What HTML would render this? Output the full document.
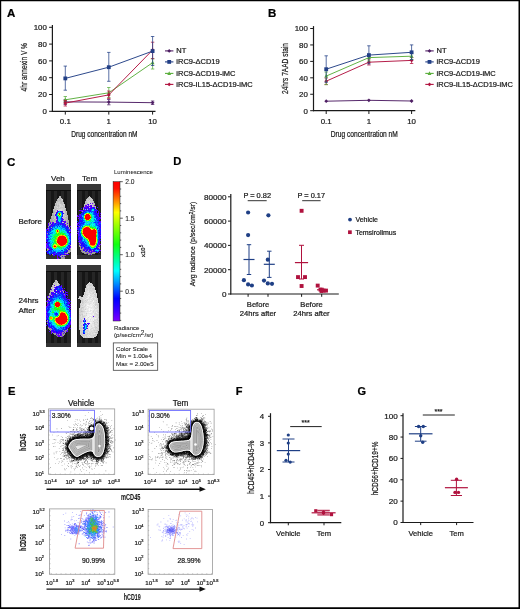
<!DOCTYPE html>
<html><head><meta charset="utf-8"><style>
html,body{margin:0;padding:0;background:#fff;}
svg{display:block;font-family:"Liberation Sans", sans-serif;will-change:transform;}
</style></head><body>
<svg width="520" height="609" viewBox="0 0 520 609">
<defs>
<filter id="bl1" x="-50%" y="-50%" width="200%" height="200%"><feGaussianBlur stdDeviation="0.7"/></filter>
<filter id="bl2" x="-50%" y="-50%" width="200%" height="200%"><feGaussianBlur stdDeviation="1.2"/></filter>
<linearGradient id="cbar" x1="0" y1="0" x2="0" y2="1">
 <stop offset="0" stop-color="#ff0000"/>
 <stop offset="0.05" stop-color="#ff1000"/>
 <stop offset="0.12" stop-color="#ff7000"/>
 <stop offset="0.22" stop-color="#ffff00"/>
 <stop offset="0.31" stop-color="#a0ff00"/>
 <stop offset="0.45" stop-color="#10ff10"/>
 <stop offset="0.55" stop-color="#00ff90"/>
 <stop offset="0.64" stop-color="#00ffff"/>
 <stop offset="0.73" stop-color="#0090ff"/>
 <stop offset="0.84" stop-color="#0000ff"/>
 <stop offset="0.93" stop-color="#4000ff"/>
 <stop offset="1" stop-color="#8000ff"/>
</linearGradient>
<linearGradient id="mgray" x1="0" y1="0" x2="1" y2="0">
 <stop offset="0" stop-color="#9a9a9a"/><stop offset="0.5" stop-color="#d0d0d0"/><stop offset="1" stop-color="#a0a0a0"/>
</linearGradient>
<filter id="mblur" x="-5%" y="-5%" width="110%" height="110%"><feGaussianBlur stdDeviation="0.45"/></filter><filter id="bl3" x="-30%" y="-30%" width="160%" height="160%"><feGaussianBlur stdDeviation="1.3"/></filter></defs>
<rect width="520" height="609" fill="#fff"/>
<text x="7.00" y="17.00" font-size="11.5" text-anchor="start" fill="#000" stroke="#000" stroke-width="0.22" font-weight="bold" >A</text>
<line x1="52.40" y1="24.90" x2="52.40" y2="111.80" stroke="#1a1a1a" stroke-width="1.2"/>
<line x1="51.80" y1="111.30" x2="155.50" y2="111.30" stroke="#1a1a1a" stroke-width="1.2"/>
<line x1="49.10" y1="111.30" x2="52.40" y2="111.30" stroke="#1a1a1a" stroke-width="1"/>
<text x="46.80" y="114.10" font-size="7.9" text-anchor="end" fill="#1a1a1a" stroke="#1a1a1a" stroke-width="0.22" >0</text>
<line x1="49.10" y1="94.50" x2="52.40" y2="94.50" stroke="#1a1a1a" stroke-width="1"/>
<text x="46.80" y="97.30" font-size="7.9" text-anchor="end" fill="#1a1a1a" stroke="#1a1a1a" stroke-width="0.22" >20</text>
<line x1="49.10" y1="77.70" x2="52.40" y2="77.70" stroke="#1a1a1a" stroke-width="1"/>
<text x="46.80" y="80.50" font-size="7.9" text-anchor="end" fill="#1a1a1a" stroke="#1a1a1a" stroke-width="0.22" >40</text>
<line x1="49.10" y1="60.90" x2="52.40" y2="60.90" stroke="#1a1a1a" stroke-width="1"/>
<text x="46.80" y="63.70" font-size="7.9" text-anchor="end" fill="#1a1a1a" stroke="#1a1a1a" stroke-width="0.22" >60</text>
<line x1="49.10" y1="44.10" x2="52.40" y2="44.10" stroke="#1a1a1a" stroke-width="1"/>
<text x="46.80" y="46.90" font-size="7.9" text-anchor="end" fill="#1a1a1a" stroke="#1a1a1a" stroke-width="0.22" >80</text>
<line x1="49.10" y1="27.30" x2="52.40" y2="27.30" stroke="#1a1a1a" stroke-width="1"/>
<text x="46.80" y="30.10" font-size="7.9" text-anchor="end" fill="#1a1a1a" stroke="#1a1a1a" stroke-width="0.22" >100</text>
<line x1="65.30" y1="111.30" x2="65.30" y2="114.60" stroke="#1a1a1a" stroke-width="1"/>
<text x="65.30" y="124.30" font-size="7.9" text-anchor="middle" fill="#1a1a1a" stroke="#1a1a1a" stroke-width="0.22" >0.1</text>
<line x1="108.80" y1="111.30" x2="108.80" y2="114.60" stroke="#1a1a1a" stroke-width="1"/>
<text x="108.80" y="124.30" font-size="7.9" text-anchor="middle" fill="#1a1a1a" stroke="#1a1a1a" stroke-width="0.22" >1</text>
<line x1="152.60" y1="111.30" x2="152.60" y2="114.60" stroke="#1a1a1a" stroke-width="1"/>
<text x="152.60" y="124.30" font-size="7.9" text-anchor="middle" fill="#1a1a1a" stroke="#1a1a1a" stroke-width="0.22" >10</text>
<text x="71.30" y="137.10" font-size="8.4" text-anchor="start" fill="#1a1a1a" stroke="#1a1a1a" stroke-width="0.22" textLength="66.2" lengthAdjust="spacingAndGlyphs" >Drug concentration nM</text>
<text x="26.70" y="91.40" font-size="9.0" text-anchor="start" fill="#1a1a1a" stroke="#1a1a1a" stroke-width="0.22" textLength="48.4" lengthAdjust="spacingAndGlyphs" transform="rotate(-90 26.70 91.40)" >4hr annexin V %</text>
<line x1="65.30" y1="99.50" x2="65.30" y2="104.50" stroke="#4e1e64" stroke-width="0.75"/>
<line x1="63.60" y1="99.50" x2="67.00" y2="99.50" stroke="#4e1e64" stroke-width="0.75"/>
<line x1="63.60" y1="104.50" x2="67.00" y2="104.50" stroke="#4e1e64" stroke-width="0.75"/>
<line x1="108.80" y1="99.50" x2="108.80" y2="104.80" stroke="#4e1e64" stroke-width="0.75"/>
<line x1="107.10" y1="99.50" x2="110.50" y2="99.50" stroke="#4e1e64" stroke-width="0.75"/>
<line x1="107.10" y1="104.80" x2="110.50" y2="104.80" stroke="#4e1e64" stroke-width="0.75"/>
<line x1="152.60" y1="101.00" x2="152.60" y2="104.50" stroke="#4e1e64" stroke-width="0.75"/>
<line x1="150.90" y1="101.00" x2="154.30" y2="101.00" stroke="#4e1e64" stroke-width="0.75"/>
<line x1="150.90" y1="104.50" x2="154.30" y2="104.50" stroke="#4e1e64" stroke-width="0.75"/>
<polyline points="65.30,101.90 108.80,102.10 152.60,102.70" stroke="#4e1e64" stroke-width="0.95" fill="none" />
<polygon points="65.30,100.00 67.20,101.90 65.30,103.80 63.40,101.90" fill="#4e1e64"/>
<polygon points="108.80,100.20 110.70,102.10 108.80,104.00 106.90,102.10" fill="#4e1e64"/>
<polygon points="152.60,100.80 154.50,102.70 152.60,104.60 150.70,102.70" fill="#4e1e64"/>
<line x1="65.30" y1="96.50" x2="65.30" y2="103.00" stroke="#5aae3c" stroke-width="0.75"/>
<line x1="63.60" y1="96.50" x2="67.00" y2="96.50" stroke="#5aae3c" stroke-width="0.75"/>
<line x1="63.60" y1="103.00" x2="67.00" y2="103.00" stroke="#5aae3c" stroke-width="0.75"/>
<line x1="108.80" y1="87.50" x2="108.80" y2="97.50" stroke="#5aae3c" stroke-width="0.75"/>
<line x1="107.10" y1="87.50" x2="110.50" y2="87.50" stroke="#5aae3c" stroke-width="0.75"/>
<line x1="107.10" y1="97.50" x2="110.50" y2="97.50" stroke="#5aae3c" stroke-width="0.75"/>
<line x1="152.60" y1="58.70" x2="152.60" y2="69.00" stroke="#5aae3c" stroke-width="0.75"/>
<line x1="150.90" y1="58.70" x2="154.30" y2="58.70" stroke="#5aae3c" stroke-width="0.75"/>
<line x1="150.90" y1="69.00" x2="154.30" y2="69.00" stroke="#5aae3c" stroke-width="0.75"/>
<polyline points="65.30,99.80 108.80,92.80 152.60,62.70" stroke="#5aae3c" stroke-width="0.95" fill="none" />
<polygon points="65.30,97.71 67.20,101.32 63.40,101.32" fill="#5aae3c"/>
<polygon points="108.80,90.71 110.70,94.32 106.90,94.32" fill="#5aae3c"/>
<polygon points="152.60,60.61 154.50,64.22 150.70,64.22" fill="#5aae3c"/>
<line x1="65.30" y1="100.50" x2="65.30" y2="106.00" stroke="#b1123f" stroke-width="0.75"/>
<line x1="63.60" y1="100.50" x2="67.00" y2="100.50" stroke="#b1123f" stroke-width="0.75"/>
<line x1="63.60" y1="106.00" x2="67.00" y2="106.00" stroke="#b1123f" stroke-width="0.75"/>
<line x1="108.80" y1="91.00" x2="108.80" y2="98.50" stroke="#b1123f" stroke-width="0.75"/>
<line x1="107.10" y1="91.00" x2="110.50" y2="91.00" stroke="#b1123f" stroke-width="0.75"/>
<line x1="107.10" y1="98.50" x2="110.50" y2="98.50" stroke="#b1123f" stroke-width="0.75"/>
<line x1="152.60" y1="42.20" x2="152.60" y2="58.70" stroke="#b1123f" stroke-width="0.75"/>
<line x1="150.90" y1="42.20" x2="154.30" y2="42.20" stroke="#b1123f" stroke-width="0.75"/>
<line x1="150.90" y1="58.70" x2="154.30" y2="58.70" stroke="#b1123f" stroke-width="0.75"/>
<polyline points="65.30,103.10 108.80,94.90 152.60,50.00" stroke="#b1123f" stroke-width="0.95" fill="none" />
<polygon points="65.30,101.20 67.20,103.10 65.30,105.00 63.40,103.10" fill="#b1123f"/>
<polygon points="108.80,93.00 110.70,94.90 108.80,96.80 106.90,94.90" fill="#b1123f"/>
<polygon points="152.60,48.10 154.50,50.00 152.60,51.90 150.70,50.00" fill="#b1123f"/>
<line x1="65.30" y1="66.10" x2="65.30" y2="90.20" stroke="#223f86" stroke-width="0.75"/>
<line x1="63.60" y1="66.10" x2="67.00" y2="66.10" stroke="#223f86" stroke-width="0.75"/>
<line x1="63.60" y1="90.20" x2="67.00" y2="90.20" stroke="#223f86" stroke-width="0.75"/>
<line x1="108.80" y1="52.40" x2="108.80" y2="81.30" stroke="#223f86" stroke-width="0.75"/>
<line x1="107.10" y1="52.40" x2="110.50" y2="52.40" stroke="#223f86" stroke-width="0.75"/>
<line x1="107.10" y1="81.30" x2="110.50" y2="81.30" stroke="#223f86" stroke-width="0.75"/>
<line x1="152.60" y1="36.50" x2="152.60" y2="65.50" stroke="#223f86" stroke-width="0.75"/>
<line x1="150.90" y1="36.50" x2="154.30" y2="36.50" stroke="#223f86" stroke-width="0.75"/>
<line x1="150.90" y1="65.50" x2="154.30" y2="65.50" stroke="#223f86" stroke-width="0.75"/>
<polyline points="65.30,78.40 108.80,67.20 152.60,51.10" stroke="#223f86" stroke-width="0.95" fill="none" />
<rect x="63.40" y="76.50" width="3.80" height="3.80" fill="#223f86"/>
<rect x="106.90" y="65.30" width="3.80" height="3.80" fill="#223f86"/>
<rect x="150.70" y="49.20" width="3.80" height="3.80" fill="#223f86"/>
<line x1="165.00" y1="50.90" x2="173.40" y2="50.90" stroke="#4e1e64" stroke-width="1.1"/>
<polygon points="169.20,49.00 171.10,50.90 169.20,52.80 167.30,50.90" fill="#4e1e64"/>
<text x="176.30" y="53.10" font-size="7.5" text-anchor="start" fill="#1a1a1a" stroke="#1a1a1a" stroke-width="0.22" >NT</text>
<line x1="165.00" y1="61.90" x2="173.40" y2="61.90" stroke="#223f86" stroke-width="1.1"/>
<rect x="167.30" y="60.00" width="3.80" height="3.80" fill="#223f86"/>
<text x="176.30" y="64.10" font-size="7.5" text-anchor="start" fill="#1a1a1a" stroke="#1a1a1a" stroke-width="0.22" >iRC9-ΔCD19</text>
<line x1="165.00" y1="73.40" x2="173.40" y2="73.40" stroke="#5aae3c" stroke-width="1.1"/>
<polygon points="169.20,71.31 171.10,74.92 167.30,74.92" fill="#5aae3c"/>
<text x="176.30" y="75.60" font-size="7.5" text-anchor="start" fill="#1a1a1a" stroke="#1a1a1a" stroke-width="0.22" >iRC9-ΔCD19-iMC</text>
<line x1="165.00" y1="84.40" x2="173.40" y2="84.40" stroke="#b1123f" stroke-width="1.1"/>
<polygon points="169.20,82.50 171.10,84.40 169.20,86.30 167.30,84.40" fill="#b1123f"/>
<text x="176.30" y="86.60" font-size="7.5" text-anchor="start" fill="#1a1a1a" stroke="#1a1a1a" stroke-width="0.22" >iRC9-IL15-ΔCD19-iMC</text>
<text x="267.90" y="17.00" font-size="11.5" text-anchor="start" fill="#000" stroke="#000" stroke-width="0.22" font-weight="bold" >B</text>
<line x1="313.50" y1="26.10" x2="313.50" y2="111.20" stroke="#1a1a1a" stroke-width="1.2"/>
<line x1="312.90" y1="110.70" x2="415.30" y2="110.70" stroke="#1a1a1a" stroke-width="1.2"/>
<line x1="310.20" y1="110.70" x2="313.50" y2="110.70" stroke="#1a1a1a" stroke-width="1"/>
<text x="307.90" y="113.50" font-size="7.9" text-anchor="end" fill="#1a1a1a" stroke="#1a1a1a" stroke-width="0.22" >0</text>
<line x1="310.20" y1="94.26" x2="313.50" y2="94.26" stroke="#1a1a1a" stroke-width="1"/>
<text x="307.90" y="97.06" font-size="7.9" text-anchor="end" fill="#1a1a1a" stroke="#1a1a1a" stroke-width="0.22" >20</text>
<line x1="310.20" y1="77.82" x2="313.50" y2="77.82" stroke="#1a1a1a" stroke-width="1"/>
<text x="307.90" y="80.62" font-size="7.9" text-anchor="end" fill="#1a1a1a" stroke="#1a1a1a" stroke-width="0.22" >40</text>
<line x1="310.20" y1="61.38" x2="313.50" y2="61.38" stroke="#1a1a1a" stroke-width="1"/>
<text x="307.90" y="64.18" font-size="7.9" text-anchor="end" fill="#1a1a1a" stroke="#1a1a1a" stroke-width="0.22" >60</text>
<line x1="310.20" y1="44.94" x2="313.50" y2="44.94" stroke="#1a1a1a" stroke-width="1"/>
<text x="307.90" y="47.74" font-size="7.9" text-anchor="end" fill="#1a1a1a" stroke="#1a1a1a" stroke-width="0.22" >80</text>
<line x1="310.20" y1="28.50" x2="313.50" y2="28.50" stroke="#1a1a1a" stroke-width="1"/>
<text x="307.90" y="31.30" font-size="7.9" text-anchor="end" fill="#1a1a1a" stroke="#1a1a1a" stroke-width="0.22" >100</text>
<line x1="326.20" y1="110.70" x2="326.20" y2="114.00" stroke="#1a1a1a" stroke-width="1"/>
<text x="326.20" y="123.70" font-size="7.9" text-anchor="middle" fill="#1a1a1a" stroke="#1a1a1a" stroke-width="0.22" >0.1</text>
<line x1="368.90" y1="110.70" x2="368.90" y2="114.00" stroke="#1a1a1a" stroke-width="1"/>
<text x="368.90" y="123.70" font-size="7.9" text-anchor="middle" fill="#1a1a1a" stroke="#1a1a1a" stroke-width="0.22" >1</text>
<line x1="411.60" y1="110.70" x2="411.60" y2="114.00" stroke="#1a1a1a" stroke-width="1"/>
<text x="411.60" y="123.70" font-size="7.9" text-anchor="middle" fill="#1a1a1a" stroke="#1a1a1a" stroke-width="0.22" >10</text>
<text x="330.80" y="136.50" font-size="8.4" text-anchor="start" fill="#1a1a1a" stroke="#1a1a1a" stroke-width="0.22" textLength="67.0" lengthAdjust="spacingAndGlyphs" >Drug concentration nM</text>
<text x="288.30" y="94.00" font-size="9.6" text-anchor="start" fill="#1a1a1a" stroke="#1a1a1a" stroke-width="0.22" textLength="51" lengthAdjust="spacingAndGlyphs" transform="rotate(-90 288.30 94.00)" >24hrs 7AAD stain</text>
<polyline points="326.20,101.20 368.90,100.30 411.60,101.00" stroke="#4e1e64" stroke-width="0.95" fill="none" />
<polygon points="326.20,99.30 328.10,101.20 326.20,103.10 324.30,101.20" fill="#4e1e64"/>
<polygon points="368.90,98.40 370.80,100.30 368.90,102.20 367.00,100.30" fill="#4e1e64"/>
<polygon points="411.60,99.10 413.50,101.00 411.60,102.90 409.70,101.00" fill="#4e1e64"/>
<line x1="326.20" y1="78.00" x2="326.20" y2="84.60" stroke="#b1123f" stroke-width="0.75"/>
<line x1="324.50" y1="78.00" x2="327.90" y2="78.00" stroke="#b1123f" stroke-width="0.75"/>
<line x1="324.50" y1="84.60" x2="327.90" y2="84.60" stroke="#b1123f" stroke-width="0.75"/>
<line x1="368.90" y1="59.00" x2="368.90" y2="65.00" stroke="#b1123f" stroke-width="0.75"/>
<line x1="367.20" y1="59.00" x2="370.60" y2="59.00" stroke="#b1123f" stroke-width="0.75"/>
<line x1="367.20" y1="65.00" x2="370.60" y2="65.00" stroke="#b1123f" stroke-width="0.75"/>
<line x1="411.60" y1="57.50" x2="411.60" y2="63.50" stroke="#b1123f" stroke-width="0.75"/>
<line x1="409.90" y1="57.50" x2="413.30" y2="57.50" stroke="#b1123f" stroke-width="0.75"/>
<line x1="409.90" y1="63.50" x2="413.30" y2="63.50" stroke="#b1123f" stroke-width="0.75"/>
<polyline points="326.20,81.20 368.90,62.20 411.60,60.40" stroke="#b1123f" stroke-width="0.95" fill="none" />
<polygon points="326.20,79.30 328.10,81.20 326.20,83.10 324.30,81.20" fill="#b1123f"/>
<polygon points="368.90,60.30 370.80,62.20 368.90,64.10 367.00,62.20" fill="#b1123f"/>
<polygon points="411.60,58.50 413.50,60.40 411.60,62.30 409.70,60.40" fill="#b1123f"/>
<line x1="326.20" y1="72.00" x2="326.20" y2="84.60" stroke="#5aae3c" stroke-width="0.75"/>
<line x1="324.50" y1="72.00" x2="327.90" y2="72.00" stroke="#5aae3c" stroke-width="0.75"/>
<line x1="324.50" y1="84.60" x2="327.90" y2="84.60" stroke="#5aae3c" stroke-width="0.75"/>
<line x1="368.90" y1="54.50" x2="368.90" y2="61.00" stroke="#5aae3c" stroke-width="0.75"/>
<line x1="367.20" y1="54.50" x2="370.60" y2="54.50" stroke="#5aae3c" stroke-width="0.75"/>
<line x1="367.20" y1="61.00" x2="370.60" y2="61.00" stroke="#5aae3c" stroke-width="0.75"/>
<line x1="411.60" y1="53.00" x2="411.60" y2="59.50" stroke="#5aae3c" stroke-width="0.75"/>
<line x1="409.90" y1="53.00" x2="413.30" y2="53.00" stroke="#5aae3c" stroke-width="0.75"/>
<line x1="409.90" y1="59.50" x2="413.30" y2="59.50" stroke="#5aae3c" stroke-width="0.75"/>
<polyline points="326.20,76.10 368.90,57.60 411.60,56.20" stroke="#5aae3c" stroke-width="0.95" fill="none" />
<polygon points="326.20,74.01 328.10,77.62 324.30,77.62" fill="#5aae3c"/>
<polygon points="368.90,55.51 370.80,59.12 367.00,59.12" fill="#5aae3c"/>
<polygon points="411.60,54.11 413.50,57.72 409.70,57.72" fill="#5aae3c"/>
<line x1="326.20" y1="55.80" x2="326.20" y2="82.30" stroke="#223f86" stroke-width="0.75"/>
<line x1="324.50" y1="55.80" x2="327.90" y2="55.80" stroke="#223f86" stroke-width="0.75"/>
<line x1="324.50" y1="82.30" x2="327.90" y2="82.30" stroke="#223f86" stroke-width="0.75"/>
<line x1="368.90" y1="45.80" x2="368.90" y2="63.80" stroke="#223f86" stroke-width="0.75"/>
<line x1="367.20" y1="45.80" x2="370.60" y2="45.80" stroke="#223f86" stroke-width="0.75"/>
<line x1="367.20" y1="63.80" x2="370.60" y2="63.80" stroke="#223f86" stroke-width="0.75"/>
<line x1="411.60" y1="44.90" x2="411.60" y2="59.70" stroke="#223f86" stroke-width="0.75"/>
<line x1="409.90" y1="44.90" x2="413.30" y2="44.90" stroke="#223f86" stroke-width="0.75"/>
<line x1="409.90" y1="59.70" x2="413.30" y2="59.70" stroke="#223f86" stroke-width="0.75"/>
<polyline points="326.20,69.20 368.90,55.10 411.60,52.30" stroke="#223f86" stroke-width="0.95" fill="none" />
<rect x="324.30" y="67.30" width="3.80" height="3.80" fill="#223f86"/>
<rect x="367.00" y="53.20" width="3.80" height="3.80" fill="#223f86"/>
<rect x="409.70" y="50.40" width="3.80" height="3.80" fill="#223f86"/>
<line x1="425.30" y1="50.90" x2="433.70" y2="50.90" stroke="#4e1e64" stroke-width="1.1"/>
<polygon points="429.50,49.00 431.40,50.90 429.50,52.80 427.60,50.90" fill="#4e1e64"/>
<text x="436.60" y="53.10" font-size="7.5" text-anchor="start" fill="#1a1a1a" stroke="#1a1a1a" stroke-width="0.22" >NT</text>
<line x1="425.30" y1="61.90" x2="433.70" y2="61.90" stroke="#223f86" stroke-width="1.1"/>
<rect x="427.60" y="60.00" width="3.80" height="3.80" fill="#223f86"/>
<text x="436.60" y="64.10" font-size="7.5" text-anchor="start" fill="#1a1a1a" stroke="#1a1a1a" stroke-width="0.22" >iRC9-ΔCD19</text>
<line x1="425.30" y1="73.40" x2="433.70" y2="73.40" stroke="#5aae3c" stroke-width="1.1"/>
<polygon points="429.50,71.31 431.40,74.92 427.60,74.92" fill="#5aae3c"/>
<text x="436.60" y="75.60" font-size="7.5" text-anchor="start" fill="#1a1a1a" stroke="#1a1a1a" stroke-width="0.22" >iRC9-ΔCD19-iMC</text>
<line x1="425.30" y1="84.40" x2="433.70" y2="84.40" stroke="#b1123f" stroke-width="1.1"/>
<polygon points="429.50,82.50 431.40,84.40 429.50,86.30 427.60,84.40" fill="#b1123f"/>
<text x="436.60" y="86.60" font-size="7.5" text-anchor="start" fill="#1a1a1a" stroke="#1a1a1a" stroke-width="0.22" >iRC9-IL15-ΔCD19-iMC</text>
<path d="M0,0H520V609H0Z M1.2,1.2V607.2H518.5V1.2Z" fill="#000" fill-rule="evenodd"/>
<text x="7.00" y="166.20" font-size="11.5" text-anchor="start" fill="#000" stroke="#000" stroke-width="0.22" font-weight="bold" >C</text>
<text x="57.90" y="181.20" font-size="8" text-anchor="middle" fill="#1a1a1a" stroke="#1a1a1a" stroke-width="0.22" >Veh</text>
<text x="89.60" y="181.20" font-size="8" text-anchor="middle" fill="#1a1a1a" stroke="#1a1a1a" stroke-width="0.22" >Tem</text>
<text x="18.40" y="224.00" font-size="8" text-anchor="start" fill="#1a1a1a" stroke="#1a1a1a" stroke-width="0.22" >Before</text>
<text x="18.60" y="303.10" font-size="8" text-anchor="start" fill="#1a1a1a" stroke="#1a1a1a" stroke-width="0.22" >24hrs</text>
<text x="18.40" y="312.70" font-size="8" text-anchor="start" fill="#1a1a1a" stroke="#1a1a1a" stroke-width="0.22" >After</text>
<g filter="url(#mblur)" shape-rendering="crispEdges">
<path fill="#383838" d="M46,184h25v1h-25zM46,185h25v1h-25zM46,186h25v1h-25zM46,187h25v1h-25zM46,188h25v1h-25zM46,189h25v1h-25z"/>
<path fill="#101010" d="M46,190h25v1h-25z"/>
<path fill="#181818" d="M46,191h1v1h-1zM51,191h3v1h-3zM57,191h4v1h-4zM64,191h3v1h-3zM46,192h1v1h-1zM51,192h3v1h-3zM57,192h4v1h-4zM64,192h3v1h-3zM46,193h1v1h-1zM51,193h3v1h-3zM57,193h4v1h-4zM64,193h3v1h-3zM46,194h1v1h-1zM51,194h3v1h-3zM57,194h4v1h-4zM64,194h3v1h-3zM46,195h1v1h-1zM51,195h3v1h-3zM57,195h4v1h-4zM64,195h3v1h-3zM46,196h1v1h-1zM51,196h3v1h-3zM57,196h2v1h-2zM64,196h3v1h-3zM46,197h1v1h-1zM51,197h3v1h-3zM57,197h2v1h-2zM64,197h3v1h-3zM46,198h1v1h-1zM51,198h3v1h-3zM57,198h1v1h-1zM64,198h3v1h-3zM46,199h1v1h-1zM51,199h3v1h-3zM64,199h3v1h-3zM46,200h1v1h-1zM51,200h3v1h-3zM64,200h3v1h-3zM46,201h1v1h-1zM51,201h3v1h-3zM64,201h3v1h-3zM46,202h1v1h-1zM51,202h3v1h-3zM64,202h3v1h-3zM46,203h1v1h-1zM51,203h3v1h-3zM64,203h3v1h-3zM46,204h1v1h-1zM51,204h3v1h-3zM65,204h2v1h-2zM46,205h1v1h-1zM51,205h3v1h-3zM65,205h2v1h-2zM46,206h1v1h-1zM51,206h3v1h-3zM65,206h2v1h-2zM46,207h1v1h-1zM51,207h3v1h-3zM65,207h2v1h-2zM46,208h1v1h-1zM51,208h3v1h-3zM66,208h1v1h-1zM46,209h1v1h-1zM51,209h2v1h-2zM66,209h1v1h-1zM46,210h1v1h-1zM51,210h2v1h-2zM66,210h1v1h-1zM46,211h1v1h-1zM51,211h2v1h-2zM46,212h1v1h-1zM51,212h2v1h-2zM46,213h1v1h-1zM51,213h1v1h-1zM46,214h1v1h-1zM51,214h1v1h-1zM46,215h1v1h-1zM51,215h1v1h-1zM46,216h1v1h-1zM46,217h1v1h-1zM46,218h1v1h-1zM46,219h1v1h-1zM46,220h1v1h-1zM46,221h1v1h-1zM46,222h1v1h-1zM46,223h1v1h-1zM46,224h1v1h-1zM46,225h1v1h-1zM46,226h1v1h-1zM46,227h1v1h-1zM46,228h1v1h-1zM46,242h1v1h-1zM46,249h1v1h-1zM46,250h1v1h-1zM46,252h1v1h-1zM46,253h1v1h-1zM46,254h1v1h-1zM51,254h1v1h-1z"/>
<path fill="#282828" d="M47,191h4v1h-4zM54,191h3v1h-3zM61,191h3v1h-3zM67,191h4v1h-4zM47,192h4v1h-4zM54,192h3v1h-3zM61,192h3v1h-3zM67,192h4v1h-4zM47,193h4v1h-4zM54,193h3v1h-3zM61,193h3v1h-3zM67,193h4v1h-4zM47,194h4v1h-4zM54,194h3v1h-3zM61,194h3v1h-3zM67,194h4v1h-4zM47,195h4v1h-4zM54,195h3v1h-3zM61,195h3v1h-3zM67,195h4v1h-4zM47,196h4v1h-4zM54,196h3v1h-3zM61,196h3v1h-3zM67,196h4v1h-4zM47,197h4v1h-4zM54,197h3v1h-3zM61,197h3v1h-3zM67,197h4v1h-4zM47,198h4v1h-4zM54,198h3v1h-3zM62,198h2v1h-2zM67,198h4v1h-4zM47,199h4v1h-4zM54,199h3v1h-3zM63,199h1v1h-1zM67,199h4v1h-4zM47,200h4v1h-4zM54,200h3v1h-3zM63,200h1v1h-1zM67,200h4v1h-4zM47,201h4v1h-4zM54,201h2v1h-2zM63,201h1v1h-1zM67,201h4v1h-4zM47,202h4v1h-4zM54,202h2v1h-2zM67,202h4v1h-4zM47,203h4v1h-4zM54,203h1v1h-1zM67,203h4v1h-4zM47,204h4v1h-4zM54,204h1v1h-1zM67,204h4v1h-4zM47,205h4v1h-4zM54,205h1v1h-1zM67,205h4v1h-4zM47,206h4v1h-4zM67,206h4v1h-4zM47,207h4v1h-4zM67,207h4v1h-4zM47,208h4v1h-4zM67,208h4v1h-4zM47,209h4v1h-4zM67,209h4v1h-4zM47,210h4v1h-4zM67,210h4v1h-4zM47,211h4v1h-4zM67,211h4v1h-4zM47,212h4v1h-4zM67,212h4v1h-4zM47,213h4v1h-4zM67,213h4v1h-4zM47,214h4v1h-4zM67,214h4v1h-4zM47,215h4v1h-4zM68,215h3v1h-3zM47,216h4v1h-4zM68,216h3v1h-3zM47,217h4v1h-4zM68,217h3v1h-3zM47,218h4v1h-4zM68,218h3v1h-3zM47,219h3v1h-3zM68,219h3v1h-3zM47,220h3v1h-3zM69,220h2v1h-2zM47,221h3v1h-3zM69,221h2v1h-2zM47,222h2v1h-2zM69,222h2v1h-2zM47,223h1v1h-1zM69,223h2v1h-2zM47,224h1v1h-1zM69,224h2v1h-2zM47,225h1v1h-1zM69,225h2v1h-2zM47,226h1v1h-1zM69,226h1v1h-1zM47,227h1v1h-1zM70,227h1v1h-1zM70,228h1v1h-1zM47,230h1v1h-1zM70,232h1v1h-1zM70,252h1v1h-1zM68,253h3v1h-3zM47,254h2v1h-2zM69,254h2v1h-2z"/>
<path fill="#b0b0b0" d="M59,196h2v1h-2zM57,200h1v1h-1zM65,209h1v1h-1zM65,210h1v1h-1zM53,211h1v1h-1zM52,213h1v1h-1zM52,214h2v1h-2zM52,215h1v1h-1zM66,215h1v1h-1zM53,216h1v1h-1zM67,216h1v1h-1zM51,217h1v1h-1zM53,217h1v1h-1zM66,217h1v1h-1zM67,218h1v1h-1zM50,219h1v1h-1zM52,219h1v1h-1zM54,219h1v1h-1zM50,220h1v1h-1zM52,220h2v1h-2zM66,221h1v1h-1zM66,222h1v1h-1zM67,224h2v1h-2zM68,226h1v1h-1zM69,231h1v1h-1zM70,251h1v1h-1zM67,253h1v1h-1z"/>
<path fill="#c0c0c0" d="M59,197h2v1h-2zM60,198h1v1h-1zM58,199h2v1h-2zM58,200h1v1h-1zM58,201h1v1h-1zM60,201h1v1h-1zM62,201h1v1h-1zM60,202h1v1h-1zM55,203h2v1h-2zM60,203h4v1h-4zM55,204h1v1h-1zM62,204h1v1h-1zM64,204h1v1h-1zM55,205h1v1h-1zM63,205h1v1h-1zM58,206h1v1h-1zM64,206h1v1h-1zM55,207h1v1h-1zM64,207h1v1h-1zM54,208h1v1h-1zM56,208h1v1h-1zM53,209h1v1h-1zM54,210h2v1h-2zM64,210h1v1h-1zM66,211h1v1h-1zM54,213h1v1h-1zM64,213h2v1h-2zM65,214h2v1h-2zM54,215h1v1h-1zM65,215h1v1h-1zM52,216h1v1h-1zM64,216h1v1h-1zM66,216h1v1h-1zM54,217h1v1h-1zM63,217h1v1h-1zM55,218h1v1h-1zM64,218h2v1h-2zM53,219h1v1h-1zM56,219h1v1h-1zM64,220h1v1h-1zM55,222h1v1h-1zM63,222h1v1h-1z"/>
<path fill="#c8c8c8" d="M58,198h1v1h-1zM61,199h1v1h-1zM61,200h2v1h-2zM59,201h1v1h-1zM56,202h2v1h-2zM62,202h1v1h-1zM58,203h1v1h-1zM58,204h1v1h-1zM61,204h1v1h-1zM57,205h1v1h-1zM64,205h1v1h-1zM55,206h1v1h-1zM57,206h1v1h-1zM63,206h1v1h-1zM54,207h1v1h-1zM56,207h1v1h-1zM58,207h1v1h-1zM60,207h4v1h-4zM55,208h1v1h-1zM57,208h4v1h-4zM63,208h1v1h-1zM65,208h1v1h-1zM54,209h1v1h-1zM56,209h1v1h-1zM64,209h1v1h-1zM56,210h1v1h-1zM62,210h2v1h-2zM55,211h1v1h-1zM55,213h1v1h-1zM54,214h1v1h-1zM64,214h1v1h-1zM64,215h1v1h-1zM55,216h1v1h-1zM55,217h1v1h-1zM64,217h1v1h-1zM54,218h1v1h-1zM63,218h1v1h-1zM64,219h1v1h-1z"/>
<path fill="#b8b8b8" d="M59,198h1v1h-1zM61,198h1v1h-1zM57,199h1v1h-1zM60,199h1v1h-1zM59,200h2v1h-2zM56,201h2v1h-2zM61,201h1v1h-1zM61,202h1v1h-1zM63,202h1v1h-1zM56,204h1v1h-1zM56,205h1v1h-1zM58,205h1v1h-1zM54,206h1v1h-1zM55,209h1v1h-1zM53,210h1v1h-1zM54,211h1v1h-1zM65,211h1v1h-1zM54,212h2v1h-2zM65,212h2v1h-2zM53,213h1v1h-1zM66,213h1v1h-1zM67,215h1v1h-1zM51,216h1v1h-1zM54,216h1v1h-1zM52,217h1v1h-1zM65,217h1v1h-1zM67,217h1v1h-1zM52,218h1v1h-1zM66,218h1v1h-1zM55,219h1v1h-1zM65,219h3v1h-3zM54,220h2v1h-2zM63,220h1v1h-1zM66,220h1v1h-1zM53,221h2v1h-2zM54,222h1v1h-1zM65,223h1v1h-1zM66,225h1v1h-1z"/>
<path fill="#d0d0d0" d="M62,199h1v1h-1zM58,202h2v1h-2zM57,203h1v1h-1zM59,203h1v1h-1zM57,204h1v1h-1zM59,205h1v1h-1zM61,205h2v1h-2zM56,206h1v1h-1zM59,206h1v1h-1zM61,206h1v1h-1zM61,208h2v1h-2zM64,208h1v1h-1zM58,209h1v1h-1zM62,209h2v1h-2zM59,210h1v1h-1zM56,211h1v1h-1zM63,211h2v1h-2zM63,212h2v1h-2zM63,215h1v1h-1zM63,216h1v1h-1zM65,216h1v1h-1zM62,217h1v1h-1zM62,222h1v1h-1z"/>
<path fill="#d8d8d8" d="M59,204h2v1h-2zM63,204h1v1h-1zM60,205h1v1h-1zM60,206h1v1h-1zM62,206h1v1h-1zM57,207h1v1h-1zM59,207h1v1h-1zM57,209h1v1h-1zM59,209h3v1h-3zM60,210h2v1h-2zM63,214h1v1h-1z"/>
<path fill="#7800ff" d="M57,210h1v1h-1zM56,218h1v1h-1zM63,219h1v1h-1zM62,221h1v1h-1zM50,222h1v1h-1zM48,223h1v1h-1zM67,225h1v1h-1zM47,228h1v1h-1zM48,229h1v1h-1zM48,230h1v1h-1zM46,243h1v1h-1zM46,244h1v1h-1zM47,245h1v1h-1zM46,247h1v1h-1zM70,247h1v1h-1zM48,248h1v1h-1zM69,248h1v1h-1zM64,253h1v1h-1zM67,254h1v1h-1zM57,258h2v1h-2z"/>
<path fill="#e8e8e8" d="M58,210h1v1h-1z"/>
<path fill="#6000ff" d="M57,211h1v1h-1zM56,212h1v1h-1zM55,214h1v1h-1zM56,217h1v1h-1zM56,220h1v1h-1zM64,221h2v1h-2zM52,222h2v1h-2zM56,222h1v1h-1zM64,223h1v1h-1zM53,224h1v1h-1zM61,224h1v1h-1zM64,224h1v1h-1zM48,225h1v1h-1zM50,225h1v1h-1zM66,226h1v1h-1zM70,226h1v1h-1zM48,227h1v1h-1zM68,228h1v1h-1zM47,229h1v1h-1zM69,229h2v1h-2zM46,230h1v1h-1zM70,231h1v1h-1zM47,234h1v1h-1zM70,234h1v1h-1zM47,236h1v1h-1zM46,238h1v1h-1zM47,242h1v1h-1zM46,246h2v1h-2zM68,246h1v1h-1zM70,246h1v1h-1zM49,247h1v1h-1zM49,249h1v1h-1zM69,249h1v1h-1zM54,253h1v1h-1zM57,253h1v1h-1zM53,254h1v1h-1zM65,254h1v1h-1zM59,255h1v1h-1zM57,256h1v1h-1zM64,256h1v1h-1zM57,257h1v1h-1z"/>
<path fill="#0030ff" d="M58,211h1v1h-1zM62,213h1v1h-1zM56,214h1v1h-1zM57,216h1v1h-1zM62,220h1v1h-1zM59,223h1v1h-1zM61,223h1v1h-1zM54,224h2v1h-2zM56,225h1v1h-1zM58,225h1v1h-1zM62,225h1v1h-1zM51,226h1v1h-1zM57,226h1v1h-1zM59,226h1v1h-1zM64,226h1v1h-1zM50,227h1v1h-1zM52,227h1v1h-1zM68,227h1v1h-1zM65,228h2v1h-2zM67,229h1v1h-1zM66,230h1v1h-1zM47,231h1v1h-1zM50,231h1v1h-1zM69,232h1v1h-1zM46,234h1v1h-1zM48,234h2v1h-2zM70,236h1v1h-1zM46,239h1v1h-1zM48,239h1v1h-1zM70,241h1v1h-1zM48,242h1v1h-1zM70,242h1v1h-1zM69,243h1v1h-1zM47,244h2v1h-2zM68,245h1v1h-1zM50,247h1v1h-1zM50,248h2v1h-2zM68,248h1v1h-1zM50,250h1v1h-1zM61,250h2v1h-2zM48,251h1v1h-1zM48,252h1v1h-1zM57,252h2v1h-2zM61,252h3v1h-3zM50,253h2v1h-2zM61,253h1v1h-1zM58,254h1v1h-1zM63,254h1v1h-1z"/>
<path fill="#0090ff" d="M59,211h1v1h-1zM57,213h1v1h-1zM60,218h1v1h-1zM60,219h1v1h-1zM60,227h1v1h-1zM63,229h3v1h-3zM66,231h1v1h-1zM49,233h1v1h-1zM48,236h1v1h-1zM50,236h2v1h-2zM49,237h1v1h-1zM50,238h1v1h-1zM50,239h1v1h-1zM48,241h1v1h-1zM52,242h1v1h-1zM51,243h1v1h-1zM50,244h1v1h-1zM49,245h2v1h-2zM67,246h1v1h-1zM62,251h1v1h-1z"/>
<path fill="#1818ff" d="M60,211h2v1h-2zM57,212h1v1h-1zM62,214h1v1h-1zM61,218h1v1h-1zM61,220h1v1h-1zM61,222h1v1h-1zM63,223h1v1h-1zM51,224h1v1h-1zM57,224h1v1h-1zM60,224h1v1h-1zM63,224h1v1h-1zM65,224h1v1h-1zM53,225h2v1h-2zM63,225h2v1h-2zM49,226h1v1h-1zM62,226h1v1h-1zM49,227h1v1h-1zM66,227h1v1h-1zM67,228h1v1h-1zM46,229h1v1h-1zM49,229h2v1h-2zM52,229h1v1h-1zM66,229h1v1h-1zM67,230h2v1h-2zM46,231h1v1h-1zM48,231h1v1h-1zM67,231h2v1h-2zM47,232h1v1h-1zM67,232h2v1h-2zM69,233h1v1h-1zM70,237h1v1h-1zM70,238h1v1h-1zM47,239h1v1h-1zM70,239h1v1h-1zM47,241h1v1h-1zM49,242h1v1h-1zM70,243h1v1h-1zM48,245h1v1h-1zM69,245h1v1h-1zM47,247h2v1h-2zM50,249h1v1h-1zM66,249h1v1h-1zM66,250h1v1h-1zM51,251h1v1h-1zM66,251h1v1h-1zM53,252h1v1h-1zM60,252h1v1h-1zM52,253h2v1h-2zM56,253h1v1h-1zM58,253h1v1h-1zM50,254h1v1h-1zM56,254h1v1h-1zM58,255h1v1h-1z"/>
<path fill="#4800ff" d="M62,211h1v1h-1zM62,218h1v1h-1zM62,219h1v1h-1zM64,222h2v1h-2zM53,223h1v1h-1zM56,223h1v1h-1zM58,223h1v1h-1zM67,223h1v1h-1zM51,225h2v1h-2zM65,225h1v1h-1zM65,226h1v1h-1zM70,230h1v1h-1zM46,233h1v1h-1zM70,235h1v1h-1zM46,236h1v1h-1zM46,237h1v1h-1zM46,241h1v1h-1zM46,245h1v1h-1zM46,251h1v1h-1zM55,252h1v1h-1zM64,252h1v1h-1zM47,253h1v1h-1zM61,254h2v1h-2zM66,254h1v1h-1zM68,254h1v1h-1zM53,255h2v1h-2zM57,255h1v1h-1zM60,255h1v1h-1z"/>
<path fill="#a8a8a8" d="M53,212h1v1h-1zM53,218h1v1h-1zM51,219h1v1h-1zM51,220h1v1h-1zM65,220h1v1h-1zM67,220h1v1h-1zM51,221h1v1h-1zM55,221h1v1h-1zM67,221h2v1h-2zM67,222h2v1h-2zM51,223h1v1h-1zM66,223h1v1h-1zM68,223h1v1h-1zM66,224h1v1h-1zM68,225h1v1h-1zM51,227h1v1h-1zM69,228h1v1h-1zM70,248h1v1h-1zM67,249h1v1h-1zM69,251h1v1h-1zM68,252h1v1h-1zM52,254h1v1h-1zM62,255h2v1h-2zM60,256h1v1h-1zM62,257h1v1h-1zM61,258h1v1h-1z"/>
<path fill="#00f0d8" d="M58,212h2v1h-2zM58,220h1v1h-1zM55,229h1v1h-1zM60,230h1v1h-1zM63,230h1v1h-1zM60,231h1v1h-1zM53,232h1v1h-1zM63,232h1v1h-1zM65,232h1v1h-1zM51,234h1v1h-1zM53,234h1v1h-1zM52,237h1v1h-1zM53,241h1v1h-1zM51,242h1v1h-1zM51,244h1v1h-1zM65,247h1v1h-1zM56,248h1v1h-1zM62,248h1v1h-1zM63,249h1v1h-1zM54,250h1v1h-1z"/>
<path fill="#00f0c0" d="M60,212h1v1h-1zM57,214h1v1h-1zM57,215h1v1h-1zM60,216h1v1h-1zM59,217h1v1h-1zM59,227h1v1h-1zM54,228h1v1h-1zM59,229h1v1h-1zM64,231h1v1h-1zM54,232h1v1h-1zM52,235h1v1h-1zM52,236h1v1h-1zM53,238h1v1h-1zM52,239h1v1h-1zM68,241h1v1h-1zM51,246h1v1h-1zM57,247h1v1h-1zM64,247h1v1h-1zM57,248h1v1h-1zM61,249h1v1h-1z"/>
<path fill="#0048ff" d="M61,212h1v1h-1zM61,217h1v1h-1zM61,219h1v1h-1zM53,226h2v1h-2zM54,227h1v1h-1zM63,227h3v1h-3zM49,228h1v1h-1zM48,232h2v1h-2zM50,233h1v1h-1zM69,236h1v1h-1zM48,237h1v1h-1zM48,238h1v1h-1zM69,238h1v1h-1zM49,243h1v1h-1zM67,248h1v1h-1zM51,250h1v1h-1zM65,250h1v1h-1zM54,251h1v1h-1zM52,252h1v1h-1zM60,253h1v1h-1zM62,253h1v1h-1zM59,254h1v1h-1z"/>
<path fill="#3000ff" d="M62,212h1v1h-1zM63,213h1v1h-1zM55,215h1v1h-1zM62,216h1v1h-1zM57,217h1v1h-1zM57,218h1v1h-1zM57,219h1v1h-1zM56,221h1v1h-1zM63,221h1v1h-1zM57,222h2v1h-2zM50,223h1v1h-1zM52,223h1v1h-1zM60,223h1v1h-1zM62,223h1v1h-1zM48,224h1v1h-1zM52,224h1v1h-1zM62,224h1v1h-1zM50,226h1v1h-1zM52,226h1v1h-1zM67,226h1v1h-1zM67,227h1v1h-1zM50,228h1v1h-1zM50,230h1v1h-1zM69,230h1v1h-1zM46,232h1v1h-1zM70,233h1v1h-1zM69,234h1v1h-1zM46,235h1v1h-1zM47,237h1v1h-1zM46,240h1v1h-1zM47,243h2v1h-2zM48,246h1v1h-1zM69,246h1v1h-1zM67,247h1v1h-1zM49,248h1v1h-1zM51,249h2v1h-2zM68,249h1v1h-1zM48,250h1v1h-1zM67,250h1v1h-1zM64,251h1v1h-1zM67,251h1v1h-1zM54,252h1v1h-1zM59,252h1v1h-1zM65,252h1v1h-1zM48,253h1v1h-1zM59,253h1v1h-1zM54,254h2v1h-2zM64,254h1v1h-1zM62,256h1v1h-1z"/>
<path fill="#1800ff" d="M56,213h1v1h-1zM57,220h1v1h-1zM61,221h1v1h-1zM55,223h1v1h-1zM58,224h1v1h-1zM51,228h1v1h-1zM48,233h1v1h-1zM47,240h1v1h-1zM70,244h1v1h-1zM69,247h1v1h-1zM46,248h1v1h-1zM49,250h1v1h-1zM47,251h1v1h-1zM47,252h1v1h-1zM66,252h1v1h-1zM49,254h1v1h-1zM60,254h1v1h-1zM59,256h1v1h-1zM60,257h1v1h-1z"/>
<path fill="#48ff00" d="M58,213h1v1h-1zM60,215h1v1h-1zM59,233h1v1h-1zM59,234h2v1h-2zM58,235h1v1h-1zM55,236h1v1h-1zM67,238h1v1h-1zM67,241h1v1h-1z"/>
<path fill="#ff1800" d="M59,213h1v1h-1zM59,214h1v1h-1zM66,242h1v1h-1zM62,245h1v1h-1z"/>
<path fill="#90ff00" d="M60,213h1v1h-1zM57,229h1v1h-1zM57,233h1v1h-1zM59,235h1v1h-1zM57,244h1v1h-1zM57,245h1v1h-1zM60,246h2v1h-2z"/>
<path fill="#00a8ff" d="M61,213h1v1h-1zM59,225h1v1h-1zM61,225h1v1h-1zM55,226h1v1h-1zM53,227h1v1h-1zM56,228h1v1h-1zM62,228h1v1h-1zM64,228h1v1h-1zM51,229h1v1h-1zM61,229h1v1h-1zM51,232h1v1h-1zM52,233h1v1h-1zM49,235h1v1h-1zM49,240h1v1h-1zM49,241h2v1h-2zM69,242h1v1h-1zM50,243h1v1h-1zM68,243h1v1h-1zM68,244h2v1h-2zM51,245h1v1h-1zM68,247h1v1h-1zM63,248h1v1h-1zM54,249h1v1h-1zM52,250h1v1h-1zM55,250h1v1h-1zM59,250h1v1h-1zM52,251h1v1h-1zM58,251h1v1h-1zM49,252h1v1h-1z"/>
<path fill="#fff000" d="M58,214h1v1h-1zM58,230h1v1h-1zM56,240h1v1h-1zM57,243h1v1h-1z"/>
<path fill="#ffff00" d="M60,214h1v1h-1z"/>
<path fill="#00c0ff" d="M61,214h1v1h-1zM58,218h1v1h-1zM60,220h1v1h-1zM56,226h1v1h-1zM56,227h1v1h-1zM61,227h1v1h-1zM53,228h1v1h-1zM60,228h1v1h-1zM63,228h1v1h-1zM60,229h1v1h-1zM52,230h1v1h-1zM50,232h1v1h-1zM64,232h1v1h-1zM67,233h1v1h-1zM68,234h1v1h-1zM50,235h1v1h-1zM67,235h1v1h-1zM49,236h1v1h-1zM69,239h1v1h-1zM69,240h1v1h-1zM50,242h1v1h-1zM49,244h1v1h-1zM66,248h1v1h-1zM56,250h1v1h-1zM58,250h1v1h-1zM56,251h2v1h-2zM59,251h1v1h-1zM61,251h1v1h-1z"/>
<path fill="#a0a0a0" d="M53,215h1v1h-1zM51,218h1v1h-1zM68,220h1v1h-1zM50,221h1v1h-1zM52,221h1v1h-1zM51,222h1v1h-1zM49,223h1v1h-1zM49,224h2v1h-2zM49,225h1v1h-1zM48,226h1v1h-1zM69,227h1v1h-1zM48,228h1v1h-1zM47,233h1v1h-1zM70,245h1v1h-1zM47,248h1v1h-1zM48,249h1v1h-1zM68,250h3v1h-3zM68,251h1v1h-1zM67,252h1v1h-1zM69,252h1v1h-1zM65,253h2v1h-2zM61,255h1v1h-1zM64,255h1v1h-1zM61,256h1v1h-1zM63,256h1v1h-1zM61,257h1v1h-1zM64,257h1v1h-1zM62,258h2v1h-2z"/>
<path fill="#0060ff" d="M56,215h1v1h-1zM61,216h1v1h-1zM58,221h1v1h-1zM59,222h2v1h-2zM54,223h1v1h-1zM57,223h1v1h-1zM56,224h1v1h-1zM59,224h1v1h-1zM55,225h1v1h-1zM60,225h1v1h-1zM63,226h1v1h-1zM62,227h1v1h-1zM55,228h1v1h-1zM68,229h1v1h-1zM68,233h1v1h-1zM47,235h1v1h-1zM68,235h1v1h-1zM49,239h1v1h-1zM48,240h1v1h-1zM70,240h1v1h-1zM49,246h1v1h-1zM66,247h1v1h-1zM65,248h1v1h-1zM65,249h1v1h-1zM53,250h1v1h-1zM49,251h2v1h-2zM53,251h1v1h-1zM50,252h1v1h-1zM55,253h1v1h-1zM63,253h1v1h-1z"/>
<path fill="#30ff00" d="M58,215h1v1h-1zM59,232h1v1h-1zM63,233h1v1h-1zM58,234h1v1h-1zM56,236h1v1h-1zM55,238h1v1h-1zM55,241h1v1h-1zM67,242h1v1h-1zM56,243h1v1h-1zM57,246h3v1h-3zM64,246h1v1h-1zM60,247h1v1h-1zM55,248h1v1h-1z"/>
<path fill="#d8ff00" d="M59,215h1v1h-1zM56,230h1v1h-1zM57,232h1v1h-1zM64,235h1v1h-1zM66,243h1v1h-1zM55,244h1v1h-1zM59,245h1v1h-1zM53,247h1v1h-1z"/>
<path fill="#00d8ff" d="M61,215h1v1h-1zM58,217h1v1h-1zM60,217h1v1h-1zM58,219h2v1h-2zM58,226h1v1h-1zM60,226h1v1h-1zM58,227h1v1h-1zM58,228h2v1h-2zM62,230h1v1h-1zM51,231h1v1h-1zM53,231h1v1h-1zM65,231h1v1h-1zM66,232h1v1h-1zM54,233h1v1h-1zM66,233h1v1h-1zM50,234h1v1h-1zM67,234h1v1h-1zM51,235h1v1h-1zM50,237h1v1h-1zM47,238h1v1h-1zM51,238h1v1h-1zM68,238h1v1h-1zM68,239h1v1h-1zM51,240h1v1h-1zM51,241h1v1h-1zM69,241h1v1h-1zM67,245h1v1h-1zM52,248h1v1h-1zM64,248h1v1h-1zM55,249h1v1h-1zM58,249h1v1h-1zM57,250h1v1h-1z"/>
<path fill="#1830ff" d="M62,215h1v1h-1zM56,216h1v1h-1zM57,221h1v1h-1zM49,230h1v1h-1zM49,231h1v1h-1zM64,249h1v1h-1zM65,251h1v1h-1zM51,252h1v1h-1zM57,254h1v1h-1z"/>
<path fill="#00f0ff" d="M58,216h1v1h-1zM59,221h1v1h-1zM53,230h1v1h-1zM52,231h1v1h-1zM66,234h1v1h-1zM68,236h1v1h-1zM49,238h1v1h-1zM50,240h1v1h-1zM52,243h1v1h-1zM66,245h1v1h-1zM53,249h1v1h-1zM59,249h1v1h-1zM63,250h1v1h-1zM56,252h1v1h-1z"/>
<path fill="#18ff48" d="M59,216h1v1h-1zM56,229h1v1h-1zM55,230h1v1h-1zM59,230h1v1h-1zM59,231h1v1h-1zM61,233h1v1h-1zM55,234h2v1h-2zM53,237h1v1h-1zM51,239h1v1h-1zM54,239h1v1h-1zM61,247h1v1h-1z"/>
<path fill="#00f0f0" d="M59,218h1v1h-1zM55,227h1v1h-1zM57,228h1v1h-1zM54,229h1v1h-1zM62,229h1v1h-1zM54,230h1v1h-1zM64,230h1v1h-1zM54,231h1v1h-1zM55,232h1v1h-1zM53,233h1v1h-1zM51,237h1v1h-1zM68,237h1v1h-1zM66,246h1v1h-1zM58,248h1v1h-1zM56,249h2v1h-2zM62,249h1v1h-1zM60,250h1v1h-1z"/>
<path fill="#00ff90" d="M59,220h1v1h-1zM60,232h1v1h-1zM55,233h1v1h-1zM52,234h1v1h-1zM54,234h1v1h-1zM64,234h2v1h-2zM53,235h1v1h-1zM56,235h1v1h-1zM53,236h1v1h-1zM54,238h1v1h-1zM52,240h1v1h-1zM68,240h1v1h-1zM53,242h1v1h-1zM67,243h1v1h-1zM62,247h2v1h-2zM60,249h1v1h-1z"/>
<path fill="#0078ff" d="M60,221h1v1h-1zM57,225h1v1h-1zM61,226h1v1h-1zM57,227h1v1h-1zM52,228h1v1h-1zM61,228h1v1h-1zM53,229h1v1h-1zM51,230h1v1h-1zM65,230h1v1h-1zM52,232h1v1h-1zM51,233h1v1h-1zM48,235h1v1h-1zM69,235h1v1h-1zM69,237h1v1h-1zM50,246h1v1h-1zM51,247h1v1h-1zM64,250h1v1h-1zM55,251h1v1h-1zM60,251h1v1h-1zM63,251h1v1h-1zM49,253h1v1h-1z"/>
<path fill="#989898" d="M49,222h1v1h-1zM47,249h1v1h-1zM70,249h1v1h-1zM47,250h1v1h-1zM65,255h1v1h-1zM63,257h1v1h-1zM64,258h1v1h-1z"/>
<path fill="#00ff78" d="M58,229h1v1h-1zM55,231h1v1h-1zM63,231h1v1h-1zM62,232h1v1h-1zM54,235h2v1h-2zM53,239h1v1h-1zM52,244h1v1h-1zM52,245h1v1h-1zM65,246h1v1h-1zM52,247h1v1h-1z"/>
<path fill="#ff0000" d="M57,230h1v1h-1zM57,231h1v1h-1zM59,236h5v1h-5zM58,237h8v1h-8zM58,238h8v1h-8zM58,239h9v1h-9zM57,240h10v1h-10zM57,241h10v1h-10zM57,242h9v1h-9zM58,243h8v1h-8zM59,244h6v1h-6zM61,245h1v1h-1zM54,246h2v1h-2z"/>
<path fill="#00f090" d="M61,230h1v1h-1zM53,240h1v1h-1z"/>
<path fill="#c0ff00" d="M56,231h1v1h-1zM53,245h1v1h-1z"/>
<path fill="#ffa800" d="M58,231h1v1h-1zM58,244h1v1h-1z"/>
<path fill="#00f0a8" d="M61,231h2v1h-2zM65,233h1v1h-1zM67,236h1v1h-1zM67,237h1v1h-1zM52,241h1v1h-1zM68,242h1v1h-1zM53,248h1v1h-1zM59,248h2v1h-2z"/>
<path fill="#78ff00" d="M56,232h1v1h-1zM61,234h1v1h-1zM56,237h1v1h-1zM56,239h1v1h-1zM67,239h1v1h-1zM56,241h1v1h-1zM56,244h1v1h-1zM66,244h1v1h-1zM58,245h1v1h-1zM62,246h1v1h-1zM56,247h1v1h-1zM54,248h1v1h-1z"/>
<path fill="#a8ff00" d="M58,232h1v1h-1zM57,237h1v1h-1zM66,237h1v1h-1zM56,242h1v1h-1z"/>
<path fill="#18ff30" d="M61,232h1v1h-1zM62,233h1v1h-1zM64,233h1v1h-1zM57,235h1v1h-1zM54,236h1v1h-1zM55,237h1v1h-1zM54,240h1v1h-1zM54,242h2v1h-2zM53,244h1v1h-1zM52,246h1v1h-1zM61,248h1v1h-1z"/>
<path fill="#18ff18" d="M56,233h1v1h-1zM58,233h1v1h-1zM60,233h1v1h-1zM57,234h1v1h-1zM62,234h2v1h-2zM65,235h1v1h-1zM54,241h1v1h-1zM53,243h1v1h-1z"/>
<path fill="#ffc000" d="M60,235h2v1h-2zM63,235h1v1h-1zM66,238h1v1h-1zM55,245h1v1h-1zM56,246h1v1h-1zM54,247h2v1h-2z"/>
<path fill="#ff7800" d="M62,235h1v1h-1z"/>
<path fill="#00ff60" d="M66,235h1v1h-1zM54,237h1v1h-1zM52,238h1v1h-1zM55,243h1v1h-1zM67,244h1v1h-1zM58,247h2v1h-2z"/>
<path fill="#60ff00" d="M57,236h1v1h-1zM56,238h1v1h-1zM55,239h1v1h-1zM55,240h1v1h-1zM67,240h1v1h-1zM65,245h1v1h-1zM63,246h1v1h-1z"/>
<path fill="#f0ff00" d="M58,236h1v1h-1zM54,244h1v1h-1zM56,245h1v1h-1zM64,245h1v1h-1z"/>
<path fill="#ff3000" d="M64,236h1v1h-1zM60,245h1v1h-1z"/>
<path fill="#ffd800" d="M65,236h1v1h-1z"/>
<path fill="#18ff60" d="M66,236h1v1h-1zM54,243h1v1h-1z"/>
<path fill="#ff9000" d="M57,238h1v1h-1zM65,244h1v1h-1zM53,246h1v1h-1z"/>
<path fill="#ff4800" d="M57,239h1v1h-1z"/>
<path fill="#ff6000" d="M54,245h1v1h-1zM63,245h1v1h-1z"/>
<path fill="#303030" d="M46,255h7v1h-7zM55,255h2v1h-2zM66,255h5v1h-5zM46,256h11v1h-11zM58,256h1v1h-1zM65,256h6v1h-6zM46,257h11v1h-11zM58,257h2v1h-2zM65,257h6v1h-6zM46,258h11v1h-11zM59,258h2v1h-2zM65,258h6v1h-6z"/>
</g>
<g filter="url(#mblur)" shape-rendering="crispEdges">
<path fill="#383838" d="M77,184h24v1h-24zM77,185h24v1h-24zM77,186h24v1h-24zM77,187h24v1h-24zM77,188h24v1h-24zM77,189h24v1h-24z"/>
<path fill="#101010" d="M77,190h24v1h-24z"/>
<path fill="#181818" d="M77,191h1v1h-1zM82,191h3v1h-3zM88,191h4v1h-4zM95,191h3v1h-3zM77,192h1v1h-1zM82,192h3v1h-3zM88,192h4v1h-4zM95,192h3v1h-3zM77,193h1v1h-1zM82,193h3v1h-3zM88,193h4v1h-4zM95,193h3v1h-3zM77,194h1v1h-1zM82,194h3v1h-3zM88,194h4v1h-4zM95,194h3v1h-3zM77,195h1v1h-1zM82,195h3v1h-3zM88,195h4v1h-4zM95,195h3v1h-3zM77,196h1v1h-1zM82,196h3v1h-3zM88,196h1v1h-1zM90,196h2v1h-2zM95,196h3v1h-3zM77,197h1v1h-1zM82,197h3v1h-3zM91,197h1v1h-1zM95,197h3v1h-3zM77,198h1v1h-1zM82,198h3v1h-3zM95,198h3v1h-3zM77,199h1v1h-1zM82,199h3v1h-3zM95,199h3v1h-3zM77,200h1v1h-1zM82,200h3v1h-3zM95,200h3v1h-3zM77,201h1v1h-1zM82,201h3v1h-3zM95,201h3v1h-3zM77,202h1v1h-1zM82,202h3v1h-3zM95,202h3v1h-3zM77,203h1v1h-1zM82,203h3v1h-3zM95,203h3v1h-3zM77,204h1v1h-1zM82,204h2v1h-2zM95,204h3v1h-3zM77,205h1v1h-1zM82,205h2v1h-2zM95,205h3v1h-3zM77,206h1v1h-1zM82,206h2v1h-2zM96,206h2v1h-2zM77,207h1v1h-1zM82,207h1v1h-1zM96,207h1v1h-1zM77,208h1v1h-1zM82,208h1v1h-1zM96,208h2v1h-2zM77,209h1v1h-1zM82,209h1v1h-1zM97,209h1v1h-1zM77,210h1v1h-1zM77,211h1v1h-1zM97,211h1v1h-1zM77,212h1v1h-1zM97,212h1v1h-1zM77,213h1v1h-1zM77,214h1v1h-1zM77,217h1v1h-1zM77,218h1v1h-1zM77,219h1v1h-1zM77,220h1v1h-1zM77,222h1v1h-1zM77,226h1v1h-1zM77,230h1v1h-1zM77,232h1v1h-1zM77,234h1v1h-1zM77,235h1v1h-1zM77,236h1v1h-1zM77,237h1v1h-1zM77,238h1v1h-1zM77,239h1v1h-1zM77,240h1v1h-1zM77,241h1v1h-1zM77,242h1v1h-1zM77,243h1v1h-1zM77,244h1v1h-1zM77,245h1v1h-1zM77,246h1v1h-1zM77,247h1v1h-1zM77,248h1v1h-1zM77,249h1v1h-1zM77,250h1v1h-1zM77,251h1v1h-1zM77,252h1v1h-1zM77,253h1v1h-1zM82,253h2v1h-2zM95,253h3v1h-3zM77,254h1v1h-1zM82,254h3v1h-3zM95,254h3v1h-3z"/>
<path fill="#282828" d="M78,191h4v1h-4zM85,191h3v1h-3zM92,191h3v1h-3zM98,191h3v1h-3zM78,192h4v1h-4zM85,192h3v1h-3zM92,192h3v1h-3zM98,192h3v1h-3zM78,193h4v1h-4zM85,193h3v1h-3zM92,193h3v1h-3zM98,193h3v1h-3zM78,194h4v1h-4zM85,194h3v1h-3zM92,194h3v1h-3zM98,194h3v1h-3zM78,195h4v1h-4zM85,195h3v1h-3zM92,195h3v1h-3zM98,195h3v1h-3zM78,196h4v1h-4zM85,196h3v1h-3zM92,196h3v1h-3zM98,196h3v1h-3zM78,197h4v1h-4zM85,197h3v1h-3zM92,197h3v1h-3zM98,197h3v1h-3zM78,198h4v1h-4zM85,198h2v1h-2zM92,198h3v1h-3zM98,198h3v1h-3zM78,199h4v1h-4zM85,199h1v1h-1zM93,199h2v1h-2zM98,199h3v1h-3zM78,200h4v1h-4zM85,200h1v1h-1zM93,200h2v1h-2zM98,200h3v1h-3zM78,201h4v1h-4zM94,201h1v1h-1zM98,201h3v1h-3zM78,202h4v1h-4zM94,202h1v1h-1zM98,202h3v1h-3zM78,203h4v1h-4zM98,203h3v1h-3zM78,204h4v1h-4zM98,204h3v1h-3zM78,205h4v1h-4zM98,205h3v1h-3zM78,206h4v1h-4zM98,206h3v1h-3zM78,207h4v1h-4zM98,207h3v1h-3zM78,208h3v1h-3zM98,208h3v1h-3zM78,209h4v1h-4zM98,209h3v1h-3zM78,210h1v1h-1zM98,210h3v1h-3zM78,211h3v1h-3zM99,211h2v1h-2zM78,212h4v1h-4zM99,212h2v1h-2zM78,213h3v1h-3zM99,213h1v1h-1zM78,214h1v1h-1zM99,214h2v1h-2zM78,215h1v1h-1zM99,215h1v1h-1zM99,216h2v1h-2zM78,217h1v1h-1zM78,219h1v1h-1zM100,219h1v1h-1zM78,220h1v1h-1zM99,220h2v1h-2zM78,221h1v1h-1zM78,224h1v1h-1zM100,239h1v1h-1zM78,240h1v1h-1zM100,241h1v1h-1zM78,242h1v1h-1zM100,242h1v1h-1zM78,243h1v1h-1zM100,243h1v1h-1zM78,244h1v1h-1zM78,245h1v1h-1zM100,245h1v1h-1zM78,246h1v1h-1zM100,246h1v1h-1zM78,247h2v1h-2zM100,247h1v1h-1zM78,248h2v1h-2zM100,248h1v1h-1zM78,249h2v1h-2zM100,249h1v1h-1zM78,250h3v1h-3zM78,251h3v1h-3zM99,251h2v1h-2zM78,252h4v1h-4zM98,252h1v1h-1zM100,252h1v1h-1zM78,253h4v1h-4zM98,253h3v1h-3zM78,254h4v1h-4zM85,254h3v1h-3zM92,254h3v1h-3zM98,254h3v1h-3z"/>
<path fill="#b8b8b8" d="M89,196h1v1h-1zM88,197h1v1h-1zM93,201h1v1h-1zM86,202h1v1h-1zM93,202h1v1h-1zM93,203h1v1h-1zM84,204h2v1h-2zM94,204h1v1h-1zM84,205h1v1h-1zM93,206h1v1h-1zM87,209h1v1h-1z"/>
<path fill="#d0d0d0" d="M89,197h1v1h-1zM87,199h2v1h-2zM90,199h2v1h-2zM87,200h1v1h-1zM87,201h1v1h-1zM89,201h2v1h-2zM92,201h1v1h-1zM87,202h2v1h-2zM90,202h1v1h-1zM88,203h1v1h-1zM91,204h1v1h-1zM87,205h1v1h-1zM89,205h1v1h-1zM92,206h1v1h-1z"/>
<path fill="#c0c0c0" d="M90,197h1v1h-1zM87,198h2v1h-2zM86,199h1v1h-1zM89,199h1v1h-1zM86,200h1v1h-1zM90,200h1v1h-1zM92,200h1v1h-1zM85,202h1v1h-1zM92,202h1v1h-1zM85,203h3v1h-3zM86,204h1v1h-1zM92,204h2v1h-2zM92,205h1v1h-1z"/>
<path fill="#c8c8c8" d="M89,198h3v1h-3zM92,199h1v1h-1zM88,200h1v1h-1zM91,200h1v1h-1zM86,201h1v1h-1zM91,201h1v1h-1zM91,202h1v1h-1zM89,204h1v1h-1zM89,207h1v1h-1z"/>
<path fill="#d8d8d8" d="M89,200h1v1h-1zM88,201h1v1h-1zM89,202h1v1h-1zM89,203h1v1h-1zM91,203h1v1h-1zM90,204h1v1h-1z"/>
<path fill="#b0b0b0" d="M85,201h1v1h-1zM94,203h1v1h-1zM93,205h1v1h-1zM84,206h1v1h-1zM94,206h2v1h-2zM85,209h1v1h-1z"/>
<path fill="#6000ff" d="M90,203h1v1h-1zM85,205h2v1h-2zM90,205h2v1h-2zM86,206h1v1h-1zM89,206h2v1h-2zM84,207h3v1h-3zM92,207h1v1h-1zM97,207h1v1h-1zM89,208h1v1h-1zM89,209h1v1h-1zM80,210h1v1h-1zM85,210h1v1h-1zM98,211h1v1h-1zM98,212h1v1h-1zM100,213h1v1h-1zM80,214h1v1h-1zM97,214h1v1h-1zM80,215h1v1h-1zM77,216h1v1h-1zM98,216h1v1h-1zM79,217h1v1h-1zM99,217h2v1h-2zM78,218h1v1h-1zM98,218h1v1h-1zM100,218h1v1h-1zM99,222h2v1h-2zM78,223h1v1h-1zM98,223h1v1h-1zM77,224h1v1h-1zM77,227h1v1h-1zM77,229h1v1h-1zM77,233h2v1h-2zM78,234h1v1h-1zM78,235h2v1h-2zM79,237h1v1h-1zM79,238h1v1h-1zM80,240h1v1h-1zM80,241h1v1h-1zM99,241h1v1h-1zM81,242h1v1h-1zM80,243h1v1h-1zM98,243h1v1h-1zM98,245h1v1h-1zM81,246h1v1h-1zM83,249h4v1h-4zM99,250h2v1h-2zM89,251h1v1h-1zM91,251h1v1h-1zM90,252h1v1h-1zM87,253h1v1h-1zM90,254h1v1h-1z"/>
<path fill="#7800ff" d="M92,203h1v1h-1zM87,204h1v1h-1zM88,205h1v1h-1zM94,205h1v1h-1zM85,206h1v1h-1zM88,206h1v1h-1zM83,207h1v1h-1zM90,207h1v1h-1zM87,208h1v1h-1zM96,209h1v1h-1zM79,210h1v1h-1zM81,210h1v1h-1zM98,213h1v1h-1zM77,215h1v1h-1zM97,215h1v1h-1zM78,216h1v1h-1zM77,223h1v1h-1zM99,223h1v1h-1zM98,224h1v1h-1zM100,235h1v1h-1zM79,241h1v1h-1zM98,244h1v1h-1zM100,244h1v1h-1zM97,246h1v1h-1zM99,246h1v1h-1zM82,247h1v1h-1zM88,249h1v1h-1zM92,251h1v1h-1zM89,252h1v1h-1zM99,252h1v1h-1z"/>
<path fill="#3000ff" d="M88,204h1v1h-1zM91,206h1v1h-1zM87,207h2v1h-2zM93,207h1v1h-1zM84,208h1v1h-1zM86,208h1v1h-1zM88,208h1v1h-1zM91,208h1v1h-1zM86,209h1v1h-1zM95,209h1v1h-1zM90,210h1v1h-1zM96,210h1v1h-1zM79,215h1v1h-1zM79,216h1v1h-1zM81,216h1v1h-1zM97,218h1v1h-1zM98,219h2v1h-2zM97,220h2v1h-2zM80,221h2v1h-2zM99,221h1v1h-1zM78,222h1v1h-1zM99,224h1v1h-1zM100,225h1v1h-1zM78,227h1v1h-1zM100,227h1v1h-1zM77,228h2v1h-2zM99,229h1v1h-1zM79,230h1v1h-1zM77,231h1v1h-1zM100,231h1v1h-1zM100,232h1v1h-1zM99,233h1v1h-1zM99,235h1v1h-1zM78,238h1v1h-1zM99,238h1v1h-1zM78,239h2v1h-2zM99,240h2v1h-2zM78,241h1v1h-1zM82,242h1v1h-1zM98,242h1v1h-1zM99,243h1v1h-1zM82,244h2v1h-2zM80,245h1v1h-1zM82,245h1v1h-1zM83,246h1v1h-1zM98,246h1v1h-1zM84,247h1v1h-1zM85,248h1v1h-1zM98,248h1v1h-1zM87,249h1v1h-1zM84,250h1v1h-1zM87,250h1v1h-1zM90,250h1v1h-1zM93,250h1v1h-1zM85,251h1v1h-1zM94,251h1v1h-1zM91,252h1v1h-1zM96,252h1v1h-1z"/>
<path fill="#4800ff" d="M87,206h1v1h-1zM91,207h1v1h-1zM94,207h1v1h-1zM90,209h1v1h-1zM82,210h1v1h-1zM84,210h1v1h-1zM81,211h1v1h-1zM83,211h1v1h-1zM94,211h1v1h-1zM96,211h1v1h-1zM96,212h1v1h-1zM79,214h1v1h-1zM98,215h1v1h-1zM100,215h1v1h-1zM80,216h1v1h-1zM81,217h1v1h-1zM79,218h1v1h-1zM79,219h1v1h-1zM100,221h1v1h-1zM79,222h1v1h-1zM79,224h1v1h-1zM78,225h1v1h-1zM79,227h1v1h-1zM100,228h1v1h-1zM78,232h1v1h-1zM100,237h1v1h-1zM79,242h1v1h-1zM99,242h1v1h-1zM79,244h1v1h-1zM97,247h1v1h-1zM81,248h1v1h-1zM84,248h1v1h-1zM83,250h1v1h-1zM91,250h1v1h-1zM94,250h1v1h-1zM86,251h1v1h-1zM93,251h1v1h-1z"/>
<path fill="#a8a8a8" d="M95,207h1v1h-1zM83,208h1v1h-1zM95,208h1v1h-1zM83,209h1v1h-1z"/>
<path fill="#1818ff" d="M81,208h1v1h-1zM85,208h1v1h-1zM90,208h1v1h-1zM94,208h1v1h-1zM84,209h1v1h-1zM83,210h1v1h-1zM86,210h1v1h-1zM88,210h2v1h-2zM97,210h1v1h-1zM84,211h1v1h-1zM82,212h2v1h-2zM94,212h1v1h-1zM83,213h1v1h-1zM95,213h1v1h-1zM97,213h1v1h-1zM82,214h1v1h-1zM95,214h2v1h-2zM97,216h1v1h-1zM97,217h2v1h-2zM81,218h1v1h-1zM79,220h3v1h-3zM79,221h1v1h-1zM82,221h1v1h-1zM83,222h1v1h-1zM98,222h1v1h-1zM81,223h1v1h-1zM80,224h1v1h-1zM100,224h1v1h-1zM100,226h1v1h-1zM99,228h1v1h-1zM98,230h3v1h-3zM79,231h1v1h-1zM79,232h1v1h-1zM98,232h1v1h-1zM100,233h1v1h-1zM99,234h1v1h-1zM80,235h1v1h-1zM78,236h2v1h-2zM99,236h1v1h-1zM98,237h1v1h-1zM80,238h1v1h-1zM100,238h1v1h-1zM80,239h2v1h-2zM99,239h1v1h-1zM81,240h1v1h-1zM81,243h1v1h-1zM83,243h1v1h-1zM84,244h1v1h-1zM81,245h1v1h-1zM86,245h1v1h-1zM97,245h1v1h-1zM81,247h1v1h-1zM85,247h3v1h-3zM96,247h1v1h-1zM88,248h2v1h-2zM94,248h1v1h-1zM97,248h1v1h-1zM89,249h1v1h-1zM93,249h2v1h-2zM97,249h1v1h-1zM86,250h1v1h-1zM89,250h1v1h-1zM88,251h1v1h-1zM96,251h1v1h-1zM98,251h1v1h-1zM97,252h1v1h-1z"/>
<path fill="#0048ff" d="M92,208h1v1h-1zM91,209h1v1h-1zM85,211h1v1h-1zM92,211h1v1h-1zM84,213h1v1h-1zM95,215h1v1h-1zM82,218h1v1h-1zM97,219h1v1h-1zM83,220h1v1h-1zM83,224h1v1h-1zM81,225h1v1h-1zM99,225h1v1h-1zM78,229h1v1h-1zM80,230h1v1h-1zM98,231h1v1h-1zM80,233h1v1h-1zM79,234h1v1h-1zM98,234h1v1h-1zM98,236h1v1h-1zM99,237h1v1h-1zM82,238h1v1h-1zM81,241h1v1h-1zM83,241h1v1h-1zM85,244h1v1h-1zM85,246h1v1h-1zM96,246h1v1h-1zM90,248h1v1h-1zM91,249h2v1h-2z"/>
<path fill="#0030ff" d="M93,208h1v1h-1zM88,209h1v1h-1zM94,209h1v1h-1zM87,210h1v1h-1zM94,210h1v1h-1zM89,211h2v1h-2zM85,212h1v1h-1zM81,213h1v1h-1zM81,214h1v1h-1zM83,214h1v1h-1zM94,214h1v1h-1zM95,216h1v1h-1zM82,217h1v1h-1zM95,217h1v1h-1zM80,219h1v1h-1zM82,219h1v1h-1zM96,219h1v1h-1zM82,220h1v1h-1zM77,221h1v1h-1zM81,222h1v1h-1zM95,222h1v1h-1zM97,222h1v1h-1zM79,223h2v1h-2zM82,223h2v1h-2zM96,224h1v1h-1zM97,225h2v1h-2zM80,226h1v1h-1zM82,226h1v1h-1zM79,228h1v1h-1zM79,229h1v1h-1zM100,229h1v1h-1zM79,233h1v1h-1zM98,233h1v1h-1zM80,234h1v1h-1zM80,237h2v1h-2zM81,238h1v1h-1zM98,239h1v1h-1zM98,241h1v1h-1zM80,242h1v1h-1zM83,242h1v1h-1zM85,242h1v1h-1zM84,243h1v1h-1zM97,244h1v1h-1zM99,244h1v1h-1zM84,245h2v1h-2zM89,247h1v1h-1zM86,248h2v1h-2zM95,249h1v1h-1zM99,249h1v1h-1zM95,251h1v1h-1z"/>
<path fill="#00f0c0" d="M92,209h1v1h-1zM93,210h1v1h-1zM93,218h1v1h-1zM93,219h1v1h-1zM85,220h1v1h-1zM93,220h1v1h-1zM89,221h1v1h-1zM90,222h1v1h-1zM86,223h1v1h-1zM94,223h1v1h-1zM88,225h1v1h-1zM93,225h1v1h-1zM83,226h1v1h-1zM93,226h1v1h-1zM96,228h1v1h-1zM81,234h1v1h-1zM87,242h1v1h-1z"/>
<path fill="#00d8ff" d="M93,209h1v1h-1zM90,212h1v1h-1zM90,213h1v1h-1zM82,216h1v1h-1zM94,218h2v1h-2zM85,221h1v1h-1zM87,221h1v1h-1zM94,221h1v1h-1zM88,222h2v1h-2zM88,223h1v1h-1zM92,223h1v1h-1zM94,225h1v1h-1zM97,233h1v1h-1zM97,236h1v1h-1zM86,240h1v1h-1zM86,241h1v1h-1zM97,242h1v1h-1zM88,245h1v1h-1zM97,250h2v1h-2z"/>
<path fill="#0090ff" d="M91,210h1v1h-1zM87,211h1v1h-1zM94,215h1v1h-1zM84,220h1v1h-1zM94,220h1v1h-1zM84,221h1v1h-1zM91,222h1v1h-1zM93,222h1v1h-1zM95,224h1v1h-1zM97,224h1v1h-1zM81,227h1v1h-1zM82,240h1v1h-1zM85,241h1v1h-1zM86,243h1v1h-1zM87,245h1v1h-1zM87,246h1v1h-1zM96,249h1v1h-1zM97,251h1v1h-1z"/>
<path fill="#00f0ff" d="M92,210h1v1h-1zM84,214h1v1h-1zM91,219h1v1h-1zM85,223h1v1h-1zM87,223h1v1h-1zM92,224h2v1h-2zM92,225h1v1h-1zM96,227h1v1h-1zM83,237h1v1h-1zM83,238h1v1h-1zM83,240h1v1h-1zM88,244h1v1h-1z"/>
<path fill="#1830ff" d="M95,210h1v1h-1zM82,213h1v1h-1zM94,213h1v1h-1zM81,215h1v1h-1zM80,218h1v1h-1zM98,221h1v1h-1zM84,222h1v1h-1zM94,222h1v1h-1zM80,225h1v1h-1zM99,231h1v1h-1zM80,236h1v1h-1zM79,240h1v1h-1zM98,240h1v1h-1zM98,249h1v1h-1z"/>
<path fill="#a0a0a0" d="M82,211h1v1h-1zM79,246h1v1h-1zM80,248h1v1h-1zM80,249h2v1h-2zM82,251h3v1h-3zM87,251h1v1h-1zM84,252h1v1h-1zM93,252h1v1h-1zM85,253h1v1h-1zM92,253h1v1h-1zM88,254h1v1h-1z"/>
<path fill="#0078ff" d="M86,211h1v1h-1zM94,216h1v1h-1zM83,218h1v1h-1zM81,219h1v1h-1zM96,220h1v1h-1zM97,221h1v1h-1zM95,223h1v1h-1zM89,224h1v1h-1zM82,225h1v1h-1zM97,227h1v1h-1zM80,228h1v1h-1zM82,237h1v1h-1zM82,239h1v1h-1zM86,244h1v1h-1z"/>
<path fill="#0060ff" d="M88,211h1v1h-1zM91,211h1v1h-1zM93,211h1v1h-1zM84,212h1v1h-1zM86,212h1v1h-1zM89,212h1v1h-1zM91,212h1v1h-1zM93,212h1v1h-1zM93,213h1v1h-1zM93,214h1v1h-1zM83,215h1v1h-1zM94,217h1v1h-1zM96,217h1v1h-1zM94,219h1v1h-1zM95,220h1v1h-1zM95,221h2v1h-2zM80,222h1v1h-1zM82,222h1v1h-1zM96,222h1v1h-1zM96,223h2v1h-2zM100,223h1v1h-1zM81,224h2v1h-2zM96,225h1v1h-1zM98,226h1v1h-1zM80,227h1v1h-1zM98,227h2v1h-2zM81,228h1v1h-1zM98,235h1v1h-1zM81,236h1v1h-1zM98,238h1v1h-1zM84,239h1v1h-1zM84,240h1v1h-1zM82,241h1v1h-1zM84,241h1v1h-1zM82,246h1v1h-1zM86,246h1v1h-1zM88,246h1v1h-1z"/>
<path fill="#1800ff" d="M95,211h1v1h-1zM95,212h1v1h-1zM96,213h1v1h-1zM98,214h1v1h-1zM96,215h1v1h-1zM96,216h1v1h-1zM80,217h1v1h-1zM96,218h1v1h-1zM99,218h1v1h-1zM77,225h1v1h-1zM79,225h1v1h-1zM78,226h1v1h-1zM99,226h1v1h-1zM97,228h1v1h-1zM78,230h1v1h-1zM99,232h1v1h-1zM100,234h1v1h-1zM100,236h1v1h-1zM78,237h1v1h-1zM82,243h1v1h-1zM81,244h1v1h-1zM83,245h1v1h-1zM84,246h1v1h-1zM88,247h1v1h-1zM95,248h2v1h-2zM90,249h1v1h-1z"/>
<path fill="#00f0d8" d="M87,212h1v1h-1zM92,216h1v1h-1zM92,218h1v1h-1zM95,219h1v1h-1zM91,221h1v1h-1zM93,221h1v1h-1zM91,224h1v1h-1zM94,224h1v1h-1zM92,226h1v1h-1zM81,235h1v1h-1zM97,238h1v1h-1zM85,239h1v1h-1zM92,248h2v1h-2z"/>
<path fill="#00f0f0" d="M88,212h1v1h-1zM91,213h1v1h-1zM92,215h2v1h-2zM93,217h1v1h-1zM84,219h1v1h-1zM92,219h1v1h-1zM92,220h1v1h-1zM92,222h1v1h-1zM85,224h1v1h-1zM83,225h2v1h-2zM90,225h1v1h-1zM81,226h1v1h-1zM96,226h1v1h-1zM81,229h1v1h-1zM97,234h1v1h-1zM82,236h1v1h-1zM97,237h1v1h-1zM87,241h1v1h-1zM95,247h1v1h-1zM91,248h1v1h-1z"/>
<path fill="#00c0ff" d="M92,212h1v1h-1zM92,213h1v1h-1zM92,214h1v1h-1zM93,216h1v1h-1zM83,219h1v1h-1zM88,221h1v1h-1zM85,222h2v1h-2zM89,223h1v1h-1zM93,223h1v1h-1zM86,224h1v1h-1zM88,224h1v1h-1zM97,230h1v1h-1zM97,231h1v1h-1zM80,232h1v1h-1zM97,235h1v1h-1zM83,239h1v1h-1zM85,240h1v1h-1zM87,243h1v1h-1zM87,244h1v1h-1zM96,245h1v1h-1zM90,247h1v1h-1zM95,250h2v1h-2z"/>
<path fill="#00f0a8" d="M85,213h1v1h-1zM92,217h1v1h-1zM91,220h1v1h-1zM90,224h1v1h-1zM87,225h1v1h-1zM97,232h1v1h-1zM88,242h1v1h-1zM88,243h1v1h-1zM89,245h1v1h-1z"/>
<path fill="#c0ff00" d="M86,213h1v1h-1zM84,217h1v1h-1zM90,218h1v1h-1zM88,226h1v1h-1zM89,227h1v1h-1zM90,228h2v1h-2zM82,229h1v1h-1zM82,234h1v1h-1zM96,237h1v1h-1zM86,238h1v1h-1zM96,238h1v1h-1zM91,246h1v1h-1z"/>
<path fill="#f0ff00" d="M87,213h1v1h-1zM85,214h1v1h-1zM86,226h1v1h-1zM84,236h1v1h-1zM85,237h1v1h-1zM96,241h1v1h-1zM89,243h1v1h-1z"/>
<path fill="#90ff00" d="M88,213h1v1h-1zM87,220h2v1h-2zM87,226h1v1h-1zM81,231h1v1h-1zM96,234h1v1h-1zM95,245h1v1h-1z"/>
<path fill="#48ff00" d="M89,213h1v1h-1zM84,215h1v1h-1zM84,226h1v1h-1zM94,228h1v1h-1zM93,247h1v1h-1z"/>
<path fill="#ff0000" d="M86,214h3v1h-3zM86,215h4v1h-4zM85,216h5v1h-5zM85,217h6v1h-6zM85,218h5v1h-5zM86,219h3v1h-3zM86,227h1v1h-1zM84,228h6v1h-6zM83,229h8v1h-8zM83,230h13v1h-13zM83,231h13v1h-13zM83,232h13v1h-13zM83,233h13v1h-13zM84,234h12v1h-12zM84,235h12v1h-12zM85,236h11v1h-11zM86,237h10v1h-10zM88,238h8v1h-8zM89,239h7v1h-7zM89,240h7v1h-7zM90,241h6v1h-6zM90,242h5v1h-5zM90,243h5v1h-5zM91,244h4v1h-4z"/>
<path fill="#ffd800" d="M89,214h1v1h-1zM84,227h1v1h-1zM92,229h1v1h-1zM96,233h1v1h-1zM89,242h1v1h-1z"/>
<path fill="#18ff48" d="M90,214h1v1h-1zM95,227h1v1h-1zM95,228h1v1h-1zM82,235h1v1h-1zM86,239h1v1h-1zM97,240h1v1h-1z"/>
<path fill="#00ff90" d="M91,214h1v1h-1zM91,218h1v1h-1zM86,221h1v1h-1zM87,222h1v1h-1zM91,223h1v1h-1zM91,225h1v1h-1zM94,227h1v1h-1zM84,238h1v1h-1zM97,241h1v1h-1z"/>
<path fill="#00a8ff" d="M82,215h1v1h-1zM83,216h1v1h-1zM83,217h1v1h-1zM83,221h1v1h-1zM84,223h1v1h-1zM90,223h1v1h-1zM84,224h1v1h-1zM87,224h1v1h-1zM95,225h1v1h-1zM95,226h1v1h-1zM97,226h1v1h-1zM98,228h1v1h-1zM80,229h1v1h-1zM97,229h2v1h-2zM80,231h1v1h-1zM84,242h1v1h-1zM86,242h1v1h-1zM85,243h1v1h-1zM97,243h1v1h-1zM89,246h1v1h-1z"/>
<path fill="#ff1800" d="M85,215h1v1h-1zM87,227h1v1h-1zM94,229h1v1h-1z"/>
<path fill="#a8ff00" d="M90,215h1v1h-1zM89,219h1v1h-1z"/>
<path fill="#00ff78" d="M91,215h1v1h-1zM90,220h1v1h-1zM90,221h1v1h-1zM86,225h1v1h-1zM90,226h2v1h-2zM94,226h1v1h-1zM82,227h1v1h-1z"/>
<path fill="#d8ff00" d="M84,216h1v1h-1zM85,219h1v1h-1zM85,226h1v1h-1zM82,230h1v1h-1zM96,242h1v1h-1zM93,246h1v1h-1z"/>
<path fill="#ff9000" d="M90,216h1v1h-1zM83,228h1v1h-1zM83,234h1v1h-1zM88,239h1v1h-1z"/>
<path fill="#00ff60" d="M91,216h1v1h-1zM85,225h1v1h-1zM93,227h1v1h-1zM97,239h1v1h-1zM90,246h1v1h-1zM95,246h1v1h-1zM94,247h1v1h-1z"/>
<path fill="#18ff18" d="M91,217h1v1h-1zM89,220h1v1h-1zM90,227h1v1h-1zM92,227h1v1h-1zM81,230h1v1h-1zM81,233h1v1h-1z"/>
<path fill="#18ff30" d="M84,218h1v1h-1zM89,225h1v1h-1zM91,227h1v1h-1zM87,240h1v1h-1zM91,247h1v1h-1z"/>
<path fill="#30ff00" d="M90,219h1v1h-1zM86,220h1v1h-1zM92,228h1v1h-1zM96,229h1v1h-1zM81,232h1v1h-1zM96,235h1v1h-1zM83,236h1v1h-1zM96,236h1v1h-1zM84,237h1v1h-1zM88,241h1v1h-1zM96,243h1v1h-1zM96,244h1v1h-1z"/>
<path fill="#00f090" d="M92,221h1v1h-1zM85,238h1v1h-1z"/>
<path fill="#909090" d="M79,226h1v1h-1zM80,244h1v1h-1zM80,247h1v1h-1zM82,250h1v1h-1zM85,250h1v1h-1zM88,250h1v1h-1zM81,251h1v1h-1zM85,252h3v1h-3zM84,253h1v1h-1zM88,253h1v1h-1zM90,253h1v1h-1z"/>
<path fill="#60ff00" d="M89,226h1v1h-1zM87,239h1v1h-1zM89,244h1v1h-1zM94,246h1v1h-1zM92,247h1v1h-1z"/>
<path fill="#78ff00" d="M83,227h1v1h-1zM82,228h1v1h-1zM93,228h1v1h-1z"/>
<path fill="#ff6000" d="M85,227h1v1h-1zM89,241h1v1h-1zM95,242h1v1h-1zM95,243h1v1h-1z"/>
<path fill="#ff3000" d="M88,227h1v1h-1zM90,244h1v1h-1z"/>
<path fill="#fff000" d="M91,229h1v1h-1zM82,232h1v1h-1zM83,235h1v1h-1zM96,239h1v1h-1zM88,240h1v1h-1zM96,240h1v1h-1zM95,244h1v1h-1zM92,246h1v1h-1z"/>
<path fill="#ff4800" d="M93,229h1v1h-1zM96,232h1v1h-1z"/>
<path fill="#ffff00" d="M95,229h1v1h-1z"/>
<path fill="#ffa800" d="M96,230h1v1h-1zM82,231h1v1h-1zM96,231h1v1h-1zM91,245h1v1h-1zM94,245h1v1h-1z"/>
<path fill="#989898" d="M78,231h1v1h-1zM79,243h1v1h-1zM79,245h1v1h-1zM99,245h1v1h-1zM80,246h1v1h-1zM83,247h1v1h-1zM98,247h2v1h-2zM82,248h2v1h-2zM99,248h1v1h-1zM82,249h1v1h-1zM92,250h1v1h-1zM90,251h1v1h-1zM83,252h1v1h-1zM88,252h1v1h-1zM92,252h1v1h-1zM94,252h1v1h-1zM89,253h1v1h-1zM93,253h2v1h-2zM91,254h1v1h-1z"/>
<path fill="#ff7800" d="M82,233h1v1h-1zM92,245h2v1h-2z"/>
<path fill="#ffc000" d="M87,238h1v1h-1zM90,245h1v1h-1z"/>
<path fill="#808080" d="M81,250h1v1h-1zM91,253h1v1h-1z"/>
<path fill="#888888" d="M82,252h1v1h-1zM95,252h1v1h-1zM86,253h1v1h-1zM89,254h1v1h-1z"/>
<path fill="#303030" d="M77,255h24v1h-24zM77,256h24v1h-24zM77,257h24v1h-24zM77,258h24v1h-24z"/>
</g>
<g filter="url(#mblur)" shape-rendering="crispEdges">
<path fill="#383838" d="M46,265h25v1h-25zM46,266h25v1h-25zM46,267h25v1h-25zM46,268h25v1h-25zM46,269h25v1h-25zM46,270h25v1h-25z"/>
<path fill="#101010" d="M46,271h25v1h-25z"/>
<path fill="#181818" d="M46,272h1v1h-1zM51,272h3v1h-3zM57,272h4v1h-4zM64,272h3v1h-3zM46,273h1v1h-1zM51,273h3v1h-3zM57,273h4v1h-4zM64,273h3v1h-3zM46,274h1v1h-1zM51,274h3v1h-3zM57,274h4v1h-4zM64,274h3v1h-3zM46,275h1v1h-1zM51,275h3v1h-3zM57,275h4v1h-4zM64,275h3v1h-3zM46,276h1v1h-1zM51,276h3v1h-3zM57,276h4v1h-4zM64,276h3v1h-3zM46,277h1v1h-1zM51,277h3v1h-3zM57,277h4v1h-4zM64,277h3v1h-3zM46,278h1v1h-1zM51,278h3v1h-3zM57,278h4v1h-4zM64,278h3v1h-3zM46,279h1v1h-1zM51,279h3v1h-3zM57,279h4v1h-4zM64,279h3v1h-3zM46,280h1v1h-1zM51,280h3v1h-3zM57,280h4v1h-4zM64,280h3v1h-3zM46,281h1v1h-1zM51,281h3v1h-3zM58,281h3v1h-3zM64,281h3v1h-3zM46,282h1v1h-1zM51,282h3v1h-3zM58,282h3v1h-3zM64,282h3v1h-3zM46,283h1v1h-1zM51,283h2v1h-2zM59,283h2v1h-2zM64,283h3v1h-3zM46,284h1v1h-1zM51,284h2v1h-2zM60,284h1v1h-1zM64,284h3v1h-3zM46,285h1v1h-1zM51,285h1v1h-1zM60,285h1v1h-1zM64,285h3v1h-3zM46,286h1v1h-1zM51,286h1v1h-1zM64,286h3v1h-3zM46,287h1v1h-1zM64,287h3v1h-3zM46,288h1v1h-1zM65,288h2v1h-2zM46,289h1v1h-1zM64,289h3v1h-3zM46,290h1v1h-1zM65,290h2v1h-2zM46,291h1v1h-1zM64,291h1v1h-1zM66,291h1v1h-1zM46,292h1v1h-1zM64,292h1v1h-1zM46,293h1v1h-1zM66,293h1v1h-1zM46,294h1v1h-1zM46,295h1v1h-1zM66,295h1v1h-1zM46,296h1v1h-1zM66,296h1v1h-1zM46,297h1v1h-1zM66,297h1v1h-1zM46,298h1v1h-1zM46,299h1v1h-1zM46,300h1v1h-1zM46,302h1v1h-1zM46,303h1v1h-1zM46,304h1v1h-1zM46,305h1v1h-1zM46,320h1v1h-1zM46,322h1v1h-1zM46,323h1v1h-1zM46,324h1v1h-1zM46,326h1v1h-1zM46,327h1v1h-1zM46,328h1v1h-1zM46,329h1v1h-1zM46,330h1v1h-1zM46,331h1v1h-1zM46,332h1v1h-1zM66,332h1v1h-1zM46,333h1v1h-1zM52,333h1v1h-1zM65,333h2v1h-2zM46,334h1v1h-1zM51,334h3v1h-3zM65,334h2v1h-2zM46,335h1v1h-1zM51,335h3v1h-3zM64,335h3v1h-3zM46,336h1v1h-1zM51,336h3v1h-3zM64,336h3v1h-3zM46,337h1v1h-1zM51,337h3v1h-3zM57,337h4v1h-4zM64,337h3v1h-3zM46,338h1v1h-1zM51,338h3v1h-3zM57,338h4v1h-4zM64,338h3v1h-3zM46,339h1v1h-1zM51,339h3v1h-3zM57,339h4v1h-4zM64,339h3v1h-3zM46,340h1v1h-1zM51,340h3v1h-3zM57,340h4v1h-4zM64,340h3v1h-3zM46,341h1v1h-1zM51,341h3v1h-3zM57,341h4v1h-4zM64,341h3v1h-3zM46,342h1v1h-1zM51,342h3v1h-3zM57,342h4v1h-4zM64,342h3v1h-3z"/>
<path fill="#282828" d="M47,272h4v1h-4zM54,272h3v1h-3zM61,272h3v1h-3zM67,272h4v1h-4zM47,273h4v1h-4zM54,273h3v1h-3zM61,273h3v1h-3zM67,273h4v1h-4zM47,274h4v1h-4zM54,274h3v1h-3zM61,274h3v1h-3zM67,274h4v1h-4zM47,275h4v1h-4zM54,275h3v1h-3zM61,275h3v1h-3zM67,275h4v1h-4zM47,276h4v1h-4zM54,276h3v1h-3zM61,276h3v1h-3zM67,276h4v1h-4zM47,277h4v1h-4zM54,277h3v1h-3zM61,277h3v1h-3zM67,277h4v1h-4zM47,278h4v1h-4zM54,278h3v1h-3zM61,278h3v1h-3zM67,278h4v1h-4zM47,279h4v1h-4zM54,279h3v1h-3zM61,279h3v1h-3zM67,279h4v1h-4zM47,280h4v1h-4zM54,280h1v1h-1zM61,280h3v1h-3zM67,280h4v1h-4zM47,281h4v1h-4zM54,281h1v1h-1zM61,281h3v1h-3zM67,281h4v1h-4zM47,282h4v1h-4zM61,282h3v1h-3zM67,282h4v1h-4zM47,283h4v1h-4zM61,283h3v1h-3zM67,283h4v1h-4zM47,284h4v1h-4zM61,284h3v1h-3zM67,284h4v1h-4zM47,285h4v1h-4zM62,285h2v1h-2zM67,285h4v1h-4zM47,286h4v1h-4zM62,286h2v1h-2zM67,286h4v1h-4zM47,287h4v1h-4zM62,287h2v1h-2zM67,287h4v1h-4zM47,288h4v1h-4zM63,288h1v1h-1zM67,288h4v1h-4zM47,289h4v1h-4zM63,289h1v1h-1zM67,289h4v1h-4zM47,290h3v1h-3zM67,290h4v1h-4zM47,291h3v1h-3zM67,291h4v1h-4zM47,292h3v1h-3zM68,292h3v1h-3zM47,293h2v1h-2zM67,293h4v1h-4zM47,294h2v1h-2zM68,294h3v1h-3zM47,295h2v1h-2zM68,295h3v1h-3zM67,296h4v1h-4zM68,297h3v1h-3zM47,298h1v1h-1zM67,298h4v1h-4zM47,299h1v1h-1zM70,299h1v1h-1zM68,300h1v1h-1zM70,300h1v1h-1zM69,301h1v1h-1zM70,302h1v1h-1zM70,303h1v1h-1zM69,304h1v1h-1zM70,305h1v1h-1zM70,307h1v1h-1zM69,308h1v1h-1zM70,309h1v1h-1zM47,325h1v1h-1zM70,325h1v1h-1zM47,326h1v1h-1zM70,326h1v1h-1zM47,327h1v1h-1zM69,327h2v1h-2zM47,328h1v1h-1zM68,328h2v1h-2zM47,329h2v1h-2zM68,329h3v1h-3zM47,330h3v1h-3zM68,330h3v1h-3zM47,331h2v1h-2zM50,331h1v1h-1zM68,331h3v1h-3zM47,332h4v1h-4zM67,332h4v1h-4zM47,333h4v1h-4zM67,333h4v1h-4zM47,334h4v1h-4zM67,334h4v1h-4zM47,335h4v1h-4zM54,335h2v1h-2zM67,335h4v1h-4zM47,336h4v1h-4zM54,336h3v1h-3zM63,336h1v1h-1zM67,336h4v1h-4zM47,337h4v1h-4zM54,337h3v1h-3zM61,337h3v1h-3zM67,337h4v1h-4zM47,338h4v1h-4zM54,338h3v1h-3zM61,338h3v1h-3zM67,338h4v1h-4zM47,339h4v1h-4zM54,339h3v1h-3zM61,339h3v1h-3zM67,339h4v1h-4zM47,340h4v1h-4zM54,340h3v1h-3zM61,340h3v1h-3zM67,340h4v1h-4zM47,341h4v1h-4zM54,341h3v1h-3zM61,341h3v1h-3zM67,341h4v1h-4zM47,342h4v1h-4zM54,342h3v1h-3zM61,342h3v1h-3zM67,342h4v1h-4z"/>
<path fill="#b8b8b8" d="M55,280h1v1h-1zM55,281h1v1h-1zM57,281h1v1h-1zM55,282h1v1h-1zM53,284h1v1h-1zM59,284h1v1h-1zM58,285h1v1h-1zM52,286h1v1h-1zM51,295h1v1h-1z"/>
<path fill="#c8c8c8" d="M56,280h1v1h-1zM57,282h1v1h-1zM53,283h1v1h-1zM55,283h2v1h-2zM58,283h1v1h-1zM55,284h1v1h-1zM58,284h1v1h-1zM55,285h1v1h-1zM52,287h2v1h-2z"/>
<path fill="#c0c0c0" d="M56,281h1v1h-1zM54,282h1v1h-1zM56,282h1v1h-1zM54,283h1v1h-1zM56,284h1v1h-1zM52,285h1v1h-1zM51,287h1v1h-1zM51,288h2v1h-2zM53,289h1v1h-1zM52,290h2v1h-2zM51,291h2v1h-2zM60,291h1v1h-1z"/>
<path fill="#d8d8d8" d="M57,283h1v1h-1zM57,285h1v1h-1zM55,286h1v1h-1zM53,288h2v1h-2zM56,290h1v1h-1zM53,291h1v1h-1zM56,293h1v1h-1z"/>
<path fill="#d0d0d0" d="M54,284h1v1h-1zM57,284h1v1h-1zM53,285h1v1h-1zM56,285h1v1h-1zM53,286h2v1h-2zM52,289h1v1h-1zM54,292h1v1h-1z"/>
<path fill="#6000ff" d="M54,285h1v1h-1zM56,286h1v1h-1zM64,288h1v1h-1zM60,290h1v1h-1zM63,290h1v1h-1zM62,291h1v1h-1zM65,291h1v1h-1zM52,292h2v1h-2zM57,292h2v1h-2zM60,292h1v1h-1zM66,292h1v1h-1zM62,293h1v1h-1zM52,294h1v1h-1zM63,294h1v1h-1zM66,294h1v1h-1zM52,295h1v1h-1zM65,295h1v1h-1zM67,295h1v1h-1zM47,297h1v1h-1zM52,297h1v1h-1zM48,298h1v1h-1zM68,299h1v1h-1zM47,300h1v1h-1zM46,301h1v1h-1zM68,303h1v1h-1zM70,306h1v1h-1zM46,307h1v1h-1zM70,308h1v1h-1zM46,314h1v1h-1zM46,315h1v1h-1zM46,318h1v1h-1zM46,321h1v1h-1zM46,325h1v1h-1zM68,326h1v1h-1zM49,327h1v1h-1zM68,327h1v1h-1zM51,330h1v1h-1zM64,330h1v1h-1zM67,330h1v1h-1zM51,331h1v1h-1zM66,331h1v1h-1zM51,332h1v1h-1zM55,332h1v1h-1zM60,332h1v1h-1zM51,333h1v1h-1zM56,333h2v1h-2zM59,333h1v1h-1zM63,333h1v1h-1zM58,334h1v1h-1zM61,334h1v1h-1zM61,335h1v1h-1zM58,336h2v1h-2z"/>
<path fill="#1830ff" d="M59,285h1v1h-1zM58,287h1v1h-1zM59,288h1v1h-1zM56,295h1v1h-1zM54,297h1v1h-1zM62,297h1v1h-1zM65,300h1v1h-1zM67,302h1v1h-1zM46,309h1v1h-1zM48,324h1v1h-1zM50,326h1v1h-1zM53,329h1v1h-1z"/>
<path fill="#4800ff" d="M61,285h1v1h-1zM55,288h1v1h-1zM51,289h1v1h-1zM60,289h1v1h-1zM58,290h1v1h-1zM64,290h1v1h-1zM54,291h1v1h-1zM61,291h1v1h-1zM55,292h1v1h-1zM65,292h1v1h-1zM67,292h1v1h-1zM51,293h1v1h-1zM51,294h1v1h-1zM53,294h2v1h-2zM50,295h1v1h-1zM47,296h1v1h-1zM64,296h1v1h-1zM63,297h1v1h-1zM63,298h1v1h-1zM65,298h1v1h-1zM49,299h1v1h-1zM67,299h1v1h-1zM48,300h1v1h-1zM48,301h1v1h-1zM69,303h1v1h-1zM47,304h1v1h-1zM48,305h1v1h-1zM47,306h1v1h-1zM69,306h1v1h-1zM69,307h1v1h-1zM70,312h1v1h-1zM56,314h1v1h-1zM46,316h1v1h-1zM70,316h1v1h-1zM47,317h1v1h-1zM70,321h1v1h-1zM49,326h1v1h-1zM66,326h1v1h-1zM67,327h1v1h-1zM65,328h1v1h-1zM67,328h1v1h-1zM70,328h1v1h-1zM49,331h1v1h-1zM52,331h1v1h-1zM62,331h1v1h-1zM54,332h1v1h-1zM58,332h1v1h-1zM61,332h1v1h-1zM64,332h1v1h-1zM60,334h1v1h-1zM60,335h1v1h-1z"/>
<path fill="#0048ff" d="M57,286h1v1h-1zM61,287h1v1h-1zM58,289h1v1h-1zM59,290h1v1h-1zM55,296h1v1h-1zM57,296h2v1h-2zM60,297h2v1h-2zM50,299h1v1h-1zM53,300h1v1h-1zM64,302h1v1h-1zM48,306h2v1h-2zM49,309h1v1h-1zM67,309h2v1h-2zM47,312h1v1h-1zM57,313h1v1h-1zM56,315h1v1h-1zM48,317h1v1h-1zM70,317h1v1h-1zM51,324h1v1h-1zM67,326h1v1h-1zM60,327h1v1h-1zM61,328h1v1h-1zM52,329h1v1h-1zM62,329h1v1h-1z"/>
<path fill="#3000ff" d="M58,286h1v1h-1zM60,286h1v1h-1zM55,287h1v1h-1zM57,287h1v1h-1zM59,287h1v1h-1zM54,289h2v1h-2zM62,289h1v1h-1zM54,290h1v1h-1zM61,290h1v1h-1zM55,291h1v1h-1zM57,291h1v1h-1zM59,291h1v1h-1zM51,292h1v1h-1zM53,293h1v1h-1zM64,293h1v1h-1zM65,294h1v1h-1zM67,294h1v1h-1zM53,295h1v1h-1zM55,295h1v1h-1zM52,296h1v1h-1zM56,296h1v1h-1zM65,296h1v1h-1zM51,297h1v1h-1zM64,297h1v1h-1zM67,297h1v1h-1zM66,298h1v1h-1zM50,301h1v1h-1zM70,301h1v1h-1zM49,303h1v1h-1zM68,304h1v1h-1zM68,306h1v1h-1zM46,308h1v1h-1zM46,310h1v1h-1zM48,310h1v1h-1zM46,313h2v1h-2zM70,313h1v1h-1zM70,315h1v1h-1zM48,320h1v1h-1zM48,321h1v1h-1zM47,322h2v1h-2zM69,322h1v1h-1zM48,323h1v1h-1zM69,323h1v1h-1zM49,324h1v1h-1zM70,324h1v1h-1zM69,325h1v1h-1zM48,326h1v1h-1zM52,326h1v1h-1zM69,326h1v1h-1zM50,327h2v1h-2zM66,329h1v1h-1zM53,330h1v1h-1zM60,330h1v1h-1zM53,331h3v1h-3zM58,331h2v1h-2zM61,331h1v1h-1zM63,331h1v1h-1zM53,332h1v1h-1zM59,332h1v1h-1zM58,333h1v1h-1zM60,333h1v1h-1zM56,334h1v1h-1z"/>
<path fill="#1818ff" d="M59,286h1v1h-1zM56,288h2v1h-2zM60,288h1v1h-1zM56,289h1v1h-1zM57,290h1v1h-1zM56,291h1v1h-1zM61,292h1v1h-1zM52,293h1v1h-1zM54,293h1v1h-1zM58,293h1v1h-1zM60,293h2v1h-2zM63,293h1v1h-1zM65,293h1v1h-1zM55,294h1v1h-1zM62,294h1v1h-1zM59,295h1v1h-1zM62,295h1v1h-1zM53,296h1v1h-1zM50,297h1v1h-1zM53,297h1v1h-1zM65,297h1v1h-1zM50,298h1v1h-1zM51,299h2v1h-2zM64,299h2v1h-2zM50,300h2v1h-2zM66,301h3v1h-3zM67,303h1v1h-1zM67,304h1v1h-1zM69,305h1v1h-1zM67,306h1v1h-1zM48,307h2v1h-2zM68,307h1v1h-1zM47,309h2v1h-2zM47,310h1v1h-1zM69,310h2v1h-2zM69,311h2v1h-2zM47,314h1v1h-1zM57,314h1v1h-1zM48,315h1v1h-1zM46,317h1v1h-1zM47,318h1v1h-1zM46,319h3v1h-3zM70,319h1v1h-1zM49,323h2v1h-2zM68,323h1v1h-1zM68,324h1v1h-1zM49,325h1v1h-1zM51,325h1v1h-1zM51,326h1v1h-1zM53,327h1v1h-1zM63,327h1v1h-1zM65,327h1v1h-1zM54,328h2v1h-2zM54,329h2v1h-2zM64,329h2v1h-2zM52,330h1v1h-1zM59,330h1v1h-1z"/>
<path fill="#7800ff" d="M61,286h1v1h-1zM54,287h1v1h-1zM62,288h1v1h-1zM55,290h1v1h-1zM59,293h1v1h-1zM57,294h1v1h-1zM49,295h1v1h-1zM64,295h1v1h-1zM69,299h1v1h-1zM69,300h1v1h-1zM47,301h1v1h-1zM68,302h2v1h-2zM47,303h1v1h-1zM48,304h1v1h-1zM70,304h1v1h-1zM47,305h1v1h-1zM46,306h1v1h-1zM69,309h1v1h-1zM46,311h1v1h-1zM46,312h1v1h-1zM47,316h1v1h-1zM70,322h1v1h-1zM70,323h1v1h-1zM68,325h1v1h-1zM51,328h1v1h-1zM54,330h1v1h-1zM67,331h1v1h-1zM61,333h1v1h-1zM57,335h3v1h-3zM62,336h1v1h-1z"/>
<path fill="#1800ff" d="M56,287h1v1h-1zM61,289h1v1h-1zM58,291h1v1h-1zM50,296h2v1h-2zM63,296h1v1h-1zM49,298h1v1h-1zM66,299h1v1h-1zM67,300h1v1h-1zM49,301h1v1h-1zM66,303h1v1h-1zM49,304h1v1h-1zM49,305h1v1h-1zM66,305h1v1h-1zM48,308h1v1h-1zM47,311h1v1h-1zM56,313h1v1h-1zM48,316h1v1h-1zM70,320h1v1h-1zM47,324h1v1h-1zM67,325h1v1h-1zM66,327h1v1h-1zM52,328h1v1h-1zM66,328h1v1h-1zM56,331h1v1h-1zM56,332h2v1h-2z"/>
<path fill="#0030ff" d="M60,287h1v1h-1zM61,288h1v1h-1zM57,289h1v1h-1zM59,289h1v1h-1zM56,292h1v1h-1zM59,292h1v1h-1zM62,292h1v1h-1zM55,293h1v1h-1zM59,294h1v1h-1zM61,294h1v1h-1zM58,295h1v1h-1zM60,295h1v1h-1zM63,295h1v1h-1zM61,296h2v1h-2zM51,298h1v1h-1zM59,298h1v1h-1zM64,298h1v1h-1zM63,300h1v1h-1zM64,301h1v1h-1zM48,302h2v1h-2zM48,303h1v1h-1zM64,303h1v1h-1zM47,307h1v1h-1zM48,313h1v1h-1zM55,313h1v1h-1zM48,314h1v1h-1zM55,314h1v1h-1zM70,314h1v1h-1zM47,315h1v1h-1zM69,321h1v1h-1zM69,324h1v1h-1zM48,325h1v1h-1zM53,326h1v1h-1zM54,327h1v1h-1zM63,328h1v1h-1zM56,329h1v1h-1zM58,329h1v1h-1zM63,329h1v1h-1zM55,330h4v1h-4zM61,330h2v1h-2zM57,331h1v1h-1zM60,331h1v1h-1z"/>
<path fill="#0078ff" d="M58,288h1v1h-1zM58,294h1v1h-1zM58,297h1v1h-1zM56,298h1v1h-1zM62,298h1v1h-1zM60,299h1v1h-1zM62,299h1v1h-1zM64,300h1v1h-1zM52,301h1v1h-1zM51,302h1v1h-1zM51,303h1v1h-1zM65,305h1v1h-1zM67,305h1v1h-1zM50,306h1v1h-1zM67,307h1v1h-1zM47,308h1v1h-1zM67,308h1v1h-1zM48,311h1v1h-1zM50,311h1v1h-1zM56,312h1v1h-1zM54,313h1v1h-1zM49,314h1v1h-1zM55,315h1v1h-1zM48,318h1v1h-1zM70,318h1v1h-1zM49,320h1v1h-1zM50,322h1v1h-1zM50,325h1v1h-1zM52,325h2v1h-2zM61,327h1v1h-1zM53,328h1v1h-1zM56,328h1v1h-1zM59,328h1v1h-1zM62,328h1v1h-1zM60,329h1v1h-1z"/>
<path fill="#b0b0b0" d="M50,290h1v1h-1zM50,292h1v1h-1zM49,293h1v1h-1zM49,294h2v1h-2zM49,296h1v1h-1z"/>
<path fill="#a8a8a8" d="M51,290h1v1h-1zM50,291h1v1h-1zM63,291h1v1h-1zM63,292h1v1h-1zM50,293h1v1h-1zM48,296h1v1h-1zM48,297h2v1h-2zM51,329h1v1h-1zM59,334h1v1h-1z"/>
<path fill="#a0a0a0" d="M62,290h1v1h-1zM48,299h1v1h-1zM49,300h1v1h-1zM50,328h1v1h-1zM67,329h1v1h-1zM55,334h1v1h-1z"/>
<path fill="#0060ff" d="M57,293h1v1h-1zM56,294h1v1h-1zM60,294h1v1h-1zM54,295h1v1h-1zM57,295h1v1h-1zM61,295h1v1h-1zM54,296h1v1h-1zM55,297h2v1h-2zM59,297h1v1h-1zM52,298h1v1h-1zM61,298h1v1h-1zM53,299h2v1h-2zM52,300h1v1h-1zM66,300h1v1h-1zM51,301h1v1h-1zM52,302h1v1h-1zM65,304h2v1h-2zM50,307h1v1h-1zM49,308h1v1h-1zM68,312h1v1h-1zM49,313h1v1h-1zM69,313h1v1h-1zM69,315h1v1h-1zM69,317h1v1h-1zM49,322h1v1h-1zM51,322h1v1h-1zM66,325h1v1h-1zM65,326h1v1h-1zM64,327h1v1h-1zM57,329h1v1h-1z"/>
<path fill="#989898" d="M64,294h1v1h-1zM47,320h1v1h-1zM47,321h1v1h-1zM47,323h1v1h-1zM48,328h1v1h-1zM49,329h1v1h-1zM50,330h1v1h-1zM63,330h1v1h-1zM65,330h2v1h-2zM64,331h1v1h-1zM63,332h1v1h-1zM65,332h1v1h-1zM54,333h2v1h-2zM62,333h1v1h-1zM64,333h1v1h-1zM54,334h1v1h-1zM63,334h1v1h-1zM62,335h2v1h-2zM60,336h1v1h-1z"/>
<path fill="#0090ff" d="M59,296h2v1h-2zM57,297h1v1h-1zM54,298h1v1h-1zM63,299h1v1h-1zM65,301h1v1h-1zM50,303h1v1h-1zM52,303h1v1h-1zM65,303h1v1h-1zM50,304h1v1h-1zM50,305h1v1h-1zM65,306h2v1h-2zM66,307h1v1h-1zM66,308h1v1h-1zM66,309h1v1h-1zM68,311h1v1h-1zM54,312h1v1h-1zM54,314h1v1h-1zM49,315h1v1h-1zM57,315h1v1h-1zM69,319h1v1h-1zM69,320h1v1h-1zM51,323h1v1h-1zM50,324h1v1h-1zM54,326h1v1h-1zM52,327h1v1h-1zM62,327h1v1h-1zM64,328h1v1h-1zM59,329h1v1h-1z"/>
<path fill="#00a8ff" d="M53,298h1v1h-1zM55,298h1v1h-1zM57,298h1v1h-1zM55,299h2v1h-2zM61,299h1v1h-1zM65,302h2v1h-2zM64,304h1v1h-1zM51,306h1v1h-1zM51,307h1v1h-1zM49,310h1v1h-1zM68,310h1v1h-1zM48,312h1v1h-1zM69,314h1v1h-1zM69,316h1v1h-1zM50,321h1v1h-1zM67,324h1v1h-1zM55,327h1v1h-1zM58,327h1v1h-1zM60,328h1v1h-1zM61,329h1v1h-1z"/>
<path fill="#00c0ff" d="M58,298h1v1h-1zM59,299h1v1h-1zM61,300h1v1h-1zM62,301h1v1h-1zM50,302h1v1h-1zM62,302h2v1h-2zM52,304h1v1h-1zM64,305h1v1h-1zM68,305h1v1h-1zM51,309h1v1h-1zM50,310h1v1h-1zM67,310h1v1h-1zM49,312h1v1h-1zM55,312h1v1h-1zM69,312h1v1h-1zM52,313h1v1h-1zM69,318h1v1h-1zM68,322h1v1h-1zM52,323h1v1h-1zM54,325h1v1h-1zM57,327h1v1h-1zM58,328h1v1h-1z"/>
<path fill="#00f0ff" d="M60,298h1v1h-1zM54,300h1v1h-1zM55,301h1v1h-1zM60,302h2v1h-2zM51,305h2v1h-2zM63,305h1v1h-1zM65,307h1v1h-1zM65,309h1v1h-1zM56,311h1v1h-1zM57,312h1v1h-1zM67,312h1v1h-1zM51,313h1v1h-1zM50,315h2v1h-2zM52,321h1v1h-1zM53,324h1v1h-1zM57,328h1v1h-1z"/>
<path fill="#00f0c0" d="M57,299h1v1h-1zM57,300h2v1h-2zM60,300h1v1h-1zM59,301h3v1h-3zM61,304h1v1h-1zM53,306h1v1h-1zM52,309h1v1h-1zM56,310h1v1h-1zM55,311h1v1h-1zM50,313h1v1h-1zM67,313h1v1h-1zM49,316h1v1h-1zM68,321h1v1h-1zM53,323h2v1h-2zM67,323h1v1h-1z"/>
<path fill="#00f0a8" d="M58,299h1v1h-1zM56,300h1v1h-1zM54,301h1v1h-1zM62,306h2v1h-2zM64,307h1v1h-1zM51,308h1v1h-1zM53,308h1v1h-1zM53,310h1v1h-1zM58,310h1v1h-1zM58,311h1v1h-1zM51,312h1v1h-1zM68,314h1v1h-1zM53,315h1v1h-1zM52,316h2v1h-2zM56,316h1v1h-1zM52,320h2v1h-2zM65,324h1v1h-1zM59,326h1v1h-1z"/>
<path fill="#00f0d8" d="M55,300h1v1h-1zM59,300h1v1h-1zM62,304h1v1h-1zM52,306h1v1h-1zM63,307h1v1h-1zM51,310h1v1h-1zM51,314h1v1h-1zM53,314h1v1h-1zM58,314h1v1h-1zM68,315h1v1h-1zM54,316h1v1h-1zM50,320h1v1h-1zM51,321h1v1h-1zM52,322h1v1h-1zM54,322h1v1h-1zM55,324h1v1h-1zM65,325h1v1h-1zM56,326h1v1h-1zM58,326h1v1h-1zM62,326h1v1h-1zM64,326h1v1h-1z"/>
<path fill="#00d8ff" d="M62,300h1v1h-1zM53,301h1v1h-1zM63,301h1v1h-1zM54,302h1v1h-1zM64,306h1v1h-1zM68,308h1v1h-1zM50,309h1v1h-1zM66,310h1v1h-1zM49,311h1v1h-1zM66,311h1v1h-1zM53,313h1v1h-1zM68,313h1v1h-1zM50,314h1v1h-1zM52,315h1v1h-1zM54,315h1v1h-1zM49,321h1v1h-1zM53,322h1v1h-1zM52,324h1v1h-1zM55,325h1v1h-1zM55,326h1v1h-1zM56,327h1v1h-1z"/>
<path fill="#18ff30" d="M56,301h1v1h-1zM55,308h1v1h-1zM55,309h1v1h-1zM59,309h1v1h-1zM62,309h1v1h-1zM61,310h2v1h-2zM55,316h1v1h-1zM49,317h1v1h-1zM54,317h1v1h-1zM68,317h1v1h-1zM68,318h1v1h-1zM54,320h1v1h-1zM68,320h1v1h-1zM58,325h1v1h-1z"/>
<path fill="#90ff00" d="M57,301h1v1h-1zM59,306h1v1h-1zM61,311h2v1h-2zM57,324h1v1h-1zM61,325h1v1h-1z"/>
<path fill="#18ff48" d="M58,301h1v1h-1zM60,305h1v1h-1zM54,306h1v1h-1zM54,307h1v1h-1zM59,307h2v1h-2zM62,307h1v1h-1zM60,308h1v1h-1zM54,309h1v1h-1zM61,309h1v1h-1zM63,309h2v1h-2zM57,310h1v1h-1zM59,311h1v1h-1zM52,312h1v1h-1zM49,318h1v1h-1zM49,319h1v1h-1zM53,319h1v1h-1zM57,325h1v1h-1z"/>
<path fill="#909090" d="M47,302h1v1h-1zM48,327h1v1h-1zM50,329h1v1h-1zM65,331h1v1h-1zM52,332h1v1h-1zM62,332h1v1h-1zM53,333h1v1h-1zM57,334h1v1h-1zM62,334h1v1h-1zM61,336h1v1h-1z"/>
<path fill="#00f0f0" d="M53,302h1v1h-1zM53,303h1v1h-1zM63,303h1v1h-1zM51,304h1v1h-1zM63,304h1v1h-1zM53,305h1v1h-1zM62,305h1v1h-1zM61,306h1v1h-1zM52,307h2v1h-2zM50,308h1v1h-1zM65,308h1v1h-1zM51,311h1v1h-1zM54,311h1v1h-1zM50,312h1v1h-1zM58,313h1v1h-1zM54,324h1v1h-1zM56,325h1v1h-1zM63,326h1v1h-1zM59,327h1v1h-1z"/>
<path fill="#d8ff00" d="M55,302h1v1h-1zM55,306h1v1h-1zM55,322h1v1h-1z"/>
<path fill="#ff0000" d="M56,302h3v1h-3zM55,303h5v1h-5zM55,304h5v1h-5zM55,305h5v1h-5zM56,306h3v1h-3zM61,313h4v1h-4zM60,314h5v1h-5zM60,315h6v1h-6zM59,316h8v1h-8zM58,317h9v1h-9zM56,318h11v1h-11zM56,319h11v1h-11zM56,320h11v1h-11zM56,321h11v1h-11zM57,322h8v1h-8zM58,323h6v1h-6zM61,324h1v1h-1z"/>
<path fill="#48ff00" d="M59,302h1v1h-1zM54,304h1v1h-1zM58,307h1v1h-1zM66,313h1v1h-1zM54,318h1v1h-1zM59,325h1v1h-1z"/>
<path fill="#30ff00" d="M54,303h1v1h-1zM60,303h1v1h-1zM60,304h1v1h-1zM61,305h1v1h-1zM56,307h1v1h-1zM57,308h2v1h-2zM58,309h1v1h-1zM59,310h2v1h-2zM63,311h2v1h-2zM50,316h1v1h-1zM56,324h1v1h-1zM62,325h1v1h-1z"/>
<path fill="#00ff78" d="M61,303h2v1h-2zM60,306h1v1h-1zM52,308h1v1h-1zM61,308h1v1h-1zM63,308h1v1h-1zM64,310h2v1h-2zM52,311h1v1h-1zM67,311h1v1h-1zM52,314h1v1h-1zM66,324h1v1h-1zM57,326h1v1h-1zM60,326h1v1h-1z"/>
<path fill="#00ff60" d="M53,304h1v1h-1zM54,305h1v1h-1zM56,308h1v1h-1zM62,308h1v1h-1zM64,308h1v1h-1zM60,309h1v1h-1zM55,310h1v1h-1zM63,310h1v1h-1zM66,312h1v1h-1zM68,316h1v1h-1zM68,319h1v1h-1zM67,322h1v1h-1z"/>
<path fill="#18ff18" d="M55,307h1v1h-1zM54,308h1v1h-1zM56,309h2v1h-2zM53,312h1v1h-1zM67,314h1v1h-1zM58,315h1v1h-1zM57,316h1v1h-1zM53,317h1v1h-1zM53,318h1v1h-1zM60,325h1v1h-1z"/>
<path fill="#a8ff00" d="M57,307h1v1h-1zM65,312h1v1h-1zM50,319h1v1h-1zM54,319h1v1h-1zM58,324h1v1h-1z"/>
<path fill="#00ff90" d="M61,307h1v1h-1zM53,309h1v1h-1zM52,310h1v1h-1zM54,310h1v1h-1zM53,311h1v1h-1zM57,311h1v1h-1zM65,311h1v1h-1zM58,312h1v1h-1zM51,320h1v1h-1zM53,321h1v1h-1zM55,323h1v1h-1zM64,325h1v1h-1zM61,326h1v1h-1z"/>
<path fill="#60ff00" d="M59,308h1v1h-1zM52,319h1v1h-1zM54,321h1v1h-1zM66,323h1v1h-1zM63,325h1v1h-1z"/>
<path fill="#78ff00" d="M60,311h1v1h-1zM59,312h1v1h-1zM59,313h1v1h-1zM67,315h1v1h-1zM51,316h1v1h-1zM67,321h1v1h-1zM56,323h1v1h-1z"/>
<path fill="#f0ff00" d="M60,312h1v1h-1zM66,314h1v1h-1zM56,317h1v1h-1zM55,321h1v1h-1z"/>
<path fill="#ff6000" d="M61,312h2v1h-2zM55,319h1v1h-1zM55,320h1v1h-1zM60,324h1v1h-1z"/>
<path fill="#ffc000" d="M63,312h1v1h-1zM66,315h1v1h-1zM67,318h1v1h-1zM57,323h1v1h-1zM63,324h1v1h-1z"/>
<path fill="#fff000" d="M64,312h1v1h-1zM58,316h1v1h-1zM67,320h1v1h-1zM65,323h1v1h-1z"/>
<path fill="#ff3000" d="M60,313h1v1h-1zM65,314h1v1h-1zM67,319h1v1h-1zM65,322h1v1h-1zM64,323h1v1h-1z"/>
<path fill="#c0ff00" d="M65,313h1v1h-1zM59,314h1v1h-1zM52,317h1v1h-1zM55,317h1v1h-1zM52,318h1v1h-1zM51,319h1v1h-1zM64,324h1v1h-1z"/>
<path fill="#ffa800" d="M59,315h1v1h-1zM51,317h1v1h-1zM57,317h1v1h-1zM56,322h1v1h-1z"/>
<path fill="#ffff00" d="M67,316h1v1h-1z"/>
<path fill="#ff9000" d="M50,317h1v1h-1zM50,318h2v1h-2zM55,318h1v1h-1zM62,324h1v1h-1z"/>
<path fill="#ffd800" d="M67,317h1v1h-1zM66,322h1v1h-1z"/>
<path fill="#ff4800" d="M59,324h1v1h-1z"/>
<path fill="#888888" d="M49,328h1v1h-1zM64,334h1v1h-1zM56,335h1v1h-1zM57,336h1v1h-1z"/>
<path fill="#303030" d="M46,343h25v1h-25zM46,344h25v1h-25zM46,345h25v1h-25zM46,346h25v1h-25z"/>
</g>
<g filter="url(#mblur)" shape-rendering="crispEdges">
<path fill="#383838" d="M77,265h24v1h-24zM77,266h24v1h-24zM77,267h24v1h-24zM77,268h24v1h-24zM77,269h24v1h-24zM77,270h24v1h-24z"/>
<path fill="#101010" d="M77,271h24v1h-24z"/>
<path fill="#181818" d="M77,272h1v1h-1zM82,272h3v1h-3zM88,272h4v1h-4zM95,272h3v1h-3zM77,273h1v1h-1zM82,273h3v1h-3zM88,273h4v1h-4zM95,273h3v1h-3zM77,274h1v1h-1zM82,274h3v1h-3zM88,274h4v1h-4zM95,274h3v1h-3zM77,275h1v1h-1zM82,275h3v1h-3zM88,275h4v1h-4zM95,275h3v1h-3zM77,276h1v1h-1zM82,276h3v1h-3zM88,276h4v1h-4zM95,276h3v1h-3zM77,277h1v1h-1zM82,277h3v1h-3zM88,277h4v1h-4zM95,277h3v1h-3zM77,278h1v1h-1zM82,278h3v1h-3zM88,278h4v1h-4zM95,278h3v1h-3zM77,279h1v1h-1zM82,279h3v1h-3zM88,279h4v1h-4zM95,279h3v1h-3zM77,280h1v1h-1zM82,280h3v1h-3zM88,280h4v1h-4zM95,280h3v1h-3zM77,281h1v1h-1zM82,281h3v1h-3zM88,281h4v1h-4zM95,281h3v1h-3zM77,282h1v1h-1zM82,282h3v1h-3zM88,282h1v1h-1zM90,282h2v1h-2zM95,282h3v1h-3zM77,283h1v1h-1zM82,283h3v1h-3zM95,283h3v1h-3zM77,284h1v1h-1zM82,284h3v1h-3zM95,284h3v1h-3zM77,285h1v1h-1zM82,285h3v1h-3zM95,285h3v1h-3zM77,286h1v1h-1zM82,286h3v1h-3zM95,286h3v1h-3zM77,287h1v1h-1zM82,287h3v1h-3zM95,287h3v1h-3zM77,288h1v1h-1zM82,288h3v1h-3zM95,288h3v1h-3zM77,289h1v1h-1zM82,289h3v1h-3zM95,289h3v1h-3zM77,290h1v1h-1zM82,290h3v1h-3zM96,290h2v1h-2zM77,291h1v1h-1zM82,291h3v1h-3zM96,291h2v1h-2zM77,292h1v1h-1zM82,292h2v1h-2zM96,292h2v1h-2zM77,293h1v1h-1zM82,293h2v1h-2zM97,293h1v1h-1zM77,294h1v1h-1zM82,294h2v1h-2zM97,294h1v1h-1zM77,295h1v1h-1zM82,295h1v1h-1zM97,295h1v1h-1zM77,296h1v1h-1zM82,296h1v1h-1zM97,296h1v1h-1zM77,297h1v1h-1zM97,297h1v1h-1zM77,298h1v1h-1zM77,299h1v1h-1zM77,300h1v1h-1zM77,301h1v1h-1zM77,302h1v1h-1zM77,303h1v1h-1zM77,304h1v1h-1zM77,305h1v1h-1zM77,306h1v1h-1zM77,307h1v1h-1zM77,308h1v1h-1zM77,309h1v1h-1zM77,310h1v1h-1zM77,311h1v1h-1zM77,312h1v1h-1zM77,313h1v1h-1zM77,314h1v1h-1zM77,315h1v1h-1zM77,316h1v1h-1zM77,317h1v1h-1zM77,318h1v1h-1zM77,319h1v1h-1zM77,320h1v1h-1zM77,321h1v1h-1zM77,322h1v1h-1zM77,323h1v1h-1zM77,324h1v1h-1zM77,325h1v1h-1zM77,326h1v1h-1zM77,327h1v1h-1zM77,328h1v1h-1zM77,329h1v1h-1zM77,330h1v1h-1zM77,331h1v1h-1zM77,332h1v1h-1zM77,333h1v1h-1zM77,334h1v1h-1zM97,334h1v1h-1zM77,335h1v1h-1zM97,335h1v1h-1zM77,336h1v1h-1zM96,336h2v1h-2zM77,337h1v1h-1zM82,337h1v1h-1zM95,337h3v1h-3zM77,338h1v1h-1zM82,338h3v1h-3zM88,338h4v1h-4zM95,338h3v1h-3zM77,339h1v1h-1zM82,339h3v1h-3zM88,339h4v1h-4zM95,339h3v1h-3zM77,340h1v1h-1zM82,340h3v1h-3zM88,340h4v1h-4zM95,340h3v1h-3zM77,341h1v1h-1zM82,341h3v1h-3zM88,341h4v1h-4zM95,341h3v1h-3zM77,342h1v1h-1zM82,342h3v1h-3zM88,342h4v1h-4zM95,342h3v1h-3z"/>
<path fill="#282828" d="M78,272h4v1h-4zM85,272h3v1h-3zM92,272h3v1h-3zM98,272h3v1h-3zM78,273h4v1h-4zM85,273h3v1h-3zM92,273h3v1h-3zM98,273h3v1h-3zM78,274h4v1h-4zM85,274h3v1h-3zM92,274h3v1h-3zM98,274h3v1h-3zM78,275h4v1h-4zM85,275h3v1h-3zM92,275h3v1h-3zM98,275h3v1h-3zM78,276h4v1h-4zM85,276h3v1h-3zM92,276h3v1h-3zM98,276h3v1h-3zM78,277h4v1h-4zM85,277h3v1h-3zM92,277h3v1h-3zM98,277h3v1h-3zM78,278h4v1h-4zM85,278h3v1h-3zM92,278h3v1h-3zM98,278h3v1h-3zM78,279h4v1h-4zM85,279h3v1h-3zM92,279h3v1h-3zM98,279h3v1h-3zM78,280h4v1h-4zM85,280h3v1h-3zM92,280h3v1h-3zM98,280h3v1h-3zM78,281h4v1h-4zM85,281h3v1h-3zM92,281h3v1h-3zM98,281h3v1h-3zM78,282h4v1h-4zM85,282h3v1h-3zM92,282h3v1h-3zM98,282h3v1h-3zM78,283h4v1h-4zM85,283h3v1h-3zM92,283h3v1h-3zM98,283h3v1h-3zM78,284h4v1h-4zM85,284h2v1h-2zM93,284h2v1h-2zM98,284h3v1h-3zM78,285h4v1h-4zM85,285h1v1h-1zM93,285h2v1h-2zM98,285h3v1h-3zM78,286h4v1h-4zM85,286h1v1h-1zM94,286h1v1h-1zM98,286h3v1h-3zM78,287h4v1h-4zM85,287h1v1h-1zM98,287h3v1h-3zM78,288h4v1h-4zM98,288h3v1h-3zM78,289h4v1h-4zM98,289h3v1h-3zM78,290h4v1h-4zM98,290h3v1h-3zM78,291h4v1h-4zM98,291h3v1h-3zM78,292h4v1h-4zM98,292h3v1h-3zM78,293h4v1h-4zM98,293h3v1h-3zM78,294h4v1h-4zM98,294h3v1h-3zM78,295h4v1h-4zM98,295h3v1h-3zM78,296h1v1h-1zM81,296h1v1h-1zM98,296h3v1h-3zM78,297h1v1h-1zM98,297h3v1h-3zM98,298h3v1h-3zM78,299h2v1h-2zM98,299h3v1h-3zM78,300h3v1h-3zM98,300h3v1h-3zM78,301h3v1h-3zM98,301h3v1h-3zM78,302h3v1h-3zM98,302h3v1h-3zM78,303h2v1h-2zM99,303h2v1h-2zM78,304h2v1h-2zM99,304h2v1h-2zM78,305h2v1h-2zM99,305h2v1h-2zM78,306h2v1h-2zM99,306h2v1h-2zM78,307h2v1h-2zM99,307h2v1h-2zM78,308h1v1h-1zM99,308h2v1h-2zM78,309h1v1h-1zM99,309h2v1h-2zM78,310h1v1h-1zM99,310h2v1h-2zM78,311h1v1h-1zM99,311h2v1h-2zM78,312h1v1h-1zM99,312h2v1h-2zM78,313h1v1h-1zM99,313h2v1h-2zM78,314h1v1h-1zM99,314h2v1h-2zM78,315h1v1h-1zM99,315h2v1h-2zM78,316h1v1h-1zM99,316h2v1h-2zM78,317h1v1h-1zM99,317h2v1h-2zM78,318h1v1h-1zM99,318h2v1h-2zM78,319h1v1h-1zM99,319h2v1h-2zM78,320h1v1h-1zM99,320h2v1h-2zM78,321h1v1h-1zM99,321h2v1h-2zM78,322h1v1h-1zM99,322h2v1h-2zM78,323h1v1h-1zM99,323h2v1h-2zM78,324h1v1h-1zM99,324h2v1h-2zM78,325h1v1h-1zM99,325h2v1h-2zM78,326h1v1h-1zM99,326h2v1h-2zM78,327h1v1h-1zM99,327h2v1h-2zM78,328h1v1h-1zM99,328h2v1h-2zM78,329h1v1h-1zM99,329h2v1h-2zM78,330h2v1h-2zM99,330h2v1h-2zM78,331h2v1h-2zM98,331h3v1h-3zM78,332h2v1h-2zM98,332h3v1h-3zM78,333h2v1h-2zM98,333h3v1h-3zM78,334h2v1h-2zM98,334h3v1h-3zM78,335h3v1h-3zM98,335h3v1h-3zM78,336h4v1h-4zM98,336h3v1h-3zM78,337h4v1h-4zM94,337h1v1h-1zM98,337h3v1h-3zM78,338h4v1h-4zM85,338h3v1h-3zM92,338h3v1h-3zM98,338h3v1h-3zM78,339h4v1h-4zM85,339h3v1h-3zM92,339h3v1h-3zM98,339h3v1h-3zM78,340h4v1h-4zM85,340h3v1h-3zM92,340h3v1h-3zM98,340h3v1h-3zM78,341h4v1h-4zM85,341h3v1h-3zM92,341h3v1h-3zM98,341h3v1h-3zM78,342h4v1h-4zM85,342h3v1h-3zM92,342h3v1h-3zM98,342h3v1h-3z"/>
<path fill="#d8d8d8" d="M89,282h1v1h-1zM88,283h3v1h-3zM90,284h1v1h-1zM88,285h1v1h-1zM92,285h1v1h-1zM87,286h1v1h-1zM89,286h4v1h-4zM89,287h2v1h-2zM93,287h2v1h-2zM85,288h1v1h-1zM87,288h3v1h-3zM91,288h1v1h-1zM86,289h1v1h-1zM89,289h3v1h-3zM86,290h2v1h-2zM89,290h5v1h-5zM86,291h1v1h-1zM89,291h1v1h-1zM91,291h1v1h-1zM94,291h1v1h-1zM85,292h1v1h-1zM89,292h1v1h-1zM94,292h2v1h-2zM90,293h1v1h-1zM92,293h1v1h-1zM95,293h1v1h-1zM86,294h2v1h-2zM83,295h1v1h-1zM85,295h1v1h-1zM87,295h1v1h-1zM90,295h1v1h-1zM85,296h1v1h-1zM94,296h2v1h-2zM79,297h2v1h-2zM83,297h2v1h-2zM86,297h1v1h-1zM89,297h2v1h-2zM95,297h2v1h-2zM82,298h1v1h-1zM84,298h2v1h-2zM93,298h1v1h-1zM96,298h1v1h-1zM81,299h1v1h-1zM83,299h1v1h-1zM87,299h1v1h-1zM93,299h1v1h-1zM83,300h1v1h-1zM87,300h1v1h-1zM92,300h1v1h-1zM95,300h1v1h-1zM83,301h2v1h-2zM86,301h1v1h-1zM96,301h1v1h-1zM85,302h1v1h-1zM95,302h1v1h-1zM97,302h1v1h-1zM83,303h1v1h-1zM95,303h2v1h-2zM80,304h1v1h-1zM83,304h1v1h-1zM81,305h1v1h-1zM85,305h1v1h-1zM84,306h1v1h-1zM94,306h1v1h-1zM97,306h1v1h-1zM80,307h1v1h-1zM98,307h1v1h-1zM80,308h1v1h-1zM82,308h2v1h-2zM95,308h2v1h-2zM98,308h1v1h-1zM83,309h1v1h-1zM82,310h1v1h-1zM97,310h2v1h-2zM84,311h1v1h-1zM93,311h1v1h-1zM97,311h2v1h-2zM81,312h2v1h-2zM97,312h1v1h-1zM80,313h3v1h-3zM95,313h1v1h-1zM98,313h1v1h-1zM96,314h2v1h-2zM84,315h1v1h-1zM86,315h1v1h-1zM97,315h1v1h-1zM80,316h1v1h-1zM84,316h1v1h-1zM95,316h1v1h-1zM80,317h4v1h-4zM88,317h1v1h-1zM82,318h2v1h-2zM97,318h2v1h-2zM85,319h2v1h-2zM96,319h1v1h-1zM82,320h1v1h-1zM94,320h2v1h-2zM82,321h1v1h-1zM96,321h1v1h-1zM83,322h1v1h-1zM85,322h1v1h-1zM95,322h2v1h-2zM98,322h1v1h-1zM81,323h2v1h-2zM97,323h1v1h-1zM81,324h2v1h-2zM94,324h3v1h-3zM82,325h1v1h-1zM94,325h1v1h-1zM97,325h1v1h-1zM82,326h1v1h-1zM91,326h1v1h-1zM97,326h1v1h-1zM87,327h1v1h-1zM94,327h1v1h-1zM97,327h2v1h-2zM91,328h2v1h-2zM96,328h1v1h-1zM82,329h1v1h-1zM90,329h1v1h-1zM93,329h1v1h-1zM95,329h3v1h-3zM85,330h2v1h-2zM88,330h1v1h-1zM93,330h1v1h-1zM95,330h1v1h-1zM85,331h4v1h-4zM91,331h1v1h-1zM94,331h1v1h-1zM96,331h1v1h-1zM87,332h1v1h-1zM89,332h2v1h-2zM92,332h3v1h-3zM88,333h3v1h-3zM92,333h1v1h-1zM96,333h1v1h-1zM83,334h1v1h-1zM90,334h1v1h-1zM93,334h1v1h-1zM96,334h1v1h-1zM88,335h1v1h-1zM90,335h3v1h-3zM83,336h1v1h-1zM87,336h1v1h-1zM89,336h1v1h-1zM91,336h3v1h-3zM85,337h1v1h-1zM89,337h3v1h-3z"/>
<path fill="#d0d0d0" d="M91,283h1v1h-1zM88,284h2v1h-2zM91,284h1v1h-1zM86,285h2v1h-2zM89,285h1v1h-1zM91,285h1v1h-1zM86,286h1v1h-1zM93,286h1v1h-1zM91,287h1v1h-1zM86,288h1v1h-1zM90,288h1v1h-1zM92,288h1v1h-1zM85,289h1v1h-1zM87,289h1v1h-1zM92,289h2v1h-2zM85,291h1v1h-1zM95,291h1v1h-1zM84,292h1v1h-1zM93,292h1v1h-1zM84,293h2v1h-2zM93,293h1v1h-1zM96,293h1v1h-1zM85,294h1v1h-1zM94,294h2v1h-2zM84,295h1v1h-1zM95,295h1v1h-1zM83,296h1v1h-1zM96,296h1v1h-1zM81,297h1v1h-1zM78,298h1v1h-1zM80,298h1v1h-1zM97,298h1v1h-1zM82,299h1v1h-1zM82,300h1v1h-1zM85,300h1v1h-1zM81,301h1v1h-1zM83,302h1v1h-1zM96,302h1v1h-1zM82,303h1v1h-1zM98,303h1v1h-1zM81,304h1v1h-1zM95,304h3v1h-3zM82,305h1v1h-1zM95,305h1v1h-1zM97,305h2v1h-2zM98,306h1v1h-1zM81,307h1v1h-1zM83,307h1v1h-1zM97,307h1v1h-1zM79,308h1v1h-1zM79,309h3v1h-3zM85,309h1v1h-1zM80,310h2v1h-2zM79,311h2v1h-2zM83,311h1v1h-1zM80,312h1v1h-1zM79,313h1v1h-1zM86,313h1v1h-1zM80,314h2v1h-2zM98,314h1v1h-1zM82,315h1v1h-1zM98,315h1v1h-1zM82,316h2v1h-2zM98,316h1v1h-1zM80,318h1v1h-1zM79,319h3v1h-3zM97,319h1v1h-1zM81,320h1v1h-1zM97,320h2v1h-2zM93,321h1v1h-1zM98,321h1v1h-1zM79,322h1v1h-1zM81,322h1v1h-1zM94,322h1v1h-1zM94,323h1v1h-1zM98,323h1v1h-1zM80,324h1v1h-1zM98,324h1v1h-1zM79,325h2v1h-2zM79,326h3v1h-3zM95,326h1v1h-1zM95,327h1v1h-1zM79,328h1v1h-1zM82,328h1v1h-1zM95,328h1v1h-1zM97,328h2v1h-2zM80,329h2v1h-2zM83,329h1v1h-1zM81,330h2v1h-2zM87,330h1v1h-1zM94,330h1v1h-1zM96,330h1v1h-1zM98,330h1v1h-1zM80,331h1v1h-1zM82,331h1v1h-1zM97,331h1v1h-1zM80,332h1v1h-1zM85,332h2v1h-2zM80,333h1v1h-1zM82,333h1v1h-1zM87,333h1v1h-1zM84,334h4v1h-4zM89,334h1v1h-1zM81,335h2v1h-2zM84,335h3v1h-3zM93,335h4v1h-4zM84,336h1v1h-1zM86,336h1v1h-1zM83,337h1v1h-1zM86,337h2v1h-2zM92,337h1v1h-1z"/>
<path fill="#e0e0e0" d="M87,284h1v1h-1zM88,286h1v1h-1zM87,287h2v1h-2zM92,287h1v1h-1zM88,289h1v1h-1zM85,290h1v1h-1zM88,290h1v1h-1zM94,290h2v1h-2zM87,291h1v1h-1zM90,291h1v1h-1zM92,291h2v1h-2zM86,292h3v1h-3zM90,292h1v1h-1zM92,292h1v1h-1zM86,293h2v1h-2zM91,293h1v1h-1zM84,294h1v1h-1zM88,294h1v1h-1zM91,294h2v1h-2zM96,294h1v1h-1zM86,295h1v1h-1zM91,295h1v1h-1zM93,295h2v1h-2zM96,295h1v1h-1zM84,296h1v1h-1zM86,296h1v1h-1zM91,296h3v1h-3zM82,297h1v1h-1zM85,297h1v1h-1zM87,297h1v1h-1zM93,297h1v1h-1zM83,298h1v1h-1zM89,298h1v1h-1zM92,298h1v1h-1zM94,298h1v1h-1zM84,299h1v1h-1zM86,299h1v1h-1zM88,299h2v1h-2zM91,299h1v1h-1zM94,299h3v1h-3zM84,300h1v1h-1zM86,300h1v1h-1zM94,300h1v1h-1zM97,300h1v1h-1zM85,301h1v1h-1zM90,301h2v1h-2zM94,301h2v1h-2zM97,301h1v1h-1zM81,302h1v1h-1zM84,302h1v1h-1zM86,302h3v1h-3zM93,302h2v1h-2zM81,303h1v1h-1zM84,303h1v1h-1zM89,303h2v1h-2zM93,303h1v1h-1zM97,303h1v1h-1zM82,304h1v1h-1zM85,304h1v1h-1zM89,304h1v1h-1zM94,304h1v1h-1zM83,305h1v1h-1zM93,305h1v1h-1zM96,305h1v1h-1zM81,306h3v1h-3zM85,306h1v1h-1zM96,306h1v1h-1zM84,307h1v1h-1zM94,307h3v1h-3zM85,308h1v1h-1zM97,308h1v1h-1zM82,309h1v1h-1zM84,309h1v1h-1zM94,309h1v1h-1zM97,309h2v1h-2zM83,310h2v1h-2zM90,310h1v1h-1zM93,310h2v1h-2zM96,310h1v1h-1zM85,311h1v1h-1zM87,311h1v1h-1zM95,311h2v1h-2zM83,312h2v1h-2zM93,312h1v1h-1zM95,312h1v1h-1zM84,313h1v1h-1zM94,313h1v1h-1zM96,313h1v1h-1zM86,314h1v1h-1zM94,314h2v1h-2zM81,315h1v1h-1zM83,315h1v1h-1zM85,315h1v1h-1zM92,315h1v1h-1zM94,315h3v1h-3zM81,316h1v1h-1zM85,316h1v1h-1zM94,316h1v1h-1zM96,316h2v1h-2zM84,317h1v1h-1zM92,317h2v1h-2zM95,317h3v1h-3zM81,318h1v1h-1zM87,318h1v1h-1zM82,319h1v1h-1zM90,319h1v1h-1zM94,319h2v1h-2zM98,319h1v1h-1zM87,320h1v1h-1zM96,320h1v1h-1zM87,321h1v1h-1zM89,321h1v1h-1zM94,321h2v1h-2zM97,321h1v1h-1zM82,322h1v1h-1zM88,322h1v1h-1zM83,323h1v1h-1zM92,323h2v1h-2zM95,323h2v1h-2zM97,324h1v1h-1zM91,325h1v1h-1zM95,325h2v1h-2zM83,326h1v1h-1zM88,326h1v1h-1zM94,326h1v1h-1zM96,326h1v1h-1zM88,327h1v1h-1zM92,327h2v1h-2zM93,328h1v1h-1zM86,329h1v1h-1zM88,329h1v1h-1zM91,329h1v1h-1zM94,329h1v1h-1zM90,330h3v1h-3zM89,331h2v1h-2zM92,331h2v1h-2zM95,331h1v1h-1zM91,332h1v1h-1zM85,333h2v1h-2zM91,333h1v1h-1zM93,333h1v1h-1zM95,333h1v1h-1zM88,334h1v1h-1zM91,334h2v1h-2zM94,334h1v1h-1zM87,335h1v1h-1zM85,336h1v1h-1zM88,336h1v1h-1zM90,336h1v1h-1zM94,336h1v1h-1zM88,337h1v1h-1zM93,337h1v1h-1z"/>
<path fill="#c0c0c0" d="M92,284h1v1h-1zM79,296h2v1h-2zM80,303h1v1h-1zM80,305h1v1h-1zM81,311h1v1h-1zM79,314h1v1h-1zM80,321h2v1h-2zM79,327h1v1h-1zM80,330h1v1h-1zM97,330h1v1h-1zM96,332h1v1h-1zM80,334h1v1h-1z"/>
<path fill="#c8c8c8" d="M90,285h1v1h-1zM86,287h1v1h-1zM93,288h2v1h-2zM94,289h1v1h-1zM79,298h1v1h-1zM81,298h1v1h-1zM80,299h1v1h-1zM97,299h1v1h-1zM81,300h1v1h-1zM96,300h1v1h-1zM82,301h1v1h-1zM82,302h1v1h-1zM98,304h1v1h-1zM80,306h1v1h-1zM82,307h1v1h-1zM81,308h1v1h-1zM79,310h1v1h-1zM82,311h1v1h-1zM79,312h1v1h-1zM98,312h1v1h-1zM82,314h1v1h-1zM79,315h2v1h-2zM79,316h1v1h-1zM79,317h1v1h-1zM98,317h1v1h-1zM79,318h1v1h-1zM79,320h2v1h-2zM79,321h1v1h-1zM80,322h1v1h-1zM97,322h1v1h-1zM79,323h2v1h-2zM79,324h1v1h-1zM81,325h1v1h-1zM98,325h1v1h-1zM98,326h1v1h-1zM80,327h3v1h-3zM96,327h1v1h-1zM80,328h2v1h-2zM79,329h1v1h-1zM98,329h1v1h-1zM81,331h1v1h-1zM81,332h2v1h-2zM95,332h1v1h-1zM97,332h1v1h-1zM81,333h1v1h-1zM97,333h1v1h-1zM81,334h2v1h-2zM95,334h1v1h-1zM83,335h1v1h-1zM82,336h1v1h-1zM95,336h1v1h-1zM84,337h1v1h-1z"/>
<path fill="#e8e8e8" d="M88,291h1v1h-1zM91,292h1v1h-1zM88,293h2v1h-2zM94,293h1v1h-1zM89,294h2v1h-2zM93,294h1v1h-1zM92,295h1v1h-1zM87,296h4v1h-4zM91,297h1v1h-1zM94,297h1v1h-1zM86,298h1v1h-1zM88,298h1v1h-1zM90,298h1v1h-1zM95,298h1v1h-1zM85,299h1v1h-1zM90,299h1v1h-1zM92,299h1v1h-1zM89,300h1v1h-1zM91,300h1v1h-1zM87,301h3v1h-3zM92,301h1v1h-1zM89,302h3v1h-3zM85,303h4v1h-4zM91,303h1v1h-1zM94,303h1v1h-1zM84,304h1v1h-1zM86,304h1v1h-1zM88,304h1v1h-1zM92,304h1v1h-1zM84,305h1v1h-1zM86,305h1v1h-1zM94,305h1v1h-1zM87,306h2v1h-2zM92,306h2v1h-2zM85,307h2v1h-2zM88,307h6v1h-6zM84,308h1v1h-1zM86,308h3v1h-3zM91,308h1v1h-1zM93,308h2v1h-2zM86,309h2v1h-2zM95,309h2v1h-2zM87,310h2v1h-2zM91,310h1v1h-1zM95,310h1v1h-1zM86,311h1v1h-1zM88,311h3v1h-3zM92,311h1v1h-1zM94,311h1v1h-1zM85,312h2v1h-2zM92,312h1v1h-1zM94,312h1v1h-1zM83,313h1v1h-1zM85,313h1v1h-1zM87,313h6v1h-6zM97,313h1v1h-1zM83,314h3v1h-3zM91,314h1v1h-1zM89,316h4v1h-4zM85,317h1v1h-1zM91,317h1v1h-1zM94,317h1v1h-1zM85,318h1v1h-1zM91,318h1v1h-1zM93,318h2v1h-2zM96,318h1v1h-1zM83,319h1v1h-1zM87,319h2v1h-2zM92,319h1v1h-1zM86,320h1v1h-1zM90,320h1v1h-1zM92,320h1v1h-1zM86,321h1v1h-1zM90,321h3v1h-3zM92,322h2v1h-2zM86,323h1v1h-1zM90,323h1v1h-1zM87,324h1v1h-1zM90,324h4v1h-4zM88,325h3v1h-3zM92,325h2v1h-2zM89,326h2v1h-2zM92,326h1v1h-1zM89,327h3v1h-3zM88,328h1v1h-1zM90,328h1v1h-1zM94,328h1v1h-1zM87,329h1v1h-1zM92,329h1v1h-1zM89,330h1v1h-1zM88,332h1v1h-1zM94,333h1v1h-1zM89,335h1v1h-1z"/>
<path fill="#f0f0f0" d="M88,295h2v1h-2zM88,297h1v1h-1zM92,297h1v1h-1zM87,298h1v1h-1zM91,298h1v1h-1zM88,300h1v1h-1zM90,300h1v1h-1zM93,300h1v1h-1zM92,302h1v1h-1zM92,303h1v1h-1zM87,304h1v1h-1zM90,304h2v1h-2zM93,304h1v1h-1zM89,305h4v1h-4zM86,306h1v1h-1zM89,306h2v1h-2zM95,306h1v1h-1zM90,308h1v1h-1zM92,308h1v1h-1zM88,309h1v1h-1zM90,309h1v1h-1zM92,309h2v1h-2zM85,310h2v1h-2zM92,310h1v1h-1zM87,312h2v1h-2zM91,312h1v1h-1zM96,312h1v1h-1zM93,313h1v1h-1zM87,314h4v1h-4zM92,314h2v1h-2zM87,315h3v1h-3zM93,315h1v1h-1zM86,316h2v1h-2zM86,317h2v1h-2zM89,317h1v1h-1zM88,318h3v1h-3zM92,318h1v1h-1zM95,318h1v1h-1zM89,319h1v1h-1zM91,319h1v1h-1zM93,319h1v1h-1zM88,320h1v1h-1zM91,320h1v1h-1zM93,320h1v1h-1zM88,321h1v1h-1zM86,322h2v1h-2zM89,322h1v1h-1zM91,322h1v1h-1zM91,323h1v1h-1zM89,324h1v1h-1zM93,326h1v1h-1zM89,328h1v1h-1zM89,329h1v1h-1z"/>
<path fill="#f8f8f8" d="M93,301h1v1h-1zM87,305h2v1h-2zM91,306h1v1h-1zM87,307h1v1h-1zM89,308h1v1h-1zM89,309h1v1h-1zM91,309h1v1h-1zM89,310h1v1h-1zM91,311h1v1h-1zM89,312h2v1h-2zM90,315h2v1h-2zM88,316h1v1h-1zM90,317h1v1h-1zM86,318h1v1h-1zM89,320h1v1h-1zM90,322h1v1h-1z"/>
<path fill="#6000ff" d="M93,316h1v1h-1zM88,323h2v1h-2zM83,325h1v1h-1zM87,326h1v1h-1zM87,328h1v1h-1z"/>
<path fill="#3000ff" d="M84,318h1v1h-1zM85,321h1v1h-1zM87,323h1v1h-1zM83,333h1v1h-1z"/>
<path fill="#1818ff" d="M84,319h1v1h-1zM83,321h1v1h-1zM84,323h2v1h-2zM83,324h1v1h-1zM84,327h1v1h-1zM84,330h1v1h-1zM84,333h1v1h-1z"/>
<path fill="#7800ff" d="M83,320h1v1h-1z"/>
<path fill="#00d8ff" d="M84,320h1v1h-1zM85,326h1v1h-1z"/>
<path fill="#4800ff" d="M85,320h1v1h-1zM88,324h1v1h-1zM87,325h1v1h-1zM83,328h1v1h-1z"/>
<path fill="#0060ff" d="M84,321h1v1h-1zM86,326h1v1h-1zM83,331h1v1h-1z"/>
<path fill="#00c0ff" d="M84,322h1v1h-1zM86,325h1v1h-1z"/>
<path fill="#1830ff" d="M84,324h1v1h-1zM86,324h1v1h-1z"/>
<path fill="#0030ff" d="M85,324h1v1h-1zM84,325h1v1h-1zM84,326h1v1h-1zM85,329h1v1h-1zM83,330h1v1h-1zM83,332h1v1h-1z"/>
<path fill="#00f0ff" d="M85,325h1v1h-1z"/>
<path fill="#0048ff" d="M83,327h1v1h-1zM86,328h1v1h-1zM84,329h1v1h-1z"/>
<path fill="#00f0f0" d="M85,327h1v1h-1z"/>
<path fill="#0090ff" d="M86,327h1v1h-1zM84,331h1v1h-1zM84,332h1v1h-1z"/>
<path fill="#0078ff" d="M84,328h1v1h-1z"/>
<path fill="#00f0c0" d="M85,328h1v1h-1z"/>
<path fill="#303030" d="M77,343h24v1h-24zM77,344h24v1h-24zM77,345h24v1h-24zM77,346h24v1h-24z"/>
</g>
<rect x="113.1" y="181.7" width="6.9" height="139.3" fill="url(#cbar)"/>
<rect x="113.1" y="181.7" width="6.9" height="139.3" fill="none" stroke="#222" stroke-width="0.5"/>
<line x1="120.00" y1="181.70" x2="122.80" y2="181.70" stroke="#333" stroke-width="0.8"/>
<text x="125.30" y="184.10" font-size="6.7" text-anchor="start" fill="#222" stroke="#222" stroke-width="0.08" >2.0</text>
<line x1="120.00" y1="189.00" x2="121.20" y2="189.00" stroke="#333" stroke-width="0.8"/>
<line x1="120.00" y1="196.30" x2="121.20" y2="196.30" stroke="#333" stroke-width="0.8"/>
<line x1="120.00" y1="203.60" x2="121.20" y2="203.60" stroke="#333" stroke-width="0.8"/>
<line x1="120.00" y1="210.90" x2="121.20" y2="210.90" stroke="#333" stroke-width="0.8"/>
<line x1="120.00" y1="218.20" x2="122.80" y2="218.20" stroke="#333" stroke-width="0.8"/>
<text x="125.30" y="220.60" font-size="6.7" text-anchor="start" fill="#222" stroke="#222" stroke-width="0.08" >1.5</text>
<line x1="120.00" y1="225.50" x2="121.20" y2="225.50" stroke="#333" stroke-width="0.8"/>
<line x1="120.00" y1="232.80" x2="121.20" y2="232.80" stroke="#333" stroke-width="0.8"/>
<line x1="120.00" y1="240.10" x2="121.20" y2="240.10" stroke="#333" stroke-width="0.8"/>
<line x1="120.00" y1="247.40" x2="121.20" y2="247.40" stroke="#333" stroke-width="0.8"/>
<line x1="120.00" y1="254.70" x2="122.80" y2="254.70" stroke="#333" stroke-width="0.8"/>
<text x="125.30" y="257.10" font-size="6.7" text-anchor="start" fill="#222" stroke="#222" stroke-width="0.08" >1.0</text>
<line x1="120.00" y1="262.00" x2="121.20" y2="262.00" stroke="#333" stroke-width="0.8"/>
<line x1="120.00" y1="269.30" x2="121.20" y2="269.30" stroke="#333" stroke-width="0.8"/>
<line x1="120.00" y1="276.60" x2="121.20" y2="276.60" stroke="#333" stroke-width="0.8"/>
<line x1="120.00" y1="283.90" x2="121.20" y2="283.90" stroke="#333" stroke-width="0.8"/>
<line x1="120.00" y1="291.20" x2="122.80" y2="291.20" stroke="#333" stroke-width="0.8"/>
<text x="125.30" y="293.60" font-size="6.7" text-anchor="start" fill="#222" stroke="#222" stroke-width="0.08" >0.5</text>
<line x1="120.00" y1="298.50" x2="121.20" y2="298.50" stroke="#333" stroke-width="0.8"/>
<line x1="120.00" y1="305.80" x2="121.20" y2="305.80" stroke="#333" stroke-width="0.8"/>
<line x1="120.00" y1="313.10" x2="121.20" y2="313.10" stroke="#333" stroke-width="0.8"/>
<line x1="120.00" y1="320.40" x2="121.20" y2="320.40" stroke="#333" stroke-width="0.8"/>
<text x="114.00" y="174.00" font-size="6.0" text-anchor="start" fill="#222" stroke="#222" stroke-width="0.05" textLength="38.9" lengthAdjust="spacingAndGlyphs" >Luminescence</text>
<text x="145.20" y="257.00" font-size="6.0" text-anchor="start" fill="#222" stroke="#222" stroke-width="0.22" transform="rotate(-90 145.20 257.00)" >x10<tspan dy="-2" font-size="4.5">5</tspan></text>
<text x="114.00" y="329.80" font-size="6.0" text-anchor="start" fill="#222" stroke="#222" stroke-width="0.08" >Radiance</text>
<text x="114.00" y="337.20" font-size="6.2" text-anchor="start" fill="#222" stroke="#222" stroke-width="0.08" >(p/sec/cm<tspan dy="-2.4" font-size="6.6">2</tspan><tspan dy="2.4">/sr)</tspan></text>
<rect x="113.3" y="342.9" width="44.4" height="27.4" fill="none" stroke="#444" stroke-width="0.8"/>
<text x="116.00" y="350.60" font-size="6.2" text-anchor="start" fill="#222" stroke="#222" stroke-width="0.08" >Color Scale</text>
<text x="116.00" y="358.40" font-size="6.2" text-anchor="start" fill="#222" stroke="#222" stroke-width="0.08" >Min = 1.00e4</text>
<text x="116.00" y="366.20" font-size="6.2" text-anchor="start" fill="#222" stroke="#222" stroke-width="0.08" >Max = 2.00e5</text>
<text x="173.30" y="165.30" font-size="11.2" text-anchor="start" fill="#000" stroke="#000" stroke-width="0.22" font-weight="bold" >D</text>
<line x1="230.80" y1="194.00" x2="230.80" y2="294.40" stroke="#1a1a1a" stroke-width="1.2"/>
<line x1="230.20" y1="294.00" x2="338.80" y2="294.00" stroke="#1a1a1a" stroke-width="1.2"/>
<line x1="228.00" y1="294.00" x2="230.80" y2="294.00" stroke="#1a1a1a" stroke-width="1"/>
<text x="226.60" y="296.90" font-size="8.1" text-anchor="end" fill="#1a1a1a" stroke="#1a1a1a" stroke-width="0.22" >0</text>
<line x1="228.00" y1="269.70" x2="230.80" y2="269.70" stroke="#1a1a1a" stroke-width="1"/>
<text x="226.60" y="272.60" font-size="8.1" text-anchor="end" fill="#1a1a1a" stroke="#1a1a1a" stroke-width="0.22" >20000</text>
<line x1="228.00" y1="245.40" x2="230.80" y2="245.40" stroke="#1a1a1a" stroke-width="1"/>
<text x="226.60" y="248.30" font-size="8.1" text-anchor="end" fill="#1a1a1a" stroke="#1a1a1a" stroke-width="0.22" >40000</text>
<line x1="228.00" y1="221.10" x2="230.80" y2="221.10" stroke="#1a1a1a" stroke-width="1"/>
<text x="226.60" y="224.00" font-size="8.1" text-anchor="end" fill="#1a1a1a" stroke="#1a1a1a" stroke-width="0.22" >60000</text>
<line x1="228.00" y1="196.80" x2="230.80" y2="196.80" stroke="#1a1a1a" stroke-width="1"/>
<text x="226.60" y="199.70" font-size="8.1" text-anchor="end" fill="#1a1a1a" stroke="#1a1a1a" stroke-width="0.22" >80000</text>
<line x1="248.10" y1="294.00" x2="248.10" y2="296.80" stroke="#1a1a1a" stroke-width="1"/>
<line x1="268.00" y1="294.00" x2="268.00" y2="296.80" stroke="#1a1a1a" stroke-width="1"/>
<line x1="301.60" y1="294.00" x2="301.60" y2="296.80" stroke="#1a1a1a" stroke-width="1"/>
<line x1="321.70" y1="294.00" x2="321.70" y2="296.80" stroke="#1a1a1a" stroke-width="1"/>
<text x="258.00" y="306.60" font-size="7.6" text-anchor="middle" fill="#1a1a1a" stroke="#1a1a1a" stroke-width="0.22" >Before</text>
<text x="258.00" y="316.20" font-size="7.6" text-anchor="middle" fill="#1a1a1a" stroke="#1a1a1a" stroke-width="0.22" >24hrs after</text>
<text x="311.50" y="306.60" font-size="7.6" text-anchor="middle" fill="#1a1a1a" stroke="#1a1a1a" stroke-width="0.22" >Before</text>
<text x="311.50" y="316.20" font-size="7.6" text-anchor="middle" fill="#1a1a1a" stroke="#1a1a1a" stroke-width="0.22" >24hrs after</text>
<text x="195.40" y="244.00" font-size="8.0" text-anchor="middle" fill="#1a1a1a" stroke="#1a1a1a" stroke-width="0.22" textLength="84.5" lengthAdjust="spacingAndGlyphs" transform="rotate(-90 195.40 244.00)" >Avg radiance (p/sec/cm<tspan dy="-2.5" font-size="5.5">2</tspan><tspan dy="2.5">/sr)</tspan></text>
<text x="257.20" y="198.30" font-size="7.4" text-anchor="middle" fill="#1a1a1a" stroke="#1a1a1a" stroke-width="0.22" >P = 0.82</text>
<line x1="247.70" y1="200.70" x2="266.70" y2="200.70" stroke="#333" stroke-width="1"/>
<text x="311.30" y="198.30" font-size="7.4" text-anchor="middle" fill="#1a1a1a" stroke="#1a1a1a" stroke-width="0.22" >P = 0.17</text>
<line x1="302.20" y1="200.70" x2="320.60" y2="200.70" stroke="#333" stroke-width="1"/>
<line x1="249.00" y1="244.70" x2="249.00" y2="274.50" stroke="#1f3f85" stroke-width="1"/>
<line x1="246.80" y1="244.70" x2="251.20" y2="244.70" stroke="#1f3f85" stroke-width="1"/>
<line x1="246.80" y1="274.50" x2="251.20" y2="274.50" stroke="#1f3f85" stroke-width="1"/>
<line x1="243.50" y1="259.50" x2="254.50" y2="259.50" stroke="#1f3f85" stroke-width="1.2"/>
<line x1="269.30" y1="251.20" x2="269.30" y2="277.40" stroke="#1f3f85" stroke-width="1"/>
<line x1="267.10" y1="251.20" x2="271.50" y2="251.20" stroke="#1f3f85" stroke-width="1"/>
<line x1="267.10" y1="277.40" x2="271.50" y2="277.40" stroke="#1f3f85" stroke-width="1"/>
<line x1="263.80" y1="264.30" x2="274.80" y2="264.30" stroke="#1f3f85" stroke-width="1.2"/>
<line x1="301.50" y1="245.30" x2="301.50" y2="279.00" stroke="#b0123e" stroke-width="1"/>
<line x1="299.00" y1="245.30" x2="304.00" y2="245.30" stroke="#b0123e" stroke-width="1"/>
<line x1="299.00" y1="279.00" x2="304.00" y2="279.00" stroke="#b0123e" stroke-width="1"/>
<line x1="294.90" y1="262.60" x2="308.10" y2="262.60" stroke="#b0123e" stroke-width="1.2"/>
<line x1="322.00" y1="288.30" x2="322.00" y2="291.30" stroke="#b0123e" stroke-width="1"/>
<line x1="320.00" y1="288.30" x2="324.00" y2="288.30" stroke="#b0123e" stroke-width="1"/>
<line x1="320.00" y1="291.30" x2="324.00" y2="291.30" stroke="#b0123e" stroke-width="1"/>
<line x1="317.00" y1="289.80" x2="327.00" y2="289.80" stroke="#b0123e" stroke-width="1.2"/>
<circle cx="248.10" cy="212.50" r="2.10" fill="#1f3f85"/>
<circle cx="248.10" cy="235.10" r="2.10" fill="#1f3f85"/>
<circle cx="243.90" cy="280.20" r="2.10" fill="#1f3f85"/>
<circle cx="248.10" cy="284.40" r="2.10" fill="#1f3f85"/>
<circle cx="251.90" cy="285.50" r="2.10" fill="#1f3f85"/>
<circle cx="268.40" cy="215.30" r="2.10" fill="#1f3f85"/>
<circle cx="267.80" cy="259.70" r="2.10" fill="#1f3f85"/>
<circle cx="264.00" cy="280.60" r="2.10" fill="#1f3f85"/>
<circle cx="267.80" cy="283.40" r="2.10" fill="#1f3f85"/>
<circle cx="272.00" cy="283.80" r="2.10" fill="#1f3f85"/>
<rect x="299.65" y="208.85" width="3.90" height="3.90" fill="#b0123e"/>
<rect x="296.05" y="275.15" width="3.90" height="3.90" fill="#b0123e"/>
<rect x="303.05" y="275.15" width="3.90" height="3.90" fill="#b0123e"/>
<rect x="299.65" y="284.05" width="3.90" height="3.90" fill="#b0123e"/>
<rect x="315.75" y="283.65" width="3.90" height="3.90" fill="#b0123e"/>
<rect x="318.55" y="287.65" width="3.90" height="3.90" fill="#b0123e"/>
<rect x="321.65" y="288.65" width="3.90" height="3.90" fill="#b0123e"/>
<rect x="324.05" y="288.65" width="3.90" height="3.90" fill="#b0123e"/>
<rect x="319.55" y="289.05" width="3.90" height="3.90" fill="#b0123e"/>
<circle cx="350.00" cy="219.60" r="1.90" fill="#1f3f85"/>
<text x="355.40" y="221.90" font-size="7.0" text-anchor="start" fill="#1a1a1a" stroke="#1a1a1a" stroke-width="0.22" >Vehicle</text>
<rect x="348.05" y="230.35" width="3.70" height="3.70" fill="#b0123e"/>
<text x="355.40" y="234.50" font-size="7.0" text-anchor="start" fill="#1a1a1a" stroke="#1a1a1a" stroke-width="0.22" >Temsirolimus</text>
<text x="235.80" y="395.00" font-size="11.0" text-anchor="start" fill="#000" stroke="#000" stroke-width="0.22" font-weight="bold" >F</text>
<line x1="270.50" y1="413.20" x2="270.50" y2="523.10" stroke="#1a1a1a" stroke-width="1.2"/>
<line x1="269.90" y1="522.70" x2="341.30" y2="522.70" stroke="#1a1a1a" stroke-width="1.2"/>
<line x1="268.00" y1="522.70" x2="270.50" y2="522.70" stroke="#1a1a1a" stroke-width="1"/>
<text x="264.10" y="525.50" font-size="7.8" text-anchor="end" fill="#1a1a1a" stroke="#1a1a1a" stroke-width="0.22" >0</text>
<line x1="268.00" y1="496.10" x2="270.50" y2="496.10" stroke="#1a1a1a" stroke-width="1"/>
<text x="264.10" y="498.90" font-size="7.8" text-anchor="end" fill="#1a1a1a" stroke="#1a1a1a" stroke-width="0.22" >1</text>
<line x1="268.00" y1="469.50" x2="270.50" y2="469.50" stroke="#1a1a1a" stroke-width="1"/>
<text x="264.10" y="472.30" font-size="7.8" text-anchor="end" fill="#1a1a1a" stroke="#1a1a1a" stroke-width="0.22" >2</text>
<line x1="268.00" y1="442.90" x2="270.50" y2="442.90" stroke="#1a1a1a" stroke-width="1"/>
<text x="264.10" y="445.70" font-size="7.8" text-anchor="end" fill="#1a1a1a" stroke="#1a1a1a" stroke-width="0.22" >3</text>
<line x1="268.00" y1="416.30" x2="270.50" y2="416.30" stroke="#1a1a1a" stroke-width="1"/>
<text x="264.10" y="419.10" font-size="7.8" text-anchor="end" fill="#1a1a1a" stroke="#1a1a1a" stroke-width="0.22" >4</text>
<line x1="288.30" y1="522.70" x2="288.30" y2="525.30" stroke="#1a1a1a" stroke-width="1"/>
<line x1="324.00" y1="522.70" x2="324.00" y2="525.30" stroke="#1a1a1a" stroke-width="1"/>
<text x="288.30" y="536.00" font-size="7.6" text-anchor="middle" fill="#1a1a1a" stroke="#1a1a1a" stroke-width="0.22" >Vehicle</text>
<text x="324.00" y="536.00" font-size="7.6" text-anchor="middle" fill="#1a1a1a" stroke="#1a1a1a" stroke-width="0.22" >Tem</text>
<text x="254.10" y="467.10" font-size="8.3" text-anchor="middle" fill="#1a1a1a" stroke="#1a1a1a" stroke-width="0.22" textLength="53.2" lengthAdjust="spacingAndGlyphs" transform="rotate(-90 254.10 467.10)" >hCD45+hCD45-%</text>
<text x="305.60" y="425.30" font-size="7" text-anchor="middle" fill="#1a1a1a" stroke="#1a1a1a" stroke-width="0.22" >***</text>
<line x1="290.20" y1="426.60" x2="321.70" y2="426.60" stroke="#222" stroke-width="1"/>
<line x1="288.50" y1="439.00" x2="288.50" y2="462.00" stroke="#1f3f85" stroke-width="1"/>
<line x1="282.50" y1="439.00" x2="294.50" y2="439.00" stroke="#1f3f85" stroke-width="1"/>
<line x1="282.50" y1="462.00" x2="294.50" y2="462.00" stroke="#1f3f85" stroke-width="1"/>
<line x1="276.80" y1="450.60" x2="300.20" y2="450.60" stroke="#1f3f85" stroke-width="1.2"/>
<circle cx="288.30" cy="435.00" r="1.60" fill="#1f3f85"/>
<circle cx="288.30" cy="443.00" r="1.60" fill="#1f3f85"/>
<circle cx="288.30" cy="454.10" r="1.60" fill="#1f3f85"/>
<circle cx="286.00" cy="460.30" r="1.60" fill="#1f3f85"/>
<circle cx="290.20" cy="462.10" r="1.60" fill="#1f3f85"/>
<rect x="317.3" y="510.4" width="12.3" height="4.5" fill="#e8b0c0"/>
<line x1="323.60" y1="510.30" x2="323.60" y2="515.00" stroke="#b0123e" stroke-width="1"/>
<line x1="317.40" y1="510.30" x2="329.80" y2="510.30" stroke="#b0123e" stroke-width="1"/>
<line x1="317.40" y1="515.00" x2="329.80" y2="515.00" stroke="#b0123e" stroke-width="1"/>
<line x1="311.60" y1="512.80" x2="335.60" y2="512.80" stroke="#b0123e" stroke-width="1.2"/>
<rect x="314.20" y="509.20" width="3.20" height="3.20" fill="#b0123e"/>
<rect x="321.90" y="511.10" width="3.20" height="3.20" fill="#b0123e"/>
<rect x="329.90" y="513.00" width="3.20" height="3.20" fill="#b0123e"/>
<text x="357.40" y="395.20" font-size="11.0" text-anchor="start" fill="#000" stroke="#000" stroke-width="0.22" font-weight="bold" >G</text>
<line x1="403.00" y1="413.30" x2="403.00" y2="522.90" stroke="#1a1a1a" stroke-width="1.2"/>
<line x1="402.40" y1="522.50" x2="473.50" y2="522.50" stroke="#1a1a1a" stroke-width="1.2"/>
<line x1="400.50" y1="522.50" x2="403.00" y2="522.50" stroke="#1a1a1a" stroke-width="1"/>
<text x="397.80" y="525.40" font-size="8.1" text-anchor="end" fill="#1a1a1a" stroke="#1a1a1a" stroke-width="0.22" >0</text>
<line x1="400.50" y1="501.14" x2="403.00" y2="501.14" stroke="#1a1a1a" stroke-width="1"/>
<text x="397.80" y="504.04" font-size="8.1" text-anchor="end" fill="#1a1a1a" stroke="#1a1a1a" stroke-width="0.22" >20</text>
<line x1="400.50" y1="479.78" x2="403.00" y2="479.78" stroke="#1a1a1a" stroke-width="1"/>
<text x="397.80" y="482.68" font-size="8.1" text-anchor="end" fill="#1a1a1a" stroke="#1a1a1a" stroke-width="0.22" >40</text>
<line x1="400.50" y1="458.42" x2="403.00" y2="458.42" stroke="#1a1a1a" stroke-width="1"/>
<text x="397.80" y="461.32" font-size="8.1" text-anchor="end" fill="#1a1a1a" stroke="#1a1a1a" stroke-width="0.22" >60</text>
<line x1="400.50" y1="437.06" x2="403.00" y2="437.06" stroke="#1a1a1a" stroke-width="1"/>
<text x="397.80" y="439.96" font-size="8.1" text-anchor="end" fill="#1a1a1a" stroke="#1a1a1a" stroke-width="0.22" >80</text>
<line x1="400.50" y1="415.70" x2="403.00" y2="415.70" stroke="#1a1a1a" stroke-width="1"/>
<text x="397.80" y="418.60" font-size="8.1" text-anchor="end" fill="#1a1a1a" stroke="#1a1a1a" stroke-width="0.22" >100</text>
<line x1="420.70" y1="522.50" x2="420.70" y2="525.10" stroke="#1a1a1a" stroke-width="1"/>
<line x1="456.60" y1="522.50" x2="456.60" y2="525.10" stroke="#1a1a1a" stroke-width="1"/>
<text x="420.70" y="535.80" font-size="7.6" text-anchor="middle" fill="#1a1a1a" stroke="#1a1a1a" stroke-width="0.22" >Vehicle</text>
<text x="456.60" y="535.80" font-size="7.6" text-anchor="middle" fill="#1a1a1a" stroke="#1a1a1a" stroke-width="0.22" >Tem</text>
<text x="377.80" y="468.40" font-size="8.3" text-anchor="middle" fill="#1a1a1a" stroke="#1a1a1a" stroke-width="0.22" textLength="53.7" lengthAdjust="spacingAndGlyphs" transform="rotate(-90 377.80 468.40)" >hCD56+hCD19+%</text>
<text x="438.50" y="413.60" font-size="7" text-anchor="middle" fill="#1a1a1a" stroke="#1a1a1a" stroke-width="0.22" >***</text>
<line x1="422.80" y1="415.00" x2="454.80" y2="415.00" stroke="#222" stroke-width="1"/>
<line x1="420.70" y1="426.50" x2="420.70" y2="441.20" stroke="#1f3f85" stroke-width="1"/>
<line x1="414.90" y1="426.50" x2="426.50" y2="426.50" stroke="#1f3f85" stroke-width="1"/>
<line x1="414.90" y1="441.20" x2="426.50" y2="441.20" stroke="#1f3f85" stroke-width="1"/>
<line x1="408.90" y1="433.80" x2="432.50" y2="433.80" stroke="#1f3f85" stroke-width="1.2"/>
<circle cx="418.60" cy="426.50" r="1.70" fill="#1f3f85"/>
<circle cx="423.30" cy="426.50" r="1.70" fill="#1f3f85"/>
<circle cx="420.70" cy="435.70" r="1.70" fill="#1f3f85"/>
<circle cx="422.70" cy="442.20" r="1.70" fill="#1f3f85"/>
<line x1="456.40" y1="480.30" x2="456.40" y2="495.50" stroke="#b0123e" stroke-width="1"/>
<line x1="450.80" y1="480.30" x2="462.00" y2="480.30" stroke="#b0123e" stroke-width="1"/>
<line x1="450.80" y1="495.50" x2="462.00" y2="495.50" stroke="#b0123e" stroke-width="1"/>
<line x1="444.90" y1="487.70" x2="467.90" y2="487.70" stroke="#b0123e" stroke-width="1.2"/>
<circle cx="456.60" cy="479.30" r="1.70" fill="#b0123e"/>
<circle cx="455.00" cy="492.40" r="1.70" fill="#b0123e"/>
<circle cx="458.50" cy="492.40" r="1.70" fill="#b0123e"/>
<text x="8.00" y="395.00" font-size="11.2" text-anchor="start" fill="#000" stroke="#000" stroke-width="0.22" font-weight="bold" >E</text>
<text x="81.20" y="405.60" font-size="8.2" text-anchor="middle" fill="#1a1a1a" stroke="#1a1a1a" stroke-width="0.22" >Vehicle</text>
<text x="180.60" y="405.60" font-size="8.2" text-anchor="middle" fill="#1a1a1a" stroke="#1a1a1a" stroke-width="0.22" >Tem</text>
<g>
<path d="M83.7,423.6h.55v.55h-.55zM76.7,434.1h.55v.55h-.55zM72.2,437.0h.55v.55h-.55zM63.1,439.7h.55v.55h-.55zM74.0,451.2h.55v.55h-.55zM75.9,435.3h.55v.55h-.55zM72.6,434.9h.55v.55h-.55zM68.5,437.4h.55v.55h-.55zM77.5,435.2h.55v.55h-.55zM80.3,434.5h.55v.55h-.55zM77.0,442.9h.55v.55h-.55zM77.5,434.1h.55v.55h-.55zM74.6,439.4h.55v.55h-.55zM85.8,432.5h.55v.55h-.55zM74.8,441.3h.55v.55h-.55zM69.6,437.5h.55v.55h-.55zM80.7,437.7h.55v.55h-.55zM76.3,439.4h.55v.55h-.55zM60.0,445.9h.55v.55h-.55zM67.5,432.3h.55v.55h-.55zM77.4,439.2h.55v.55h-.55zM71.2,433.7h.55v.55h-.55zM75.1,436.8h.55v.55h-.55zM83.9,437.4h.55v.55h-.55zM77.4,440.9h.55v.55h-.55zM72.7,433.8h.55v.55h-.55zM79.0,438.2h.55v.55h-.55zM72.8,434.4h.55v.55h-.55zM73.4,427.1h.55v.55h-.55zM79.5,437.7h.55v.55h-.55zM65.7,440.1h.55v.55h-.55zM70.4,441.6h.55v.55h-.55zM62.3,437.1h.55v.55h-.55zM80.4,440.2h.55v.55h-.55zM62.0,438.9h.55v.55h-.55zM76.2,434.1h.55v.55h-.55zM82.7,429.6h.55v.55h-.55zM75.8,432.4h.55v.55h-.55zM83.0,434.4h.55v.55h-.55zM70.8,431.1h.55v.55h-.55zM85.5,436.9h.55v.55h-.55zM80.7,440.0h.55v.55h-.55zM76.2,433.9h.55v.55h-.55zM69.5,435.4h.55v.55h-.55zM81.1,429.0h.55v.55h-.55zM71.2,436.8h.55v.55h-.55zM77.0,438.8h.55v.55h-.55zM65.8,432.6h.55v.55h-.55zM76.4,441.6h.55v.55h-.55zM79.6,436.5h.55v.55h-.55zM73.5,438.7h.55v.55h-.55zM74.6,440.6h.55v.55h-.55zM70.6,438.9h.55v.55h-.55zM75.0,439.3h.55v.55h-.55zM79.3,446.3h.55v.55h-.55zM85.4,440.1h.55v.55h-.55zM62.9,439.3h.55v.55h-.55zM72.1,440.1h.55v.55h-.55zM63.3,445.5h.55v.55h-.55zM79.6,430.1h.55v.55h-.55zM68.4,435.7h.55v.55h-.55zM76.0,439.4h.55v.55h-.55zM86.5,432.6h.55v.55h-.55zM79.6,436.2h.55v.55h-.55zM86.0,436.7h.55v.55h-.55zM81.6,430.5h.55v.55h-.55zM72.9,434.2h.55v.55h-.55zM84.4,436.8h.55v.55h-.55zM72.7,435.8h.55v.55h-.55zM76.9,433.5h.55v.55h-.55zM70.2,440.5h.55v.55h-.55zM88.8,431.7h.55v.55h-.55zM70.4,433.5h.55v.55h-.55zM68.0,441.4h.55v.55h-.55zM79.9,435.5h.55v.55h-.55zM77.0,436.9h.55v.55h-.55zM74.0,430.9h.55v.55h-.55zM72.5,438.2h.55v.55h-.55zM69.9,436.6h.55v.55h-.55zM69.9,437.2h.55v.55h-.55zM79.4,433.9h.55v.55h-.55zM75.1,440.4h.55v.55h-.55zM80.7,442.3h.55v.55h-.55zM64.0,444.0h.55v.55h-.55zM72.4,438.4h.55v.55h-.55zM81.1,439.7h.55v.55h-.55zM81.1,435.7h.55v.55h-.55zM83.9,433.1h.55v.55h-.55zM75.1,440.3h.55v.55h-.55zM74.4,446.2h.55v.55h-.55zM83.4,443.5h.55v.55h-.55zM74.4,435.6h.55v.55h-.55zM76.8,439.5h.55v.55h-.55zM72.1,439.5h.55v.55h-.55zM76.8,443.2h.55v.55h-.55zM72.4,442.2h.55v.55h-.55zM70.2,434.5h.55v.55h-.55zM69.5,433.7h.55v.55h-.55zM77.1,440.7h.55v.55h-.55zM76.7,439.1h.55v.55h-.55zM84.7,435.1h.55v.55h-.55zM75.8,435.6h.55v.55h-.55zM66.7,442.8h.55v.55h-.55zM65.7,442.6h.55v.55h-.55zM76.2,441.3h.55v.55h-.55zM73.6,434.0h.55v.55h-.55zM76.4,434.2h.55v.55h-.55zM74.0,437.5h.55v.55h-.55zM74.0,436.5h.55v.55h-.55zM70.0,437.8h.55v.55h-.55zM62.6,440.2h.55v.55h-.55zM69.5,443.4h.55v.55h-.55zM80.0,427.3h.55v.55h-.55zM75.7,436.3h.55v.55h-.55zM69.6,440.9h.55v.55h-.55zM70.3,431.1h.55v.55h-.55zM73.3,436.9h.55v.55h-.55zM74.2,432.1h.55v.55h-.55zM79.4,438.7h.55v.55h-.55zM67.7,436.5h.55v.55h-.55zM73.9,435.0h.55v.55h-.55zM85.2,434.7h.55v.55h-.55zM68.3,435.8h.55v.55h-.55zM77.4,445.9h.55v.55h-.55zM74.1,437.8h.55v.55h-.55zM77.9,435.9h.55v.55h-.55zM87.4,430.9h.55v.55h-.55zM79.5,436.3h.55v.55h-.55zM77.2,431.4h.55v.55h-.55zM85.0,433.4h.55v.55h-.55zM74.1,433.4h.55v.55h-.55zM71.5,440.4h.55v.55h-.55zM81.5,438.1h.55v.55h-.55zM82.8,437.6h.55v.55h-.55zM76.2,440.1h.55v.55h-.55zM78.3,435.6h.55v.55h-.55zM80.7,440.6h.55v.55h-.55zM75.9,435.2h.55v.55h-.55zM81.4,443.0h.55v.55h-.55zM73.7,437.0h.55v.55h-.55zM75.7,441.9h.55v.55h-.55zM64.9,441.7h.55v.55h-.55zM80.9,431.8h.55v.55h-.55zM92.9,430.6h.55v.55h-.55zM80.7,429.6h.55v.55h-.55zM74.8,427.3h.55v.55h-.55zM95.0,426.3h.55v.55h-.55zM95.1,428.8h.55v.55h-.55zM90.0,429.1h.55v.55h-.55zM70.6,427.3h.55v.55h-.55zM85.1,425.5h.55v.55h-.55zM75.9,430.1h.55v.55h-.55zM80.1,423.9h.55v.55h-.55zM79.9,431.6h.55v.55h-.55zM81.2,431.8h.55v.55h-.55zM93.2,429.1h.55v.55h-.55zM77.2,425.1h.55v.55h-.55zM83.8,431.6h.55v.55h-.55zM85.6,430.6h.55v.55h-.55zM81.3,429.9h.55v.55h-.55zM81.2,428.0h.55v.55h-.55zM76.2,424.3h.55v.55h-.55zM81.1,425.7h.55v.55h-.55zM78.2,431.0h.55v.55h-.55zM83.4,437.7h.55v.55h-.55zM89.6,427.1h.55v.55h-.55zM88.7,430.1h.55v.55h-.55zM79.9,432.3h.55v.55h-.55zM79.3,419.8h.55v.55h-.55zM88.8,427.1h.55v.55h-.55zM92.9,427.1h.55v.55h-.55zM76.9,433.6h.55v.55h-.55zM77.5,429.6h.55v.55h-.55zM92.7,429.3h.55v.55h-.55zM83.5,429.3h.55v.55h-.55zM89.0,426.6h.55v.55h-.55zM87.7,430.7h.55v.55h-.55zM98.0,428.0h.55v.55h-.55zM78.5,431.2h.55v.55h-.55zM81.6,429.9h.55v.55h-.55zM84.8,432.5h.55v.55h-.55zM80.1,428.7h.55v.55h-.55zM68.7,426.3h.55v.55h-.55zM93.2,427.0h.55v.55h-.55zM79.8,425.3h.55v.55h-.55zM87.5,429.5h.55v.55h-.55zM76.9,431.0h.55v.55h-.55zM85.6,431.3h.55v.55h-.55zM80.2,434.2h.55v.55h-.55zM86.5,428.6h.55v.55h-.55zM80.9,428.3h.55v.55h-.55zM89.2,428.2h.55v.55h-.55zM90.5,430.7h.55v.55h-.55zM92.1,431.4h.55v.55h-.55zM83.6,423.3h.55v.55h-.55zM85.8,431.4h.55v.55h-.55zM85.0,430.7h.55v.55h-.55zM81.2,427.9h.55v.55h-.55zM78.3,433.1h.55v.55h-.55zM85.0,427.5h.55v.55h-.55zM76.0,428.5h.55v.55h-.55zM92.7,430.4h.55v.55h-.55zM79.7,433.3h.55v.55h-.55zM92.6,431.9h.55v.55h-.55zM88.7,432.5h.55v.55h-.55zM87.3,431.3h.55v.55h-.55zM79.3,433.5h.55v.55h-.55zM85.4,435.1h.55v.55h-.55zM71.7,431.1h.55v.55h-.55zM89.9,428.0h.55v.55h-.55zM86.7,431.2h.55v.55h-.55zM87.5,427.4h.55v.55h-.55zM83.1,432.1h.55v.55h-.55zM91.7,429.3h.55v.55h-.55zM84.5,429.6h.55v.55h-.55zM90.2,425.8h.55v.55h-.55zM76.0,429.4h.55v.55h-.55zM77.4,427.2h.55v.55h-.55zM84.5,430.4h.55v.55h-.55zM77.6,431.4h.55v.55h-.55zM73.4,430.6h.55v.55h-.55zM74.5,425.2h.55v.55h-.55zM87.9,427.8h.55v.55h-.55zM79.2,427.7h.55v.55h-.55zM86.8,428.8h.55v.55h-.55zM83.8,432.2h.55v.55h-.55zM79.7,427.6h.55v.55h-.55zM80.9,432.5h.55v.55h-.55zM89.9,432.9h.55v.55h-.55zM83.8,428.5h.55v.55h-.55zM89.1,427.8h.55v.55h-.55zM89.0,431.2h.55v.55h-.55zM79.8,428.8h.55v.55h-.55zM83.3,434.2h.55v.55h-.55zM107.0,439.8h.55v.55h-.55zM74.8,431.5h.55v.55h-.55zM82.2,448.3h.55v.55h-.55zM70.6,458.5h.55v.55h-.55zM63.0,452.4h.55v.55h-.55zM78.5,439.0h.55v.55h-.55zM91.5,454.3h.55v.55h-.55zM62.1,442.7h.55v.55h-.55zM86.3,446.8h.55v.55h-.55zM66.6,450.7h.55v.55h-.55zM78.5,448.3h.55v.55h-.55zM89.6,449.2h.55v.55h-.55zM101.8,453.8h.55v.55h-.55zM89.7,455.0h.55v.55h-.55zM95.6,450.1h.55v.55h-.55zM69.2,459.6h.55v.55h-.55zM84.6,461.1h.55v.55h-.55zM82.2,452.7h.55v.55h-.55zM87.4,460.8h.55v.55h-.55zM81.2,446.4h.55v.55h-.55zM82.2,444.6h.55v.55h-.55zM81.7,448.4h.55v.55h-.55zM87.4,462.8h.55v.55h-.55zM75.8,450.6h.55v.55h-.55zM79.5,454.8h.55v.55h-.55zM65.9,447.5h.55v.55h-.55zM80.9,453.3h.55v.55h-.55zM78.3,445.3h.55v.55h-.55zM72.1,455.7h.55v.55h-.55zM95.9,446.8h.55v.55h-.55zM83.0,451.8h.55v.55h-.55zM69.4,449.7h.55v.55h-.55zM77.9,452.1h.55v.55h-.55zM76.8,439.8h.55v.55h-.55zM95.8,458.3h.55v.55h-.55zM78.2,452.9h.55v.55h-.55zM84.7,454.1h.55v.55h-.55zM68.3,466.1h.55v.55h-.55zM78.1,460.2h.55v.55h-.55zM79.9,445.8h.55v.55h-.55zM80.6,456.3h.55v.55h-.55zM70.0,448.9h.55v.55h-.55zM70.9,437.5h.55v.55h-.55zM95.0,449.2h.55v.55h-.55zM82.5,458.0h.55v.55h-.55zM69.8,451.5h.55v.55h-.55zM100.4,450.9h.55v.55h-.55zM71.6,460.5h.55v.55h-.55zM74.5,448.9h.55v.55h-.55zM84.3,440.3h.55v.55h-.55zM84.1,454.4h.55v.55h-.55zM85.8,450.5h.55v.55h-.55zM74.9,454.9h.55v.55h-.55zM78.6,460.4h.55v.55h-.55zM105.3,435.0h.55v.55h-.55zM56.1,452.8h.55v.55h-.55zM86.4,455.8h.55v.55h-.55zM89.5,439.5h.55v.55h-.55zM74.7,461.3h.55v.55h-.55zM71.1,460.9h.55v.55h-.55zM79.4,455.6h.55v.55h-.55zM89.3,452.6h.55v.55h-.55zM86.3,438.8h.55v.55h-.55zM83.2,448.1h.55v.55h-.55zM86.2,457.4h.55v.55h-.55zM75.5,444.4h.55v.55h-.55zM71.6,449.0h.55v.55h-.55zM86.0,440.3h.55v.55h-.55zM92.9,447.5h.55v.55h-.55zM74.5,439.6h.55v.55h-.55zM84.2,453.5h.55v.55h-.55zM64.3,463.8h.55v.55h-.55zM98.1,446.2h.55v.55h-.55zM90.9,465.8h.55v.55h-.55zM90.8,438.1h.55v.55h-.55zM79.5,447.9h.55v.55h-.55zM72.8,431.4h.55v.55h-.55zM86.4,441.7h.55v.55h-.55zM81.4,447.4h.55v.55h-.55zM88.5,443.9h.55v.55h-.55zM72.9,455.7h.55v.55h-.55zM94.0,442.0h.55v.55h-.55zM95.0,446.6h.55v.55h-.55zM78.0,462.4h.55v.55h-.55zM73.8,459.4h.55v.55h-.55zM75.8,454.1h.55v.55h-.55zM65.1,446.6h.55v.55h-.55zM91.6,447.0h.55v.55h-.55zM79.4,445.5h.55v.55h-.55zM81.4,436.9h.55v.55h-.55zM67.9,451.4h.55v.55h-.55zM69.6,446.4h.55v.55h-.55zM78.9,448.2h.55v.55h-.55zM81.6,462.5h.55v.55h-.55zM93.5,455.1h.55v.55h-.55zM78.5,445.2h.55v.55h-.55zM63.9,451.1h.55v.55h-.55zM56.7,451.3h.55v.55h-.55zM91.9,458.9h.55v.55h-.55zM88.1,439.3h.55v.55h-.55zM83.3,441.4h.55v.55h-.55zM88.4,445.5h.55v.55h-.55zM95.1,465.9h.55v.55h-.55zM95.2,463.8h.55v.55h-.55zM81.1,445.9h.55v.55h-.55zM98.1,457.8h.55v.55h-.55zM74.3,451.4h.55v.55h-.55zM64.5,452.1h.55v.55h-.55zM89.1,445.5h.55v.55h-.55zM70.7,440.1h.55v.55h-.55zM85.8,453.9h.55v.55h-.55zM86.9,449.0h.55v.55h-.55zM70.8,466.6h.55v.55h-.55zM79.1,448.1h.55v.55h-.55zM82.6,430.1h.55v.55h-.55zM79.0,448.2h.55v.55h-.55zM87.1,458.1h.55v.55h-.55zM80.6,433.5h.55v.55h-.55zM76.9,451.7h.55v.55h-.55zM78.5,438.7h.55v.55h-.55zM63.8,458.6h.55v.55h-.55zM83.6,447.7h.55v.55h-.55zM66.1,468.2h.55v.55h-.55zM101.6,441.0h.55v.55h-.55zM79.7,439.2h.55v.55h-.55zM91.2,434.7h.55v.55h-.55zM83.0,449.2h.55v.55h-.55zM71.1,459.2h.55v.55h-.55zM63.5,448.4h.55v.55h-.55zM78.7,445.9h.55v.55h-.55zM87.1,454.5h.55v.55h-.55zM75.6,445.8h.55v.55h-.55zM73.7,447.9h.55v.55h-.55zM88.0,444.7h.55v.55h-.55zM84.1,447.0h.55v.55h-.55zM73.2,458.3h.55v.55h-.55zM69.1,452.4h.55v.55h-.55zM93.0,435.8h.55v.55h-.55zM75.7,437.1h.55v.55h-.55zM71.1,439.2h.55v.55h-.55zM74.9,446.1h.55v.55h-.55zM85.1,460.7h.55v.55h-.55zM84.5,453.1h.55v.55h-.55zM78.9,447.3h.55v.55h-.55zM67.0,437.9h.55v.55h-.55zM84.6,461.2h.55v.55h-.55zM83.7,443.4h.55v.55h-.55zM96.3,440.3h.55v.55h-.55zM70.6,441.7h.55v.55h-.55zM69.3,450.2h.55v.55h-.55zM100.5,440.9h.55v.55h-.55zM67.7,447.7h.55v.55h-.55zM73.6,436.6h.55v.55h-.55zM83.0,453.9h.55v.55h-.55zM84.8,452.5h.55v.55h-.55zM62.4,440.2h.55v.55h-.55zM96.1,453.2h.55v.55h-.55zM64.3,455.6h.55v.55h-.55zM81.6,453.1h.55v.55h-.55zM81.0,444.5h.55v.55h-.55zM82.4,449.6h.55v.55h-.55zM75.1,435.0h.55v.55h-.55zM63.4,456.2h.55v.55h-.55zM88.1,448.7h.55v.55h-.55zM76.3,450.7h.55v.55h-.55zM90.5,439.6h.55v.55h-.55zM91.4,451.4h.55v.55h-.55zM86.2,459.2h.55v.55h-.55zM74.7,458.5h.55v.55h-.55zM68.4,446.2h.55v.55h-.55zM69.9,455.9h.55v.55h-.55zM70.2,452.5h.55v.55h-.55zM70.6,460.8h.55v.55h-.55zM99.8,444.8h.55v.55h-.55zM98.6,447.9h.55v.55h-.55zM103.0,442.7h.55v.55h-.55zM67.0,465.5h.55v.55h-.55zM76.2,441.5h.55v.55h-.55zM69.3,438.7h.55v.55h-.55zM75.7,441.4h.55v.55h-.55zM97.2,449.3h.55v.55h-.55zM59.0,442.9h.55v.55h-.55zM69.5,436.1h.55v.55h-.55zM78.7,449.0h.55v.55h-.55zM70.6,447.3h.55v.55h-.55zM88.6,458.2h.55v.55h-.55zM95.8,444.4h.55v.55h-.55zM87.2,440.6h.55v.55h-.55zM82.1,440.3h.55v.55h-.55zM84.7,437.2h.55v.55h-.55zM69.8,452.1h.55v.55h-.55zM82.5,436.2h.55v.55h-.55zM74.7,451.8h.55v.55h-.55zM80.4,441.8h.55v.55h-.55zM80.4,446.6h.55v.55h-.55zM96.1,448.7h.55v.55h-.55zM60.9,436.5h.55v.55h-.55zM83.8,457.7h.55v.55h-.55zM83.9,455.2h.55v.55h-.55zM71.7,440.2h.55v.55h-.55zM88.1,447.3h.55v.55h-.55zM83.9,436.2h.55v.55h-.55zM80.4,443.6h.55v.55h-.55zM87.1,441.9h.55v.55h-.55zM72.2,446.5h.55v.55h-.55zM93.3,445.1h.55v.55h-.55zM69.6,443.7h.55v.55h-.55zM72.5,463.6h.55v.55h-.55zM58.9,448.4h.55v.55h-.55zM89.5,455.9h.55v.55h-.55zM80.3,455.5h.55v.55h-.55zM90.3,454.1h.55v.55h-.55zM84.4,461.5h.55v.55h-.55zM85.9,460.1h.55v.55h-.55zM70.9,459.9h.55v.55h-.55zM63.5,441.7h.55v.55h-.55zM83.6,441.2h.55v.55h-.55zM82.6,439.5h.55v.55h-.55zM97.3,444.0h.55v.55h-.55zM69.0,454.2h.55v.55h-.55zM88.0,440.4h.55v.55h-.55zM90.9,463.2h.55v.55h-.55zM89.7,446.3h.55v.55h-.55zM76.0,455.5h.55v.55h-.55zM57.6,430.9h.55v.55h-.55zM71.1,443.1h.55v.55h-.55zM99.4,444.6h.55v.55h-.55zM67.6,443.6h.55v.55h-.55zM84.0,441.3h.55v.55h-.55zM74.4,450.5h.55v.55h-.55zM82.0,449.7h.55v.55h-.55zM85.1,458.9h.55v.55h-.55zM94.8,431.1h.55v.55h-.55zM108.3,441.9h.55v.55h-.55zM92.2,439.6h.55v.55h-.55zM84.9,449.9h.55v.55h-.55zM84.1,455.5h.55v.55h-.55zM85.2,439.6h.55v.55h-.55zM81.4,455.3h.55v.55h-.55zM87.4,444.5h.55v.55h-.55zM77.7,449.1h.55v.55h-.55zM66.3,443.1h.55v.55h-.55zM96.5,441.2h.55v.55h-.55zM80.2,443.3h.55v.55h-.55zM105.9,458.3h.55v.55h-.55zM98.3,445.9h.55v.55h-.55zM95.6,458.4h.55v.55h-.55zM104.0,432.4h.55v.55h-.55zM105.6,444.4h.55v.55h-.55zM101.4,444.3h.55v.55h-.55zM96.0,435.4h.55v.55h-.55zM102.5,440.2h.55v.55h-.55zM94.6,461.0h.55v.55h-.55zM98.3,435.1h.55v.55h-.55zM95.9,447.6h.55v.55h-.55zM104.2,443.2h.55v.55h-.55zM103.7,425.7h.55v.55h-.55zM97.5,436.0h.55v.55h-.55zM99.4,445.6h.55v.55h-.55zM89.1,471.9h.55v.55h-.55zM95.0,444.1h.55v.55h-.55zM103.5,449.1h.55v.55h-.55zM100.5,411.5h.55v.55h-.55zM93.9,448.2h.55v.55h-.55zM94.7,430.0h.55v.55h-.55zM87.5,452.7h.55v.55h-.55zM101.8,431.5h.55v.55h-.55zM98.5,439.4h.55v.55h-.55zM93.6,437.6h.55v.55h-.55zM100.4,445.8h.55v.55h-.55zM105.5,440.6h.55v.55h-.55zM96.8,444.3h.55v.55h-.55zM96.0,427.7h.55v.55h-.55zM104.8,436.4h.55v.55h-.55zM99.7,446.7h.55v.55h-.55zM93.6,446.6h.55v.55h-.55zM101.4,439.2h.55v.55h-.55zM101.1,432.6h.55v.55h-.55zM88.1,437.4h.55v.55h-.55zM94.5,448.9h.55v.55h-.55zM100.4,434.9h.55v.55h-.55zM99.3,453.7h.55v.55h-.55zM104.8,443.9h.55v.55h-.55zM101.2,437.4h.55v.55h-.55zM98.4,446.1h.55v.55h-.55zM98.5,443.2h.55v.55h-.55zM93.5,423.5h.55v.55h-.55zM90.6,435.8h.55v.55h-.55zM105.7,452.0h.55v.55h-.55zM94.1,424.6h.55v.55h-.55zM103.0,444.8h.55v.55h-.55zM92.2,450.7h.55v.55h-.55zM100.0,453.4h.55v.55h-.55zM100.8,449.1h.55v.55h-.55zM100.7,430.6h.55v.55h-.55zM97.9,433.4h.55v.55h-.55zM103.2,430.2h.55v.55h-.55zM91.4,447.0h.55v.55h-.55zM104.8,454.6h.55v.55h-.55zM104.5,425.1h.55v.55h-.55zM95.6,434.6h.55v.55h-.55zM98.9,418.6h.55v.55h-.55zM99.0,442.9h.55v.55h-.55zM94.3,441.3h.55v.55h-.55zM105.0,440.6h.55v.55h-.55zM104.3,450.3h.55v.55h-.55zM101.1,443.9h.55v.55h-.55zM97.2,452.5h.55v.55h-.55zM96.7,433.1h.55v.55h-.55zM102.6,432.9h.55v.55h-.55zM101.2,450.7h.55v.55h-.55zM99.5,441.2h.55v.55h-.55zM103.7,447.7h.55v.55h-.55zM91.4,427.0h.55v.55h-.55zM105.7,444.0h.55v.55h-.55zM88.7,426.7h.55v.55h-.55zM99.2,430.4h.55v.55h-.55zM101.4,441.0h.55v.55h-.55zM101.5,428.5h.55v.55h-.55zM102.2,459.8h.55v.55h-.55zM95.1,453.3h.55v.55h-.55zM104.0,446.6h.55v.55h-.55zM98.8,428.6h.55v.55h-.55zM94.7,447.9h.55v.55h-.55zM104.0,452.5h.55v.55h-.55zM103.9,449.3h.55v.55h-.55zM96.9,428.2h.55v.55h-.55zM100.1,445.2h.55v.55h-.55zM99.5,425.0h.55v.55h-.55zM96.5,425.5h.55v.55h-.55zM99.8,429.7h.55v.55h-.55zM98.3,443.5h.55v.55h-.55zM99.8,453.9h.55v.55h-.55zM93.6,418.4h.55v.55h-.55zM103.9,454.3h.55v.55h-.55zM106.3,443.1h.55v.55h-.55zM101.8,441.5h.55v.55h-.55zM92.7,434.6h.55v.55h-.55zM101.6,434.5h.55v.55h-.55zM108.7,424.9h.55v.55h-.55zM97.0,451.4h.55v.55h-.55zM96.1,429.0h.55v.55h-.55zM92.4,433.0h.55v.55h-.55zM106.7,444.4h.55v.55h-.55zM101.7,435.1h.55v.55h-.55zM103.4,441.4h.55v.55h-.55zM94.6,435.8h.55v.55h-.55zM100.2,452.0h.55v.55h-.55zM98.9,445.3h.55v.55h-.55zM109.3,432.3h.55v.55h-.55zM93.0,450.2h.55v.55h-.55zM101.4,439.4h.55v.55h-.55zM100.5,437.0h.55v.55h-.55zM101.8,437.0h.55v.55h-.55zM103.2,428.6h.55v.55h-.55zM95.1,441.5h.55v.55h-.55zM96.8,447.3h.55v.55h-.55zM99.0,434.9h.55v.55h-.55zM100.2,435.1h.55v.55h-.55zM91.4,429.0h.55v.55h-.55zM95.2,435.7h.55v.55h-.55zM99.7,449.5h.55v.55h-.55zM102.0,458.2h.55v.55h-.55zM105.6,438.5h.55v.55h-.55zM107.5,452.2h.55v.55h-.55zM97.0,443.6h.55v.55h-.55zM104.7,442.9h.55v.55h-.55zM104.3,444.4h.55v.55h-.55zM102.7,437.3h.55v.55h-.55zM101.1,436.8h.55v.55h-.55zM102.6,423.6h.55v.55h-.55zM100.9,453.0h.55v.55h-.55zM102.1,440.2h.55v.55h-.55zM101.9,432.0h.55v.55h-.55zM62.6,455.8h.55v.55h-.55zM70.8,465.1h.55v.55h-.55zM61.8,465.3h.55v.55h-.55zM53.7,452.8h.55v.55h-.55zM72.1,466.4h.55v.55h-.55zM65.2,443.3h.55v.55h-.55zM77.6,458.1h.55v.55h-.55zM59.6,451.0h.55v.55h-.55zM64.2,459.0h.55v.55h-.55zM80.5,448.0h.55v.55h-.55zM100.0,458.1h.55v.55h-.55zM68.1,463.0h.55v.55h-.55zM85.7,455.7h.55v.55h-.55zM67.9,454.8h.55v.55h-.55zM68.4,463.0h.55v.55h-.55zM64.8,469.6h.55v.55h-.55zM71.5,457.3h.55v.55h-.55zM83.9,444.5h.55v.55h-.55zM61.3,462.5h.55v.55h-.55zM72.7,458.2h.55v.55h-.55zM77.3,454.1h.55v.55h-.55zM70.5,448.8h.55v.55h-.55zM50.0,467.1h.55v.55h-.55zM61.3,453.3h.55v.55h-.55zM89.3,465.7h.55v.55h-.55zM66.2,454.6h.55v.55h-.55zM71.5,451.6h.55v.55h-.55zM79.1,459.3h.55v.55h-.55zM74.0,463.5h.55v.55h-.55zM81.1,471.2h.55v.55h-.55zM90.7,446.3h.55v.55h-.55zM83.2,450.4h.55v.55h-.55zM55.3,463.2h.55v.55h-.55zM64.0,456.1h.55v.55h-.55zM85.3,453.6h.55v.55h-.55zM61.7,460.6h.55v.55h-.55zM87.1,462.0h.55v.55h-.55zM53.8,453.7h.55v.55h-.55zM70.6,471.8h.55v.55h-.55zM83.2,464.2h.55v.55h-.55zM86.9,456.1h.55v.55h-.55zM78.2,461.7h.55v.55h-.55zM60.7,458.2h.55v.55h-.55zM79.2,450.7h.55v.55h-.55zM82.2,463.6h.55v.55h-.55zM84.9,452.8h.55v.55h-.55zM73.7,468.4h.55v.55h-.55zM82.0,452.7h.55v.55h-.55zM75.2,468.2h.55v.55h-.55zM71.5,460.9h.55v.55h-.55zM103.3,458.0h.55v.55h-.55zM71.1,451.2h.55v.55h-.55zM64.5,468.6h.55v.55h-.55zM70.8,449.9h.55v.55h-.55zM61.2,458.3h.55v.55h-.55zM81.6,453.0h.55v.55h-.55zM80.9,454.8h.55v.55h-.55zM76.6,461.8h.55v.55h-.55zM79.6,455.2h.55v.55h-.55zM70.3,461.7h.55v.55h-.55zM56.7,459.3h.55v.55h-.55zM78.4,465.4h.55v.55h-.55zM71.7,456.8h.55v.55h-.55zM73.8,452.9h.55v.55h-.55zM69.6,460.9h.55v.55h-.55zM75.4,450.7h.55v.55h-.55zM68.1,443.2h.55v.55h-.55zM81.6,454.3h.55v.55h-.55zM74.8,450.3h.55v.55h-.55zM70.9,461.1h.55v.55h-.55zM83.7,448.4h.55v.55h-.55zM82.0,456.8h.55v.55h-.55zM62.6,461.2h.55v.55h-.55zM68.3,455.8h.55v.55h-.55zM63.4,459.4h.55v.55h-.55zM72.2,456.7h.55v.55h-.55zM60.3,454.3h.55v.55h-.55zM76.6,466.8h.55v.55h-.55zM71.4,467.8h.55v.55h-.55zM71.6,450.2h.55v.55h-.55zM79.3,451.1h.55v.55h-.55zM76.6,465.3h.55v.55h-.55zM68.1,457.2h.55v.55h-.55zM101.4,459.5h.55v.55h-.55zM74.9,463.3h.55v.55h-.55zM70.6,457.2h.55v.55h-.55zM76.3,441.1h.55v.55h-.55zM88.7,450.4h.55v.55h-.55zM58.9,461.6h.55v.55h-.55zM72.1,449.1h.55v.55h-.55zM74.3,449.9h.55v.55h-.55zM63.4,447.4h.55v.55h-.55zM61.9,460.7h.55v.55h-.55zM73.3,460.0h.55v.55h-.55zM82.8,457.6h.55v.55h-.55zM63.9,455.9h.55v.55h-.55zM91.5,458.1h.55v.55h-.55zM75.6,457.2h.55v.55h-.55zM74.7,460.9h.55v.55h-.55zM71.7,456.8h.55v.55h-.55zM62.4,452.0h.55v.55h-.55zM76.7,463.1h.55v.55h-.55zM82.8,458.2h.55v.55h-.55zM80.4,465.4h.55v.55h-.55zM93.4,456.9h.55v.55h-.55zM95.0,465.3h.55v.55h-.55zM102.8,458.4h.55v.55h-.55zM76.3,466.1h.55v.55h-.55zM71.7,460.0h.55v.55h-.55zM78.0,458.9h.55v.55h-.55zM70.7,462.0h.55v.55h-.55zM96.6,464.7h.55v.55h-.55zM91.9,461.5h.55v.55h-.55zM100.9,465.1h.55v.55h-.55zM97.3,456.8h.55v.55h-.55zM91.0,458.4h.55v.55h-.55zM91.0,463.8h.55v.55h-.55zM77.8,463.7h.55v.55h-.55zM98.3,465.0h.55v.55h-.55zM93.3,459.5h.55v.55h-.55zM81.9,458.6h.55v.55h-.55zM89.2,467.7h.55v.55h-.55zM91.9,463.0h.55v.55h-.55zM78.0,464.8h.55v.55h-.55zM85.9,455.4h.55v.55h-.55zM72.5,461.6h.55v.55h-.55zM80.0,469.6h.55v.55h-.55zM88.3,458.9h.55v.55h-.55zM83.6,469.4h.55v.55h-.55zM79.5,466.1h.55v.55h-.55zM91.9,468.9h.55v.55h-.55zM92.8,461.4h.55v.55h-.55zM92.8,463.3h.55v.55h-.55zM96.8,462.8h.55v.55h-.55zM105.8,462.6h.55v.55h-.55zM92.0,460.4h.55v.55h-.55zM89.2,463.1h.55v.55h-.55zM89.6,466.6h.55v.55h-.55zM83.3,459.7h.55v.55h-.55zM98.0,461.9h.55v.55h-.55zM82.1,467.6h.55v.55h-.55zM95.1,452.5h.55v.55h-.55zM84.7,466.2h.55v.55h-.55zM95.6,461.0h.55v.55h-.55zM102.2,459.9h.55v.55h-.55zM86.1,463.6h.55v.55h-.55zM88.1,466.3h.55v.55h-.55zM97.3,462.9h.55v.55h-.55zM100.7,460.4h.55v.55h-.55zM86.3,469.9h.55v.55h-.55zM89.1,467.3h.55v.55h-.55zM84.4,462.1h.55v.55h-.55zM87.3,463.8h.55v.55h-.55zM85.2,463.2h.55v.55h-.55zM94.3,467.9h.55v.55h-.55zM89.3,465.7h.55v.55h-.55zM96.5,458.8h.55v.55h-.55zM74.2,469.6h.55v.55h-.55zM100.1,463.4h.55v.55h-.55zM91.4,459.4h.55v.55h-.55zM75.9,464.4h.55v.55h-.55zM75.0,466.8h.55v.55h-.55zM82.2,464.3h.55v.55h-.55zM105.6,470.6h.55v.55h-.55zM85.9,467.4h.55v.55h-.55zM79.0,460.8h.55v.55h-.55zM91.6,468.6h.55v.55h-.55zM83.1,465.3h.55v.55h-.55zM91.2,417.9h.55v.55h-.55zM89.1,431.6h.55v.55h-.55zM89.4,426.6h.55v.55h-.55zM97.7,420.5h.55v.55h-.55zM101.3,431.6h.55v.55h-.55zM104.6,430.7h.55v.55h-.55zM86.1,421.2h.55v.55h-.55zM83.2,419.6h.55v.55h-.55zM83.1,429.1h.55v.55h-.55zM103.3,420.9h.55v.55h-.55zM97.5,417.8h.55v.55h-.55zM87.3,419.1h.55v.55h-.55zM75.6,424.4h.55v.55h-.55zM90.9,422.1h.55v.55h-.55zM85.5,419.2h.55v.55h-.55zM89.0,421.1h.55v.55h-.55zM92.3,418.1h.55v.55h-.55zM92.2,426.6h.55v.55h-.55zM101.3,429.3h.55v.55h-.55zM91.8,420.6h.55v.55h-.55zM73.6,424.0h.55v.55h-.55zM102.8,432.3h.55v.55h-.55zM67.2,420.3h.55v.55h-.55zM86.9,418.8h.55v.55h-.55zM91.7,424.2h.55v.55h-.55zM85.4,423.9h.55v.55h-.55zM75.7,419.2h.55v.55h-.55zM82.0,428.5h.55v.55h-.55zM75.4,423.0h.55v.55h-.55zM97.1,423.8h.55v.55h-.55zM97.4,420.8h.55v.55h-.55zM94.0,428.5h.55v.55h-.55zM110.1,427.7h.55v.55h-.55zM102.9,424.1h.55v.55h-.55zM91.0,431.9h.55v.55h-.55zM95.3,431.1h.55v.55h-.55zM96.5,434.7h.55v.55h-.55zM111.6,419.9h.55v.55h-.55zM106.9,426.3h.55v.55h-.55zM94.4,423.5h.55v.55h-.55zM96.6,418.5h.55v.55h-.55zM83.6,420.3h.55v.55h-.55zM92.8,428.7h.55v.55h-.55zM96.8,426.0h.55v.55h-.55zM84.9,415.3h.55v.55h-.55zM93.9,424.9h.55v.55h-.55zM93.5,431.3h.55v.55h-.55zM88.6,423.1h.55v.55h-.55zM69.4,426.9h.55v.55h-.55zM89.8,420.5h.55v.55h-.55zM93.7,418.9h.55v.55h-.55zM85.4,434.0h.55v.55h-.55zM97.0,428.8h.55v.55h-.55zM97.0,427.4h.55v.55h-.55zM92.0,435.6h.55v.55h-.55zM89.6,427.8h.55v.55h-.55zM88.3,422.4h.55v.55h-.55zM68.3,414.5h.55v.55h-.55zM104.1,431.6h.55v.55h-.55zM86.3,423.9h.55v.55h-.55zM95.7,419.1h.55v.55h-.55zM106.1,418.9h.55v.55h-.55zM83.7,410.3h.55v.55h-.55zM103.8,424.4h.55v.55h-.55zM104.8,419.1h.55v.55h-.55zM93.2,424.5h.55v.55h-.55zM91.9,434.4h.55v.55h-.55zM110.5,431.0h.55v.55h-.55zM86.5,428.5h.55v.55h-.55zM102.2,426.9h.55v.55h-.55zM95.2,426.5h.55v.55h-.55zM82.0,425.3h.55v.55h-.55zM104.5,419.1h.55v.55h-.55zM90.8,428.2h.55v.55h-.55zM77.8,423.4h.55v.55h-.55zM74.8,421.0h.55v.55h-.55zM77.4,419.6h.55v.55h-.55zM85.7,422.7h.55v.55h-.55zM88.2,412.0h.55v.55h-.55zM104.3,422.6h.55v.55h-.55zM80.2,420.9h.55v.55h-.55zM92.8,419.0h.55v.55h-.55zM86.3,421.7h.55v.55h-.55zM94.9,420.3h.55v.55h-.55zM94.1,425.7h.55v.55h-.55zM88.7,430.2h.55v.55h-.55zM90.2,418.1h.55v.55h-.55zM92.7,424.6h.55v.55h-.55zM89.6,425.2h.55v.55h-.55zM111.1,425.2h.55v.55h-.55zM94.1,422.8h.55v.55h-.55zM73.2,445.5h.55v.55h-.55zM58.4,435.0h.55v.55h-.55zM67.7,452.7h.55v.55h-.55zM52.9,439.5h.55v.55h-.55zM68.5,455.2h.55v.55h-.55zM54.8,442.3h.55v.55h-.55zM69.8,441.2h.55v.55h-.55zM60.8,441.1h.55v.55h-.55zM54.8,446.4h.55v.55h-.55zM66.1,433.4h.55v.55h-.55zM64.7,456.0h.55v.55h-.55zM65.4,454.5h.55v.55h-.55zM60.1,458.3h.55v.55h-.55zM58.5,463.0h.55v.55h-.55zM60.8,439.5h.55v.55h-.55zM57.7,442.3h.55v.55h-.55zM60.5,439.8h.55v.55h-.55zM61.7,452.0h.55v.55h-.55zM70.2,442.9h.55v.55h-.55zM72.6,437.0h.55v.55h-.55zM56.8,435.8h.55v.55h-.55zM68.2,432.0h.55v.55h-.55zM54.2,457.5h.55v.55h-.55zM76.0,458.1h.55v.55h-.55zM53.5,446.1h.55v.55h-.55zM69.8,446.8h.55v.55h-.55zM52.6,442.9h.55v.55h-.55zM52.1,434.8h.55v.55h-.55zM79.0,452.0h.55v.55h-.55zM53.7,432.4h.55v.55h-.55zM67.1,440.4h.55v.55h-.55zM68.0,440.1h.55v.55h-.55zM62.5,448.1h.55v.55h-.55zM56.7,428.6h.55v.55h-.55zM55.6,439.6h.55v.55h-.55zM62.5,445.4h.55v.55h-.55zM63.4,450.5h.55v.55h-.55zM57.7,458.4h.55v.55h-.55zM77.9,449.2h.55v.55h-.55zM65.2,457.1h.55v.55h-.55zM68.4,447.6h.55v.55h-.55zM62.7,439.2h.55v.55h-.55zM55.7,451.8h.55v.55h-.55zM72.2,436.3h.55v.55h-.55zM63.4,447.8h.55v.55h-.55zM60.9,439.0h.55v.55h-.55zM61.1,428.1h.55v.55h-.55zM63.5,443.2h.55v.55h-.55zM78.7,454.3h.55v.55h-.55zM61.5,445.8h.55v.55h-.55zM75.9,460.3h.55v.55h-.55zM65.2,444.7h.55v.55h-.55zM53.8,442.9h.55v.55h-.55zM62.7,439.2h.55v.55h-.55zM76.0,429.0h.55v.55h-.55zM62.9,449.5h.55v.55h-.55zM66.9,461.0h.55v.55h-.55zM54.1,439.1h.55v.55h-.55z" fill="#1a1a1a" fill-opacity="0.75"/>
<path d="M106.9,440.0h.6v.6h-.6zM109.7,436.6h.6v.6h-.6zM92.8,427.5h.6v.6h-.6zM71.4,439.3h.6v.6h-.6zM89.1,435.9h.6v.6h-.6zM87.6,436.5h.6v.6h-.6zM87.1,456.1h.6v.6h-.6zM105.5,452.2h.6v.6h-.6zM70.2,454.7h.6v.6h-.6zM87.5,436.4h.6v.6h-.6zM88.9,453.2h.6v.6h-.6zM96.2,460.4h.6v.6h-.6zM105.1,428.9h.6v.6h-.6zM93.3,456.2h.6v.6h-.6zM84.5,437.2h.6v.6h-.6zM90.4,453.3h.6v.6h-.6zM93.1,429.6h.6v.6h-.6zM106.6,437.0h.6v.6h-.6zM102.1,457.3h.6v.6h-.6zM91.7,434.7h.6v.6h-.6zM68.5,450.6h.6v.6h-.6zM83.8,435.9h.6v.6h-.6zM72.1,456.0h.6v.6h-.6zM69.6,450.6h.6v.6h-.6zM84.5,454.6h.6v.6h-.6zM105.0,428.9h.6v.6h-.6zM87.9,453.6h.6v.6h-.6zM104.4,454.2h.6v.6h-.6zM67.8,448.5h.6v.6h-.6zM98.2,459.6h.6v.6h-.6zM83.0,437.4h.6v.6h-.6zM105.8,450.6h.6v.6h-.6zM73.9,438.9h.6v.6h-.6zM108.1,443.7h.6v.6h-.6zM82.1,437.0h.6v.6h-.6zM106.2,436.6h.6v.6h-.6zM88.2,452.7h.6v.6h-.6zM67.7,443.5h.6v.6h-.6zM96.1,422.8h.6v.6h-.6zM77.4,437.6h.6v.6h-.6zM93.4,426.7h.6v.6h-.6zM101.2,423.8h.6v.6h-.6zM67.9,443.8h.6v.6h-.6zM92.4,426.4h.6v.6h-.6zM96.8,462.2h.6v.6h-.6zM104.4,432.6h.6v.6h-.6zM79.1,437.1h.6v.6h-.6zM103.1,425.5h.6v.6h-.6zM66.7,441.9h.6v.6h-.6zM82.7,437.7h.6v.6h-.6zM104.0,427.9h.6v.6h-.6zM86.7,436.9h.6v.6h-.6zM107.0,447.6h.6v.6h-.6zM80.2,437.3h.6v.6h-.6zM88.5,454.0h.6v.6h-.6zM86.1,455.8h.6v.6h-.6zM85.1,453.8h.6v.6h-.6zM91.0,452.6h.6v.6h-.6zM106.6,444.1h.6v.6h-.6zM82.1,458.0h.6v.6h-.6zM82.9,436.9h.6v.6h-.6zM71.3,439.4h.6v.6h-.6zM96.7,420.9h.6v.6h-.6zM67.1,450.7h.6v.6h-.6zM106.1,433.8h.6v.6h-.6zM106.6,444.6h.6v.6h-.6zM91.4,436.9h.6v.6h-.6zM106.1,445.7h.6v.6h-.6zM90.5,453.6h.6v.6h-.6zM106.4,443.5h.6v.6h-.6zM70.8,440.6h.6v.6h-.6zM101.3,420.5h.6v.6h-.6zM103.7,425.8h.6v.6h-.6zM79.5,435.1h.6v.6h-.6zM69.3,439.7h.6v.6h-.6zM94.5,458.0h.6v.6h-.6zM67.7,442.4h.6v.6h-.6zM94.6,429.0h.6v.6h-.6zM102.9,456.5h.6v.6h-.6zM89.1,455.0h.6v.6h-.6zM93.6,432.3h.6v.6h-.6zM71.9,436.1h.6v.6h-.6zM73.5,455.6h.6v.6h-.6zM99.4,457.9h.6v.6h-.6zM91.5,456.8h.6v.6h-.6zM101.1,459.1h.6v.6h-.6zM94.2,457.2h.6v.6h-.6zM75.6,437.5h.6v.6h-.6zM81.4,434.6h.6v.6h-.6zM77.1,459.4h.6v.6h-.6zM92.4,426.2h.6v.6h-.6zM103.2,456.3h.6v.6h-.6zM95.2,457.5h.6v.6h-.6zM106.5,436.1h.6v.6h-.6zM68.4,440.0h.6v.6h-.6zM104.9,447.7h.6v.6h-.6zM107.0,436.3h.6v.6h-.6zM90.4,432.8h.6v.6h-.6zM107.7,431.9h.6v.6h-.6zM106.4,444.1h.6v.6h-.6zM67.0,439.7h.6v.6h-.6zM105.5,425.6h.6v.6h-.6zM90.9,436.6h.6v.6h-.6zM108.1,439.8h.6v.6h-.6zM88.2,434.8h.6v.6h-.6zM106.3,428.3h.6v.6h-.6zM104.9,432.4h.6v.6h-.6zM86.2,434.4h.6v.6h-.6zM92.1,435.5h.6v.6h-.6zM105.8,448.1h.6v.6h-.6zM104.2,453.8h.6v.6h-.6zM68.3,453.9h.6v.6h-.6zM104.7,452.8h.6v.6h-.6zM106.6,445.6h.6v.6h-.6zM67.5,448.0h.6v.6h-.6zM70.8,452.5h.6v.6h-.6zM106.8,435.3h.6v.6h-.6zM105.2,441.1h.6v.6h-.6zM70.9,456.8h.6v.6h-.6zM99.2,421.1h.6v.6h-.6zM82.8,455.4h.6v.6h-.6zM86.3,436.3h.6v.6h-.6zM83.8,438.4h.6v.6h-.6zM90.5,432.9h.6v.6h-.6zM106.1,440.3h.6v.6h-.6zM99.1,422.4h.6v.6h-.6zM90.8,434.9h.6v.6h-.6zM76.0,437.3h.6v.6h-.6zM77.0,437.7h.6v.6h-.6zM73.4,458.2h.6v.6h-.6zM88.7,452.8h.6v.6h-.6zM89.9,456.7h.6v.6h-.6zM103.5,457.0h.6v.6h-.6zM106.6,450.5h.6v.6h-.6zM107.8,429.8h.6v.6h-.6zM96.9,459.0h.6v.6h-.6zM106.2,433.2h.6v.6h-.6zM78.0,459.9h.6v.6h-.6zM90.8,434.1h.6v.6h-.6zM106.2,429.4h.6v.6h-.6zM89.5,453.6h.6v.6h-.6zM106.3,451.0h.6v.6h-.6zM89.4,453.1h.6v.6h-.6zM92.2,456.2h.6v.6h-.6zM102.0,423.8h.6v.6h-.6zM105.5,432.1h.6v.6h-.6zM68.7,442.1h.6v.6h-.6zM102.0,424.6h.6v.6h-.6zM72.4,453.7h.6v.6h-.6zM74.3,437.0h.6v.6h-.6zM70.7,452.6h.6v.6h-.6zM81.7,456.8h.6v.6h-.6zM90.6,455.6h.6v.6h-.6zM85.1,434.9h.6v.6h-.6zM81.5,457.2h.6v.6h-.6zM68.6,450.3h.6v.6h-.6zM93.5,426.6h.6v.6h-.6zM81.6,436.6h.6v.6h-.6zM87.4,434.3h.6v.6h-.6zM90.7,429.0h.6v.6h-.6zM89.4,434.1h.6v.6h-.6zM74.0,437.8h.6v.6h-.6zM90.7,435.5h.6v.6h-.6zM99.2,422.7h.6v.6h-.6zM91.3,455.0h.6v.6h-.6zM67.4,448.5h.6v.6h-.6zM67.3,445.0h.6v.6h-.6zM71.0,456.6h.6v.6h-.6zM72.4,455.9h.6v.6h-.6zM68.2,452.9h.6v.6h-.6zM108.4,441.0h.6v.6h-.6zM106.0,423.0h.6v.6h-.6zM91.6,433.8h.6v.6h-.6zM93.1,431.9h.6v.6h-.6zM91.9,433.8h.6v.6h-.6zM92.8,431.9h.6v.6h-.6zM104.4,428.5h.6v.6h-.6zM73.3,436.4h.6v.6h-.6zM82.5,437.4h.6v.6h-.6zM107.2,430.6h.6v.6h-.6zM67.9,442.3h.6v.6h-.6zM81.4,458.0h.6v.6h-.6zM95.2,456.6h.6v.6h-.6zM92.7,436.3h.6v.6h-.6zM89.7,454.3h.6v.6h-.6zM68.2,452.9h.6v.6h-.6zM87.1,453.7h.6v.6h-.6zM92.1,430.1h.6v.6h-.6zM102.6,456.4h.6v.6h-.6zM93.4,455.8h.6v.6h-.6zM79.5,459.2h.6v.6h-.6zM102.4,422.8h.6v.6h-.6zM90.2,435.9h.6v.6h-.6zM104.3,424.4h.6v.6h-.6zM69.6,440.4h.6v.6h-.6zM80.6,456.4h.6v.6h-.6zM99.0,457.9h.6v.6h-.6zM107.1,439.8h.6v.6h-.6zM105.1,449.8h.6v.6h-.6zM67.5,451.1h.6v.6h-.6zM70.1,440.2h.6v.6h-.6zM73.6,458.5h.6v.6h-.6zM93.4,425.5h.6v.6h-.6zM106.3,442.6h.6v.6h-.6zM107.1,432.6h.6v.6h-.6zM96.1,425.7h.6v.6h-.6zM103.2,423.4h.6v.6h-.6zM106.4,445.3h.6v.6h-.6zM95.0,425.5h.6v.6h-.6zM90.1,436.0h.6v.6h-.6zM68.3,442.4h.6v.6h-.6zM92.9,427.0h.6v.6h-.6zM107.8,443.5h.6v.6h-.6zM71.0,438.7h.6v.6h-.6zM69.4,442.4h.6v.6h-.6zM77.5,457.6h.6v.6h-.6zM68.3,442.7h.6v.6h-.6zM75.0,438.6h.6v.6h-.6zM98.7,421.7h.6v.6h-.6zM96.2,461.2h.6v.6h-.6zM100.9,457.9h.6v.6h-.6zM105.6,448.0h.6v.6h-.6zM106.4,429.7h.6v.6h-.6zM103.4,425.4h.6v.6h-.6zM69.5,441.0h.6v.6h-.6zM92.8,457.2h.6v.6h-.6zM80.2,457.1h.6v.6h-.6zM65.9,449.7h.6v.6h-.6zM92.2,430.0h.6v.6h-.6zM106.5,427.7h.6v.6h-.6zM91.4,434.9h.6v.6h-.6zM93.9,457.3h.6v.6h-.6zM92.5,455.1h.6v.6h-.6zM87.9,436.1h.6v.6h-.6zM89.0,437.0h.6v.6h-.6zM71.5,454.1h.6v.6h-.6zM107.4,448.9h.6v.6h-.6zM87.1,437.8h.6v.6h-.6zM98.4,421.5h.6v.6h-.6zM105.8,426.2h.6v.6h-.6zM93.7,457.1h.6v.6h-.6zM88.4,454.6h.6v.6h-.6zM83.2,455.9h.6v.6h-.6zM77.4,434.5h.6v.6h-.6zM75.8,434.8h.6v.6h-.6zM102.0,459.8h.6v.6h-.6zM97.8,458.8h.6v.6h-.6zM73.2,436.7h.6v.6h-.6zM106.7,434.7h.6v.6h-.6zM84.5,454.9h.6v.6h-.6zM90.3,453.9h.6v.6h-.6zM81.5,458.0h.6v.6h-.6zM107.3,447.0h.6v.6h-.6zM104.6,432.8h.6v.6h-.6zM104.2,454.6h.6v.6h-.6zM92.7,456.5h.6v.6h-.6zM90.1,436.4h.6v.6h-.6zM91.0,454.6h.6v.6h-.6zM99.5,421.9h.6v.6h-.6zM67.5,448.6h.6v.6h-.6zM91.8,433.5h.6v.6h-.6zM90.1,454.6h.6v.6h-.6zM79.9,460.1h.6v.6h-.6zM87.4,455.4h.6v.6h-.6zM99.8,457.7h.6v.6h-.6zM77.2,457.1h.6v.6h-.6zM70.1,438.8h.6v.6h-.6zM99.2,423.2h.6v.6h-.6zM68.3,449.9h.6v.6h-.6zM106.9,434.8h.6v.6h-.6zM100.4,422.0h.6v.6h-.6zM90.9,437.3h.6v.6h-.6zM92.4,431.0h.6v.6h-.6zM66.7,441.5h.6v.6h-.6zM93.0,457.1h.6v.6h-.6zM66.3,445.0h.6v.6h-.6zM92.3,453.8h.6v.6h-.6zM70.8,440.0h.6v.6h-.6zM76.8,438.0h.6v.6h-.6zM104.2,428.2h.6v.6h-.6zM74.3,437.7h.6v.6h-.6zM71.1,438.8h.6v.6h-.6zM68.7,450.9h.6v.6h-.6zM70.7,453.4h.6v.6h-.6zM103.0,458.2h.6v.6h-.6zM92.7,457.7h.6v.6h-.6zM82.2,434.6h.6v.6h-.6zM68.9,440.8h.6v.6h-.6zM90.6,435.9h.6v.6h-.6zM107.3,440.4h.6v.6h-.6zM90.7,453.3h.6v.6h-.6zM105.2,431.2h.6v.6h-.6zM97.7,421.7h.6v.6h-.6zM74.2,438.9h.6v.6h-.6zM85.6,436.3h.6v.6h-.6zM103.9,425.8h.6v.6h-.6zM91.6,432.9h.6v.6h-.6zM105.8,429.8h.6v.6h-.6zM105.2,452.0h.6v.6h-.6zM93.7,430.0h.6v.6h-.6zM69.5,450.9h.6v.6h-.6zM106.4,442.1h.6v.6h-.6zM68.2,452.0h.6v.6h-.6zM106.0,437.2h.6v.6h-.6zM105.0,449.3h.6v.6h-.6zM66.7,446.9h.6v.6h-.6zM99.8,421.4h.6v.6h-.6zM94.2,457.8h.6v.6h-.6zM90.1,454.6h.6v.6h-.6zM92.8,432.4h.6v.6h-.6zM99.2,422.0h.6v.6h-.6zM100.7,420.8h.6v.6h-.6zM78.5,437.0h.6v.6h-.6zM95.3,426.0h.6v.6h-.6zM94.2,429.5h.6v.6h-.6zM82.2,456.0h.6v.6h-.6zM68.5,451.5h.6v.6h-.6zM69.0,443.5h.6v.6h-.6zM104.1,452.2h.6v.6h-.6zM100.0,458.7h.6v.6h-.6zM92.4,433.0h.6v.6h-.6zM84.3,455.2h.6v.6h-.6zM104.2,426.0h.6v.6h-.6zM74.5,438.2h.6v.6h-.6zM69.6,439.4h.6v.6h-.6zM97.9,457.7h.6v.6h-.6zM67.9,449.5h.6v.6h-.6zM106.1,448.6h.6v.6h-.6zM69.5,451.2h.6v.6h-.6zM88.6,436.3h.6v.6h-.6zM90.2,435.6h.6v.6h-.6zM79.7,459.1h.6v.6h-.6zM95.2,420.5h.6v.6h-.6zM95.6,457.4h.6v.6h-.6zM107.0,444.1h.6v.6h-.6zM103.7,422.6h.6v.6h-.6zM92.5,457.3h.6v.6h-.6zM99.1,459.2h.6v.6h-.6zM66.1,449.0h.6v.6h-.6zM74.8,460.1h.6v.6h-.6zM94.4,457.5h.6v.6h-.6zM95.9,422.5h.6v.6h-.6zM103.6,453.2h.6v.6h-.6zM90.7,435.1h.6v.6h-.6zM71.3,455.2h.6v.6h-.6zM100.2,457.4h.6v.6h-.6zM87.5,436.6h.6v.6h-.6zM84.9,456.4h.6v.6h-.6zM89.8,453.9h.6v.6h-.6zM67.9,451.4h.6v.6h-.6zM67.2,448.1h.6v.6h-.6zM107.9,440.1h.6v.6h-.6zM77.6,436.8h.6v.6h-.6zM81.5,436.8h.6v.6h-.6zM67.0,441.3h.6v.6h-.6zM80.0,435.1h.6v.6h-.6zM90.6,453.1h.6v.6h-.6zM67.2,440.3h.6v.6h-.6zM107.1,432.7h.6v.6h-.6zM101.8,461.1h.6v.6h-.6zM84.4,436.6h.6v.6h-.6zM104.0,455.9h.6v.6h-.6zM103.1,459.3h.6v.6h-.6zM106.8,448.7h.6v.6h-.6zM67.3,443.2h.6v.6h-.6zM102.3,456.2h.6v.6h-.6zM81.4,437.0h.6v.6h-.6zM68.6,439.7h.6v.6h-.6zM82.8,455.4h.6v.6h-.6zM80.3,457.9h.6v.6h-.6zM70.7,455.3h.6v.6h-.6zM83.7,436.6h.6v.6h-.6zM93.6,424.4h.6v.6h-.6zM86.2,437.2h.6v.6h-.6zM94.5,424.2h.6v.6h-.6zM77.6,437.4h.6v.6h-.6zM106.5,440.6h.6v.6h-.6zM83.2,455.8h.6v.6h-.6zM67.6,453.7h.6v.6h-.6zM84.4,454.7h.6v.6h-.6zM106.0,442.2h.6v.6h-.6zM100.3,422.3h.6v.6h-.6zM94.1,426.0h.6v.6h-.6zM104.4,453.0h.6v.6h-.6zM96.5,459.2h.6v.6h-.6zM98.1,422.2h.6v.6h-.6zM102.8,456.8h.6v.6h-.6zM82.0,436.8h.6v.6h-.6zM70.7,440.2h.6v.6h-.6zM88.7,454.3h.6v.6h-.6zM89.4,436.6h.6v.6h-.6zM81.9,456.3h.6v.6h-.6zM70.3,455.2h.6v.6h-.6zM91.4,435.9h.6v.6h-.6zM92.1,431.1h.6v.6h-.6zM107.9,448.4h.6v.6h-.6zM91.2,429.1h.6v.6h-.6zM67.8,441.0h.6v.6h-.6zM106.5,436.0h.6v.6h-.6zM77.8,436.9h.6v.6h-.6zM108.7,445.1h.6v.6h-.6zM86.9,435.1h.6v.6h-.6zM105.0,456.2h.6v.6h-.6zM85.7,454.5h.6v.6h-.6zM80.8,437.7h.6v.6h-.6zM71.3,454.7h.6v.6h-.6zM96.8,458.2h.6v.6h-.6zM103.4,458.8h.6v.6h-.6zM101.0,459.8h.6v.6h-.6zM94.7,429.0h.6v.6h-.6zM74.6,437.3h.6v.6h-.6zM97.1,458.5h.6v.6h-.6zM102.6,425.5h.6v.6h-.6zM79.0,458.9h.6v.6h-.6zM91.1,435.6h.6v.6h-.6zM92.1,456.2h.6v.6h-.6zM91.9,452.7h.6v.6h-.6zM94.3,457.7h.6v.6h-.6zM103.1,455.5h.6v.6h-.6zM93.3,432.7h.6v.6h-.6zM68.1,450.5h.6v.6h-.6zM92.1,429.1h.6v.6h-.6zM92.4,432.1h.6v.6h-.6zM81.9,456.9h.6v.6h-.6zM73.5,455.8h.6v.6h-.6zM105.8,427.1h.6v.6h-.6zM68.4,444.3h.6v.6h-.6zM106.9,445.4h.6v.6h-.6zM76.1,459.6h.6v.6h-.6zM73.2,455.8h.6v.6h-.6zM92.8,430.1h.6v.6h-.6zM85.4,454.4h.6v.6h-.6zM90.4,453.0h.6v.6h-.6zM80.6,457.9h.6v.6h-.6zM87.0,454.1h.6v.6h-.6zM101.5,456.6h.6v.6h-.6zM106.8,434.2h.6v.6h-.6zM103.6,426.5h.6v.6h-.6zM94.5,458.5h.6v.6h-.6zM92.4,434.5h.6v.6h-.6zM104.5,450.0h.6v.6h-.6zM72.3,438.6h.6v.6h-.6zM92.4,431.0h.6v.6h-.6zM66.9,443.7h.6v.6h-.6zM75.2,437.7h.6v.6h-.6zM72.9,436.9h.6v.6h-.6zM72.0,438.1h.6v.6h-.6zM86.4,437.0h.6v.6h-.6zM83.5,436.5h.6v.6h-.6zM76.7,459.4h.6v.6h-.6zM107.1,441.1h.6v.6h-.6zM70.7,438.6h.6v.6h-.6zM89.7,437.4h.6v.6h-.6zM84.9,455.8h.6v.6h-.6zM104.7,456.6h.6v.6h-.6zM93.2,428.4h.6v.6h-.6zM67.9,441.5h.6v.6h-.6zM99.3,421.9h.6v.6h-.6zM93.6,427.5h.6v.6h-.6zM93.2,432.0h.6v.6h-.6zM67.7,450.0h.6v.6h-.6zM83.2,455.6h.6v.6h-.6zM87.8,454.9h.6v.6h-.6zM106.5,451.7h.6v.6h-.6zM78.7,457.2h.6v.6h-.6zM77.6,459.2h.6v.6h-.6zM107.2,444.5h.6v.6h-.6zM105.2,427.4h.6v.6h-.6zM93.7,429.8h.6v.6h-.6zM105.9,438.3h.6v.6h-.6zM89.5,437.0h.6v.6h-.6zM85.6,435.3h.6v.6h-.6zM86.6,455.5h.6v.6h-.6zM79.7,437.1h.6v.6h-.6zM93.5,424.0h.6v.6h-.6zM72.7,457.6h.6v.6h-.6zM95.2,456.7h.6v.6h-.6zM105.3,446.8h.6v.6h-.6zM75.6,438.5h.6v.6h-.6zM74.6,435.8h.6v.6h-.6zM73.3,437.1h.6v.6h-.6zM88.6,437.8h.6v.6h-.6zM86.6,437.4h.6v.6h-.6zM76.7,437.1h.6v.6h-.6zM72.1,437.2h.6v.6h-.6zM69.9,455.9h.6v.6h-.6zM67.3,452.3h.6v.6h-.6zM100.0,458.4h.6v.6h-.6zM92.2,453.5h.6v.6h-.6zM94.0,424.5h.6v.6h-.6zM106.7,430.6h.6v.6h-.6zM98.7,420.8h.6v.6h-.6zM100.8,458.0h.6v.6h-.6zM90.9,435.1h.6v.6h-.6zM92.8,428.7h.6v.6h-.6zM79.1,436.7h.6v.6h-.6zM104.9,453.0h.6v.6h-.6zM68.5,451.0h.6v.6h-.6zM105.9,453.7h.6v.6h-.6zM79.3,436.1h.6v.6h-.6zM91.4,436.1h.6v.6h-.6zM105.5,453.0h.6v.6h-.6zM107.6,451.3h.6v.6h-.6zM102.9,424.2h.6v.6h-.6zM66.9,441.9h.6v.6h-.6zM82.0,435.8h.6v.6h-.6zM90.1,432.2h.6v.6h-.6zM107.5,443.4h.6v.6h-.6zM90.7,453.3h.6v.6h-.6zM85.5,454.6h.6v.6h-.6zM86.2,455.1h.6v.6h-.6zM91.5,434.8h.6v.6h-.6zM80.2,457.6h.6v.6h-.6zM87.8,436.9h.6v.6h-.6zM92.5,427.8h.6v.6h-.6zM91.9,433.7h.6v.6h-.6zM93.2,428.6h.6v.6h-.6zM104.3,426.0h.6v.6h-.6zM96.6,458.5h.6v.6h-.6zM87.5,437.4h.6v.6h-.6zM91.7,435.8h.6v.6h-.6zM102.7,456.0h.6v.6h-.6zM106.5,432.4h.6v.6h-.6zM66.0,448.1h.6v.6h-.6zM68.7,440.9h.6v.6h-.6zM76.0,437.6h.6v.6h-.6zM107.6,437.0h.6v.6h-.6zM80.7,437.5h.6v.6h-.6zM93.0,454.1h.6v.6h-.6zM105.7,427.5h.6v.6h-.6zM107.9,437.4h.6v.6h-.6zM103.5,455.1h.6v.6h-.6zM96.3,457.4h.6v.6h-.6zM106.8,438.7h.6v.6h-.6zM93.5,433.3h.6v.6h-.6zM97.6,458.3h.6v.6h-.6zM80.2,437.1h.6v.6h-.6zM93.4,424.7h.6v.6h-.6zM106.5,445.9h.6v.6h-.6zM100.5,421.8h.6v.6h-.6zM94.5,457.6h.6v.6h-.6zM90.9,453.3h.6v.6h-.6zM92.3,453.5h.6v.6h-.6zM106.0,446.8h.6v.6h-.6zM92.7,426.5h.6v.6h-.6zM105.9,432.8h.6v.6h-.6zM98.3,459.4h.6v.6h-.6zM73.2,457.4h.6v.6h-.6zM79.5,457.7h.6v.6h-.6zM101.2,459.8h.6v.6h-.6zM94.6,456.7h.6v.6h-.6zM70.1,438.8h.6v.6h-.6zM102.8,421.7h.6v.6h-.6zM69.2,451.3h.6v.6h-.6zM92.6,457.5h.6v.6h-.6zM97.9,457.7h.6v.6h-.6zM76.7,458.2h.6v.6h-.6zM93.9,428.0h.6v.6h-.6zM70.2,437.9h.6v.6h-.6zM99.8,457.8h.6v.6h-.6zM105.0,427.1h.6v.6h-.6zM101.6,422.9h.6v.6h-.6zM74.0,435.4h.6v.6h-.6zM88.8,438.1h.6v.6h-.6zM92.2,453.5h.6v.6h-.6zM70.9,456.4h.6v.6h-.6zM69.2,441.4h.6v.6h-.6zM104.6,449.5h.6v.6h-.6zM91.8,430.0h.6v.6h-.6zM107.3,452.6h.6v.6h-.6zM89.7,434.8h.6v.6h-.6zM70.4,453.3h.6v.6h-.6zM99.7,423.4h.6v.6h-.6zM103.8,454.4h.6v.6h-.6zM105.9,431.6h.6v.6h-.6zM96.6,458.5h.6v.6h-.6zM98.8,460.3h.6v.6h-.6zM93.7,426.0h.6v.6h-.6zM65.6,444.3h.6v.6h-.6zM67.3,442.8h.6v.6h-.6zM90.2,428.9h.6v.6h-.6zM90.1,454.5h.6v.6h-.6zM106.1,442.1h.6v.6h-.6zM105.9,440.5h.6v.6h-.6zM69.9,439.7h.6v.6h-.6zM93.5,427.7h.6v.6h-.6zM106.4,439.2h.6v.6h-.6zM91.7,456.9h.6v.6h-.6zM91.2,455.5h.6v.6h-.6zM100.7,423.2h.6v.6h-.6zM94.0,457.6h.6v.6h-.6zM67.4,443.3h.6v.6h-.6zM106.6,430.5h.6v.6h-.6zM99.0,457.3h.6v.6h-.6zM79.5,458.0h.6v.6h-.6zM70.3,452.9h.6v.6h-.6zM93.8,456.5h.6v.6h-.6zM95.2,457.2h.6v.6h-.6zM107.9,433.0h.6v.6h-.6zM107.1,431.3h.6v.6h-.6zM93.1,427.3h.6v.6h-.6zM72.7,456.8h.6v.6h-.6zM99.9,421.1h.6v.6h-.6zM90.8,435.4h.6v.6h-.6zM84.2,455.6h.6v.6h-.6zM107.6,441.7h.6v.6h-.6zM106.1,430.1h.6v.6h-.6zM69.3,454.0h.6v.6h-.6zM72.1,437.1h.6v.6h-.6zM74.1,437.9h.6v.6h-.6zM105.7,446.8h.6v.6h-.6zM70.0,440.9h.6v.6h-.6zM76.1,458.2h.6v.6h-.6zM70.4,451.9h.6v.6h-.6zM92.7,429.9h.6v.6h-.6zM80.8,459.4h.6v.6h-.6zM105.7,429.2h.6v.6h-.6zM109.6,446.3h.6v.6h-.6zM105.2,432.0h.6v.6h-.6zM74.2,457.4h.6v.6h-.6zM95.0,425.8h.6v.6h-.6zM71.1,455.4h.6v.6h-.6zM97.1,422.0h.6v.6h-.6zM91.9,435.5h.6v.6h-.6zM66.9,447.6h.6v.6h-.6zM76.7,436.4h.6v.6h-.6zM80.2,436.5h.6v.6h-.6zM106.5,445.2h.6v.6h-.6zM69.3,452.2h.6v.6h-.6zM80.8,457.3h.6v.6h-.6zM93.2,456.6h.6v.6h-.6zM68.0,444.2h.6v.6h-.6zM74.3,434.7h.6v.6h-.6zM87.8,453.9h.6v.6h-.6zM88.7,454.2h.6v.6h-.6zM67.1,448.3h.6v.6h-.6zM99.0,421.1h.6v.6h-.6zM105.7,449.0h.6v.6h-.6zM92.2,431.2h.6v.6h-.6zM74.5,437.9h.6v.6h-.6zM96.5,459.1h.6v.6h-.6zM95.9,458.3h.6v.6h-.6zM73.8,438.1h.6v.6h-.6zM107.6,448.5h.6v.6h-.6zM82.5,457.1h.6v.6h-.6zM90.7,453.2h.6v.6h-.6zM92.7,428.4h.6v.6h-.6zM68.6,444.8h.6v.6h-.6zM92.5,435.3h.6v.6h-.6zM83.3,435.9h.6v.6h-.6zM101.2,423.1h.6v.6h-.6zM107.7,435.4h.6v.6h-.6zM106.9,435.6h.6v.6h-.6zM77.8,437.2h.6v.6h-.6zM95.4,423.9h.6v.6h-.6zM90.8,435.4h.6v.6h-.6zM82.7,458.2h.6v.6h-.6zM82.6,455.3h.6v.6h-.6zM71.3,455.7h.6v.6h-.6zM102.8,422.0h.6v.6h-.6zM83.5,454.9h.6v.6h-.6zM84.5,438.0h.6v.6h-.6zM100.3,422.6h.6v.6h-.6zM104.1,423.5h.6v.6h-.6zM92.1,431.1h.6v.6h-.6zM89.8,434.8h.6v.6h-.6zM69.9,455.6h.6v.6h-.6zM107.3,433.1h.6v.6h-.6zM92.3,456.6h.6v.6h-.6zM91.7,437.4h.6v.6h-.6zM96.9,459.1h.6v.6h-.6zM98.0,460.8h.6v.6h-.6zM72.3,456.6h.6v.6h-.6zM92.6,430.6h.6v.6h-.6zM70.7,454.8h.6v.6h-.6zM82.9,456.8h.6v.6h-.6zM79.0,436.8h.6v.6h-.6zM102.8,422.7h.6v.6h-.6zM104.1,426.0h.6v.6h-.6zM67.6,446.2h.6v.6h-.6zM96.1,460.3h.6v.6h-.6zM80.6,436.4h.6v.6h-.6zM105.5,442.2h.6v.6h-.6zM92.4,453.2h.6v.6h-.6zM70.2,440.1h.6v.6h-.6zM92.9,454.6h.6v.6h-.6zM97.3,461.0h.6v.6h-.6zM92.4,452.4h.6v.6h-.6zM84.6,437.0h.6v.6h-.6zM67.7,448.7h.6v.6h-.6zM103.8,424.9h.6v.6h-.6zM101.8,458.0h.6v.6h-.6zM93.7,432.9h.6v.6h-.6zM69.8,442.1h.6v.6h-.6zM69.2,442.0h.6v.6h-.6zM105.1,448.4h.6v.6h-.6zM74.5,459.2h.6v.6h-.6zM97.1,458.8h.6v.6h-.6zM71.1,440.2h.6v.6h-.6zM66.4,445.2h.6v.6h-.6zM66.6,448.2h.6v.6h-.6zM104.4,431.3h.6v.6h-.6zM72.6,457.8h.6v.6h-.6zM89.7,453.4h.6v.6h-.6zM92.6,455.7h.6v.6h-.6zM79.5,457.5h.6v.6h-.6zM104.2,426.3h.6v.6h-.6zM93.5,427.0h.6v.6h-.6zM68.8,441.5h.6v.6h-.6zM66.3,447.2h.6v.6h-.6zM74.6,438.5h.6v.6h-.6zM83.9,458.3h.6v.6h-.6zM73.1,438.0h.6v.6h-.6zM106.5,444.5h.6v.6h-.6zM76.5,458.8h.6v.6h-.6zM105.7,449.2h.6v.6h-.6zM105.9,451.2h.6v.6h-.6zM106.1,435.5h.6v.6h-.6zM74.0,438.0h.6v.6h-.6zM68.4,451.2h.6v.6h-.6zM96.6,458.2h.6v.6h-.6zM68.5,453.8h.6v.6h-.6zM80.9,456.7h.6v.6h-.6zM90.0,436.4h.6v.6h-.6zM88.5,453.7h.6v.6h-.6zM106.0,440.6h.6v.6h-.6zM89.5,437.7h.6v.6h-.6zM105.5,447.5h.6v.6h-.6zM69.2,451.7h.6v.6h-.6zM71.8,439.1h.6v.6h-.6zM99.7,458.3h.6v.6h-.6zM105.9,429.7h.6v.6h-.6zM105.5,433.7h.6v.6h-.6zM98.4,459.6h.6v.6h-.6zM86.4,437.1h.6v.6h-.6zM70.2,439.6h.6v.6h-.6zM78.6,438.6h.6v.6h-.6zM102.2,422.9h.6v.6h-.6zM102.1,456.4h.6v.6h-.6zM106.0,435.6h.6v.6h-.6zM87.9,453.2h.6v.6h-.6zM92.8,431.1h.6v.6h-.6zM78.7,434.2h.6v.6h-.6zM106.4,449.1h.6v.6h-.6zM94.6,456.3h.6v.6h-.6zM106.7,442.5h.6v.6h-.6zM70.9,440.9h.6v.6h-.6zM105.8,431.5h.6v.6h-.6zM96.7,457.3h.6v.6h-.6zM99.3,422.8h.6v.6h-.6zM80.4,457.9h.6v.6h-.6zM91.3,435.4h.6v.6h-.6zM102.1,457.8h.6v.6h-.6zM104.9,425.0h.6v.6h-.6zM81.9,436.8h.6v.6h-.6zM90.9,429.7h.6v.6h-.6zM81.3,437.1h.6v.6h-.6zM106.4,450.6h.6v.6h-.6zM80.6,458.1h.6v.6h-.6zM89.8,453.9h.6v.6h-.6zM104.9,452.5h.6v.6h-.6zM71.5,439.2h.6v.6h-.6zM103.9,456.5h.6v.6h-.6zM88.9,454.2h.6v.6h-.6zM94.5,424.7h.6v.6h-.6zM108.6,430.2h.6v.6h-.6zM105.5,430.6h.6v.6h-.6zM106.4,433.9h.6v.6h-.6zM72.5,439.1h.6v.6h-.6zM105.8,438.0h.6v.6h-.6zM93.5,431.7h.6v.6h-.6zM107.1,452.1h.6v.6h-.6zM75.6,436.8h.6v.6h-.6zM94.5,428.7h.6v.6h-.6zM80.4,435.4h.6v.6h-.6zM91.1,454.8h.6v.6h-.6zM69.6,455.3h.6v.6h-.6zM93.6,456.6h.6v.6h-.6zM102.0,423.6h.6v.6h-.6zM105.4,427.8h.6v.6h-.6zM106.4,445.3h.6v.6h-.6zM89.3,435.4h.6v.6h-.6zM67.9,444.5h.6v.6h-.6zM82.4,456.5h.6v.6h-.6zM107.1,436.5h.6v.6h-.6zM94.9,457.2h.6v.6h-.6zM105.1,429.0h.6v.6h-.6zM93.0,433.8h.6v.6h-.6zM69.6,440.0h.6v.6h-.6zM108.4,445.9h.6v.6h-.6zM107.6,440.0h.6v.6h-.6zM68.5,442.5h.6v.6h-.6zM77.8,438.2h.6v.6h-.6zM72.7,454.4h.6v.6h-.6zM93.4,457.1h.6v.6h-.6zM89.8,436.9h.6v.6h-.6zM101.6,420.7h.6v.6h-.6zM101.1,458.0h.6v.6h-.6zM79.4,456.9h.6v.6h-.6zM81.0,437.6h.6v.6h-.6zM99.7,459.5h.6v.6h-.6zM105.9,450.2h.6v.6h-.6zM92.9,457.5h.6v.6h-.6zM72.2,439.3h.6v.6h-.6zM104.1,422.2h.6v.6h-.6zM104.4,457.9h.6v.6h-.6zM92.0,431.6h.6v.6h-.6zM106.3,449.7h.6v.6h-.6zM106.8,433.8h.6v.6h-.6zM106.7,444.7h.6v.6h-.6zM79.8,459.3h.6v.6h-.6zM89.4,453.6h.6v.6h-.6zM71.6,439.0h.6v.6h-.6zM102.2,456.9h.6v.6h-.6zM69.9,441.8h.6v.6h-.6zM92.5,426.8h.6v.6h-.6zM93.0,455.6h.6v.6h-.6zM89.5,454.9h.6v.6h-.6zM65.6,446.3h.6v.6h-.6zM93.2,429.5h.6v.6h-.6zM107.3,440.7h.6v.6h-.6zM101.2,457.6h.6v.6h-.6zM87.6,454.7h.6v.6h-.6zM77.0,457.7h.6v.6h-.6zM93.0,425.7h.6v.6h-.6zM84.0,436.4h.6v.6h-.6zM91.3,435.5h.6v.6h-.6zM91.7,453.2h.6v.6h-.6zM73.6,438.5h.6v.6h-.6zM92.3,432.8h.6v.6h-.6zM79.6,457.2h.6v.6h-.6zM67.5,451.5h.6v.6h-.6zM106.6,430.1h.6v.6h-.6zM86.7,454.4h.6v.6h-.6zM105.0,423.6h.6v.6h-.6zM92.7,428.7h.6v.6h-.6zM107.1,451.4h.6v.6h-.6zM78.5,436.3h.6v.6h-.6zM106.4,440.7h.6v.6h-.6zM102.1,461.9h.6v.6h-.6zM67.5,448.3h.6v.6h-.6zM76.8,458.4h.6v.6h-.6zM92.2,435.4h.6v.6h-.6zM105.6,430.0h.6v.6h-.6zM70.4,439.0h.6v.6h-.6zM68.4,442.1h.6v.6h-.6zM67.0,449.2h.6v.6h-.6zM85.7,436.0h.6v.6h-.6zM101.1,422.0h.6v.6h-.6zM93.4,458.1h.6v.6h-.6zM92.0,435.4h.6v.6h-.6zM106.1,427.7h.6v.6h-.6zM80.3,437.3h.6v.6h-.6zM89.6,454.4h.6v.6h-.6zM95.6,423.5h.6v.6h-.6zM85.5,437.9h.6v.6h-.6zM91.8,427.6h.6v.6h-.6zM106.6,448.4h.6v.6h-.6zM106.3,433.4h.6v.6h-.6zM93.2,427.1h.6v.6h-.6zM92.4,431.4h.6v.6h-.6zM95.8,424.9h.6v.6h-.6zM106.6,442.9h.6v.6h-.6zM101.4,422.0h.6v.6h-.6zM98.4,460.5h.6v.6h-.6zM95.8,423.1h.6v.6h-.6zM75.5,437.7h.6v.6h-.6zM73.5,436.8h.6v.6h-.6zM100.2,422.1h.6v.6h-.6zM69.2,449.2h.6v.6h-.6zM105.1,431.7h.6v.6h-.6zM103.4,422.7h.6v.6h-.6zM69.6,440.8h.6v.6h-.6zM107.2,442.2h.6v.6h-.6zM66.8,445.2h.6v.6h-.6zM92.5,433.3h.6v.6h-.6zM85.8,436.7h.6v.6h-.6zM96.6,422.7h.6v.6h-.6zM86.6,435.7h.6v.6h-.6zM89.8,438.3h.6v.6h-.6zM68.6,443.7h.6v.6h-.6zM105.7,442.4h.6v.6h-.6zM92.5,432.2h.6v.6h-.6zM84.4,456.1h.6v.6h-.6zM89.7,452.8h.6v.6h-.6zM105.0,428.5h.6v.6h-.6zM73.6,457.0h.6v.6h-.6zM92.9,425.3h.6v.6h-.6zM70.5,438.8h.6v.6h-.6zM80.4,457.0h.6v.6h-.6zM67.9,449.7h.6v.6h-.6zM70.8,440.8h.6v.6h-.6zM103.3,425.7h.6v.6h-.6zM66.9,445.5h.6v.6h-.6zM102.2,457.4h.6v.6h-.6zM82.6,455.4h.6v.6h-.6zM74.3,438.7h.6v.6h-.6zM91.9,453.5h.6v.6h-.6zM108.0,439.5h.6v.6h-.6zM85.6,436.4h.6v.6h-.6zM91.1,435.7h.6v.6h-.6zM92.0,436.2h.6v.6h-.6zM89.2,436.4h.6v.6h-.6zM107.4,433.0h.6v.6h-.6zM69.5,441.1h.6v.6h-.6zM73.8,458.1h.6v.6h-.6zM100.4,422.3h.6v.6h-.6zM102.7,421.7h.6v.6h-.6zM92.4,453.7h.6v.6h-.6zM73.7,438.5h.6v.6h-.6zM89.8,434.8h.6v.6h-.6zM97.1,458.4h.6v.6h-.6zM101.6,458.2h.6v.6h-.6zM107.7,441.9h.6v.6h-.6zM94.6,456.3h.6v.6h-.6zM103.1,457.2h.6v.6h-.6zM94.9,456.7h.6v.6h-.6zM82.8,457.0h.6v.6h-.6zM93.0,456.2h.6v.6h-.6zM81.7,456.9h.6v.6h-.6zM105.9,428.2h.6v.6h-.6zM84.7,455.1h.6v.6h-.6zM91.5,454.8h.6v.6h-.6zM69.2,443.9h.6v.6h-.6zM108.8,433.5h.6v.6h-.6zM73.6,456.5h.6v.6h-.6zM104.8,431.7h.6v.6h-.6zM100.3,422.1h.6v.6h-.6zM100.3,422.9h.6v.6h-.6zM85.2,452.7h.6v.6h-.6zM99.5,421.8h.6v.6h-.6zM91.7,435.3h.6v.6h-.6zM96.8,459.1h.6v.6h-.6zM66.7,448.5h.6v.6h-.6zM103.7,456.0h.6v.6h-.6zM68.4,442.8h.6v.6h-.6zM79.9,437.7h.6v.6h-.6zM91.0,426.0h.6v.6h-.6zM90.1,455.0h.6v.6h-.6zM74.9,457.5h.6v.6h-.6zM90.7,452.2h.6v.6h-.6zM80.4,437.0h.6v.6h-.6zM98.2,458.5h.6v.6h-.6zM85.7,454.9h.6v.6h-.6zM105.6,427.5h.6v.6h-.6zM90.1,435.3h.6v.6h-.6zM106.1,433.9h.6v.6h-.6zM105.9,429.8h.6v.6h-.6zM95.1,421.1h.6v.6h-.6zM68.0,444.3h.6v.6h-.6zM94.0,430.2h.6v.6h-.6zM91.0,455.9h.6v.6h-.6zM93.3,425.9h.6v.6h-.6zM101.5,457.6h.6v.6h-.6zM106.3,432.1h.6v.6h-.6zM91.8,434.9h.6v.6h-.6zM91.7,452.5h.6v.6h-.6zM68.8,453.4h.6v.6h-.6zM93.8,455.9h.6v.6h-.6zM91.0,453.8h.6v.6h-.6zM104.2,421.8h.6v.6h-.6zM77.1,458.2h.6v.6h-.6zM66.8,448.8h.6v.6h-.6zM108.0,448.6h.6v.6h-.6zM90.0,453.1h.6v.6h-.6zM81.3,436.5h.6v.6h-.6zM68.5,441.2h.6v.6h-.6zM101.3,457.8h.6v.6h-.6zM101.4,421.6h.6v.6h-.6zM93.1,432.1h.6v.6h-.6zM107.4,450.0h.6v.6h-.6zM69.3,441.8h.6v.6h-.6zM108.8,444.5h.6v.6h-.6zM97.8,458.6h.6v.6h-.6zM91.8,454.5h.6v.6h-.6zM68.6,443.5h.6v.6h-.6zM72.5,439.5h.6v.6h-.6zM84.1,456.5h.6v.6h-.6zM77.1,461.9h.6v.6h-.6zM75.5,459.1h.6v.6h-.6zM107.2,445.8h.6v.6h-.6zM96.7,422.8h.6v.6h-.6zM86.0,455.1h.6v.6h-.6zM99.4,422.3h.6v.6h-.6zM71.0,453.5h.6v.6h-.6zM107.9,440.6h.6v.6h-.6zM67.0,444.2h.6v.6h-.6zM67.3,443.0h.6v.6h-.6zM74.7,456.7h.6v.6h-.6zM92.4,426.1h.6v.6h-.6zM85.9,437.0h.6v.6h-.6zM71.9,437.2h.6v.6h-.6zM95.8,420.2h.6v.6h-.6zM71.6,456.3h.6v.6h-.6zM68.1,444.0h.6v.6h-.6zM86.8,455.7h.6v.6h-.6zM102.9,423.5h.6v.6h-.6zM90.2,453.7h.6v.6h-.6zM79.4,458.4h.6v.6h-.6zM73.4,457.4h.6v.6h-.6zM86.6,436.6h.6v.6h-.6zM94.7,457.9h.6v.6h-.6zM82.7,437.9h.6v.6h-.6zM89.2,436.4h.6v.6h-.6zM91.2,436.4h.6v.6h-.6zM67.5,451.5h.6v.6h-.6zM74.1,457.5h.6v.6h-.6zM91.3,453.7h.6v.6h-.6zM87.0,435.0h.6v.6h-.6zM81.0,437.6h.6v.6h-.6zM92.7,453.1h.6v.6h-.6zM107.6,441.6h.6v.6h-.6zM82.5,455.7h.6v.6h-.6zM96.7,458.8h.6v.6h-.6zM96.3,422.6h.6v.6h-.6zM106.4,443.2h.6v.6h-.6zM85.0,456.0h.6v.6h-.6zM103.6,428.0h.6v.6h-.6zM66.5,443.6h.6v.6h-.6zM105.8,430.3h.6v.6h-.6zM92.5,454.1h.6v.6h-.6zM106.1,449.8h.6v.6h-.6zM83.3,456.6h.6v.6h-.6zM91.5,455.0h.6v.6h-.6zM107.1,446.3h.6v.6h-.6zM90.5,455.1h.6v.6h-.6zM91.7,434.9h.6v.6h-.6zM86.9,435.3h.6v.6h-.6zM80.2,436.6h.6v.6h-.6zM105.3,426.2h.6v.6h-.6zM107.5,428.2h.6v.6h-.6zM92.6,431.1h.6v.6h-.6zM85.2,454.1h.6v.6h-.6zM91.0,436.7h.6v.6h-.6zM70.1,437.7h.6v.6h-.6zM106.4,430.6h.6v.6h-.6zM100.3,422.0h.6v.6h-.6zM68.9,443.1h.6v.6h-.6zM105.9,430.8h.6v.6h-.6zM104.4,429.1h.6v.6h-.6zM73.5,460.1h.6v.6h-.6zM102.1,456.3h.6v.6h-.6zM92.5,435.3h.6v.6h-.6zM67.3,450.0h.6v.6h-.6zM78.0,457.8h.6v.6h-.6zM74.6,459.0h.6v.6h-.6zM103.3,424.0h.6v.6h-.6zM92.5,436.1h.6v.6h-.6zM80.7,457.1h.6v.6h-.6zM86.4,454.4h.6v.6h-.6zM101.2,457.2h.6v.6h-.6zM73.4,438.3h.6v.6h-.6zM106.0,430.9h.6v.6h-.6zM78.8,438.3h.6v.6h-.6zM67.9,453.1h.6v.6h-.6zM92.4,433.9h.6v.6h-.6zM77.0,458.2h.6v.6h-.6zM91.0,453.5h.6v.6h-.6zM107.4,444.4h.6v.6h-.6zM91.1,458.3h.6v.6h-.6zM92.0,432.1h.6v.6h-.6zM70.6,439.9h.6v.6h-.6zM82.0,455.1h.6v.6h-.6zM105.7,428.4h.6v.6h-.6zM69.3,440.2h.6v.6h-.6zM104.5,430.7h.6v.6h-.6zM97.5,459.1h.6v.6h-.6zM88.8,454.5h.6v.6h-.6zM83.2,458.6h.6v.6h-.6zM89.7,437.3h.6v.6h-.6zM66.9,446.2h.6v.6h-.6zM71.2,457.2h.6v.6h-.6zM106.7,436.3h.6v.6h-.6zM91.5,434.7h.6v.6h-.6zM81.9,437.6h.6v.6h-.6zM79.7,457.3h.6v.6h-.6zM74.6,438.3h.6v.6h-.6zM83.1,455.1h.6v.6h-.6zM95.1,459.2h.6v.6h-.6zM89.1,436.6h.6v.6h-.6zM74.3,457.5h.6v.6h-.6zM72.2,455.6h.6v.6h-.6zM72.7,439.6h.6v.6h-.6zM106.6,435.7h.6v.6h-.6zM108.3,436.9h.6v.6h-.6zM105.8,427.9h.6v.6h-.6zM69.2,450.5h.6v.6h-.6zM107.2,430.3h.6v.6h-.6zM96.3,456.6h.6v.6h-.6zM74.3,457.4h.6v.6h-.6zM78.1,457.7h.6v.6h-.6zM105.7,447.9h.6v.6h-.6zM67.3,450.3h.6v.6h-.6zM107.1,430.7h.6v.6h-.6zM90.4,453.7h.6v.6h-.6zM75.1,437.4h.6v.6h-.6zM103.7,422.7h.6v.6h-.6zM94.3,426.8h.6v.6h-.6zM106.6,448.5h.6v.6h-.6zM69.2,439.1h.6v.6h-.6zM80.8,436.2h.6v.6h-.6zM106.5,442.4h.6v.6h-.6zM68.1,451.4h.6v.6h-.6zM70.5,453.2h.6v.6h-.6zM105.6,451.2h.6v.6h-.6zM88.2,435.8h.6v.6h-.6zM94.2,456.2h.6v.6h-.6zM93.1,428.3h.6v.6h-.6zM89.4,437.2h.6v.6h-.6zM106.9,440.5h.6v.6h-.6zM74.9,436.3h.6v.6h-.6zM81.7,437.7h.6v.6h-.6zM89.8,454.6h.6v.6h-.6zM90.2,431.4h.6v.6h-.6zM82.7,435.9h.6v.6h-.6zM108.0,434.2h.6v.6h-.6zM89.1,436.1h.6v.6h-.6zM65.8,447.6h.6v.6h-.6zM107.9,443.8h.6v.6h-.6zM101.6,457.4h.6v.6h-.6zM72.1,457.1h.6v.6h-.6zM108.4,439.6h.6v.6h-.6zM92.9,456.6h.6v.6h-.6zM107.2,425.8h.6v.6h-.6zM79.9,457.7h.6v.6h-.6zM105.5,441.4h.6v.6h-.6zM105.9,429.6h.6v.6h-.6zM69.5,453.5h.6v.6h-.6zM104.4,427.9h.6v.6h-.6zM94.5,428.3h.6v.6h-.6zM76.6,457.9h.6v.6h-.6zM106.7,444.6h.6v.6h-.6zM101.7,458.5h.6v.6h-.6zM107.0,442.5h.6v.6h-.6zM107.0,440.1h.6v.6h-.6zM80.4,457.5h.6v.6h-.6zM74.1,437.3h.6v.6h-.6zM72.3,453.9h.6v.6h-.6zM105.8,450.7h.6v.6h-.6zM92.0,454.1h.6v.6h-.6zM66.6,447.5h.6v.6h-.6zM90.6,453.5h.6v.6h-.6zM65.5,443.6h.6v.6h-.6zM81.7,456.0h.6v.6h-.6zM88.8,454.3h.6v.6h-.6zM70.9,453.3h.6v.6h-.6zM93.1,431.0h.6v.6h-.6zM85.1,454.0h.6v.6h-.6zM88.0,452.8h.6v.6h-.6zM104.6,452.9h.6v.6h-.6zM87.2,453.5h.6v.6h-.6zM92.9,435.3h.6v.6h-.6zM106.3,430.5h.6v.6h-.6zM106.7,445.0h.6v.6h-.6zM67.3,454.7h.6v.6h-.6zM93.1,455.1h.6v.6h-.6zM70.9,440.2h.6v.6h-.6zM83.3,456.2h.6v.6h-.6zM92.0,455.3h.6v.6h-.6zM86.5,454.2h.6v.6h-.6zM86.7,453.1h.6v.6h-.6zM97.5,459.3h.6v.6h-.6zM106.1,446.9h.6v.6h-.6zM79.9,438.1h.6v.6h-.6zM106.5,443.9h.6v.6h-.6zM80.2,457.9h.6v.6h-.6zM67.0,450.9h.6v.6h-.6zM85.9,436.1h.6v.6h-.6zM98.9,458.2h.6v.6h-.6zM94.5,426.8h.6v.6h-.6zM106.1,451.1h.6v.6h-.6zM97.3,422.0h.6v.6h-.6zM89.8,436.4h.6v.6h-.6zM105.5,447.4h.6v.6h-.6zM99.4,421.2h.6v.6h-.6zM106.7,429.3h.6v.6h-.6zM75.7,459.0h.6v.6h-.6zM103.8,452.6h.6v.6h-.6zM93.0,433.1h.6v.6h-.6zM92.2,433.2h.6v.6h-.6zM105.4,434.2h.6v.6h-.6zM72.4,437.0h.6v.6h-.6zM83.3,456.8h.6v.6h-.6zM91.6,453.4h.6v.6h-.6zM75.5,435.5h.6v.6h-.6zM76.1,438.5h.6v.6h-.6zM70.2,440.8h.6v.6h-.6zM106.5,437.7h.6v.6h-.6zM92.3,435.4h.6v.6h-.6zM106.1,437.7h.6v.6h-.6zM107.3,441.9h.6v.6h-.6zM86.0,453.8h.6v.6h-.6zM106.0,435.5h.6v.6h-.6zM69.6,438.2h.6v.6h-.6zM92.9,431.3h.6v.6h-.6zM83.7,456.4h.6v.6h-.6zM89.5,453.1h.6v.6h-.6zM83.3,455.2h.6v.6h-.6zM92.8,456.2h.6v.6h-.6zM91.4,436.1h.6v.6h-.6zM93.0,434.1h.6v.6h-.6zM96.6,422.3h.6v.6h-.6zM93.0,432.6h.6v.6h-.6zM105.7,449.3h.6v.6h-.6zM92.4,430.2h.6v.6h-.6zM87.8,455.2h.6v.6h-.6zM69.7,441.5h.6v.6h-.6zM100.8,457.3h.6v.6h-.6zM90.3,433.9h.6v.6h-.6zM83.4,456.2h.6v.6h-.6zM74.3,458.1h.6v.6h-.6zM106.3,450.4h.6v.6h-.6zM68.7,440.3h.6v.6h-.6zM73.9,438.1h.6v.6h-.6zM92.2,455.0h.6v.6h-.6zM92.9,434.0h.6v.6h-.6zM108.4,443.1h.6v.6h-.6zM86.8,455.2h.6v.6h-.6zM83.4,456.6h.6v.6h-.6zM67.4,446.8h.6v.6h-.6zM105.0,455.0h.6v.6h-.6zM99.8,420.8h.6v.6h-.6zM107.8,442.2h.6v.6h-.6zM107.1,436.2h.6v.6h-.6zM105.3,425.0h.6v.6h-.6zM66.9,447.5h.6v.6h-.6zM75.9,460.4h.6v.6h-.6zM104.1,422.6h.6v.6h-.6zM67.7,449.2h.6v.6h-.6zM66.3,447.4h.6v.6h-.6zM106.1,434.0h.6v.6h-.6zM108.5,446.6h.6v.6h-.6zM107.2,437.3h.6v.6h-.6zM107.9,444.5h.6v.6h-.6zM89.9,454.3h.6v.6h-.6zM90.5,454.5h.6v.6h-.6zM74.5,437.8h.6v.6h-.6zM67.2,443.9h.6v.6h-.6zM107.2,446.0h.6v.6h-.6zM93.0,431.9h.6v.6h-.6zM87.1,454.5h.6v.6h-.6zM66.1,444.3h.6v.6h-.6zM92.2,436.3h.6v.6h-.6zM106.1,449.7h.6v.6h-.6zM90.3,455.4h.6v.6h-.6zM103.2,422.0h.6v.6h-.6zM105.4,435.2h.6v.6h-.6zM100.6,422.3h.6v.6h-.6zM91.4,430.9h.6v.6h-.6zM101.5,421.0h.6v.6h-.6zM93.9,455.9h.6v.6h-.6zM102.9,454.0h.6v.6h-.6zM76.4,438.1h.6v.6h-.6zM105.3,447.8h.6v.6h-.6zM81.5,458.8h.6v.6h-.6zM102.0,423.7h.6v.6h-.6zM86.7,454.6h.6v.6h-.6zM91.2,454.1h.6v.6h-.6zM108.1,437.1h.6v.6h-.6zM72.3,440.6h.6v.6h-.6zM106.2,447.9h.6v.6h-.6zM91.3,431.2h.6v.6h-.6zM66.0,449.9h.6v.6h-.6zM81.9,457.4h.6v.6h-.6zM107.4,443.8h.6v.6h-.6zM97.2,459.1h.6v.6h-.6zM90.7,453.0h.6v.6h-.6zM71.6,456.5h.6v.6h-.6zM99.0,457.9h.6v.6h-.6zM106.4,429.6h.6v.6h-.6zM88.6,436.9h.6v.6h-.6zM83.6,454.8h.6v.6h-.6zM77.8,437.6h.6v.6h-.6zM70.6,441.0h.6v.6h-.6zM90.7,454.4h.6v.6h-.6zM90.8,455.7h.6v.6h-.6zM105.7,425.9h.6v.6h-.6zM82.4,456.9h.6v.6h-.6zM72.9,460.3h.6v.6h-.6zM103.6,426.3h.6v.6h-.6zM69.3,439.8h.6v.6h-.6zM81.0,436.9h.6v.6h-.6zM107.1,427.1h.6v.6h-.6zM91.9,435.5h.6v.6h-.6zM79.5,436.3h.6v.6h-.6zM102.9,425.6h.6v.6h-.6zM105.8,430.7h.6v.6h-.6zM98.0,458.5h.6v.6h-.6zM85.6,454.3h.6v.6h-.6zM108.4,451.4h.6v.6h-.6zM66.9,446.1h.6v.6h-.6zM94.3,433.0h.6v.6h-.6zM106.0,438.6h.6v.6h-.6zM95.3,423.5h.6v.6h-.6zM104.9,424.3h.6v.6h-.6zM72.5,438.5h.6v.6h-.6zM107.9,444.7h.6v.6h-.6zM102.7,455.9h.6v.6h-.6zM85.5,436.8h.6v.6h-.6zM78.3,436.2h.6v.6h-.6zM73.5,436.4h.6v.6h-.6zM107.9,433.9h.6v.6h-.6zM76.8,458.4h.6v.6h-.6zM68.8,444.2h.6v.6h-.6zM71.5,440.3h.6v.6h-.6zM86.2,453.6h.6v.6h-.6zM90.6,427.8h.6v.6h-.6zM108.1,441.3h.6v.6h-.6zM90.9,452.1h.6v.6h-.6zM92.5,430.8h.6v.6h-.6zM69.3,452.6h.6v.6h-.6zM105.2,425.7h.6v.6h-.6zM107.8,438.3h.6v.6h-.6zM66.0,448.0h.6v.6h-.6zM108.2,443.9h.6v.6h-.6zM90.4,437.0h.6v.6h-.6zM93.2,429.1h.6v.6h-.6zM78.9,459.0h.6v.6h-.6zM103.5,422.9h.6v.6h-.6zM95.9,424.2h.6v.6h-.6zM66.9,446.0h.6v.6h-.6zM67.3,443.4h.6v.6h-.6zM77.5,438.2h.6v.6h-.6zM92.1,430.1h.6v.6h-.6zM65.4,448.2h.6v.6h-.6zM105.5,436.6h.6v.6h-.6zM70.1,441.5h.6v.6h-.6zM108.4,435.8h.6v.6h-.6zM91.9,430.9h.6v.6h-.6zM77.6,458.4h.6v.6h-.6zM66.8,449.1h.6v.6h-.6zM106.7,435.1h.6v.6h-.6zM89.7,452.9h.6v.6h-.6zM100.6,422.6h.6v.6h-.6zM87.6,434.9h.6v.6h-.6zM101.4,457.7h.6v.6h-.6zM75.2,438.0h.6v.6h-.6zM107.1,437.7h.6v.6h-.6zM86.8,456.6h.6v.6h-.6zM86.2,436.9h.6v.6h-.6zM91.5,452.7h.6v.6h-.6zM92.1,437.4h.6v.6h-.6zM92.5,454.7h.6v.6h-.6zM91.1,437.0h.6v.6h-.6zM105.6,426.6h.6v.6h-.6zM104.0,426.2h.6v.6h-.6zM75.3,437.9h.6v.6h-.6zM103.5,455.4h.6v.6h-.6zM76.7,437.8h.6v.6h-.6zM106.6,452.6h.6v.6h-.6zM107.0,440.1h.6v.6h-.6zM81.6,458.6h.6v.6h-.6zM104.5,426.4h.6v.6h-.6zM74.6,438.2h.6v.6h-.6zM96.6,423.1h.6v.6h-.6zM94.3,456.0h.6v.6h-.6zM73.4,437.6h.6v.6h-.6zM87.9,435.6h.6v.6h-.6zM77.8,437.6h.6v.6h-.6zM87.3,455.8h.6v.6h-.6zM93.1,433.5h.6v.6h-.6zM79.6,437.3h.6v.6h-.6zM100.2,457.6h.6v.6h-.6zM93.8,429.7h.6v.6h-.6zM106.6,450.4h.6v.6h-.6zM89.5,453.5h.6v.6h-.6zM102.2,454.8h.6v.6h-.6zM86.9,456.2h.6v.6h-.6zM90.9,433.3h.6v.6h-.6zM91.0,454.8h.6v.6h-.6zM105.0,451.4h.6v.6h-.6zM104.5,425.3h.6v.6h-.6zM104.2,451.7h.6v.6h-.6zM105.9,453.5h.6v.6h-.6zM80.5,434.9h.6v.6h-.6zM92.7,430.8h.6v.6h-.6zM106.5,443.7h.6v.6h-.6zM90.4,435.0h.6v.6h-.6zM106.4,433.0h.6v.6h-.6zM102.3,423.1h.6v.6h-.6zM107.7,435.6h.6v.6h-.6zM88.1,431.9h.6v.6h-.6zM104.1,453.1h.6v.6h-.6zM90.1,453.3h.6v.6h-.6zM106.1,437.2h.6v.6h-.6zM94.3,426.6h.6v.6h-.6zM87.8,435.1h.6v.6h-.6zM81.1,457.4h.6v.6h-.6zM70.0,453.8h.6v.6h-.6zM88.5,454.1h.6v.6h-.6zM94.2,426.3h.6v.6h-.6zM83.3,456.6h.6v.6h-.6zM105.3,429.2h.6v.6h-.6zM91.1,434.8h.6v.6h-.6zM105.1,432.7h.6v.6h-.6zM66.8,444.2h.6v.6h-.6zM76.0,437.1h.6v.6h-.6zM107.3,445.0h.6v.6h-.6zM73.2,455.6h.6v.6h-.6zM67.2,451.3h.6v.6h-.6z" fill="#000" fill-opacity="0.85"/>
<path d="M78.2,461.9h.6v.6h-.6zM65.5,442.3h.6v.6h-.6zM65.8,444.1h.6v.6h-.6zM94.3,419.3h.6v.6h-.6zM89.7,455.4h.6v.6h-.6zM65.6,443.2h.6v.6h-.6zM77.9,435.7h.6v.6h-.6zM73.5,429.1h.6v.6h-.6zM73.4,460.2h.6v.6h-.6zM64.8,451.6h.6v.6h-.6zM73.1,437.6h.6v.6h-.6zM91.2,455.4h.6v.6h-.6zM83.8,430.8h.6v.6h-.6zM77.3,433.8h.6v.6h-.6zM75.2,435.7h.6v.6h-.6zM97.1,457.7h.6v.6h-.6zM115.0,439.7h.6v.6h-.6zM67.8,456.2h.6v.6h-.6zM86.3,458.4h.6v.6h-.6zM90.3,425.6h.6v.6h-.6zM82.8,434.7h.6v.6h-.6zM87.4,456.2h.6v.6h-.6zM90.8,432.0h.6v.6h-.6zM65.4,440.3h.6v.6h-.6zM104.0,425.7h.6v.6h-.6zM108.2,449.6h.6v.6h-.6zM108.5,427.2h.6v.6h-.6zM89.3,454.0h.6v.6h-.6zM101.3,460.9h.6v.6h-.6zM66.2,455.2h.6v.6h-.6zM81.6,457.4h.6v.6h-.6zM112.1,440.9h.6v.6h-.6zM105.5,457.5h.6v.6h-.6zM90.5,457.0h.6v.6h-.6zM88.5,456.7h.6v.6h-.6zM91.6,430.7h.6v.6h-.6zM68.9,454.1h.6v.6h-.6zM69.3,456.9h.6v.6h-.6zM111.6,437.2h.6v.6h-.6zM107.6,443.4h.6v.6h-.6zM70.8,438.1h.6v.6h-.6zM64.2,446.8h.6v.6h-.6zM110.7,440.0h.6v.6h-.6zM102.9,423.2h.6v.6h-.6zM87.1,436.1h.6v.6h-.6zM107.9,427.4h.6v.6h-.6zM86.8,454.9h.6v.6h-.6zM111.3,448.9h.6v.6h-.6zM89.5,434.5h.6v.6h-.6zM81.2,460.5h.6v.6h-.6zM88.5,430.3h.6v.6h-.6zM82.6,457.8h.6v.6h-.6zM106.6,449.4h.6v.6h-.6zM111.3,440.9h.6v.6h-.6zM90.5,454.5h.6v.6h-.6zM105.5,448.1h.6v.6h-.6zM107.2,433.4h.6v.6h-.6zM98.8,419.0h.6v.6h-.6zM101.9,458.0h.6v.6h-.6zM111.3,440.2h.6v.6h-.6zM92.9,457.9h.6v.6h-.6zM66.9,452.3h.6v.6h-.6zM67.0,444.6h.6v.6h-.6zM87.3,434.6h.6v.6h-.6zM66.3,442.0h.6v.6h-.6zM67.4,452.9h.6v.6h-.6zM89.1,434.4h.6v.6h-.6zM94.1,424.0h.6v.6h-.6zM86.2,457.1h.6v.6h-.6zM89.3,435.1h.6v.6h-.6zM70.2,440.2h.6v.6h-.6zM111.6,443.3h.6v.6h-.6zM85.0,433.3h.6v.6h-.6zM80.2,434.8h.6v.6h-.6zM69.3,437.9h.6v.6h-.6zM111.8,434.4h.6v.6h-.6zM69.1,457.7h.6v.6h-.6zM89.6,457.3h.6v.6h-.6zM84.8,463.4h.6v.6h-.6zM91.5,431.5h.6v.6h-.6zM99.6,422.4h.6v.6h-.6zM89.4,455.4h.6v.6h-.6zM104.1,422.6h.6v.6h-.6zM88.7,453.8h.6v.6h-.6zM69.1,453.0h.6v.6h-.6zM72.2,461.5h.6v.6h-.6zM98.7,422.5h.6v.6h-.6zM63.5,454.7h.6v.6h-.6zM85.9,454.2h.6v.6h-.6zM97.4,463.9h.6v.6h-.6zM100.5,457.7h.6v.6h-.6zM84.3,456.7h.6v.6h-.6zM111.7,432.2h.6v.6h-.6zM94.6,419.1h.6v.6h-.6zM87.9,427.6h.6v.6h-.6zM98.9,416.6h.6v.6h-.6zM91.8,435.1h.6v.6h-.6zM81.7,434.4h.6v.6h-.6zM73.9,457.7h.6v.6h-.6zM96.7,460.2h.6v.6h-.6zM92.5,455.1h.6v.6h-.6zM69.5,438.7h.6v.6h-.6zM64.4,455.3h.6v.6h-.6zM67.4,458.0h.6v.6h-.6zM68.3,442.1h.6v.6h-.6zM96.3,461.2h.6v.6h-.6zM87.6,433.9h.6v.6h-.6zM102.1,423.8h.6v.6h-.6zM112.6,437.5h.6v.6h-.6zM69.9,436.6h.6v.6h-.6zM107.0,457.5h.6v.6h-.6zM66.7,459.5h.6v.6h-.6zM108.0,437.3h.6v.6h-.6zM84.3,435.8h.6v.6h-.6zM102.2,423.5h.6v.6h-.6zM94.6,422.5h.6v.6h-.6zM91.5,425.8h.6v.6h-.6zM85.2,437.0h.6v.6h-.6zM79.6,434.5h.6v.6h-.6zM109.2,444.1h.6v.6h-.6zM74.2,459.5h.6v.6h-.6zM67.4,439.9h.6v.6h-.6zM85.1,457.9h.6v.6h-.6zM92.2,426.0h.6v.6h-.6zM105.9,453.4h.6v.6h-.6zM66.9,443.2h.6v.6h-.6zM66.2,441.8h.6v.6h-.6zM84.8,455.0h.6v.6h-.6zM90.0,436.8h.6v.6h-.6zM100.0,419.7h.6v.6h-.6zM109.2,429.4h.6v.6h-.6zM86.9,454.6h.6v.6h-.6zM105.8,428.5h.6v.6h-.6zM90.4,455.6h.6v.6h-.6zM96.4,422.4h.6v.6h-.6zM106.6,432.5h.6v.6h-.6zM88.2,429.3h.6v.6h-.6zM103.2,460.3h.6v.6h-.6zM86.1,455.8h.6v.6h-.6zM79.3,435.2h.6v.6h-.6zM96.2,463.1h.6v.6h-.6zM96.4,422.0h.6v.6h-.6zM110.1,449.5h.6v.6h-.6zM110.3,437.6h.6v.6h-.6zM66.0,456.4h.6v.6h-.6zM72.4,438.5h.6v.6h-.6zM111.8,437.9h.6v.6h-.6zM78.4,437.0h.6v.6h-.6zM72.2,437.1h.6v.6h-.6zM97.9,462.4h.6v.6h-.6zM104.2,456.9h.6v.6h-.6zM82.8,436.9h.6v.6h-.6zM109.9,444.8h.6v.6h-.6zM79.3,458.1h.6v.6h-.6zM89.6,453.7h.6v.6h-.6zM93.3,430.0h.6v.6h-.6zM92.5,427.2h.6v.6h-.6zM84.2,458.0h.6v.6h-.6zM106.9,453.4h.6v.6h-.6zM90.5,453.8h.6v.6h-.6zM77.0,462.7h.6v.6h-.6zM67.0,443.4h.6v.6h-.6zM104.6,425.3h.6v.6h-.6zM74.3,435.4h.6v.6h-.6zM107.0,450.6h.6v.6h-.6zM78.8,436.3h.6v.6h-.6zM108.4,447.9h.6v.6h-.6zM91.2,427.8h.6v.6h-.6zM86.8,457.2h.6v.6h-.6zM108.4,432.7h.6v.6h-.6zM108.7,450.5h.6v.6h-.6zM107.9,427.0h.6v.6h-.6zM89.9,433.8h.6v.6h-.6zM65.1,452.5h.6v.6h-.6zM76.5,436.1h.6v.6h-.6zM100.8,461.3h.6v.6h-.6zM101.3,420.9h.6v.6h-.6zM99.8,420.8h.6v.6h-.6zM108.8,440.1h.6v.6h-.6zM109.5,447.0h.6v.6h-.6zM106.7,435.9h.6v.6h-.6zM97.0,460.3h.6v.6h-.6zM71.4,458.5h.6v.6h-.6zM70.5,438.2h.6v.6h-.6zM107.9,422.2h.6v.6h-.6zM79.3,435.5h.6v.6h-.6zM91.0,429.2h.6v.6h-.6zM81.5,436.4h.6v.6h-.6zM89.5,436.6h.6v.6h-.6zM94.8,424.1h.6v.6h-.6zM65.5,443.3h.6v.6h-.6zM90.2,428.5h.6v.6h-.6zM88.4,457.3h.6v.6h-.6zM68.4,456.6h.6v.6h-.6zM74.9,435.7h.6v.6h-.6zM78.6,434.8h.6v.6h-.6zM89.7,433.3h.6v.6h-.6zM99.2,419.6h.6v.6h-.6zM88.5,426.9h.6v.6h-.6zM106.5,425.1h.6v.6h-.6zM89.6,452.8h.6v.6h-.6zM77.7,435.8h.6v.6h-.6zM91.0,433.5h.6v.6h-.6zM106.3,420.2h.6v.6h-.6zM110.6,442.5h.6v.6h-.6zM83.0,456.5h.6v.6h-.6zM107.3,449.1h.6v.6h-.6zM88.6,434.4h.6v.6h-.6zM108.3,453.4h.6v.6h-.6zM106.3,457.3h.6v.6h-.6zM70.1,441.8h.6v.6h-.6zM74.7,436.6h.6v.6h-.6zM92.3,426.7h.6v.6h-.6zM100.4,419.9h.6v.6h-.6zM86.0,457.5h.6v.6h-.6zM74.6,431.8h.6v.6h-.6zM82.5,456.2h.6v.6h-.6zM103.9,461.2h.6v.6h-.6zM77.0,434.8h.6v.6h-.6zM71.0,456.6h.6v.6h-.6zM93.0,459.1h.6v.6h-.6zM78.5,461.7h.6v.6h-.6zM80.4,457.2h.6v.6h-.6zM83.2,458.5h.6v.6h-.6zM90.6,456.3h.6v.6h-.6zM97.4,461.3h.6v.6h-.6zM90.9,457.7h.6v.6h-.6zM70.1,437.2h.6v.6h-.6zM65.2,449.4h.6v.6h-.6zM91.3,456.6h.6v.6h-.6zM88.8,453.7h.6v.6h-.6zM111.0,438.4h.6v.6h-.6zM97.9,458.5h.6v.6h-.6zM109.4,446.2h.6v.6h-.6zM99.3,421.7h.6v.6h-.6zM107.3,443.1h.6v.6h-.6zM78.8,438.2h.6v.6h-.6zM101.2,460.0h.6v.6h-.6zM70.4,454.9h.6v.6h-.6zM89.6,436.1h.6v.6h-.6zM73.1,457.2h.6v.6h-.6zM91.5,428.7h.6v.6h-.6zM78.6,434.3h.6v.6h-.6zM106.5,456.7h.6v.6h-.6zM77.1,457.5h.6v.6h-.6zM88.8,433.8h.6v.6h-.6zM95.4,462.9h.6v.6h-.6zM65.9,455.5h.6v.6h-.6zM72.7,460.4h.6v.6h-.6zM94.6,421.2h.6v.6h-.6zM106.6,447.4h.6v.6h-.6zM93.3,427.4h.6v.6h-.6zM102.8,459.2h.6v.6h-.6zM86.2,435.2h.6v.6h-.6zM65.1,446.7h.6v.6h-.6zM107.2,444.4h.6v.6h-.6zM66.2,445.0h.6v.6h-.6zM100.8,419.4h.6v.6h-.6zM91.1,435.1h.6v.6h-.6zM69.0,438.5h.6v.6h-.6zM95.9,422.8h.6v.6h-.6zM80.8,458.9h.6v.6h-.6zM102.9,463.2h.6v.6h-.6zM90.0,456.2h.6v.6h-.6zM74.4,436.9h.6v.6h-.6zM87.2,455.9h.6v.6h-.6zM107.4,436.2h.6v.6h-.6zM109.2,450.4h.6v.6h-.6zM81.3,434.2h.6v.6h-.6zM66.1,449.4h.6v.6h-.6zM86.5,456.3h.6v.6h-.6zM90.0,458.5h.6v.6h-.6zM67.1,450.0h.6v.6h-.6zM93.4,420.5h.6v.6h-.6zM102.1,424.6h.6v.6h-.6zM110.4,441.8h.6v.6h-.6zM68.0,441.5h.6v.6h-.6zM90.3,454.2h.6v.6h-.6zM107.8,437.2h.6v.6h-.6zM68.9,457.6h.6v.6h-.6zM107.4,453.9h.6v.6h-.6zM108.0,431.6h.6v.6h-.6zM66.4,457.0h.6v.6h-.6zM89.3,425.4h.6v.6h-.6zM109.5,450.8h.6v.6h-.6zM83.4,436.1h.6v.6h-.6zM87.8,432.7h.6v.6h-.6zM79.9,458.4h.6v.6h-.6zM80.0,433.6h.6v.6h-.6zM88.6,456.1h.6v.6h-.6zM84.6,436.7h.6v.6h-.6zM111.6,445.4h.6v.6h-.6zM85.8,434.7h.6v.6h-.6zM106.1,450.8h.6v.6h-.6zM111.9,441.2h.6v.6h-.6zM108.2,429.6h.6v.6h-.6zM72.9,432.9h.6v.6h-.6zM85.1,455.6h.6v.6h-.6zM85.4,460.7h.6v.6h-.6zM67.5,449.6h.6v.6h-.6zM95.5,458.0h.6v.6h-.6zM86.6,456.2h.6v.6h-.6zM104.8,422.8h.6v.6h-.6zM107.4,449.3h.6v.6h-.6zM90.9,456.2h.6v.6h-.6zM106.4,439.6h.6v.6h-.6zM67.6,450.4h.6v.6h-.6zM109.5,448.6h.6v.6h-.6zM71.1,439.8h.6v.6h-.6zM69.0,439.1h.6v.6h-.6zM77.1,436.8h.6v.6h-.6zM92.7,432.0h.6v.6h-.6zM88.9,457.4h.6v.6h-.6zM65.0,447.2h.6v.6h-.6zM89.2,432.1h.6v.6h-.6zM72.5,432.7h.6v.6h-.6zM93.8,425.5h.6v.6h-.6zM88.4,454.0h.6v.6h-.6zM82.3,458.3h.6v.6h-.6zM90.0,431.9h.6v.6h-.6zM88.4,454.9h.6v.6h-.6zM103.9,454.7h.6v.6h-.6zM107.2,438.6h.6v.6h-.6zM87.7,435.2h.6v.6h-.6zM69.3,454.4h.6v.6h-.6zM103.2,462.1h.6v.6h-.6zM90.8,434.8h.6v.6h-.6zM107.3,428.7h.6v.6h-.6zM91.2,458.2h.6v.6h-.6zM96.0,460.1h.6v.6h-.6zM107.0,451.3h.6v.6h-.6zM105.2,454.4h.6v.6h-.6zM111.5,450.8h.6v.6h-.6zM86.5,454.4h.6v.6h-.6zM92.6,459.4h.6v.6h-.6zM90.1,433.1h.6v.6h-.6zM65.1,455.3h.6v.6h-.6zM105.6,453.2h.6v.6h-.6zM94.4,428.1h.6v.6h-.6zM108.0,434.7h.6v.6h-.6zM67.4,454.4h.6v.6h-.6zM90.4,435.4h.6v.6h-.6zM90.5,423.9h.6v.6h-.6zM88.9,434.8h.6v.6h-.6zM83.4,437.1h.6v.6h-.6zM89.6,436.0h.6v.6h-.6zM104.6,455.6h.6v.6h-.6zM71.7,433.9h.6v.6h-.6zM106.8,455.6h.6v.6h-.6zM67.0,436.0h.6v.6h-.6zM101.3,420.5h.6v.6h-.6zM85.5,436.4h.6v.6h-.6zM108.5,438.8h.6v.6h-.6zM107.0,443.0h.6v.6h-.6zM89.1,455.7h.6v.6h-.6zM98.8,459.1h.6v.6h-.6zM105.5,426.4h.6v.6h-.6zM67.7,449.5h.6v.6h-.6zM108.3,457.0h.6v.6h-.6zM108.9,436.2h.6v.6h-.6zM85.5,460.0h.6v.6h-.6zM108.2,443.4h.6v.6h-.6zM63.5,453.7h.6v.6h-.6zM107.1,437.2h.6v.6h-.6zM90.0,456.7h.6v.6h-.6zM107.4,439.7h.6v.6h-.6zM90.3,455.8h.6v.6h-.6zM96.2,459.4h.6v.6h-.6zM96.0,460.5h.6v.6h-.6zM65.4,452.8h.6v.6h-.6zM106.6,431.9h.6v.6h-.6zM83.1,434.4h.6v.6h-.6zM89.7,458.5h.6v.6h-.6zM96.4,422.3h.6v.6h-.6zM109.0,447.3h.6v.6h-.6zM93.1,419.3h.6v.6h-.6zM63.1,443.3h.6v.6h-.6zM68.2,449.7h.6v.6h-.6zM78.0,433.8h.6v.6h-.6zM70.2,439.4h.6v.6h-.6zM83.5,436.5h.6v.6h-.6zM70.5,454.0h.6v.6h-.6zM66.4,458.5h.6v.6h-.6zM83.9,436.1h.6v.6h-.6zM76.5,460.0h.6v.6h-.6zM110.2,428.0h.6v.6h-.6zM108.8,438.1h.6v.6h-.6zM100.7,459.0h.6v.6h-.6zM71.2,438.9h.6v.6h-.6zM86.4,457.3h.6v.6h-.6zM73.9,457.8h.6v.6h-.6zM93.3,457.3h.6v.6h-.6zM60.1,442.6h.6v.6h-.6zM96.4,461.5h.6v.6h-.6zM89.8,455.9h.6v.6h-.6zM83.1,459.2h.6v.6h-.6zM97.0,460.8h.6v.6h-.6zM73.0,429.3h.6v.6h-.6zM89.6,459.5h.6v.6h-.6zM86.2,434.9h.6v.6h-.6zM87.3,458.2h.6v.6h-.6zM88.9,431.6h.6v.6h-.6zM67.0,445.5h.6v.6h-.6zM93.9,426.2h.6v.6h-.6zM67.8,441.8h.6v.6h-.6zM84.0,436.8h.6v.6h-.6zM85.1,456.6h.6v.6h-.6zM108.2,441.3h.6v.6h-.6zM94.9,420.0h.6v.6h-.6zM81.2,437.2h.6v.6h-.6zM110.4,439.9h.6v.6h-.6zM94.0,427.0h.6v.6h-.6zM69.1,453.1h.6v.6h-.6zM87.6,453.6h.6v.6h-.6zM90.9,458.3h.6v.6h-.6zM86.8,432.5h.6v.6h-.6zM68.4,451.7h.6v.6h-.6zM90.6,432.5h.6v.6h-.6zM91.6,457.3h.6v.6h-.6zM90.5,458.8h.6v.6h-.6zM90.0,453.3h.6v.6h-.6zM89.5,454.3h.6v.6h-.6zM96.3,459.1h.6v.6h-.6zM108.6,436.5h.6v.6h-.6zM97.9,457.8h.6v.6h-.6zM107.4,438.7h.6v.6h-.6zM85.7,437.2h.6v.6h-.6zM89.7,431.3h.6v.6h-.6zM77.8,462.5h.6v.6h-.6zM113.8,434.9h.6v.6h-.6zM109.1,438.1h.6v.6h-.6zM103.0,421.7h.6v.6h-.6zM66.7,455.0h.6v.6h-.6zM86.9,432.9h.6v.6h-.6zM89.8,455.6h.6v.6h-.6zM65.8,448.0h.6v.6h-.6zM102.0,414.4h.6v.6h-.6zM108.6,447.8h.6v.6h-.6zM63.4,443.4h.6v.6h-.6zM91.4,460.1h.6v.6h-.6zM65.6,443.9h.6v.6h-.6zM95.2,419.5h.6v.6h-.6zM110.1,426.0h.6v.6h-.6zM83.2,457.5h.6v.6h-.6zM69.4,440.0h.6v.6h-.6zM109.8,432.0h.6v.6h-.6zM73.0,460.6h.6v.6h-.6zM96.2,461.4h.6v.6h-.6zM77.6,435.1h.6v.6h-.6zM107.8,447.8h.6v.6h-.6zM77.3,459.2h.6v.6h-.6zM66.2,443.9h.6v.6h-.6zM97.5,461.3h.6v.6h-.6zM82.6,462.5h.6v.6h-.6zM98.1,458.7h.6v.6h-.6zM106.9,434.5h.6v.6h-.6zM105.6,424.0h.6v.6h-.6zM107.3,427.9h.6v.6h-.6zM95.2,420.5h.6v.6h-.6zM108.2,428.6h.6v.6h-.6zM92.1,453.8h.6v.6h-.6zM64.5,453.1h.6v.6h-.6zM86.0,436.5h.6v.6h-.6zM76.8,435.6h.6v.6h-.6zM88.2,432.7h.6v.6h-.6zM93.9,425.8h.6v.6h-.6zM75.1,434.4h.6v.6h-.6zM89.6,423.1h.6v.6h-.6zM111.1,430.1h.6v.6h-.6zM91.3,457.0h.6v.6h-.6zM107.0,427.9h.6v.6h-.6zM90.7,431.0h.6v.6h-.6zM90.9,453.3h.6v.6h-.6zM100.7,460.4h.6v.6h-.6zM99.5,417.8h.6v.6h-.6zM90.3,435.2h.6v.6h-.6zM101.5,458.6h.6v.6h-.6zM72.5,458.0h.6v.6h-.6zM91.6,430.7h.6v.6h-.6zM88.1,432.2h.6v.6h-.6zM76.8,459.4h.6v.6h-.6zM67.1,451.7h.6v.6h-.6zM77.0,460.8h.6v.6h-.6zM100.8,458.0h.6v.6h-.6zM84.9,434.8h.6v.6h-.6zM69.8,438.6h.6v.6h-.6zM88.7,454.9h.6v.6h-.6zM106.8,443.7h.6v.6h-.6zM88.8,433.7h.6v.6h-.6zM107.0,431.1h.6v.6h-.6zM74.4,459.7h.6v.6h-.6zM85.9,455.7h.6v.6h-.6zM83.8,458.9h.6v.6h-.6zM92.6,428.7h.6v.6h-.6zM88.6,457.2h.6v.6h-.6zM86.4,455.9h.6v.6h-.6zM94.8,420.5h.6v.6h-.6zM83.3,457.0h.6v.6h-.6zM81.1,436.2h.6v.6h-.6zM66.4,452.1h.6v.6h-.6zM63.2,449.5h.6v.6h-.6zM66.9,444.8h.6v.6h-.6zM72.6,429.8h.6v.6h-.6zM86.9,434.7h.6v.6h-.6zM65.0,443.5h.6v.6h-.6zM100.1,422.3h.6v.6h-.6zM78.3,434.8h.6v.6h-.6zM93.8,420.2h.6v.6h-.6zM92.7,429.5h.6v.6h-.6zM108.5,451.1h.6v.6h-.6zM100.5,458.2h.6v.6h-.6zM88.0,434.5h.6v.6h-.6zM85.4,458.3h.6v.6h-.6zM101.9,420.8h.6v.6h-.6zM106.1,432.3h.6v.6h-.6zM70.5,455.4h.6v.6h-.6zM85.1,435.2h.6v.6h-.6zM95.2,421.3h.6v.6h-.6zM89.3,436.1h.6v.6h-.6zM93.5,428.7h.6v.6h-.6zM107.2,436.5h.6v.6h-.6zM113.6,428.6h.6v.6h-.6zM67.4,451.4h.6v.6h-.6zM91.7,434.2h.6v.6h-.6zM106.7,422.9h.6v.6h-.6zM91.5,433.7h.6v.6h-.6zM91.2,416.9h.6v.6h-.6zM70.6,439.8h.6v.6h-.6zM66.7,438.6h.6v.6h-.6zM104.9,429.7h.6v.6h-.6zM82.0,434.4h.6v.6h-.6zM71.9,439.3h.6v.6h-.6zM110.2,448.1h.6v.6h-.6zM78.6,435.9h.6v.6h-.6zM107.2,426.9h.6v.6h-.6zM87.1,456.7h.6v.6h-.6zM96.2,462.8h.6v.6h-.6zM96.7,459.1h.6v.6h-.6zM110.0,447.8h.6v.6h-.6zM89.6,455.9h.6v.6h-.6zM111.2,435.5h.6v.6h-.6zM102.7,458.2h.6v.6h-.6zM110.0,456.7h.6v.6h-.6zM78.4,462.3h.6v.6h-.6zM87.0,433.8h.6v.6h-.6zM93.0,431.1h.6v.6h-.6zM104.0,455.0h.6v.6h-.6zM74.5,435.4h.6v.6h-.6zM77.2,435.5h.6v.6h-.6zM69.7,439.1h.6v.6h-.6zM69.6,454.8h.6v.6h-.6zM91.9,454.3h.6v.6h-.6zM108.7,432.7h.6v.6h-.6zM65.7,437.1h.6v.6h-.6zM106.9,453.3h.6v.6h-.6zM107.9,451.0h.6v.6h-.6zM104.7,428.9h.6v.6h-.6zM77.3,463.5h.6v.6h-.6zM68.1,458.4h.6v.6h-.6zM108.9,448.1h.6v.6h-.6zM106.2,445.6h.6v.6h-.6zM65.0,450.1h.6v.6h-.6zM95.4,459.3h.6v.6h-.6zM110.0,448.9h.6v.6h-.6zM90.3,423.7h.6v.6h-.6zM112.7,451.7h.6v.6h-.6zM65.6,449.6h.6v.6h-.6zM90.1,454.4h.6v.6h-.6zM73.6,460.7h.6v.6h-.6zM108.6,448.3h.6v.6h-.6zM95.4,459.4h.6v.6h-.6zM97.9,421.2h.6v.6h-.6zM65.4,442.5h.6v.6h-.6zM79.7,459.3h.6v.6h-.6zM109.9,438.0h.6v.6h-.6zM91.1,436.8h.6v.6h-.6zM104.4,454.6h.6v.6h-.6zM78.4,459.1h.6v.6h-.6zM108.9,454.1h.6v.6h-.6zM67.0,455.6h.6v.6h-.6zM93.5,426.2h.6v.6h-.6zM65.0,439.8h.6v.6h-.6zM84.5,459.1h.6v.6h-.6zM107.1,430.9h.6v.6h-.6zM89.1,454.1h.6v.6h-.6zM100.7,417.7h.6v.6h-.6zM66.9,443.2h.6v.6h-.6zM105.6,428.5h.6v.6h-.6zM84.3,462.2h.6v.6h-.6zM62.1,450.1h.6v.6h-.6zM88.1,463.6h.6v.6h-.6zM90.0,432.5h.6v.6h-.6zM105.1,452.6h.6v.6h-.6zM63.1,439.7h.6v.6h-.6zM90.3,423.9h.6v.6h-.6zM65.0,448.0h.6v.6h-.6zM90.9,433.8h.6v.6h-.6zM105.2,453.4h.6v.6h-.6zM93.0,430.6h.6v.6h-.6zM106.7,428.4h.6v.6h-.6zM63.7,442.9h.6v.6h-.6zM68.3,451.9h.6v.6h-.6zM82.5,436.2h.6v.6h-.6zM82.7,434.9h.6v.6h-.6zM70.9,440.0h.6v.6h-.6zM91.4,424.7h.6v.6h-.6zM92.1,454.5h.6v.6h-.6zM85.9,459.1h.6v.6h-.6zM112.0,430.5h.6v.6h-.6zM74.0,457.7h.6v.6h-.6zM102.7,461.3h.6v.6h-.6zM96.3,460.9h.6v.6h-.6zM68.0,437.8h.6v.6h-.6zM107.6,430.7h.6v.6h-.6zM89.2,437.3h.6v.6h-.6zM106.8,453.4h.6v.6h-.6zM110.7,442.0h.6v.6h-.6zM68.2,450.5h.6v.6h-.6zM77.5,434.2h.6v.6h-.6zM105.6,421.7h.6v.6h-.6zM106.7,427.7h.6v.6h-.6zM99.6,420.4h.6v.6h-.6zM105.8,446.3h.6v.6h-.6zM108.0,451.2h.6v.6h-.6zM86.2,454.7h.6v.6h-.6zM104.8,454.5h.6v.6h-.6zM108.2,443.1h.6v.6h-.6zM102.7,456.3h.6v.6h-.6zM87.3,461.1h.6v.6h-.6zM106.3,450.7h.6v.6h-.6zM69.2,454.2h.6v.6h-.6zM90.4,433.0h.6v.6h-.6zM87.2,429.1h.6v.6h-.6zM92.0,432.1h.6v.6h-.6zM66.9,439.4h.6v.6h-.6zM86.9,431.2h.6v.6h-.6zM91.0,455.6h.6v.6h-.6zM59.6,440.7h.6v.6h-.6zM108.8,439.5h.6v.6h-.6zM66.5,444.0h.6v.6h-.6zM106.0,422.1h.6v.6h-.6zM79.7,437.4h.6v.6h-.6zM92.4,428.5h.6v.6h-.6zM101.8,457.8h.6v.6h-.6zM77.5,460.2h.6v.6h-.6zM92.2,459.8h.6v.6h-.6zM92.9,432.6h.6v.6h-.6zM64.3,455.4h.6v.6h-.6zM108.7,454.3h.6v.6h-.6zM77.0,434.3h.6v.6h-.6zM89.0,435.9h.6v.6h-.6zM95.8,421.8h.6v.6h-.6zM93.3,430.6h.6v.6h-.6zM76.9,458.6h.6v.6h-.6zM89.6,454.1h.6v.6h-.6zM69.6,452.2h.6v.6h-.6zM66.7,451.0h.6v.6h-.6zM107.9,430.4h.6v.6h-.6zM103.4,422.0h.6v.6h-.6zM84.7,433.9h.6v.6h-.6zM106.2,442.3h.6v.6h-.6zM90.4,455.8h.6v.6h-.6zM112.4,442.4h.6v.6h-.6zM73.0,436.9h.6v.6h-.6zM85.7,435.1h.6v.6h-.6zM98.4,460.0h.6v.6h-.6zM107.1,455.6h.6v.6h-.6zM97.4,462.9h.6v.6h-.6zM107.6,445.0h.6v.6h-.6zM89.4,436.0h.6v.6h-.6zM87.2,435.4h.6v.6h-.6zM101.9,465.1h.6v.6h-.6zM93.6,419.0h.6v.6h-.6zM93.2,459.0h.6v.6h-.6zM85.3,435.4h.6v.6h-.6zM78.9,433.1h.6v.6h-.6zM78.3,437.9h.6v.6h-.6zM91.8,426.8h.6v.6h-.6zM90.8,453.8h.6v.6h-.6zM66.4,443.6h.6v.6h-.6zM91.2,435.1h.6v.6h-.6zM100.7,415.0h.6v.6h-.6zM68.8,453.0h.6v.6h-.6zM102.1,423.3h.6v.6h-.6zM103.1,456.4h.6v.6h-.6zM112.9,441.7h.6v.6h-.6zM93.1,431.6h.6v.6h-.6zM110.5,446.4h.6v.6h-.6zM113.5,447.6h.6v.6h-.6zM86.4,435.4h.6v.6h-.6zM73.1,438.3h.6v.6h-.6zM66.9,449.8h.6v.6h-.6zM88.0,424.8h.6v.6h-.6zM110.4,454.5h.6v.6h-.6zM88.9,429.2h.6v.6h-.6zM87.7,457.1h.6v.6h-.6zM81.2,457.6h.6v.6h-.6zM103.5,424.4h.6v.6h-.6zM89.9,454.6h.6v.6h-.6zM100.4,421.7h.6v.6h-.6zM91.4,453.1h.6v.6h-.6zM91.2,454.5h.6v.6h-.6zM90.9,430.8h.6v.6h-.6zM67.6,438.4h.6v.6h-.6zM70.3,455.3h.6v.6h-.6zM67.1,441.0h.6v.6h-.6zM105.1,451.7h.6v.6h-.6zM91.7,435.2h.6v.6h-.6zM109.1,439.8h.6v.6h-.6zM107.0,430.8h.6v.6h-.6zM104.9,424.5h.6v.6h-.6zM103.3,453.9h.6v.6h-.6zM78.2,434.2h.6v.6h-.6zM110.6,431.0h.6v.6h-.6zM64.8,448.2h.6v.6h-.6zM89.5,433.7h.6v.6h-.6zM101.0,419.3h.6v.6h-.6zM99.3,421.6h.6v.6h-.6zM65.5,448.4h.6v.6h-.6zM77.1,437.5h.6v.6h-.6zM78.5,432.8h.6v.6h-.6zM65.8,449.2h.6v.6h-.6zM87.1,429.3h.6v.6h-.6zM87.9,457.2h.6v.6h-.6zM80.5,458.1h.6v.6h-.6zM88.7,455.5h.6v.6h-.6zM69.1,457.1h.6v.6h-.6zM91.4,455.1h.6v.6h-.6zM109.7,441.6h.6v.6h-.6zM71.9,460.6h.6v.6h-.6zM111.3,450.2h.6v.6h-.6zM91.2,424.1h.6v.6h-.6zM109.1,435.9h.6v.6h-.6zM66.6,443.8h.6v.6h-.6zM105.3,424.6h.6v.6h-.6zM107.6,428.0h.6v.6h-.6zM108.0,439.5h.6v.6h-.6zM108.1,440.0h.6v.6h-.6zM82.7,458.4h.6v.6h-.6zM88.8,432.0h.6v.6h-.6zM76.6,437.5h.6v.6h-.6zM108.7,438.9h.6v.6h-.6zM94.0,458.9h.6v.6h-.6zM81.3,458.8h.6v.6h-.6zM86.9,464.7h.6v.6h-.6zM91.9,457.2h.6v.6h-.6zM104.2,426.2h.6v.6h-.6zM84.7,432.0h.6v.6h-.6zM108.5,451.2h.6v.6h-.6zM108.3,451.9h.6v.6h-.6zM90.0,432.3h.6v.6h-.6zM86.6,434.9h.6v.6h-.6zM78.7,435.0h.6v.6h-.6zM65.0,455.2h.6v.6h-.6zM89.6,432.7h.6v.6h-.6zM110.3,441.9h.6v.6h-.6zM80.0,459.2h.6v.6h-.6zM86.4,432.2h.6v.6h-.6zM63.6,450.3h.6v.6h-.6zM90.5,453.5h.6v.6h-.6zM88.8,431.4h.6v.6h-.6zM91.5,435.4h.6v.6h-.6zM91.4,423.9h.6v.6h-.6zM96.7,461.2h.6v.6h-.6zM76.3,458.5h.6v.6h-.6zM87.0,457.8h.6v.6h-.6zM107.5,428.4h.6v.6h-.6zM107.3,438.7h.6v.6h-.6zM109.6,430.7h.6v.6h-.6zM110.3,431.8h.6v.6h-.6zM90.4,455.5h.6v.6h-.6zM77.3,466.9h.6v.6h-.6zM97.4,457.9h.6v.6h-.6zM111.3,449.0h.6v.6h-.6zM86.1,435.9h.6v.6h-.6zM71.8,434.3h.6v.6h-.6zM107.6,440.6h.6v.6h-.6zM78.8,434.8h.6v.6h-.6zM106.2,427.5h.6v.6h-.6zM90.7,459.9h.6v.6h-.6zM108.2,436.6h.6v.6h-.6zM72.5,457.5h.6v.6h-.6zM65.5,449.2h.6v.6h-.6zM68.7,451.0h.6v.6h-.6zM107.5,437.6h.6v.6h-.6zM107.3,450.6h.6v.6h-.6zM68.1,450.4h.6v.6h-.6zM74.8,457.6h.6v.6h-.6zM92.2,436.8h.6v.6h-.6zM105.6,430.2h.6v.6h-.6zM104.2,424.9h.6v.6h-.6zM106.4,453.6h.6v.6h-.6zM108.8,456.3h.6v.6h-.6zM93.2,458.7h.6v.6h-.6zM108.5,444.8h.6v.6h-.6zM90.0,432.7h.6v.6h-.6zM77.5,434.6h.6v.6h-.6zM88.6,433.9h.6v.6h-.6zM107.5,432.7h.6v.6h-.6zM91.4,435.8h.6v.6h-.6z" fill="#000" fill-opacity="0.7"/>
<path d="M91.9,431.4h.6v.6h-.6zM88.6,430.9h.6v.6h-.6zM91.2,427.1h.6v.6h-.6zM91.2,434.1h.6v.6h-.6zM91.5,428.2h.6v.6h-.6zM85.0,434.7h.6v.6h-.6zM82.4,439.2h.6v.6h-.6zM83.0,435.6h.6v.6h-.6zM77.9,436.8h.6v.6h-.6zM91.6,437.8h.6v.6h-.6zM89.1,435.9h.6v.6h-.6zM85.4,431.5h.6v.6h-.6zM84.8,438.7h.6v.6h-.6zM89.6,435.4h.6v.6h-.6zM93.3,433.3h.6v.6h-.6zM78.2,436.0h.6v.6h-.6zM91.8,436.5h.6v.6h-.6zM80.1,435.5h.6v.6h-.6zM78.3,440.8h.6v.6h-.6zM86.9,432.7h.6v.6h-.6zM87.7,432.7h.6v.6h-.6zM91.2,428.3h.6v.6h-.6zM82.5,435.9h.6v.6h-.6zM88.4,436.5h.6v.6h-.6zM79.0,435.8h.6v.6h-.6zM93.1,434.8h.6v.6h-.6zM88.9,430.7h.6v.6h-.6zM83.2,439.8h.6v.6h-.6zM91.4,431.0h.6v.6h-.6zM89.1,430.9h.6v.6h-.6zM78.7,436.9h.6v.6h-.6zM88.3,431.7h.6v.6h-.6zM92.4,435.9h.6v.6h-.6zM77.5,438.3h.6v.6h-.6zM82.0,439.6h.6v.6h-.6zM77.8,435.5h.6v.6h-.6zM82.5,440.1h.6v.6h-.6zM90.7,429.8h.6v.6h-.6zM82.3,439.5h.6v.6h-.6zM94.2,428.2h.6v.6h-.6zM90.9,428.0h.6v.6h-.6zM87.0,436.0h.6v.6h-.6zM77.6,437.4h.6v.6h-.6zM86.6,434.0h.6v.6h-.6zM85.9,431.9h.6v.6h-.6zM89.0,426.2h.6v.6h-.6zM78.9,438.4h.6v.6h-.6zM79.1,436.7h.6v.6h-.6zM83.4,437.8h.6v.6h-.6zM79.7,435.9h.6v.6h-.6zM85.6,439.2h.6v.6h-.6zM83.0,438.4h.6v.6h-.6zM89.5,431.9h.6v.6h-.6zM85.4,438.9h.6v.6h-.6zM77.3,435.9h.6v.6h-.6zM88.8,431.2h.6v.6h-.6zM78.3,436.9h.6v.6h-.6zM85.3,432.1h.6v.6h-.6zM87.3,432.8h.6v.6h-.6zM87.4,436.6h.6v.6h-.6zM86.7,430.7h.6v.6h-.6zM83.4,438.2h.6v.6h-.6zM90.9,428.6h.6v.6h-.6zM85.5,437.9h.6v.6h-.6zM89.8,428.4h.6v.6h-.6zM91.7,429.5h.6v.6h-.6zM91.6,435.2h.6v.6h-.6zM82.3,435.8h.6v.6h-.6zM79.4,435.6h.6v.6h-.6zM83.7,433.8h.6v.6h-.6zM93.3,436.3h.6v.6h-.6zM79.7,439.2h.6v.6h-.6zM86.4,438.7h.6v.6h-.6zM90.4,429.1h.6v.6h-.6zM91.3,431.8h.6v.6h-.6zM87.5,431.1h.6v.6h-.6zM85.0,437.1h.6v.6h-.6zM80.3,439.0h.6v.6h-.6zM86.2,432.8h.6v.6h-.6zM88.1,436.2h.6v.6h-.6zM92.1,436.4h.6v.6h-.6zM77.6,437.0h.6v.6h-.6zM90.9,427.9h.6v.6h-.6zM81.7,435.0h.6v.6h-.6zM80.8,436.4h.6v.6h-.6zM83.0,433.1h.6v.6h-.6zM77.8,435.9h.6v.6h-.6zM90.6,428.2h.6v.6h-.6zM80.0,437.3h.6v.6h-.6zM89.7,434.7h.6v.6h-.6zM82.5,435.6h.6v.6h-.6zM87.8,427.8h.6v.6h-.6zM79.4,439.5h.6v.6h-.6zM93.2,427.0h.6v.6h-.6zM82.0,433.8h.6v.6h-.6zM76.2,436.7h.6v.6h-.6zM82.8,432.5h.6v.6h-.6zM90.1,432.2h.6v.6h-.6zM77.8,436.1h.6v.6h-.6zM84.5,437.5h.6v.6h-.6zM90.3,429.8h.6v.6h-.6zM87.7,433.5h.6v.6h-.6zM80.4,436.4h.6v.6h-.6zM91.6,435.6h.6v.6h-.6zM86.0,432.1h.6v.6h-.6zM81.3,435.1h.6v.6h-.6zM75.5,434.1h.6v.6h-.6zM87.2,430.3h.6v.6h-.6zM88.6,437.5h.6v.6h-.6zM82.5,435.6h.6v.6h-.6zM92.1,435.8h.6v.6h-.6zM89.7,429.3h.6v.6h-.6zM77.8,438.2h.6v.6h-.6zM83.2,439.7h.6v.6h-.6zM90.3,427.5h.6v.6h-.6zM85.7,441.1h.6v.6h-.6zM84.8,432.7h.6v.6h-.6zM91.5,431.1h.6v.6h-.6zM90.0,436.8h.6v.6h-.6zM93.7,436.1h.6v.6h-.6zM90.0,431.5h.6v.6h-.6zM88.0,431.2h.6v.6h-.6zM91.7,435.2h.6v.6h-.6zM76.1,437.0h.6v.6h-.6zM76.5,439.2h.6v.6h-.6zM92.0,436.4h.6v.6h-.6zM92.1,427.1h.6v.6h-.6zM91.3,437.2h.6v.6h-.6zM86.1,434.0h.6v.6h-.6zM81.3,439.5h.6v.6h-.6zM89.0,428.6h.6v.6h-.6zM78.0,438.3h.6v.6h-.6zM81.9,438.2h.6v.6h-.6zM91.5,432.7h.6v.6h-.6zM79.7,439.8h.6v.6h-.6zM88.8,436.6h.6v.6h-.6zM79.4,437.3h.6v.6h-.6zM93.7,427.5h.6v.6h-.6zM91.1,431.6h.6v.6h-.6zM81.2,434.1h.6v.6h-.6zM86.9,438.2h.6v.6h-.6zM90.3,429.2h.6v.6h-.6zM80.6,435.7h.6v.6h-.6zM84.2,433.9h.6v.6h-.6zM91.0,426.5h.6v.6h-.6zM92.3,426.4h.6v.6h-.6zM92.9,427.9h.6v.6h-.6zM91.8,432.6h.6v.6h-.6zM78.0,436.5h.6v.6h-.6zM77.0,437.3h.6v.6h-.6zM93.6,438.7h.6v.6h-.6zM95.6,433.8h.6v.6h-.6zM80.0,438.3h.6v.6h-.6zM90.9,429.5h.6v.6h-.6zM88.6,431.3h.6v.6h-.6zM88.9,432.2h.6v.6h-.6zM84.8,433.6h.6v.6h-.6zM81.0,436.3h.6v.6h-.6zM88.8,438.0h.6v.6h-.6zM90.9,426.3h.6v.6h-.6zM89.4,431.2h.6v.6h-.6zM93.4,434.8h.6v.6h-.6zM85.1,432.7h.6v.6h-.6zM91.6,434.7h.6v.6h-.6zM92.1,430.3h.6v.6h-.6zM86.1,439.8h.6v.6h-.6zM87.6,437.6h.6v.6h-.6zM82.9,433.0h.6v.6h-.6zM80.7,435.0h.6v.6h-.6zM77.0,436.9h.6v.6h-.6zM90.8,428.6h.6v.6h-.6zM80.5,439.2h.6v.6h-.6zM87.4,433.0h.6v.6h-.6zM92.4,428.3h.6v.6h-.6zM89.3,433.0h.6v.6h-.6zM88.9,432.7h.6v.6h-.6zM86.0,436.9h.6v.6h-.6zM93.1,429.6h.6v.6h-.6zM88.1,436.3h.6v.6h-.6zM90.9,435.4h.6v.6h-.6zM90.4,427.4h.6v.6h-.6zM79.7,437.8h.6v.6h-.6zM90.3,430.4h.6v.6h-.6zM90.5,435.5h.6v.6h-.6zM76.7,437.3h.6v.6h-.6zM83.0,434.7h.6v.6h-.6zM90.7,435.8h.6v.6h-.6zM90.4,438.9h.6v.6h-.6zM84.5,437.2h.6v.6h-.6zM77.6,440.3h.6v.6h-.6zM82.5,434.7h.6v.6h-.6zM90.1,430.4h.6v.6h-.6zM84.2,438.3h.6v.6h-.6zM87.1,440.1h.6v.6h-.6zM86.3,432.6h.6v.6h-.6zM92.0,434.9h.6v.6h-.6zM87.9,437.7h.6v.6h-.6zM83.9,432.8h.6v.6h-.6zM79.3,436.6h.6v.6h-.6zM92.0,429.7h.6v.6h-.6zM78.0,438.0h.6v.6h-.6zM91.4,431.8h.6v.6h-.6zM84.9,437.5h.6v.6h-.6zM93.0,435.7h.6v.6h-.6zM77.8,434.8h.6v.6h-.6zM88.9,432.1h.6v.6h-.6zM91.2,427.0h.6v.6h-.6zM93.5,434.8h.6v.6h-.6zM84.7,431.4h.6v.6h-.6zM77.5,439.6h.6v.6h-.6zM86.7,438.0h.6v.6h-.6zM79.2,436.6h.6v.6h-.6zM87.2,436.0h.6v.6h-.6zM91.7,431.6h.6v.6h-.6zM82.3,433.7h.6v.6h-.6zM91.6,437.2h.6v.6h-.6zM79.7,433.9h.6v.6h-.6zM91.9,426.6h.6v.6h-.6zM92.0,434.3h.6v.6h-.6zM88.6,437.9h.6v.6h-.6zM93.3,434.3h.6v.6h-.6zM76.3,437.9h.6v.6h-.6zM78.2,437.7h.6v.6h-.6zM91.4,430.6h.6v.6h-.6zM80.9,433.9h.6v.6h-.6zM79.1,435.2h.6v.6h-.6zM92.6,434.0h.6v.6h-.6zM86.2,433.1h.6v.6h-.6zM89.3,429.9h.6v.6h-.6zM77.1,436.3h.6v.6h-.6zM86.7,430.9h.6v.6h-.6zM83.7,438.5h.6v.6h-.6zM87.6,431.7h.6v.6h-.6zM93.2,429.6h.6v.6h-.6zM92.4,431.0h.6v.6h-.6zM92.8,427.6h.6v.6h-.6zM91.2,435.0h.6v.6h-.6zM93.7,431.3h.6v.6h-.6zM84.9,432.9h.6v.6h-.6zM91.2,428.9h.6v.6h-.6zM84.7,436.4h.6v.6h-.6zM79.1,438.1h.6v.6h-.6zM91.1,431.2h.6v.6h-.6zM93.2,427.1h.6v.6h-.6zM92.4,432.2h.6v.6h-.6zM77.5,438.5h.6v.6h-.6zM92.7,435.3h.6v.6h-.6zM76.2,437.8h.6v.6h-.6zM89.5,428.2h.6v.6h-.6zM91.7,435.8h.6v.6h-.6zM90.2,426.3h.6v.6h-.6zM79.6,436.5h.6v.6h-.6zM91.7,435.4h.6v.6h-.6zM93.3,435.1h.6v.6h-.6zM90.1,435.9h.6v.6h-.6zM91.1,430.2h.6v.6h-.6zM91.9,434.9h.6v.6h-.6zM92.0,431.9h.6v.6h-.6zM86.6,432.1h.6v.6h-.6zM87.8,436.4h.6v.6h-.6zM89.5,426.6h.6v.6h-.6zM78.1,437.2h.6v.6h-.6zM82.0,435.1h.6v.6h-.6zM81.7,434.2h.6v.6h-.6zM78.4,437.4h.6v.6h-.6zM86.4,437.8h.6v.6h-.6zM89.6,427.8h.6v.6h-.6zM85.0,433.0h.6v.6h-.6zM87.5,437.1h.6v.6h-.6zM92.9,426.2h.6v.6h-.6zM92.2,427.9h.6v.6h-.6zM86.2,434.5h.6v.6h-.6zM91.4,434.5h.6v.6h-.6zM90.8,431.1h.6v.6h-.6zM82.4,440.7h.6v.6h-.6zM88.4,439.3h.6v.6h-.6zM80.1,440.1h.6v.6h-.6zM81.7,434.6h.6v.6h-.6zM76.2,436.5h.6v.6h-.6zM86.1,433.2h.6v.6h-.6zM90.6,431.4h.6v.6h-.6zM76.1,440.7h.6v.6h-.6zM90.9,426.2h.6v.6h-.6zM81.9,433.5h.6v.6h-.6zM83.7,438.0h.6v.6h-.6zM83.5,433.0h.6v.6h-.6zM79.7,437.6h.6v.6h-.6zM93.2,436.3h.6v.6h-.6zM82.9,434.6h.6v.6h-.6zM90.6,427.8h.6v.6h-.6zM86.1,436.5h.6v.6h-.6zM88.1,430.3h.6v.6h-.6zM87.3,436.6h.6v.6h-.6zM91.2,425.2h.6v.6h-.6zM90.6,429.6h.6v.6h-.6zM83.2,437.5h.6v.6h-.6zM92.2,426.9h.6v.6h-.6zM81.4,439.7h.6v.6h-.6zM87.2,437.3h.6v.6h-.6zM76.0,437.3h.6v.6h-.6zM93.2,432.3h.6v.6h-.6zM83.7,438.7h.6v.6h-.6zM89.1,436.7h.6v.6h-.6zM87.1,433.6h.6v.6h-.6zM91.4,426.0h.6v.6h-.6zM93.5,427.0h.6v.6h-.6zM80.4,436.2h.6v.6h-.6zM92.5,428.3h.6v.6h-.6zM77.7,437.8h.6v.6h-.6zM91.8,435.2h.6v.6h-.6zM86.1,432.8h.6v.6h-.6zM92.0,433.1h.6v.6h-.6zM91.8,432.4h.6v.6h-.6zM92.4,437.4h.6v.6h-.6zM78.0,437.2h.6v.6h-.6zM80.9,435.6h.6v.6h-.6zM79.6,438.0h.6v.6h-.6zM77.9,436.9h.6v.6h-.6zM76.7,437.0h.6v.6h-.6zM91.4,426.7h.6v.6h-.6zM90.7,427.3h.6v.6h-.6zM80.2,434.9h.6v.6h-.6zM87.0,433.1h.6v.6h-.6zM78.0,434.5h.6v.6h-.6zM84.9,438.8h.6v.6h-.6zM81.3,436.6h.6v.6h-.6zM80.4,434.9h.6v.6h-.6zM92.0,426.6h.6v.6h-.6zM94.4,429.1h.6v.6h-.6zM91.7,427.4h.6v.6h-.6zM92.4,428.2h.6v.6h-.6zM85.2,433.8h.6v.6h-.6zM82.3,439.2h.6v.6h-.6zM91.9,433.2h.6v.6h-.6zM81.6,438.3h.6v.6h-.6zM94.8,433.5h.6v.6h-.6zM79.4,438.8h.6v.6h-.6zM80.5,438.7h.6v.6h-.6zM88.3,431.9h.6v.6h-.6zM82.8,435.4h.6v.6h-.6zM92.8,427.5h.6v.6h-.6zM90.6,429.9h.6v.6h-.6zM92.7,434.5h.6v.6h-.6zM81.9,435.2h.6v.6h-.6zM88.9,432.3h.6v.6h-.6zM84.4,433.8h.6v.6h-.6zM80.5,434.2h.6v.6h-.6zM79.9,439.0h.6v.6h-.6zM83.3,435.6h.6v.6h-.6zM85.7,433.1h.6v.6h-.6z" fill="#000" fill-opacity="0.55"/>
<path d="M68.00,446.20 C68.17,445.17 69.05,443.63 69.80,442.60 C70.55,441.57 71.30,440.67 72.50,440.00 C73.70,439.33 75.08,438.90 77.00,438.60 C78.92,438.30 81.92,438.27 84.00,438.20 C86.08,438.13 88.07,438.40 89.50,438.20 C90.93,438.00 91.85,437.87 92.60,437.00 C93.35,436.13 93.67,434.42 94.00,433.00 C94.33,431.58 94.30,429.92 94.60,428.50 C94.90,427.08 95.23,425.42 95.80,424.50 C96.37,423.58 97.17,423.15 98.00,423.00 C98.83,422.85 99.88,422.93 100.80,423.60 C101.72,424.27 102.77,425.27 103.50,427.00 C104.23,428.73 104.85,431.25 105.20,434.00 C105.55,436.75 105.77,440.58 105.60,443.50 C105.43,446.42 104.83,449.42 104.20,451.50 C103.57,453.58 102.67,455.03 101.80,456.00 C100.93,456.97 100.00,457.13 99.00,457.30 C98.00,457.47 96.70,457.38 95.80,457.00 C94.90,456.62 94.18,455.78 93.60,455.00 C93.02,454.22 92.90,452.83 92.30,452.30 C91.70,451.77 90.97,451.72 90.00,451.80 C89.03,451.88 87.83,452.27 86.50,452.80 C85.17,453.33 83.33,454.30 82.00,455.00 C80.67,455.70 79.50,456.63 78.50,457.00 C77.50,457.37 76.83,457.45 76.00,457.20 C75.17,456.95 74.37,456.37 73.50,455.50 C72.63,454.63 71.58,453.12 70.80,452.00 C70.02,450.88 69.27,449.77 68.80,448.80 C68.33,447.83 67.83,447.23 68.00,446.20 Z" fill="none" stroke="#000" stroke-width="4.0" stroke-linejoin="round" opacity="0.55" filter="url(#bl3)"/>
<path d="M68.00,446.20 C68.17,445.17 69.05,443.63 69.80,442.60 C70.55,441.57 71.30,440.67 72.50,440.00 C73.70,439.33 75.08,438.90 77.00,438.60 C78.92,438.30 81.92,438.27 84.00,438.20 C86.08,438.13 88.07,438.40 89.50,438.20 C90.93,438.00 91.85,437.87 92.60,437.00 C93.35,436.13 93.67,434.42 94.00,433.00 C94.33,431.58 94.30,429.92 94.60,428.50 C94.90,427.08 95.23,425.42 95.80,424.50 C96.37,423.58 97.17,423.15 98.00,423.00 C98.83,422.85 99.88,422.93 100.80,423.60 C101.72,424.27 102.77,425.27 103.50,427.00 C104.23,428.73 104.85,431.25 105.20,434.00 C105.55,436.75 105.77,440.58 105.60,443.50 C105.43,446.42 104.83,449.42 104.20,451.50 C103.57,453.58 102.67,455.03 101.80,456.00 C100.93,456.97 100.00,457.13 99.00,457.30 C98.00,457.47 96.70,457.38 95.80,457.00 C94.90,456.62 94.18,455.78 93.60,455.00 C93.02,454.22 92.90,452.83 92.30,452.30 C91.70,451.77 90.97,451.72 90.00,451.80 C89.03,451.88 87.83,452.27 86.50,452.80 C85.17,453.33 83.33,454.30 82.00,455.00 C80.67,455.70 79.50,456.63 78.50,457.00 C77.50,457.37 76.83,457.45 76.00,457.20 C75.17,456.95 74.37,456.37 73.50,455.50 C72.63,454.63 71.58,453.12 70.80,452.00 C70.02,450.88 69.27,449.77 68.80,448.80 C68.33,447.83 67.83,447.23 68.00,446.20 Z" fill="none" stroke="#000" stroke-width="2.2" stroke-linejoin="round" opacity="0.85"/>
<path d="M68.00,446.20 C68.17,445.17 69.05,443.63 69.80,442.60 C70.55,441.57 71.30,440.67 72.50,440.00 C73.70,439.33 75.08,438.90 77.00,438.60 C78.92,438.30 81.92,438.27 84.00,438.20 C86.08,438.13 88.07,438.40 89.50,438.20 C90.93,438.00 91.85,437.87 92.60,437.00 C93.35,436.13 93.67,434.42 94.00,433.00 C94.33,431.58 94.30,429.92 94.60,428.50 C94.90,427.08 95.23,425.42 95.80,424.50 C96.37,423.58 97.17,423.15 98.00,423.00 C98.83,422.85 99.88,422.93 100.80,423.60 C101.72,424.27 102.77,425.27 103.50,427.00 C104.23,428.73 104.85,431.25 105.20,434.00 C105.55,436.75 105.77,440.58 105.60,443.50 C105.43,446.42 104.83,449.42 104.20,451.50 C103.57,453.58 102.67,455.03 101.80,456.00 C100.93,456.97 100.00,457.13 99.00,457.30 C98.00,457.47 96.70,457.38 95.80,457.00 C94.90,456.62 94.18,455.78 93.60,455.00 C93.02,454.22 92.90,452.83 92.30,452.30 C91.70,451.77 90.97,451.72 90.00,451.80 C89.03,451.88 87.83,452.27 86.50,452.80 C85.17,453.33 83.33,454.30 82.00,455.00 C80.67,455.70 79.50,456.63 78.50,457.00 C77.50,457.37 76.83,457.45 76.00,457.20 C75.17,456.95 74.37,456.37 73.50,455.50 C72.63,454.63 71.58,453.12 70.80,452.00 C70.02,450.88 69.27,449.77 68.80,448.80 C68.33,447.83 67.83,447.23 68.00,446.20 Z" fill="#e6e6e6" stroke="#000" stroke-width="1.0"/>
<path d="M68.9,446.3 68.9,446.6 69.0,447.2 69.9,448.8 70.8,450.4 72.9,453.3 73.8,454.4 74.6,455.2 75.3,455.8 76.3,456.3 77.1,456.4 78.2,456.1 83.0,453.4 85.4,452.2 86.8,451.7 88.8,451.0 90.5,450.8 91.4,450.9 91.9,451.0 92.5,451.3 92.9,451.6 93.4,452.2 94.4,454.5 95.2,455.5 96.2,456.1 97.0,456.3 98.4,456.4 99.7,456.2 100.4,455.9 101.1,455.4 101.9,454.3 102.6,453.0 103.3,451.2 104.1,447.6 104.5,444.9 104.7,443.4 104.7,442.0 104.6,438.7 104.3,434.1 103.6,430.3 103.0,428.2 102.3,426.7 101.9,426.0 101.1,425.1 100.3,424.4 99.6,424.0 98.8,423.9 97.9,424.0 97.3,424.3 96.8,424.7 96.4,425.4 95.8,427.3 95.4,429.4 95.1,432.5 94.4,435.5 93.8,436.9 93.4,437.5 92.8,438.1 92.3,438.5 91.0,438.9 89.6,439.1 87.9,439.2 84.0,439.1 79.3,439.3 77.1,439.5 74.8,440.1 73.0,440.8 72.5,441.1 71.7,441.8 70.6,443.2 69.9,444.2 69.2,445.4Z" fill="none" stroke="#fff" stroke-width="0.9"/>
<path d="M69.8,446.6 70.0,447.1 71.2,449.4 73.1,452.2 74.4,453.8 75.1,454.6 76.1,455.3 76.9,455.5 77.5,455.4 78.2,455.2 80.5,453.8 82.6,452.6 85.0,451.5 86.5,450.9 87.9,450.4 89.3,450.1 90.5,450.0 91.7,450.1 91.7,439.6 90.4,439.9 88.8,440.1 84.0,440.0 79.3,440.2 77.3,440.4 75.0,440.9 73.4,441.6 72.6,442.1 71.9,442.8 70.6,444.7 70.0,445.8Z" fill="none" stroke="#555" stroke-width="0.45"/>
<path d="M95.3,454.3 95.8,454.9 96.3,455.2 96.8,455.4 97.5,455.6 98.3,455.6 99.5,455.4 100.0,455.2 100.5,454.8 101.5,453.3 102.2,451.8 102.5,451.0 103.0,448.8 103.5,446.2 103.8,443.4 103.9,441.9 103.8,438.8 103.4,434.2 103.0,431.7 102.5,429.5 101.8,427.7 101.5,427.1 101.2,426.5 100.5,425.7 99.8,425.1 99.0,424.8 98.3,424.8 97.8,425.0 97.3,425.4 97.0,426.2 96.4,428.8 95.9,432.6 95.3,435.3Z" fill="none" stroke="#555" stroke-width="0.45"/>
<path d="M70.6,446.6 71.3,448.1 72.2,449.4 73.8,451.7 75.0,453.3 75.7,454.0 76.5,454.6 76.9,454.7 77.3,454.7 77.9,454.4 80.1,453.1 82.3,451.9 85.6,450.4 87.0,449.8 88.4,449.4 89.7,449.2 90.9,449.2 90.9,440.6 88.8,440.9 84.0,440.8 79.4,441.0 77.4,441.2 75.3,441.6 73.8,442.3 72.8,443.0 71.6,444.6 71.0,445.6Z" fill="none" stroke="#777" stroke-width="0.4"/>
<path d="M96.1,454.0 96.8,454.6 97.9,454.8 98.6,454.7 99.5,454.5 99.7,454.4 100.2,453.9 101.1,452.3 101.7,450.7 102.5,447.3 102.9,444.7 103.1,441.9 103.0,438.8 102.6,434.3 102.2,431.9 101.7,429.7 101.4,428.8 100.8,427.4 100.5,427.0 99.9,426.2 99.1,425.6 98.8,425.5 98.4,425.6 98.1,425.8 97.9,426.1 97.6,427.0 97.0,429.6 96.7,432.8 96.1,435.4Z" fill="none" stroke="#777" stroke-width="0.4"/>
<path d="M71.4,446.5 72.6,448.5 74.8,451.8 75.6,452.8 76.2,453.4 76.8,453.9 77.1,453.9 77.8,453.5 79.7,452.4 81.1,451.6 83.5,450.4 85.2,449.7 86.8,449.1 88.1,448.7 89.1,448.5 90.1,448.4 90.1,441.5 88.8,441.7 85.0,441.6 80.6,441.7 78.4,441.9 76.1,442.2 74.6,442.8 73.6,443.3 73.1,443.8 72.3,445.0Z" fill="none" stroke="#555" stroke-width="0.45"/>
<path d="M96.9,453.7 97.2,453.9 97.7,454.0 98.2,454.0 99.2,453.8 99.5,453.4 100.1,452.5 100.7,451.3 101.0,450.5 101.5,448.4 101.9,445.9 102.2,443.3 102.2,440.4 102.1,437.3 101.8,434.4 101.4,432.0 100.9,429.9 100.4,428.4 100.1,427.8 99.6,427.1 99.1,426.6 98.7,426.3 98.6,426.4 98.4,427.2 97.9,429.1 97.5,432.9 96.9,435.5Z" fill="none" stroke="#555" stroke-width="0.45"/>
<path d="M72.3,446.5 73.2,448.1 75.1,450.8 76.2,452.3 77.1,453.0 80.0,451.3 84.2,449.2 87.1,448.1 89.3,447.7 89.3,442.4 87.8,442.5 85.0,442.4 80.6,442.5 78.5,442.7 76.3,443.0 74.9,443.5 74.2,443.9 73.2,445.1Z" fill="none" stroke="#777" stroke-width="0.4"/>
<path d="M97.7,453.2 98.8,453.1 99.4,452.1 99.9,451.0 100.4,449.3 100.9,447.1 101.3,444.5 101.4,443.3 101.4,438.9 101.2,435.9 100.9,433.3 100.2,430.2 99.6,428.7 99.1,427.7 98.6,429.8 98.3,433.1 97.7,435.6Z" fill="none" stroke="#777" stroke-width="0.4"/>
<path d="M73.2,446.5 73.9,447.7 75.3,449.7 76.5,451.3 77.2,452.1 79.7,450.6 83.7,448.6 86.3,447.6 88.5,447.0 88.5,443.3 85.0,443.2 81.8,443.3 78.5,443.4 77.1,443.7 75.6,444.1 74.8,444.5 74.1,445.2Z" fill="none" stroke="#555" stroke-width="0.45"/>
<path d="M98.5,452.1 99.2,450.7 99.9,448.1 100.4,445.7 100.6,443.2 100.6,440.4 100.4,435.9 100.1,433.5 99.4,430.3 99.0,433.2 98.5,435.7Z" fill="none" stroke="#555" stroke-width="0.45"/>
<path d="M74.2,446.5 75.2,448.2 77.3,451.1 79.3,449.9 83.4,447.8 85.8,446.9 87.7,446.3 87.7,444.1 85.0,444.0 81.9,444.1 78.6,444.2 77.2,444.5 76.2,444.7 75.3,445.1 74.8,445.7Z" fill="none" stroke="#777" stroke-width="0.4"/>
<path d="M99.3,447.1 99.7,444.4 99.9,441.9 99.8,439.0 99.5,435.0 99.3,435.8Z" fill="none" stroke="#777" stroke-width="0.4"/>
<path d="M75.1,446.5 77.5,450.0 79.7,448.8 83.0,447.1 84.9,446.3 86.9,445.7 86.9,444.8 85.0,444.8 81.9,444.9 79.6,445.0 78.0,445.1 76.9,445.4 75.9,445.7 75.7,445.8Z" fill="none" stroke="#555" stroke-width="0.45"/>
<circle cx="99.5" cy="446" r="1.2" fill="#fff"/>
<circle cx="91.7" cy="428.5" r="2.6" fill="#fff" stroke="#000" stroke-width="1.2"/>
</g>
<rect x="48.60" y="408.90" width="66.10" height="65.70" fill="none" stroke="#9a9a9a" stroke-width="0.8"/>
<line x1="48.60" y1="410.90" x2="49.70" y2="410.90" stroke="#999" stroke-width="0.5"/>
<line x1="48.60" y1="415.72" x2="49.70" y2="415.72" stroke="#999" stroke-width="0.5"/>
<line x1="48.60" y1="420.55" x2="49.70" y2="420.55" stroke="#999" stroke-width="0.5"/>
<line x1="48.60" y1="425.37" x2="49.70" y2="425.37" stroke="#999" stroke-width="0.5"/>
<line x1="48.60" y1="430.19" x2="49.70" y2="430.19" stroke="#999" stroke-width="0.5"/>
<line x1="48.60" y1="435.02" x2="49.70" y2="435.02" stroke="#999" stroke-width="0.5"/>
<line x1="48.60" y1="439.84" x2="49.70" y2="439.84" stroke="#999" stroke-width="0.5"/>
<line x1="48.60" y1="444.66" x2="49.70" y2="444.66" stroke="#999" stroke-width="0.5"/>
<line x1="48.60" y1="449.48" x2="49.70" y2="449.48" stroke="#999" stroke-width="0.5"/>
<line x1="48.60" y1="454.31" x2="49.70" y2="454.31" stroke="#999" stroke-width="0.5"/>
<line x1="48.60" y1="459.13" x2="49.70" y2="459.13" stroke="#999" stroke-width="0.5"/>
<line x1="48.60" y1="463.95" x2="49.70" y2="463.95" stroke="#999" stroke-width="0.5"/>
<line x1="48.60" y1="468.78" x2="49.70" y2="468.78" stroke="#999" stroke-width="0.5"/>
<line x1="48.60" y1="473.60" x2="49.70" y2="473.60" stroke="#999" stroke-width="0.5"/>
<line x1="50.60" y1="474.60" x2="50.60" y2="473.50" stroke="#999" stroke-width="0.5"/>
<line x1="55.45" y1="474.60" x2="55.45" y2="473.50" stroke="#999" stroke-width="0.5"/>
<line x1="60.31" y1="474.60" x2="60.31" y2="473.50" stroke="#999" stroke-width="0.5"/>
<line x1="65.16" y1="474.60" x2="65.16" y2="473.50" stroke="#999" stroke-width="0.5"/>
<line x1="70.02" y1="474.60" x2="70.02" y2="473.50" stroke="#999" stroke-width="0.5"/>
<line x1="74.87" y1="474.60" x2="74.87" y2="473.50" stroke="#999" stroke-width="0.5"/>
<line x1="79.72" y1="474.60" x2="79.72" y2="473.50" stroke="#999" stroke-width="0.5"/>
<line x1="84.58" y1="474.60" x2="84.58" y2="473.50" stroke="#999" stroke-width="0.5"/>
<line x1="89.43" y1="474.60" x2="89.43" y2="473.50" stroke="#999" stroke-width="0.5"/>
<line x1="94.28" y1="474.60" x2="94.28" y2="473.50" stroke="#999" stroke-width="0.5"/>
<line x1="99.14" y1="474.60" x2="99.14" y2="473.50" stroke="#999" stroke-width="0.5"/>
<line x1="103.99" y1="474.60" x2="103.99" y2="473.50" stroke="#999" stroke-width="0.5"/>
<line x1="108.85" y1="474.60" x2="108.85" y2="473.50" stroke="#999" stroke-width="0.5"/>
<line x1="113.70" y1="474.60" x2="113.70" y2="473.50" stroke="#999" stroke-width="0.5"/>
<rect x="50.2" y="410.3" width="44.3" height="21.7" fill="none" stroke="#7070ff" stroke-width="0.9"/>
<text x="51.80" y="417.70" font-size="6.7" text-anchor="start" fill="#222" stroke="#222" stroke-width="0.22" >3.30%</text>
<g>
<path d="M186.6,433.0h.55v.55h-.55zM182.2,434.9h.55v.55h-.55zM170.9,438.6h.55v.55h-.55zM179.3,431.8h.55v.55h-.55zM186.5,438.4h.55v.55h-.55zM178.0,434.8h.55v.55h-.55zM181.6,433.5h.55v.55h-.55zM161.5,439.4h.55v.55h-.55zM176.2,433.5h.55v.55h-.55zM176.7,434.1h.55v.55h-.55zM177.5,439.9h.55v.55h-.55zM181.7,432.8h.55v.55h-.55zM174.8,442.4h.55v.55h-.55zM176.4,436.2h.55v.55h-.55zM179.1,435.2h.55v.55h-.55zM192.0,441.5h.55v.55h-.55zM176.7,441.5h.55v.55h-.55zM186.2,429.9h.55v.55h-.55zM175.6,445.4h.55v.55h-.55zM184.2,433.6h.55v.55h-.55zM172.4,435.5h.55v.55h-.55zM177.6,440.3h.55v.55h-.55zM186.0,436.8h.55v.55h-.55zM179.7,431.8h.55v.55h-.55zM171.7,442.9h.55v.55h-.55zM171.5,433.0h.55v.55h-.55zM181.7,436.2h.55v.55h-.55zM175.6,440.1h.55v.55h-.55zM189.6,434.8h.55v.55h-.55zM164.8,436.2h.55v.55h-.55zM172.2,439.5h.55v.55h-.55zM170.1,443.2h.55v.55h-.55zM175.8,431.2h.55v.55h-.55zM178.5,439.9h.55v.55h-.55zM178.0,436.2h.55v.55h-.55zM173.2,440.8h.55v.55h-.55zM172.1,440.2h.55v.55h-.55zM175.1,438.8h.55v.55h-.55zM183.7,436.8h.55v.55h-.55zM166.9,431.9h.55v.55h-.55zM172.4,434.3h.55v.55h-.55zM182.5,435.1h.55v.55h-.55zM180.8,433.4h.55v.55h-.55zM171.5,437.9h.55v.55h-.55zM184.3,434.7h.55v.55h-.55zM170.9,439.9h.55v.55h-.55zM175.7,432.7h.55v.55h-.55zM179.5,435.0h.55v.55h-.55zM181.0,443.0h.55v.55h-.55zM192.9,432.9h.55v.55h-.55zM183.7,431.6h.55v.55h-.55zM163.4,439.5h.55v.55h-.55zM182.1,431.2h.55v.55h-.55zM180.6,435.0h.55v.55h-.55zM167.7,436.1h.55v.55h-.55zM173.9,434.5h.55v.55h-.55zM185.0,436.3h.55v.55h-.55zM181.3,433.0h.55v.55h-.55zM157.9,435.3h.55v.55h-.55zM186.6,437.4h.55v.55h-.55zM175.2,429.4h.55v.55h-.55zM176.9,435.5h.55v.55h-.55zM169.3,435.9h.55v.55h-.55zM183.9,434.8h.55v.55h-.55zM175.7,435.7h.55v.55h-.55zM182.9,428.9h.55v.55h-.55zM172.2,433.6h.55v.55h-.55zM167.4,441.7h.55v.55h-.55zM193.8,432.4h.55v.55h-.55zM178.8,440.6h.55v.55h-.55zM173.6,436.2h.55v.55h-.55zM171.1,437.2h.55v.55h-.55zM198.1,433.4h.55v.55h-.55zM178.5,435.8h.55v.55h-.55zM176.3,441.6h.55v.55h-.55zM179.4,437.2h.55v.55h-.55zM180.0,437.8h.55v.55h-.55zM178.6,430.5h.55v.55h-.55zM181.1,434.6h.55v.55h-.55zM181.3,433.6h.55v.55h-.55zM169.8,438.0h.55v.55h-.55zM174.4,434.7h.55v.55h-.55zM185.3,435.9h.55v.55h-.55zM170.4,440.0h.55v.55h-.55zM177.0,439.4h.55v.55h-.55zM183.3,438.5h.55v.55h-.55zM174.2,436.0h.55v.55h-.55zM176.4,428.4h.55v.55h-.55zM168.6,427.2h.55v.55h-.55zM179.2,434.0h.55v.55h-.55zM181.1,433.6h.55v.55h-.55zM167.1,442.0h.55v.55h-.55zM169.1,441.6h.55v.55h-.55zM168.9,437.5h.55v.55h-.55zM185.0,436.6h.55v.55h-.55zM175.3,438.7h.55v.55h-.55zM175.0,433.0h.55v.55h-.55zM178.9,434.5h.55v.55h-.55zM162.1,441.0h.55v.55h-.55zM179.2,433.0h.55v.55h-.55zM181.7,436.3h.55v.55h-.55zM186.6,430.2h.55v.55h-.55zM172.1,438.2h.55v.55h-.55zM183.9,433.2h.55v.55h-.55zM181.6,435.7h.55v.55h-.55zM179.4,437.8h.55v.55h-.55zM165.0,434.6h.55v.55h-.55zM182.1,437.5h.55v.55h-.55zM195.0,432.7h.55v.55h-.55zM186.1,435.5h.55v.55h-.55zM188.6,435.3h.55v.55h-.55zM168.7,436.2h.55v.55h-.55zM178.9,437.6h.55v.55h-.55zM169.3,441.7h.55v.55h-.55zM181.1,435.6h.55v.55h-.55zM164.9,437.3h.55v.55h-.55zM170.7,443.0h.55v.55h-.55zM178.5,438.8h.55v.55h-.55zM185.3,430.7h.55v.55h-.55zM173.7,432.9h.55v.55h-.55zM189.7,431.8h.55v.55h-.55zM171.5,438.7h.55v.55h-.55zM181.3,436.5h.55v.55h-.55zM178.0,437.8h.55v.55h-.55zM183.8,439.7h.55v.55h-.55zM163.1,434.6h.55v.55h-.55zM179.6,432.9h.55v.55h-.55zM178.1,431.3h.55v.55h-.55zM181.5,437.9h.55v.55h-.55zM171.7,439.6h.55v.55h-.55zM191.4,431.8h.55v.55h-.55zM187.2,430.7h.55v.55h-.55zM188.7,427.7h.55v.55h-.55zM186.1,430.7h.55v.55h-.55zM192.3,426.2h.55v.55h-.55zM176.9,430.7h.55v.55h-.55zM192.6,423.2h.55v.55h-.55zM184.0,431.7h.55v.55h-.55zM194.3,427.7h.55v.55h-.55zM193.6,431.3h.55v.55h-.55zM191.5,425.0h.55v.55h-.55zM171.8,428.2h.55v.55h-.55zM180.8,431.9h.55v.55h-.55zM183.6,430.5h.55v.55h-.55zM180.9,432.5h.55v.55h-.55zM186.2,425.9h.55v.55h-.55zM193.4,432.1h.55v.55h-.55zM183.6,428.2h.55v.55h-.55zM189.6,435.5h.55v.55h-.55zM186.3,429.7h.55v.55h-.55zM181.5,427.9h.55v.55h-.55zM188.5,427.6h.55v.55h-.55zM187.8,428.7h.55v.55h-.55zM186.7,426.6h.55v.55h-.55zM181.9,432.6h.55v.55h-.55zM186.6,427.6h.55v.55h-.55zM190.9,431.3h.55v.55h-.55zM185.1,430.6h.55v.55h-.55zM187.7,426.3h.55v.55h-.55zM184.7,430.7h.55v.55h-.55zM181.4,426.8h.55v.55h-.55zM183.8,431.0h.55v.55h-.55zM183.2,429.4h.55v.55h-.55zM189.5,431.5h.55v.55h-.55zM180.7,429.4h.55v.55h-.55zM185.0,429.2h.55v.55h-.55zM189.9,433.1h.55v.55h-.55zM187.5,427.2h.55v.55h-.55zM177.6,426.0h.55v.55h-.55zM188.2,429.3h.55v.55h-.55zM186.1,423.4h.55v.55h-.55zM196.6,426.7h.55v.55h-.55zM177.2,429.9h.55v.55h-.55zM175.4,431.4h.55v.55h-.55zM184.7,424.4h.55v.55h-.55zM176.9,428.3h.55v.55h-.55zM182.9,427.3h.55v.55h-.55zM186.5,424.7h.55v.55h-.55zM185.3,430.8h.55v.55h-.55zM185.8,428.9h.55v.55h-.55zM181.3,429.8h.55v.55h-.55zM181.8,423.5h.55v.55h-.55zM194.6,424.5h.55v.55h-.55zM183.3,428.5h.55v.55h-.55zM178.7,429.0h.55v.55h-.55zM185.6,429.7h.55v.55h-.55zM192.8,423.3h.55v.55h-.55zM189.4,430.9h.55v.55h-.55zM184.6,428.4h.55v.55h-.55zM177.1,430.3h.55v.55h-.55zM183.5,428.7h.55v.55h-.55zM184.6,428.6h.55v.55h-.55zM182.2,431.2h.55v.55h-.55zM187.5,428.1h.55v.55h-.55zM197.1,433.9h.55v.55h-.55zM187.6,425.4h.55v.55h-.55zM184.3,427.8h.55v.55h-.55zM183.2,430.7h.55v.55h-.55zM187.5,429.7h.55v.55h-.55zM182.4,435.5h.55v.55h-.55zM185.0,431.9h.55v.55h-.55zM189.9,447.4h.55v.55h-.55zM173.8,450.3h.55v.55h-.55zM202.6,445.8h.55v.55h-.55zM175.3,442.7h.55v.55h-.55zM176.3,444.1h.55v.55h-.55zM172.5,451.2h.55v.55h-.55zM172.8,455.0h.55v.55h-.55zM176.4,435.5h.55v.55h-.55zM177.1,458.9h.55v.55h-.55zM173.4,456.0h.55v.55h-.55zM199.2,441.6h.55v.55h-.55zM169.6,457.3h.55v.55h-.55zM198.7,435.4h.55v.55h-.55zM184.3,445.4h.55v.55h-.55zM175.2,441.0h.55v.55h-.55zM159.0,452.9h.55v.55h-.55zM188.9,451.3h.55v.55h-.55zM179.7,441.2h.55v.55h-.55zM155.5,456.6h.55v.55h-.55zM167.8,453.1h.55v.55h-.55zM194.4,449.5h.55v.55h-.55zM167.0,447.3h.55v.55h-.55zM180.6,452.2h.55v.55h-.55zM161.7,448.0h.55v.55h-.55zM172.3,451.9h.55v.55h-.55zM192.5,450.5h.55v.55h-.55zM189.2,448.5h.55v.55h-.55zM176.2,447.7h.55v.55h-.55zM171.2,458.7h.55v.55h-.55zM177.9,455.4h.55v.55h-.55zM181.1,459.1h.55v.55h-.55zM172.6,461.7h.55v.55h-.55zM166.1,447.9h.55v.55h-.55zM161.6,446.3h.55v.55h-.55zM175.0,462.0h.55v.55h-.55zM170.3,445.8h.55v.55h-.55zM177.0,453.3h.55v.55h-.55zM172.2,452.9h.55v.55h-.55zM176.2,440.7h.55v.55h-.55zM174.4,443.6h.55v.55h-.55zM185.5,452.9h.55v.55h-.55zM176.2,458.8h.55v.55h-.55zM179.5,452.2h.55v.55h-.55zM178.5,440.8h.55v.55h-.55zM179.5,459.5h.55v.55h-.55zM165.1,454.8h.55v.55h-.55zM180.4,459.8h.55v.55h-.55zM196.0,445.0h.55v.55h-.55zM170.6,462.1h.55v.55h-.55zM182.6,445.1h.55v.55h-.55zM176.3,441.4h.55v.55h-.55zM194.8,442.1h.55v.55h-.55zM182.8,439.5h.55v.55h-.55zM187.2,448.5h.55v.55h-.55zM168.1,455.0h.55v.55h-.55zM179.7,447.7h.55v.55h-.55zM183.3,447.9h.55v.55h-.55zM176.7,453.7h.55v.55h-.55zM178.0,445.8h.55v.55h-.55zM172.2,446.9h.55v.55h-.55zM195.1,466.7h.55v.55h-.55zM196.4,438.2h.55v.55h-.55zM151.9,451.0h.55v.55h-.55zM176.3,453.9h.55v.55h-.55zM177.7,453.7h.55v.55h-.55zM192.9,446.6h.55v.55h-.55zM178.4,446.2h.55v.55h-.55zM159.7,445.6h.55v.55h-.55zM181.5,455.6h.55v.55h-.55zM176.1,452.6h.55v.55h-.55zM162.3,457.2h.55v.55h-.55zM185.6,439.9h.55v.55h-.55zM172.8,454.3h.55v.55h-.55zM182.1,454.8h.55v.55h-.55zM167.4,459.3h.55v.55h-.55zM164.0,460.3h.55v.55h-.55zM169.6,455.4h.55v.55h-.55zM160.6,457.3h.55v.55h-.55zM184.9,451.3h.55v.55h-.55zM177.4,452.3h.55v.55h-.55zM200.3,441.2h.55v.55h-.55zM186.3,452.8h.55v.55h-.55zM172.0,453.2h.55v.55h-.55zM178.9,449.2h.55v.55h-.55zM180.3,455.4h.55v.55h-.55zM168.6,449.8h.55v.55h-.55zM169.5,448.1h.55v.55h-.55zM179.6,452.8h.55v.55h-.55zM189.8,442.8h.55v.55h-.55zM164.9,450.2h.55v.55h-.55zM189.7,437.1h.55v.55h-.55zM173.8,441.9h.55v.55h-.55zM196.9,453.4h.55v.55h-.55zM166.6,456.6h.55v.55h-.55zM172.4,454.5h.55v.55h-.55zM168.0,448.8h.55v.55h-.55zM178.6,460.8h.55v.55h-.55zM182.3,444.4h.55v.55h-.55zM166.5,448.0h.55v.55h-.55zM156.7,440.1h.55v.55h-.55zM179.2,464.1h.55v.55h-.55zM182.9,462.9h.55v.55h-.55zM176.5,444.4h.55v.55h-.55zM183.3,455.4h.55v.55h-.55zM191.3,448.4h.55v.55h-.55zM178.6,443.6h.55v.55h-.55zM155.7,457.5h.55v.55h-.55zM202.6,452.8h.55v.55h-.55zM184.6,447.9h.55v.55h-.55zM176.6,438.5h.55v.55h-.55zM172.0,446.1h.55v.55h-.55zM174.0,455.3h.55v.55h-.55zM184.7,449.2h.55v.55h-.55zM190.4,437.6h.55v.55h-.55zM191.0,449.7h.55v.55h-.55zM183.3,448.4h.55v.55h-.55zM184.6,444.5h.55v.55h-.55zM185.5,448.5h.55v.55h-.55zM149.7,459.1h.55v.55h-.55zM185.3,443.6h.55v.55h-.55zM160.5,453.5h.55v.55h-.55zM199.6,449.3h.55v.55h-.55zM186.3,442.8h.55v.55h-.55zM195.2,444.8h.55v.55h-.55zM183.4,458.0h.55v.55h-.55zM200.4,448.5h.55v.55h-.55zM185.3,440.4h.55v.55h-.55zM188.6,437.5h.55v.55h-.55zM178.4,438.1h.55v.55h-.55zM199.6,461.9h.55v.55h-.55zM184.6,449.5h.55v.55h-.55zM162.0,453.6h.55v.55h-.55zM173.7,463.9h.55v.55h-.55zM175.5,452.4h.55v.55h-.55zM195.0,454.3h.55v.55h-.55zM171.8,443.2h.55v.55h-.55zM183.9,446.5h.55v.55h-.55zM152.2,458.6h.55v.55h-.55zM182.4,446.6h.55v.55h-.55zM174.1,459.9h.55v.55h-.55zM175.1,447.8h.55v.55h-.55zM183.8,456.6h.55v.55h-.55zM172.8,454.7h.55v.55h-.55zM185.8,437.2h.55v.55h-.55zM176.5,446.7h.55v.55h-.55zM183.6,444.0h.55v.55h-.55zM184.2,444.7h.55v.55h-.55zM171.1,451.3h.55v.55h-.55zM183.2,447.7h.55v.55h-.55zM175.4,446.3h.55v.55h-.55zM179.9,458.1h.55v.55h-.55zM176.5,456.1h.55v.55h-.55zM181.4,444.2h.55v.55h-.55zM189.0,438.8h.55v.55h-.55zM187.6,455.6h.55v.55h-.55zM188.3,447.9h.55v.55h-.55zM192.2,460.4h.55v.55h-.55zM166.9,443.3h.55v.55h-.55zM175.6,451.2h.55v.55h-.55zM185.1,449.5h.55v.55h-.55zM167.3,442.1h.55v.55h-.55zM167.3,446.7h.55v.55h-.55zM174.7,446.3h.55v.55h-.55zM191.6,459.2h.55v.55h-.55zM169.6,446.6h.55v.55h-.55zM184.4,453.8h.55v.55h-.55zM192.3,448.8h.55v.55h-.55zM177.0,455.4h.55v.55h-.55zM183.0,446.8h.55v.55h-.55zM167.5,444.9h.55v.55h-.55zM193.8,446.8h.55v.55h-.55zM204.5,440.9h.55v.55h-.55zM174.5,456.2h.55v.55h-.55zM191.0,458.2h.55v.55h-.55zM171.9,454.5h.55v.55h-.55zM170.2,471.2h.55v.55h-.55zM203.4,447.7h.55v.55h-.55zM183.9,447.3h.55v.55h-.55zM184.0,439.8h.55v.55h-.55zM171.2,442.3h.55v.55h-.55zM183.9,462.6h.55v.55h-.55zM177.8,443.3h.55v.55h-.55zM179.6,450.0h.55v.55h-.55zM178.6,433.7h.55v.55h-.55zM174.2,447.3h.55v.55h-.55zM177.2,463.6h.55v.55h-.55zM166.7,440.1h.55v.55h-.55zM183.5,452.3h.55v.55h-.55zM161.3,444.9h.55v.55h-.55zM167.6,463.8h.55v.55h-.55zM178.0,450.3h.55v.55h-.55zM163.2,448.1h.55v.55h-.55zM184.8,459.1h.55v.55h-.55zM182.4,449.0h.55v.55h-.55zM184.4,445.2h.55v.55h-.55zM166.2,449.3h.55v.55h-.55zM188.7,457.5h.55v.55h-.55zM170.9,441.7h.55v.55h-.55zM196.3,449.9h.55v.55h-.55zM159.7,444.3h.55v.55h-.55zM184.6,449.8h.55v.55h-.55zM165.7,445.8h.55v.55h-.55zM190.9,455.7h.55v.55h-.55zM188.9,455.9h.55v.55h-.55zM177.0,449.8h.55v.55h-.55zM166.0,458.4h.55v.55h-.55zM186.8,444.1h.55v.55h-.55zM173.0,459.9h.55v.55h-.55zM179.0,454.5h.55v.55h-.55zM185.9,448.5h.55v.55h-.55zM175.6,455.1h.55v.55h-.55zM194.4,441.5h.55v.55h-.55zM187.4,439.8h.55v.55h-.55zM198.9,421.4h.55v.55h-.55zM200.0,447.7h.55v.55h-.55zM199.5,443.5h.55v.55h-.55zM196.8,442.7h.55v.55h-.55zM201.6,436.0h.55v.55h-.55zM200.1,423.6h.55v.55h-.55zM196.7,430.4h.55v.55h-.55zM203.8,437.7h.55v.55h-.55zM199.7,444.6h.55v.55h-.55zM209.1,451.7h.55v.55h-.55zM204.4,429.3h.55v.55h-.55zM203.1,426.6h.55v.55h-.55zM203.7,417.1h.55v.55h-.55zM200.9,417.3h.55v.55h-.55zM201.2,433.3h.55v.55h-.55zM202.9,440.7h.55v.55h-.55zM195.6,427.0h.55v.55h-.55zM196.1,447.5h.55v.55h-.55zM199.3,440.9h.55v.55h-.55zM197.2,434.8h.55v.55h-.55zM204.2,430.6h.55v.55h-.55zM206.1,448.6h.55v.55h-.55zM199.0,431.6h.55v.55h-.55zM202.7,415.5h.55v.55h-.55zM196.0,445.7h.55v.55h-.55zM205.7,430.4h.55v.55h-.55zM196.4,441.4h.55v.55h-.55zM198.6,445.7h.55v.55h-.55zM195.6,439.7h.55v.55h-.55zM197.2,440.5h.55v.55h-.55zM204.3,450.7h.55v.55h-.55zM201.8,442.1h.55v.55h-.55zM205.9,425.1h.55v.55h-.55zM199.6,453.9h.55v.55h-.55zM198.5,438.4h.55v.55h-.55zM195.8,445.4h.55v.55h-.55zM199.2,449.1h.55v.55h-.55zM199.9,433.7h.55v.55h-.55zM196.1,426.0h.55v.55h-.55zM201.0,424.6h.55v.55h-.55zM199.7,435.0h.55v.55h-.55zM200.3,447.2h.55v.55h-.55zM195.2,420.7h.55v.55h-.55zM200.4,431.4h.55v.55h-.55zM201.1,435.8h.55v.55h-.55zM201.5,432.0h.55v.55h-.55zM198.2,437.2h.55v.55h-.55zM199.7,465.3h.55v.55h-.55zM200.8,424.5h.55v.55h-.55zM202.9,437.3h.55v.55h-.55zM202.3,448.9h.55v.55h-.55zM196.8,446.9h.55v.55h-.55zM196.3,448.3h.55v.55h-.55zM194.0,441.4h.55v.55h-.55zM200.1,435.0h.55v.55h-.55zM198.1,438.9h.55v.55h-.55zM198.7,456.4h.55v.55h-.55zM201.1,434.0h.55v.55h-.55zM196.8,419.0h.55v.55h-.55zM205.0,449.9h.55v.55h-.55zM201.5,437.9h.55v.55h-.55zM202.3,451.4h.55v.55h-.55zM206.3,433.9h.55v.55h-.55zM200.2,422.7h.55v.55h-.55zM199.4,453.7h.55v.55h-.55zM204.2,440.5h.55v.55h-.55zM201.4,432.1h.55v.55h-.55zM196.9,457.9h.55v.55h-.55zM195.6,437.1h.55v.55h-.55zM201.8,441.8h.55v.55h-.55zM195.9,440.0h.55v.55h-.55zM199.8,448.0h.55v.55h-.55zM194.1,424.3h.55v.55h-.55zM204.9,426.3h.55v.55h-.55zM198.0,434.8h.55v.55h-.55zM193.9,440.3h.55v.55h-.55zM200.6,428.5h.55v.55h-.55zM198.7,438.3h.55v.55h-.55zM197.2,450.7h.55v.55h-.55zM194.5,441.0h.55v.55h-.55zM200.3,424.1h.55v.55h-.55zM194.8,438.5h.55v.55h-.55zM201.4,412.9h.55v.55h-.55zM198.0,460.7h.55v.55h-.55zM199.8,437.0h.55v.55h-.55zM199.0,440.7h.55v.55h-.55zM202.1,440.3h.55v.55h-.55zM201.4,427.3h.55v.55h-.55zM203.1,446.5h.55v.55h-.55zM204.2,448.0h.55v.55h-.55zM198.9,449.6h.55v.55h-.55zM197.1,434.4h.55v.55h-.55zM199.5,421.9h.55v.55h-.55zM204.6,446.0h.55v.55h-.55zM197.2,451.5h.55v.55h-.55zM205.7,433.2h.55v.55h-.55zM198.9,428.6h.55v.55h-.55zM205.5,430.8h.55v.55h-.55zM202.9,427.7h.55v.55h-.55zM203.1,458.7h.55v.55h-.55zM197.2,448.1h.55v.55h-.55zM196.1,439.2h.55v.55h-.55zM198.7,440.0h.55v.55h-.55zM203.1,444.7h.55v.55h-.55zM197.1,431.8h.55v.55h-.55zM196.6,444.3h.55v.55h-.55zM202.4,432.7h.55v.55h-.55zM201.9,444.0h.55v.55h-.55zM201.2,435.3h.55v.55h-.55zM202.4,447.2h.55v.55h-.55zM201.7,434.5h.55v.55h-.55zM205.1,438.1h.55v.55h-.55zM204.1,420.6h.55v.55h-.55zM196.5,441.7h.55v.55h-.55zM194.5,451.4h.55v.55h-.55zM197.9,433.9h.55v.55h-.55zM202.0,442.5h.55v.55h-.55zM197.9,436.0h.55v.55h-.55zM201.1,445.2h.55v.55h-.55zM201.3,448.6h.55v.55h-.55zM202.1,419.2h.55v.55h-.55zM203.3,443.6h.55v.55h-.55zM198.8,429.4h.55v.55h-.55zM194.8,432.1h.55v.55h-.55zM199.8,444.9h.55v.55h-.55zM196.5,435.8h.55v.55h-.55zM206.3,430.4h.55v.55h-.55zM198.2,455.2h.55v.55h-.55zM192.0,444.5h.55v.55h-.55zM195.0,439.6h.55v.55h-.55zM157.2,457.1h.55v.55h-.55zM160.6,460.9h.55v.55h-.55zM179.9,469.4h.55v.55h-.55zM168.9,453.1h.55v.55h-.55zM153.5,468.3h.55v.55h-.55zM169.4,452.7h.55v.55h-.55zM154.6,447.9h.55v.55h-.55zM184.0,464.1h.55v.55h-.55zM167.8,453.8h.55v.55h-.55zM173.8,463.1h.55v.55h-.55zM162.7,457.5h.55v.55h-.55zM167.4,454.4h.55v.55h-.55zM166.6,466.2h.55v.55h-.55zM163.4,467.3h.55v.55h-.55zM188.5,444.1h.55v.55h-.55zM182.9,457.8h.55v.55h-.55zM176.4,461.8h.55v.55h-.55zM173.0,457.6h.55v.55h-.55zM174.3,460.0h.55v.55h-.55zM173.4,449.9h.55v.55h-.55zM197.7,465.5h.55v.55h-.55zM158.4,453.1h.55v.55h-.55zM165.8,462.4h.55v.55h-.55zM194.3,463.3h.55v.55h-.55zM162.5,458.9h.55v.55h-.55zM165.9,450.6h.55v.55h-.55zM184.4,470.1h.55v.55h-.55zM151.2,459.5h.55v.55h-.55zM172.5,465.1h.55v.55h-.55zM149.6,456.1h.55v.55h-.55zM150.0,457.2h.55v.55h-.55zM168.0,467.7h.55v.55h-.55zM172.0,460.2h.55v.55h-.55zM159.5,457.8h.55v.55h-.55zM179.9,456.2h.55v.55h-.55zM155.7,460.1h.55v.55h-.55zM165.8,464.8h.55v.55h-.55zM174.6,454.5h.55v.55h-.55zM161.3,444.6h.55v.55h-.55zM177.4,467.7h.55v.55h-.55zM159.5,463.1h.55v.55h-.55zM170.7,459.1h.55v.55h-.55zM183.3,454.3h.55v.55h-.55zM183.1,461.2h.55v.55h-.55zM200.5,455.9h.55v.55h-.55zM162.7,452.1h.55v.55h-.55zM167.8,468.7h.55v.55h-.55zM157.6,456.2h.55v.55h-.55zM162.2,458.9h.55v.55h-.55zM165.6,454.1h.55v.55h-.55zM156.1,472.0h.55v.55h-.55zM165.5,457.6h.55v.55h-.55zM187.5,470.7h.55v.55h-.55zM163.4,471.0h.55v.55h-.55zM174.5,464.1h.55v.55h-.55zM179.2,451.6h.55v.55h-.55zM174.4,460.6h.55v.55h-.55zM178.1,456.7h.55v.55h-.55zM161.7,455.2h.55v.55h-.55zM174.0,467.2h.55v.55h-.55zM151.6,459.7h.55v.55h-.55zM180.8,448.1h.55v.55h-.55zM173.9,448.9h.55v.55h-.55zM155.4,462.8h.55v.55h-.55zM178.9,470.2h.55v.55h-.55zM175.6,463.0h.55v.55h-.55zM164.4,462.5h.55v.55h-.55zM179.7,459.0h.55v.55h-.55zM166.1,470.5h.55v.55h-.55zM170.9,448.6h.55v.55h-.55zM173.3,455.9h.55v.55h-.55zM177.9,450.6h.55v.55h-.55zM175.9,442.7h.55v.55h-.55zM195.5,459.4h.55v.55h-.55zM158.4,464.9h.55v.55h-.55zM162.7,456.4h.55v.55h-.55zM164.3,468.7h.55v.55h-.55zM160.9,457.2h.55v.55h-.55zM161.1,454.7h.55v.55h-.55zM161.2,455.0h.55v.55h-.55zM155.2,458.7h.55v.55h-.55zM172.5,457.7h.55v.55h-.55zM154.6,448.1h.55v.55h-.55zM161.3,452.6h.55v.55h-.55zM167.7,464.1h.55v.55h-.55zM166.0,470.9h.55v.55h-.55zM157.7,456.6h.55v.55h-.55zM186.3,472.6h.55v.55h-.55zM164.9,450.8h.55v.55h-.55zM189.1,461.2h.55v.55h-.55zM158.9,457.8h.55v.55h-.55zM199.2,458.1h.55v.55h-.55zM178.0,453.6h.55v.55h-.55zM173.0,467.4h.55v.55h-.55zM174.5,462.2h.55v.55h-.55zM167.1,463.1h.55v.55h-.55zM177.1,463.0h.55v.55h-.55zM167.3,469.3h.55v.55h-.55zM189.9,461.9h.55v.55h-.55zM177.1,455.7h.55v.55h-.55zM165.3,452.5h.55v.55h-.55zM178.3,448.0h.55v.55h-.55zM195.8,464.8h.55v.55h-.55zM194.6,459.3h.55v.55h-.55zM192.6,461.3h.55v.55h-.55zM191.7,458.1h.55v.55h-.55zM187.9,461.5h.55v.55h-.55zM194.4,458.0h.55v.55h-.55zM176.4,460.5h.55v.55h-.55zM184.7,460.8h.55v.55h-.55zM193.5,459.2h.55v.55h-.55zM190.0,459.4h.55v.55h-.55zM187.6,464.0h.55v.55h-.55zM187.2,468.0h.55v.55h-.55zM193.9,465.2h.55v.55h-.55zM182.5,462.2h.55v.55h-.55zM195.8,471.5h.55v.55h-.55zM178.3,463.6h.55v.55h-.55zM188.2,461.0h.55v.55h-.55zM198.0,462.6h.55v.55h-.55zM180.3,468.3h.55v.55h-.55zM186.5,460.8h.55v.55h-.55zM189.3,462.9h.55v.55h-.55zM193.0,464.5h.55v.55h-.55zM190.5,466.9h.55v.55h-.55zM190.8,465.8h.55v.55h-.55zM190.4,462.5h.55v.55h-.55zM186.2,470.1h.55v.55h-.55zM187.4,467.3h.55v.55h-.55zM197.0,465.2h.55v.55h-.55zM194.8,470.8h.55v.55h-.55zM193.4,464.1h.55v.55h-.55zM196.8,463.1h.55v.55h-.55zM189.2,470.6h.55v.55h-.55zM200.9,466.8h.55v.55h-.55zM189.2,458.6h.55v.55h-.55zM188.1,461.4h.55v.55h-.55zM187.5,467.1h.55v.55h-.55zM191.5,465.5h.55v.55h-.55zM185.7,457.7h.55v.55h-.55zM184.7,460.6h.55v.55h-.55zM189.2,463.9h.55v.55h-.55zM194.6,471.5h.55v.55h-.55zM184.9,464.9h.55v.55h-.55zM204.8,461.9h.55v.55h-.55zM187.3,465.1h.55v.55h-.55zM180.4,455.1h.55v.55h-.55zM183.9,464.3h.55v.55h-.55zM181.7,458.1h.55v.55h-.55zM190.9,470.2h.55v.55h-.55zM187.8,460.4h.55v.55h-.55zM191.2,458.9h.55v.55h-.55zM187.9,470.6h.55v.55h-.55zM193.3,458.6h.55v.55h-.55zM183.1,466.7h.55v.55h-.55zM179.9,467.5h.55v.55h-.55zM192.2,464.0h.55v.55h-.55zM184.5,472.2h.55v.55h-.55zM181.8,467.2h.55v.55h-.55zM193.1,469.0h.55v.55h-.55zM183.5,462.4h.55v.55h-.55zM183.4,461.8h.55v.55h-.55zM192.6,466.9h.55v.55h-.55zM186.9,474.0h.55v.55h-.55zM177.8,460.0h.55v.55h-.55zM180.1,463.6h.55v.55h-.55zM183.7,464.2h.55v.55h-.55zM180.2,459.3h.55v.55h-.55zM201.0,465.6h.55v.55h-.55zM189.7,463.6h.55v.55h-.55zM198.6,465.2h.55v.55h-.55zM184.5,458.9h.55v.55h-.55zM197.3,462.5h.55v.55h-.55zM186.5,426.1h.55v.55h-.55zM196.5,422.6h.55v.55h-.55zM188.5,424.6h.55v.55h-.55zM192.7,427.5h.55v.55h-.55zM185.5,432.5h.55v.55h-.55zM183.2,432.9h.55v.55h-.55zM166.7,424.6h.55v.55h-.55zM188.9,426.8h.55v.55h-.55zM186.5,437.1h.55v.55h-.55zM171.1,428.2h.55v.55h-.55zM168.5,430.4h.55v.55h-.55zM179.1,430.9h.55v.55h-.55zM191.7,432.6h.55v.55h-.55zM178.8,439.6h.55v.55h-.55zM181.5,428.3h.55v.55h-.55zM179.9,427.7h.55v.55h-.55zM187.6,432.9h.55v.55h-.55zM185.0,422.7h.55v.55h-.55zM186.6,426.4h.55v.55h-.55zM191.1,422.7h.55v.55h-.55zM186.3,424.0h.55v.55h-.55zM185.8,425.5h.55v.55h-.55zM200.4,430.4h.55v.55h-.55zM170.0,435.0h.55v.55h-.55zM180.9,429.8h.55v.55h-.55zM177.3,430.1h.55v.55h-.55zM184.2,423.2h.55v.55h-.55zM186.5,429.6h.55v.55h-.55zM186.7,422.3h.55v.55h-.55zM174.4,426.3h.55v.55h-.55zM188.5,420.5h.55v.55h-.55zM183.8,422.0h.55v.55h-.55zM191.9,429.8h.55v.55h-.55zM181.8,434.6h.55v.55h-.55zM185.9,419.2h.55v.55h-.55zM171.8,426.1h.55v.55h-.55zM198.4,428.2h.55v.55h-.55zM178.9,424.3h.55v.55h-.55zM186.0,423.2h.55v.55h-.55zM180.5,427.4h.55v.55h-.55zM184.0,427.8h.55v.55h-.55zM195.2,434.4h.55v.55h-.55zM191.7,421.9h.55v.55h-.55zM190.1,429.1h.55v.55h-.55zM186.8,429.8h.55v.55h-.55zM183.7,437.1h.55v.55h-.55zM186.4,431.0h.55v.55h-.55zM189.5,429.5h.55v.55h-.55zM187.4,427.5h.55v.55h-.55zM182.2,425.7h.55v.55h-.55zM181.9,425.3h.55v.55h-.55zM182.9,427.5h.55v.55h-.55zM171.0,429.4h.55v.55h-.55zM187.7,424.0h.55v.55h-.55zM198.4,426.0h.55v.55h-.55zM193.7,425.2h.55v.55h-.55zM178.9,422.6h.55v.55h-.55zM182.2,427.9h.55v.55h-.55zM171.3,433.8h.55v.55h-.55zM189.4,431.1h.55v.55h-.55zM184.5,431.0h.55v.55h-.55zM183.3,440.7h.55v.55h-.55zM186.6,430.3h.55v.55h-.55zM191.8,427.1h.55v.55h-.55zM182.2,427.1h.55v.55h-.55zM176.6,426.3h.55v.55h-.55zM188.5,429.1h.55v.55h-.55zM187.2,437.5h.55v.55h-.55zM185.0,427.8h.55v.55h-.55zM175.8,422.6h.55v.55h-.55zM180.5,429.3h.55v.55h-.55zM185.2,428.9h.55v.55h-.55zM193.0,430.8h.55v.55h-.55zM179.5,431.5h.55v.55h-.55zM178.8,427.4h.55v.55h-.55zM180.0,425.0h.55v.55h-.55zM187.7,426.7h.55v.55h-.55zM172.2,425.1h.55v.55h-.55zM186.2,427.5h.55v.55h-.55zM192.6,422.3h.55v.55h-.55zM190.5,425.0h.55v.55h-.55zM168.9,435.7h.55v.55h-.55zM190.4,427.5h.55v.55h-.55zM184.6,422.7h.55v.55h-.55zM178.0,436.9h.55v.55h-.55zM170.1,430.2h.55v.55h-.55zM174.9,426.1h.55v.55h-.55zM186.5,433.5h.55v.55h-.55zM181.2,420.9h.55v.55h-.55zM190.3,424.2h.55v.55h-.55zM192.8,423.2h.55v.55h-.55zM159.8,448.5h.55v.55h-.55zM162.9,421.6h.55v.55h-.55zM171.5,444.2h.55v.55h-.55zM161.3,429.4h.55v.55h-.55zM153.9,440.9h.55v.55h-.55zM159.5,427.4h.55v.55h-.55zM160.6,443.0h.55v.55h-.55zM170.3,439.6h.55v.55h-.55zM152.1,438.1h.55v.55h-.55zM150.9,443.5h.55v.55h-.55zM173.1,437.1h.55v.55h-.55zM149.0,442.4h.55v.55h-.55zM160.6,443.5h.55v.55h-.55zM152.4,440.0h.55v.55h-.55zM156.1,433.9h.55v.55h-.55zM169.1,441.6h.55v.55h-.55zM172.3,437.0h.55v.55h-.55zM162.7,444.2h.55v.55h-.55zM168.3,438.1h.55v.55h-.55zM174.5,433.1h.55v.55h-.55zM177.9,457.0h.55v.55h-.55zM174.7,440.1h.55v.55h-.55zM154.5,432.2h.55v.55h-.55zM175.3,447.4h.55v.55h-.55zM168.9,436.4h.55v.55h-.55zM173.0,460.3h.55v.55h-.55zM158.1,436.6h.55v.55h-.55zM165.6,447.3h.55v.55h-.55zM170.1,437.8h.55v.55h-.55zM176.9,439.9h.55v.55h-.55zM162.4,448.8h.55v.55h-.55zM158.4,441.9h.55v.55h-.55zM152.8,440.0h.55v.55h-.55zM179.1,451.1h.55v.55h-.55zM162.8,437.2h.55v.55h-.55zM164.5,447.3h.55v.55h-.55zM191.9,432.8h.55v.55h-.55zM165.3,442.5h.55v.55h-.55zM151.7,442.7h.55v.55h-.55zM163.2,443.6h.55v.55h-.55zM163.4,430.9h.55v.55h-.55zM162.4,448.5h.55v.55h-.55zM165.1,455.6h.55v.55h-.55zM156.2,446.1h.55v.55h-.55zM160.4,449.4h.55v.55h-.55zM160.9,450.1h.55v.55h-.55zM166.4,446.4h.55v.55h-.55zM165.1,441.5h.55v.55h-.55zM161.4,447.3h.55v.55h-.55zM150.9,436.4h.55v.55h-.55z" fill="#1a1a1a" fill-opacity="0.75"/>
<path d="M207.0,445.9h.6v.6h-.6zM199.4,456.7h.6v.6h-.6zM205.0,428.5h.6v.6h-.6zM171.9,441.5h.6v.6h-.6zM202.8,424.5h.6v.6h-.6zM168.3,442.5h.6v.6h-.6zM177.0,439.7h.6v.6h-.6zM206.0,439.8h.6v.6h-.6zM206.5,438.6h.6v.6h-.6zM169.1,440.6h.6v.6h-.6zM169.0,441.1h.6v.6h-.6zM205.5,433.0h.6v.6h-.6zM190.9,427.7h.6v.6h-.6zM205.4,435.2h.6v.6h-.6zM171.9,452.4h.6v.6h-.6zM191.9,421.2h.6v.6h-.6zM169.2,441.8h.6v.6h-.6zM191.4,455.0h.6v.6h-.6zM187.2,438.4h.6v.6h-.6zM187.8,438.3h.6v.6h-.6zM200.1,456.8h.6v.6h-.6zM172.3,454.0h.6v.6h-.6zM180.8,439.4h.6v.6h-.6zM203.5,424.7h.6v.6h-.6zM201.7,456.6h.6v.6h-.6zM203.0,422.9h.6v.6h-.6zM185.9,438.3h.6v.6h-.6zM206.0,434.0h.6v.6h-.6zM181.0,454.0h.6v.6h-.6zM183.8,453.3h.6v.6h-.6zM191.4,424.7h.6v.6h-.6zM171.6,452.3h.6v.6h-.6zM174.0,452.9h.6v.6h-.6zM204.4,431.5h.6v.6h-.6zM202.5,451.3h.6v.6h-.6zM191.0,456.1h.6v.6h-.6zM191.7,422.9h.6v.6h-.6zM167.5,445.4h.6v.6h-.6zM168.6,442.6h.6v.6h-.6zM189.3,431.0h.6v.6h-.6zM207.3,446.9h.6v.6h-.6zM189.1,453.9h.6v.6h-.6zM176.7,454.0h.6v.6h-.6zM182.8,453.8h.6v.6h-.6zM197.0,420.8h.6v.6h-.6zM188.3,427.9h.6v.6h-.6zM168.8,451.9h.6v.6h-.6zM187.2,452.7h.6v.6h-.6zM202.8,422.9h.6v.6h-.6zM184.3,452.6h.6v.6h-.6zM205.4,449.9h.6v.6h-.6zM190.5,428.2h.6v.6h-.6zM202.7,453.0h.6v.6h-.6zM198.4,421.7h.6v.6h-.6zM205.2,434.5h.6v.6h-.6zM187.6,436.4h.6v.6h-.6zM205.8,439.8h.6v.6h-.6zM187.2,437.4h.6v.6h-.6zM204.6,445.3h.6v.6h-.6zM188.3,436.1h.6v.6h-.6zM195.5,421.6h.6v.6h-.6zM171.4,440.3h.6v.6h-.6zM170.8,453.0h.6v.6h-.6zM190.2,434.6h.6v.6h-.6zM206.1,437.0h.6v.6h-.6zM204.4,428.8h.6v.6h-.6zM189.3,436.6h.6v.6h-.6zM195.9,420.9h.6v.6h-.6zM173.9,437.9h.6v.6h-.6zM177.5,438.8h.6v.6h-.6zM173.6,440.9h.6v.6h-.6zM204.5,446.7h.6v.6h-.6zM203.8,429.0h.6v.6h-.6zM170.8,451.9h.6v.6h-.6zM205.5,436.2h.6v.6h-.6zM190.7,456.1h.6v.6h-.6zM191.6,423.6h.6v.6h-.6zM202.8,450.9h.6v.6h-.6zM189.4,430.9h.6v.6h-.6zM189.4,438.6h.6v.6h-.6zM194.4,421.1h.6v.6h-.6zM176.5,438.9h.6v.6h-.6zM171.5,453.7h.6v.6h-.6zM207.4,437.5h.6v.6h-.6zM190.5,427.9h.6v.6h-.6zM168.2,441.8h.6v.6h-.6zM185.2,439.1h.6v.6h-.6zM168.3,446.9h.6v.6h-.6zM203.1,453.2h.6v.6h-.6zM198.9,455.4h.6v.6h-.6zM194.8,457.3h.6v.6h-.6zM198.2,455.8h.6v.6h-.6zM205.3,438.4h.6v.6h-.6zM190.8,430.7h.6v.6h-.6zM204.9,448.3h.6v.6h-.6zM187.6,454.2h.6v.6h-.6zM173.6,453.8h.6v.6h-.6zM189.3,428.9h.6v.6h-.6zM191.6,420.6h.6v.6h-.6zM202.2,452.0h.6v.6h-.6zM180.2,452.6h.6v.6h-.6zM199.3,456.0h.6v.6h-.6zM168.5,449.3h.6v.6h-.6zM193.7,421.3h.6v.6h-.6zM188.6,438.4h.6v.6h-.6zM193.3,421.3h.6v.6h-.6zM169.4,441.4h.6v.6h-.6zM187.4,454.0h.6v.6h-.6zM167.1,447.2h.6v.6h-.6zM169.0,442.8h.6v.6h-.6zM166.5,448.4h.6v.6h-.6zM176.5,455.0h.6v.6h-.6zM201.0,456.1h.6v.6h-.6zM174.7,453.3h.6v.6h-.6zM176.1,455.1h.6v.6h-.6zM199.7,456.0h.6v.6h-.6zM200.2,454.7h.6v.6h-.6zM185.6,453.9h.6v.6h-.6zM189.1,433.1h.6v.6h-.6zM189.2,436.4h.6v.6h-.6zM182.1,454.8h.6v.6h-.6zM205.6,440.8h.6v.6h-.6zM171.1,441.5h.6v.6h-.6zM175.5,454.1h.6v.6h-.6zM198.5,455.7h.6v.6h-.6zM190.4,429.1h.6v.6h-.6zM204.9,440.9h.6v.6h-.6zM202.7,426.2h.6v.6h-.6zM180.2,438.5h.6v.6h-.6zM203.2,449.1h.6v.6h-.6zM168.3,444.0h.6v.6h-.6zM170.2,452.6h.6v.6h-.6zM185.3,453.4h.6v.6h-.6zM176.7,440.2h.6v.6h-.6zM206.4,438.0h.6v.6h-.6zM177.8,440.5h.6v.6h-.6zM184.8,437.8h.6v.6h-.6zM204.6,438.7h.6v.6h-.6zM197.2,420.5h.6v.6h-.6zM176.7,454.1h.6v.6h-.6zM191.3,454.1h.6v.6h-.6zM186.9,452.6h.6v.6h-.6zM190.4,427.4h.6v.6h-.6zM180.4,454.1h.6v.6h-.6zM203.5,427.3h.6v.6h-.6zM173.1,453.3h.6v.6h-.6zM190.9,456.9h.6v.6h-.6zM200.8,455.1h.6v.6h-.6zM192.9,422.2h.6v.6h-.6zM192.2,423.6h.6v.6h-.6zM206.7,435.5h.6v.6h-.6zM190.5,432.3h.6v.6h-.6zM189.6,435.5h.6v.6h-.6zM202.2,452.1h.6v.6h-.6zM186.0,438.4h.6v.6h-.6zM190.3,430.0h.6v.6h-.6zM172.1,439.4h.6v.6h-.6zM205.9,440.6h.6v.6h-.6zM197.8,457.7h.6v.6h-.6zM195.5,457.3h.6v.6h-.6zM201.9,423.2h.6v.6h-.6zM200.0,421.8h.6v.6h-.6zM202.6,454.1h.6v.6h-.6zM168.2,451.8h.6v.6h-.6zM168.9,441.9h.6v.6h-.6zM177.4,439.4h.6v.6h-.6zM191.4,455.3h.6v.6h-.6zM202.8,424.8h.6v.6h-.6zM196.3,419.8h.6v.6h-.6zM190.0,435.5h.6v.6h-.6zM205.3,450.0h.6v.6h-.6zM167.4,442.9h.6v.6h-.6zM205.7,436.7h.6v.6h-.6zM169.0,442.6h.6v.6h-.6zM204.9,433.1h.6v.6h-.6zM167.6,446.1h.6v.6h-.6zM181.6,454.5h.6v.6h-.6zM172.5,453.4h.6v.6h-.6zM174.0,438.5h.6v.6h-.6zM192.7,422.7h.6v.6h-.6zM176.0,453.0h.6v.6h-.6zM167.5,445.0h.6v.6h-.6zM201.1,455.9h.6v.6h-.6zM195.8,420.4h.6v.6h-.6zM190.5,422.3h.6v.6h-.6zM191.0,425.9h.6v.6h-.6zM205.5,433.1h.6v.6h-.6zM190.7,453.9h.6v.6h-.6zM168.0,450.5h.6v.6h-.6zM180.8,453.6h.6v.6h-.6zM185.8,438.2h.6v.6h-.6zM175.2,454.9h.6v.6h-.6zM186.3,437.8h.6v.6h-.6zM188.8,452.7h.6v.6h-.6zM198.9,420.6h.6v.6h-.6zM176.9,455.0h.6v.6h-.6zM190.2,427.3h.6v.6h-.6zM173.4,441.2h.6v.6h-.6zM203.8,430.7h.6v.6h-.6zM188.2,437.4h.6v.6h-.6zM175.6,453.9h.6v.6h-.6zM200.0,420.4h.6v.6h-.6zM169.8,440.7h.6v.6h-.6zM191.1,423.9h.6v.6h-.6zM205.5,431.3h.6v.6h-.6zM190.7,427.6h.6v.6h-.6zM184.2,452.1h.6v.6h-.6zM200.5,420.7h.6v.6h-.6zM182.5,452.1h.6v.6h-.6zM207.3,426.7h.6v.6h-.6zM205.7,437.3h.6v.6h-.6zM188.8,451.5h.6v.6h-.6zM186.4,452.6h.6v.6h-.6zM186.3,451.1h.6v.6h-.6zM165.0,447.2h.6v.6h-.6zM188.0,437.5h.6v.6h-.6zM181.7,438.3h.6v.6h-.6zM185.1,453.0h.6v.6h-.6zM205.6,442.8h.6v.6h-.6zM166.8,447.4h.6v.6h-.6zM192.3,423.7h.6v.6h-.6zM167.5,446.2h.6v.6h-.6zM206.4,442.4h.6v.6h-.6zM206.6,447.1h.6v.6h-.6zM186.9,437.7h.6v.6h-.6zM179.9,453.0h.6v.6h-.6zM175.9,437.6h.6v.6h-.6zM205.8,449.2h.6v.6h-.6zM205.6,435.3h.6v.6h-.6zM187.6,435.9h.6v.6h-.6zM169.6,451.2h.6v.6h-.6zM204.2,448.9h.6v.6h-.6zM205.0,439.0h.6v.6h-.6zM169.4,451.4h.6v.6h-.6zM182.6,437.2h.6v.6h-.6zM204.2,431.8h.6v.6h-.6zM168.5,449.0h.6v.6h-.6zM206.1,435.3h.6v.6h-.6zM168.7,441.1h.6v.6h-.6zM202.5,454.9h.6v.6h-.6zM183.1,439.2h.6v.6h-.6zM192.8,422.0h.6v.6h-.6zM180.5,454.6h.6v.6h-.6zM170.0,443.6h.6v.6h-.6zM199.7,419.2h.6v.6h-.6zM203.7,425.6h.6v.6h-.6zM181.1,437.9h.6v.6h-.6zM191.4,424.3h.6v.6h-.6zM191.4,426.8h.6v.6h-.6zM171.2,454.8h.6v.6h-.6zM194.4,421.8h.6v.6h-.6zM184.4,438.7h.6v.6h-.6zM191.8,423.1h.6v.6h-.6zM190.5,424.5h.6v.6h-.6zM190.9,427.2h.6v.6h-.6zM180.2,439.3h.6v.6h-.6zM196.3,455.9h.6v.6h-.6zM166.0,450.5h.6v.6h-.6zM183.2,439.6h.6v.6h-.6zM168.7,449.7h.6v.6h-.6zM169.0,449.7h.6v.6h-.6zM192.8,421.3h.6v.6h-.6zM168.9,443.8h.6v.6h-.6zM186.5,452.2h.6v.6h-.6zM171.1,453.9h.6v.6h-.6zM203.8,452.6h.6v.6h-.6zM202.9,449.2h.6v.6h-.6zM174.3,453.4h.6v.6h-.6zM188.6,436.8h.6v.6h-.6zM178.1,453.1h.6v.6h-.6zM205.6,439.6h.6v.6h-.6zM204.2,431.6h.6v.6h-.6zM167.4,449.9h.6v.6h-.6zM188.7,452.4h.6v.6h-.6zM190.9,455.9h.6v.6h-.6zM204.3,441.8h.6v.6h-.6zM189.1,431.8h.6v.6h-.6zM167.7,450.7h.6v.6h-.6zM204.6,448.0h.6v.6h-.6zM198.2,456.9h.6v.6h-.6zM190.2,430.2h.6v.6h-.6zM178.8,439.0h.6v.6h-.6zM190.5,426.2h.6v.6h-.6zM204.5,447.3h.6v.6h-.6zM205.0,447.9h.6v.6h-.6zM181.4,438.0h.6v.6h-.6zM188.5,426.6h.6v.6h-.6zM181.6,436.1h.6v.6h-.6zM198.8,456.3h.6v.6h-.6zM200.2,419.8h.6v.6h-.6zM188.6,452.7h.6v.6h-.6zM194.4,457.8h.6v.6h-.6zM189.2,427.4h.6v.6h-.6zM186.2,451.8h.6v.6h-.6zM189.2,429.1h.6v.6h-.6zM204.8,446.7h.6v.6h-.6zM205.1,442.9h.6v.6h-.6zM205.8,436.4h.6v.6h-.6zM188.9,436.0h.6v.6h-.6zM200.9,421.1h.6v.6h-.6zM206.8,442.4h.6v.6h-.6zM172.0,440.7h.6v.6h-.6zM188.3,452.0h.6v.6h-.6zM189.6,437.0h.6v.6h-.6zM201.5,424.3h.6v.6h-.6zM190.6,454.4h.6v.6h-.6zM172.5,440.0h.6v.6h-.6zM168.6,451.6h.6v.6h-.6zM203.4,430.2h.6v.6h-.6zM172.3,440.9h.6v.6h-.6zM183.7,452.6h.6v.6h-.6zM203.3,425.6h.6v.6h-.6zM193.0,421.8h.6v.6h-.6zM168.4,442.9h.6v.6h-.6zM172.4,454.2h.6v.6h-.6zM204.1,424.7h.6v.6h-.6zM181.3,439.0h.6v.6h-.6zM205.6,432.8h.6v.6h-.6zM204.4,428.7h.6v.6h-.6zM188.6,435.1h.6v.6h-.6zM199.0,420.4h.6v.6h-.6zM167.3,444.7h.6v.6h-.6zM189.7,428.6h.6v.6h-.6zM184.7,451.5h.6v.6h-.6zM205.0,446.7h.6v.6h-.6zM202.5,453.5h.6v.6h-.6zM187.7,452.8h.6v.6h-.6zM186.8,438.0h.6v.6h-.6zM189.8,435.8h.6v.6h-.6zM181.3,438.5h.6v.6h-.6zM205.0,433.7h.6v.6h-.6zM188.5,426.2h.6v.6h-.6zM187.6,452.4h.6v.6h-.6zM180.6,439.9h.6v.6h-.6zM201.2,454.2h.6v.6h-.6zM201.8,453.2h.6v.6h-.6zM188.0,453.4h.6v.6h-.6zM175.6,455.9h.6v.6h-.6zM190.6,430.5h.6v.6h-.6zM203.1,450.5h.6v.6h-.6zM204.9,429.9h.6v.6h-.6zM188.5,434.2h.6v.6h-.6zM192.2,423.0h.6v.6h-.6zM187.1,432.3h.6v.6h-.6zM190.2,431.6h.6v.6h-.6zM169.4,451.9h.6v.6h-.6zM199.0,456.0h.6v.6h-.6zM175.3,439.5h.6v.6h-.6zM189.2,438.6h.6v.6h-.6zM204.7,439.4h.6v.6h-.6zM205.8,442.5h.6v.6h-.6zM189.6,429.6h.6v.6h-.6zM203.7,427.8h.6v.6h-.6zM175.2,438.5h.6v.6h-.6zM206.6,452.2h.6v.6h-.6zM186.4,438.3h.6v.6h-.6zM188.4,437.1h.6v.6h-.6zM205.8,435.6h.6v.6h-.6zM200.3,454.3h.6v.6h-.6zM195.9,457.5h.6v.6h-.6zM202.9,451.7h.6v.6h-.6zM184.1,436.1h.6v.6h-.6zM192.3,423.2h.6v.6h-.6zM172.0,454.1h.6v.6h-.6zM173.4,454.0h.6v.6h-.6zM204.8,439.3h.6v.6h-.6zM189.0,438.6h.6v.6h-.6zM199.5,458.4h.6v.6h-.6zM201.6,454.0h.6v.6h-.6zM204.7,445.4h.6v.6h-.6zM204.1,445.2h.6v.6h-.6zM186.7,451.7h.6v.6h-.6zM180.6,439.1h.6v.6h-.6zM204.6,431.1h.6v.6h-.6zM192.5,425.5h.6v.6h-.6zM189.9,433.1h.6v.6h-.6zM204.8,431.4h.6v.6h-.6zM204.3,441.7h.6v.6h-.6zM174.5,439.4h.6v.6h-.6zM184.4,453.6h.6v.6h-.6zM192.0,423.8h.6v.6h-.6zM188.4,431.5h.6v.6h-.6zM195.7,420.3h.6v.6h-.6zM186.0,437.9h.6v.6h-.6zM166.9,448.1h.6v.6h-.6zM178.2,436.3h.6v.6h-.6zM168.7,442.1h.6v.6h-.6zM200.3,456.8h.6v.6h-.6zM181.8,438.7h.6v.6h-.6zM205.2,433.3h.6v.6h-.6zM203.2,454.1h.6v.6h-.6zM188.3,438.5h.6v.6h-.6zM205.7,441.2h.6v.6h-.6zM198.4,456.3h.6v.6h-.6zM186.2,452.4h.6v.6h-.6zM165.5,445.9h.6v.6h-.6zM188.5,438.6h.6v.6h-.6zM166.7,447.1h.6v.6h-.6zM169.0,449.5h.6v.6h-.6zM167.8,444.9h.6v.6h-.6zM184.5,452.9h.6v.6h-.6zM166.4,440.0h.6v.6h-.6zM206.1,439.4h.6v.6h-.6zM187.0,435.7h.6v.6h-.6zM200.2,456.3h.6v.6h-.6zM206.0,436.8h.6v.6h-.6zM189.0,453.8h.6v.6h-.6zM179.2,438.6h.6v.6h-.6zM195.4,457.6h.6v.6h-.6zM205.0,450.6h.6v.6h-.6zM188.5,434.4h.6v.6h-.6zM189.3,432.5h.6v.6h-.6zM204.6,439.1h.6v.6h-.6zM189.8,429.0h.6v.6h-.6zM174.2,453.8h.6v.6h-.6zM183.3,452.3h.6v.6h-.6zM189.4,435.9h.6v.6h-.6zM205.3,436.7h.6v.6h-.6zM187.2,432.8h.6v.6h-.6zM189.2,435.4h.6v.6h-.6zM190.5,456.9h.6v.6h-.6zM198.3,456.8h.6v.6h-.6zM192.5,458.8h.6v.6h-.6zM205.9,444.9h.6v.6h-.6zM190.0,424.4h.6v.6h-.6zM192.2,422.5h.6v.6h-.6zM206.3,446.7h.6v.6h-.6zM181.9,453.1h.6v.6h-.6zM171.1,454.1h.6v.6h-.6zM188.3,428.6h.6v.6h-.6zM202.3,418.8h.6v.6h-.6zM191.3,431.3h.6v.6h-.6zM205.3,425.5h.6v.6h-.6zM176.4,440.5h.6v.6h-.6zM204.4,430.3h.6v.6h-.6zM202.0,425.7h.6v.6h-.6zM204.1,438.0h.6v.6h-.6zM177.7,456.5h.6v.6h-.6zM206.5,434.7h.6v.6h-.6zM177.5,438.9h.6v.6h-.6zM201.9,452.9h.6v.6h-.6zM173.6,455.2h.6v.6h-.6zM204.2,430.4h.6v.6h-.6zM189.3,425.8h.6v.6h-.6zM201.3,454.4h.6v.6h-.6zM190.9,432.1h.6v.6h-.6zM187.5,451.7h.6v.6h-.6zM205.4,432.1h.6v.6h-.6zM168.9,450.0h.6v.6h-.6zM184.2,453.6h.6v.6h-.6zM192.1,423.9h.6v.6h-.6zM187.8,433.7h.6v.6h-.6zM187.9,454.0h.6v.6h-.6zM188.2,439.2h.6v.6h-.6zM205.5,449.3h.6v.6h-.6zM167.8,448.0h.6v.6h-.6zM182.3,452.5h.6v.6h-.6zM187.2,437.6h.6v.6h-.6zM205.8,442.6h.6v.6h-.6zM205.9,435.1h.6v.6h-.6zM168.4,450.0h.6v.6h-.6zM189.0,452.3h.6v.6h-.6zM169.1,450.8h.6v.6h-.6zM202.7,451.1h.6v.6h-.6zM189.7,425.3h.6v.6h-.6zM184.5,454.5h.6v.6h-.6zM176.5,439.2h.6v.6h-.6zM174.3,453.4h.6v.6h-.6zM197.8,421.4h.6v.6h-.6zM188.9,426.4h.6v.6h-.6zM184.3,452.9h.6v.6h-.6zM188.4,454.1h.6v.6h-.6zM190.3,430.9h.6v.6h-.6zM199.4,420.9h.6v.6h-.6zM187.9,428.6h.6v.6h-.6zM205.0,434.0h.6v.6h-.6zM167.2,445.5h.6v.6h-.6zM187.6,424.3h.6v.6h-.6zM169.4,442.4h.6v.6h-.6zM204.8,448.8h.6v.6h-.6zM196.3,457.6h.6v.6h-.6zM182.1,439.4h.6v.6h-.6zM179.9,439.1h.6v.6h-.6zM183.2,438.3h.6v.6h-.6zM205.8,440.8h.6v.6h-.6zM166.3,447.3h.6v.6h-.6zM173.3,454.4h.6v.6h-.6zM205.4,444.1h.6v.6h-.6zM189.8,453.9h.6v.6h-.6zM168.2,450.4h.6v.6h-.6zM196.8,419.2h.6v.6h-.6zM191.7,424.7h.6v.6h-.6zM169.9,440.2h.6v.6h-.6zM172.0,455.2h.6v.6h-.6zM202.6,420.4h.6v.6h-.6zM189.7,451.9h.6v.6h-.6zM169.8,450.1h.6v.6h-.6zM191.2,427.2h.6v.6h-.6zM200.2,456.0h.6v.6h-.6zM171.8,453.3h.6v.6h-.6zM206.3,430.3h.6v.6h-.6zM204.0,451.3h.6v.6h-.6zM189.1,436.8h.6v.6h-.6zM171.2,440.4h.6v.6h-.6zM201.0,421.1h.6v.6h-.6zM194.6,420.6h.6v.6h-.6zM178.4,438.9h.6v.6h-.6zM181.5,439.3h.6v.6h-.6zM187.4,438.3h.6v.6h-.6zM174.6,454.2h.6v.6h-.6zM179.8,455.0h.6v.6h-.6zM172.3,452.3h.6v.6h-.6zM190.2,433.4h.6v.6h-.6zM204.8,438.0h.6v.6h-.6zM166.4,448.3h.6v.6h-.6zM187.4,454.7h.6v.6h-.6zM201.1,421.4h.6v.6h-.6zM202.1,422.4h.6v.6h-.6zM187.2,435.7h.6v.6h-.6zM204.5,444.7h.6v.6h-.6zM202.0,424.8h.6v.6h-.6zM173.0,438.9h.6v.6h-.6zM196.3,458.5h.6v.6h-.6zM205.7,424.5h.6v.6h-.6zM205.5,444.7h.6v.6h-.6zM203.4,451.0h.6v.6h-.6zM187.1,432.7h.6v.6h-.6zM199.0,420.6h.6v.6h-.6zM185.2,454.6h.6v.6h-.6zM181.1,453.1h.6v.6h-.6zM185.4,437.7h.6v.6h-.6zM187.7,437.8h.6v.6h-.6zM176.3,455.8h.6v.6h-.6zM206.1,439.2h.6v.6h-.6zM200.6,422.0h.6v.6h-.6zM203.4,426.2h.6v.6h-.6zM189.6,452.7h.6v.6h-.6zM188.3,437.4h.6v.6h-.6zM168.7,449.1h.6v.6h-.6zM205.9,445.1h.6v.6h-.6zM170.1,440.1h.6v.6h-.6zM202.9,452.4h.6v.6h-.6zM197.4,419.9h.6v.6h-.6zM203.9,428.8h.6v.6h-.6zM203.2,425.5h.6v.6h-.6zM176.4,454.5h.6v.6h-.6zM174.8,439.3h.6v.6h-.6zM193.0,455.5h.6v.6h-.6zM189.1,454.7h.6v.6h-.6zM200.3,455.9h.6v.6h-.6zM191.4,424.5h.6v.6h-.6zM187.8,451.4h.6v.6h-.6zM197.0,419.3h.6v.6h-.6zM172.3,452.6h.6v.6h-.6zM189.0,437.3h.6v.6h-.6zM167.7,443.0h.6v.6h-.6zM180.6,438.5h.6v.6h-.6zM201.5,453.2h.6v.6h-.6zM175.9,439.7h.6v.6h-.6zM176.4,439.5h.6v.6h-.6zM204.2,437.7h.6v.6h-.6zM205.1,424.9h.6v.6h-.6zM200.8,422.7h.6v.6h-.6zM195.8,420.3h.6v.6h-.6zM202.6,425.1h.6v.6h-.6zM172.0,439.8h.6v.6h-.6zM189.2,452.9h.6v.6h-.6zM203.9,447.5h.6v.6h-.6zM176.8,439.1h.6v.6h-.6zM166.9,446.8h.6v.6h-.6zM205.5,436.8h.6v.6h-.6zM204.1,436.0h.6v.6h-.6zM170.9,452.8h.6v.6h-.6zM179.0,453.8h.6v.6h-.6zM204.0,447.9h.6v.6h-.6zM189.0,432.2h.6v.6h-.6zM167.7,442.8h.6v.6h-.6zM199.2,420.1h.6v.6h-.6zM180.0,453.1h.6v.6h-.6zM189.9,430.2h.6v.6h-.6zM173.2,439.3h.6v.6h-.6zM203.3,450.2h.6v.6h-.6zM179.2,437.9h.6v.6h-.6zM205.1,450.8h.6v.6h-.6zM197.1,458.4h.6v.6h-.6zM203.4,427.3h.6v.6h-.6zM166.8,447.4h.6v.6h-.6zM195.3,419.3h.6v.6h-.6zM177.1,438.6h.6v.6h-.6zM200.3,421.6h.6v.6h-.6zM168.7,442.4h.6v.6h-.6zM185.9,426.3h.6v.6h-.6zM206.2,443.3h.6v.6h-.6zM205.4,447.7h.6v.6h-.6zM189.4,430.6h.6v.6h-.6zM199.9,457.7h.6v.6h-.6zM186.5,453.8h.6v.6h-.6zM205.7,446.7h.6v.6h-.6zM175.6,439.5h.6v.6h-.6zM204.0,430.5h.6v.6h-.6zM166.9,445.0h.6v.6h-.6zM203.2,450.8h.6v.6h-.6zM189.4,434.6h.6v.6h-.6zM206.3,435.1h.6v.6h-.6zM199.8,456.1h.6v.6h-.6zM190.2,453.4h.6v.6h-.6zM189.6,431.5h.6v.6h-.6zM194.9,458.2h.6v.6h-.6zM207.3,440.9h.6v.6h-.6zM177.6,454.2h.6v.6h-.6zM173.6,439.6h.6v.6h-.6zM196.0,420.4h.6v.6h-.6zM178.8,455.4h.6v.6h-.6zM183.4,439.0h.6v.6h-.6zM188.7,455.2h.6v.6h-.6zM206.7,450.8h.6v.6h-.6zM192.4,423.6h.6v.6h-.6zM205.3,432.2h.6v.6h-.6zM193.4,421.0h.6v.6h-.6zM167.6,441.3h.6v.6h-.6zM192.1,422.8h.6v.6h-.6zM192.4,455.7h.6v.6h-.6zM206.3,438.0h.6v.6h-.6zM204.8,446.5h.6v.6h-.6zM204.9,433.9h.6v.6h-.6zM203.3,450.0h.6v.6h-.6zM204.0,452.1h.6v.6h-.6zM200.6,454.5h.6v.6h-.6zM198.2,456.9h.6v.6h-.6zM204.2,430.6h.6v.6h-.6zM200.3,419.7h.6v.6h-.6zM204.3,424.8h.6v.6h-.6zM171.1,453.8h.6v.6h-.6zM203.2,452.2h.6v.6h-.6zM203.1,422.5h.6v.6h-.6zM206.4,441.8h.6v.6h-.6zM192.3,423.5h.6v.6h-.6zM201.4,454.6h.6v.6h-.6zM169.4,451.7h.6v.6h-.6zM176.8,438.2h.6v.6h-.6zM203.4,449.7h.6v.6h-.6zM207.1,445.3h.6v.6h-.6zM205.4,430.5h.6v.6h-.6zM208.5,438.6h.6v.6h-.6zM206.6,427.8h.6v.6h-.6zM167.0,446.4h.6v.6h-.6zM205.8,435.0h.6v.6h-.6zM167.9,451.4h.6v.6h-.6zM166.3,446.2h.6v.6h-.6zM167.0,451.1h.6v.6h-.6zM177.4,439.9h.6v.6h-.6zM189.6,427.3h.6v.6h-.6zM204.6,447.4h.6v.6h-.6zM191.2,429.2h.6v.6h-.6zM187.1,452.7h.6v.6h-.6zM202.0,452.7h.6v.6h-.6zM202.4,455.5h.6v.6h-.6zM191.0,428.4h.6v.6h-.6zM177.9,455.3h.6v.6h-.6zM205.1,442.5h.6v.6h-.6zM197.2,419.5h.6v.6h-.6zM173.1,454.5h.6v.6h-.6zM200.1,455.5h.6v.6h-.6zM184.6,452.2h.6v.6h-.6zM201.3,451.6h.6v.6h-.6zM195.4,455.8h.6v.6h-.6zM204.4,430.2h.6v.6h-.6zM202.2,423.8h.6v.6h-.6zM201.2,420.6h.6v.6h-.6zM190.9,427.8h.6v.6h-.6zM204.7,444.0h.6v.6h-.6zM177.2,454.4h.6v.6h-.6zM205.7,441.1h.6v.6h-.6zM204.3,440.8h.6v.6h-.6zM185.4,453.1h.6v.6h-.6zM185.0,438.0h.6v.6h-.6zM168.1,452.5h.6v.6h-.6zM202.3,451.8h.6v.6h-.6zM185.7,438.1h.6v.6h-.6zM175.7,438.8h.6v.6h-.6zM169.8,440.1h.6v.6h-.6zM207.4,444.3h.6v.6h-.6zM172.5,454.3h.6v.6h-.6zM188.3,434.5h.6v.6h-.6zM168.4,441.7h.6v.6h-.6zM188.8,425.7h.6v.6h-.6zM169.1,441.1h.6v.6h-.6zM206.7,439.9h.6v.6h-.6zM174.1,440.8h.6v.6h-.6zM182.1,454.3h.6v.6h-.6zM168.0,446.8h.6v.6h-.6zM206.1,440.5h.6v.6h-.6zM206.5,446.4h.6v.6h-.6zM203.9,428.4h.6v.6h-.6zM181.7,454.1h.6v.6h-.6zM196.6,456.1h.6v.6h-.6zM189.2,454.1h.6v.6h-.6zM204.4,438.3h.6v.6h-.6zM204.5,451.8h.6v.6h-.6zM182.2,452.8h.6v.6h-.6zM187.4,426.5h.6v.6h-.6zM188.1,430.7h.6v.6h-.6zM189.1,430.0h.6v.6h-.6zM196.0,456.6h.6v.6h-.6zM207.2,437.0h.6v.6h-.6zM170.5,440.4h.6v.6h-.6zM186.5,438.5h.6v.6h-.6zM189.5,428.3h.6v.6h-.6zM189.6,433.8h.6v.6h-.6zM188.0,436.2h.6v.6h-.6zM203.8,426.1h.6v.6h-.6zM206.0,440.2h.6v.6h-.6zM188.9,435.3h.6v.6h-.6zM170.5,453.8h.6v.6h-.6zM189.7,429.2h.6v.6h-.6zM176.6,453.0h.6v.6h-.6zM189.1,437.9h.6v.6h-.6zM182.4,437.8h.6v.6h-.6zM180.6,454.3h.6v.6h-.6zM186.4,452.4h.6v.6h-.6zM178.3,439.7h.6v.6h-.6zM170.3,451.5h.6v.6h-.6zM203.9,425.3h.6v.6h-.6zM204.7,427.1h.6v.6h-.6zM195.2,420.8h.6v.6h-.6zM191.2,426.1h.6v.6h-.6zM169.1,443.6h.6v.6h-.6zM205.4,446.3h.6v.6h-.6zM167.3,448.1h.6v.6h-.6zM204.4,446.4h.6v.6h-.6zM176.0,455.9h.6v.6h-.6zM205.0,434.0h.6v.6h-.6zM205.8,443.8h.6v.6h-.6zM179.1,440.1h.6v.6h-.6zM187.3,451.8h.6v.6h-.6zM204.7,427.5h.6v.6h-.6zM199.1,421.0h.6v.6h-.6zM205.2,444.4h.6v.6h-.6zM204.4,447.3h.6v.6h-.6zM181.5,455.1h.6v.6h-.6zM173.3,452.7h.6v.6h-.6zM205.0,429.6h.6v.6h-.6zM189.9,426.6h.6v.6h-.6zM190.9,435.5h.6v.6h-.6zM206.5,441.5h.6v.6h-.6zM166.8,448.3h.6v.6h-.6zM191.9,423.4h.6v.6h-.6zM197.5,459.6h.6v.6h-.6zM190.6,433.9h.6v.6h-.6zM189.4,432.8h.6v.6h-.6zM198.8,421.1h.6v.6h-.6zM205.4,437.3h.6v.6h-.6zM176.0,453.4h.6v.6h-.6zM189.7,453.3h.6v.6h-.6zM165.8,447.4h.6v.6h-.6zM197.0,457.9h.6v.6h-.6zM204.6,432.7h.6v.6h-.6zM206.0,429.7h.6v.6h-.6zM205.1,435.3h.6v.6h-.6zM205.5,442.1h.6v.6h-.6zM203.3,427.9h.6v.6h-.6zM181.3,452.7h.6v.6h-.6zM193.7,421.4h.6v.6h-.6zM193.3,457.8h.6v.6h-.6zM197.5,457.4h.6v.6h-.6zM204.4,437.6h.6v.6h-.6zM168.7,451.7h.6v.6h-.6zM204.8,432.9h.6v.6h-.6zM191.6,455.9h.6v.6h-.6zM198.2,457.2h.6v.6h-.6zM190.7,454.7h.6v.6h-.6zM189.1,454.5h.6v.6h-.6zM204.2,423.5h.6v.6h-.6zM205.7,445.3h.6v.6h-.6zM205.2,442.3h.6v.6h-.6zM187.4,451.6h.6v.6h-.6zM200.8,422.1h.6v.6h-.6zM172.7,454.7h.6v.6h-.6zM206.1,436.2h.6v.6h-.6zM191.0,420.6h.6v.6h-.6zM206.8,438.1h.6v.6h-.6zM204.7,442.7h.6v.6h-.6zM190.8,426.7h.6v.6h-.6zM204.3,423.7h.6v.6h-.6zM178.0,438.9h.6v.6h-.6zM200.8,422.3h.6v.6h-.6zM204.1,428.7h.6v.6h-.6zM167.4,443.4h.6v.6h-.6zM196.3,417.8h.6v.6h-.6zM205.2,443.1h.6v.6h-.6zM205.7,439.2h.6v.6h-.6zM204.0,431.8h.6v.6h-.6zM203.3,428.4h.6v.6h-.6zM174.4,437.9h.6v.6h-.6zM167.0,448.3h.6v.6h-.6zM172.2,454.1h.6v.6h-.6zM202.7,453.2h.6v.6h-.6zM194.5,458.7h.6v.6h-.6zM201.8,454.0h.6v.6h-.6zM173.0,454.3h.6v.6h-.6zM205.6,445.6h.6v.6h-.6zM182.5,439.4h.6v.6h-.6zM203.3,453.0h.6v.6h-.6zM202.7,423.7h.6v.6h-.6zM170.1,454.3h.6v.6h-.6zM190.0,435.7h.6v.6h-.6zM203.8,449.7h.6v.6h-.6zM201.5,420.7h.6v.6h-.6zM190.3,427.9h.6v.6h-.6zM205.5,443.5h.6v.6h-.6zM173.3,453.0h.6v.6h-.6zM191.2,421.1h.6v.6h-.6zM190.3,433.6h.6v.6h-.6zM189.3,432.9h.6v.6h-.6zM173.8,439.3h.6v.6h-.6zM197.5,419.5h.6v.6h-.6zM196.8,419.0h.6v.6h-.6zM177.0,454.5h.6v.6h-.6zM180.3,438.8h.6v.6h-.6zM195.4,457.9h.6v.6h-.6zM183.5,452.1h.6v.6h-.6zM206.8,431.1h.6v.6h-.6zM186.2,453.2h.6v.6h-.6zM191.1,423.3h.6v.6h-.6zM190.5,456.3h.6v.6h-.6zM170.7,438.4h.6v.6h-.6zM187.6,425.4h.6v.6h-.6zM190.0,434.9h.6v.6h-.6zM202.3,454.4h.6v.6h-.6zM204.7,434.3h.6v.6h-.6zM166.4,446.6h.6v.6h-.6zM184.4,453.7h.6v.6h-.6zM194.9,421.2h.6v.6h-.6zM201.6,454.5h.6v.6h-.6zM190.4,428.2h.6v.6h-.6zM181.1,453.5h.6v.6h-.6zM203.3,454.5h.6v.6h-.6zM205.3,435.3h.6v.6h-.6zM205.7,440.2h.6v.6h-.6zM204.6,432.6h.6v.6h-.6zM190.1,426.6h.6v.6h-.6zM199.6,456.9h.6v.6h-.6zM202.7,452.3h.6v.6h-.6zM203.2,423.9h.6v.6h-.6zM177.1,455.2h.6v.6h-.6zM182.4,435.8h.6v.6h-.6zM170.8,454.3h.6v.6h-.6zM206.0,445.5h.6v.6h-.6zM198.5,456.3h.6v.6h-.6zM189.8,435.0h.6v.6h-.6zM199.9,422.1h.6v.6h-.6zM178.4,439.8h.6v.6h-.6zM205.8,434.1h.6v.6h-.6zM203.9,425.2h.6v.6h-.6zM188.8,438.3h.6v.6h-.6zM189.3,428.9h.6v.6h-.6zM205.1,430.6h.6v.6h-.6zM176.0,455.0h.6v.6h-.6zM205.3,440.1h.6v.6h-.6zM183.1,453.3h.6v.6h-.6zM183.4,453.8h.6v.6h-.6zM205.0,443.0h.6v.6h-.6zM178.2,453.8h.6v.6h-.6zM202.8,450.7h.6v.6h-.6zM196.0,419.6h.6v.6h-.6zM205.6,443.0h.6v.6h-.6zM170.0,442.6h.6v.6h-.6zM180.1,454.2h.6v.6h-.6zM201.7,454.1h.6v.6h-.6zM185.2,437.9h.6v.6h-.6zM189.7,432.1h.6v.6h-.6zM172.4,454.2h.6v.6h-.6zM193.1,457.1h.6v.6h-.6zM193.5,457.0h.6v.6h-.6zM195.1,457.0h.6v.6h-.6zM190.0,429.4h.6v.6h-.6zM167.4,446.1h.6v.6h-.6zM186.6,453.5h.6v.6h-.6zM184.1,439.3h.6v.6h-.6zM189.3,429.4h.6v.6h-.6zM203.1,428.0h.6v.6h-.6zM176.7,456.6h.6v.6h-.6zM194.9,455.9h.6v.6h-.6zM172.3,440.7h.6v.6h-.6zM176.4,439.2h.6v.6h-.6zM202.2,423.0h.6v.6h-.6zM206.5,443.1h.6v.6h-.6zM205.5,435.1h.6v.6h-.6zM196.6,418.3h.6v.6h-.6zM188.3,436.7h.6v.6h-.6zM171.6,454.8h.6v.6h-.6zM188.8,426.3h.6v.6h-.6zM192.8,420.3h.6v.6h-.6zM168.5,447.2h.6v.6h-.6zM200.1,455.0h.6v.6h-.6zM206.2,433.8h.6v.6h-.6zM192.2,458.3h.6v.6h-.6zM193.0,420.6h.6v.6h-.6zM205.8,443.3h.6v.6h-.6zM169.2,442.6h.6v.6h-.6zM167.2,448.1h.6v.6h-.6zM203.6,453.7h.6v.6h-.6zM187.2,439.2h.6v.6h-.6zM189.5,452.8h.6v.6h-.6zM205.7,441.0h.6v.6h-.6zM169.2,443.9h.6v.6h-.6zM184.5,438.8h.6v.6h-.6zM205.5,444.8h.6v.6h-.6zM169.8,454.3h.6v.6h-.6zM185.6,438.7h.6v.6h-.6zM195.6,455.5h.6v.6h-.6zM203.6,447.2h.6v.6h-.6zM189.3,432.5h.6v.6h-.6zM189.3,453.7h.6v.6h-.6zM183.0,439.3h.6v.6h-.6zM193.0,422.4h.6v.6h-.6zM190.0,433.8h.6v.6h-.6zM187.9,436.8h.6v.6h-.6zM185.3,438.3h.6v.6h-.6zM177.3,453.6h.6v.6h-.6zM198.8,456.9h.6v.6h-.6zM203.6,429.0h.6v.6h-.6zM167.3,441.2h.6v.6h-.6zM190.6,430.2h.6v.6h-.6zM177.1,453.3h.6v.6h-.6zM168.9,450.3h.6v.6h-.6zM170.1,442.4h.6v.6h-.6zM205.1,444.5h.6v.6h-.6zM204.0,435.7h.6v.6h-.6zM195.2,456.9h.6v.6h-.6zM189.6,455.2h.6v.6h-.6zM187.6,437.3h.6v.6h-.6zM170.0,440.5h.6v.6h-.6zM189.8,431.0h.6v.6h-.6zM200.1,421.6h.6v.6h-.6zM188.3,452.2h.6v.6h-.6zM188.4,438.1h.6v.6h-.6zM188.9,455.8h.6v.6h-.6zM193.6,456.9h.6v.6h-.6zM201.9,422.9h.6v.6h-.6zM205.1,433.3h.6v.6h-.6zM194.7,419.4h.6v.6h-.6zM204.0,431.4h.6v.6h-.6zM174.0,439.5h.6v.6h-.6zM203.1,452.3h.6v.6h-.6zM204.9,439.6h.6v.6h-.6zM167.5,445.8h.6v.6h-.6zM170.6,442.1h.6v.6h-.6zM172.1,440.2h.6v.6h-.6zM204.2,450.4h.6v.6h-.6zM204.5,429.7h.6v.6h-.6zM170.1,451.4h.6v.6h-.6zM188.3,437.3h.6v.6h-.6zM202.8,453.3h.6v.6h-.6zM168.2,438.7h.6v.6h-.6zM187.6,452.7h.6v.6h-.6zM205.6,437.3h.6v.6h-.6zM195.6,456.2h.6v.6h-.6zM169.5,451.2h.6v.6h-.6zM199.7,456.2h.6v.6h-.6zM179.4,438.9h.6v.6h-.6zM167.0,446.5h.6v.6h-.6zM178.6,438.5h.6v.6h-.6zM187.7,452.8h.6v.6h-.6zM174.8,454.4h.6v.6h-.6zM182.8,437.8h.6v.6h-.6zM190.6,432.3h.6v.6h-.6zM188.6,452.4h.6v.6h-.6zM202.0,451.9h.6v.6h-.6zM187.4,454.9h.6v.6h-.6zM190.1,424.9h.6v.6h-.6zM201.6,457.6h.6v.6h-.6zM168.7,442.5h.6v.6h-.6zM193.0,422.6h.6v.6h-.6zM185.7,453.4h.6v.6h-.6zM168.8,450.4h.6v.6h-.6zM203.0,454.7h.6v.6h-.6zM181.5,438.0h.6v.6h-.6zM185.6,452.6h.6v.6h-.6zM188.7,453.1h.6v.6h-.6zM169.3,441.8h.6v.6h-.6zM171.5,438.9h.6v.6h-.6zM169.3,441.1h.6v.6h-.6zM204.6,439.4h.6v.6h-.6zM205.4,431.8h.6v.6h-.6zM169.2,451.3h.6v.6h-.6zM205.3,443.9h.6v.6h-.6zM196.5,456.7h.6v.6h-.6zM175.6,438.8h.6v.6h-.6zM186.0,452.1h.6v.6h-.6zM167.5,450.8h.6v.6h-.6zM180.9,453.0h.6v.6h-.6zM177.6,453.2h.6v.6h-.6zM189.3,453.7h.6v.6h-.6zM206.5,427.7h.6v.6h-.6zM188.0,454.4h.6v.6h-.6zM170.6,452.7h.6v.6h-.6zM189.4,432.6h.6v.6h-.6zM203.8,449.2h.6v.6h-.6zM194.3,456.3h.6v.6h-.6zM175.1,455.3h.6v.6h-.6zM183.1,454.7h.6v.6h-.6zM168.2,451.9h.6v.6h-.6zM190.6,431.4h.6v.6h-.6zM205.4,434.7h.6v.6h-.6zM205.5,441.1h.6v.6h-.6zM204.7,440.2h.6v.6h-.6zM185.7,436.1h.6v.6h-.6zM195.4,419.4h.6v.6h-.6zM173.7,439.3h.6v.6h-.6zM202.9,423.9h.6v.6h-.6zM199.3,420.1h.6v.6h-.6zM185.0,438.4h.6v.6h-.6zM182.2,440.0h.6v.6h-.6zM202.5,450.8h.6v.6h-.6zM200.8,421.7h.6v.6h-.6zM190.0,431.8h.6v.6h-.6zM205.6,437.7h.6v.6h-.6zM204.4,426.7h.6v.6h-.6zM177.9,453.2h.6v.6h-.6zM174.4,456.1h.6v.6h-.6zM185.8,452.0h.6v.6h-.6zM204.8,453.4h.6v.6h-.6zM199.7,420.6h.6v.6h-.6zM204.4,433.6h.6v.6h-.6zM190.4,427.4h.6v.6h-.6zM184.5,435.9h.6v.6h-.6zM203.2,421.7h.6v.6h-.6zM195.0,420.8h.6v.6h-.6zM189.9,433.7h.6v.6h-.6zM187.9,427.3h.6v.6h-.6zM200.0,420.8h.6v.6h-.6zM189.4,433.4h.6v.6h-.6zM181.5,453.6h.6v.6h-.6zM172.2,452.5h.6v.6h-.6zM200.6,420.8h.6v.6h-.6zM191.4,453.8h.6v.6h-.6zM205.3,425.6h.6v.6h-.6zM177.1,454.4h.6v.6h-.6zM201.9,456.4h.6v.6h-.6zM190.8,428.8h.6v.6h-.6zM181.6,453.7h.6v.6h-.6zM192.2,456.1h.6v.6h-.6zM183.6,439.3h.6v.6h-.6zM171.6,440.2h.6v.6h-.6zM204.4,424.2h.6v.6h-.6zM205.7,435.6h.6v.6h-.6zM167.8,444.3h.6v.6h-.6zM206.9,445.1h.6v.6h-.6zM179.9,453.1h.6v.6h-.6zM179.3,437.8h.6v.6h-.6zM176.0,439.8h.6v.6h-.6zM166.3,444.6h.6v.6h-.6zM189.3,435.3h.6v.6h-.6zM186.1,451.9h.6v.6h-.6zM180.6,453.1h.6v.6h-.6zM174.1,438.1h.6v.6h-.6zM199.1,455.2h.6v.6h-.6zM196.3,419.8h.6v.6h-.6zM167.2,446.0h.6v.6h-.6zM177.2,436.7h.6v.6h-.6zM205.6,439.8h.6v.6h-.6zM201.1,423.2h.6v.6h-.6zM198.9,455.3h.6v.6h-.6zM191.1,429.2h.6v.6h-.6zM202.9,450.6h.6v.6h-.6zM205.7,434.6h.6v.6h-.6zM188.1,435.4h.6v.6h-.6zM200.8,419.8h.6v.6h-.6zM190.1,454.4h.6v.6h-.6zM169.5,442.8h.6v.6h-.6zM205.2,436.3h.6v.6h-.6zM183.8,453.2h.6v.6h-.6zM204.9,446.1h.6v.6h-.6zM167.8,443.3h.6v.6h-.6zM204.9,447.1h.6v.6h-.6zM201.7,421.1h.6v.6h-.6zM185.3,438.7h.6v.6h-.6zM205.0,444.7h.6v.6h-.6zM205.2,433.9h.6v.6h-.6zM190.3,430.7h.6v.6h-.6zM203.1,425.7h.6v.6h-.6zM205.3,441.0h.6v.6h-.6zM195.8,457.0h.6v.6h-.6zM168.6,441.9h.6v.6h-.6zM184.6,438.8h.6v.6h-.6zM206.0,445.2h.6v.6h-.6zM187.0,437.4h.6v.6h-.6zM189.9,430.7h.6v.6h-.6zM203.2,424.7h.6v.6h-.6zM207.0,434.1h.6v.6h-.6zM190.6,455.0h.6v.6h-.6zM190.5,430.3h.6v.6h-.6zM180.7,438.9h.6v.6h-.6zM173.6,438.8h.6v.6h-.6zM187.2,437.7h.6v.6h-.6zM203.4,449.0h.6v.6h-.6zM169.2,442.7h.6v.6h-.6zM181.9,454.5h.6v.6h-.6zM205.7,439.3h.6v.6h-.6zM176.6,440.7h.6v.6h-.6zM205.6,436.7h.6v.6h-.6zM203.5,427.7h.6v.6h-.6zM169.4,441.9h.6v.6h-.6zM187.2,438.4h.6v.6h-.6zM171.8,441.3h.6v.6h-.6zM184.3,439.2h.6v.6h-.6zM197.6,420.9h.6v.6h-.6zM169.5,442.7h.6v.6h-.6zM186.8,438.8h.6v.6h-.6zM178.1,455.0h.6v.6h-.6zM186.8,434.7h.6v.6h-.6zM203.9,449.7h.6v.6h-.6zM189.4,429.9h.6v.6h-.6zM203.8,450.8h.6v.6h-.6zM178.7,438.5h.6v.6h-.6zM203.4,450.6h.6v.6h-.6zM189.8,434.1h.6v.6h-.6zM196.3,420.7h.6v.6h-.6zM190.3,428.0h.6v.6h-.6zM176.2,440.4h.6v.6h-.6zM191.4,454.2h.6v.6h-.6zM176.4,453.4h.6v.6h-.6zM175.3,440.9h.6v.6h-.6zM191.0,454.2h.6v.6h-.6zM187.5,438.1h.6v.6h-.6zM192.6,424.2h.6v.6h-.6zM191.7,422.9h.6v.6h-.6zM201.5,420.6h.6v.6h-.6zM167.6,447.7h.6v.6h-.6zM170.8,440.8h.6v.6h-.6zM186.1,452.6h.6v.6h-.6zM167.1,445.4h.6v.6h-.6zM192.0,422.8h.6v.6h-.6zM188.0,439.0h.6v.6h-.6zM203.0,424.2h.6v.6h-.6zM187.3,438.8h.6v.6h-.6zM168.8,443.6h.6v.6h-.6zM203.8,447.5h.6v.6h-.6zM204.9,428.7h.6v.6h-.6zM180.8,453.9h.6v.6h-.6zM203.0,426.8h.6v.6h-.6zM191.9,454.8h.6v.6h-.6zM185.6,453.2h.6v.6h-.6zM178.0,436.6h.6v.6h-.6zM200.0,455.7h.6v.6h-.6zM188.3,434.0h.6v.6h-.6zM205.7,441.5h.6v.6h-.6zM167.7,448.1h.6v.6h-.6zM191.1,426.8h.6v.6h-.6zM189.2,430.9h.6v.6h-.6zM205.7,435.0h.6v.6h-.6zM191.4,422.4h.6v.6h-.6zM204.2,447.5h.6v.6h-.6zM205.4,429.4h.6v.6h-.6zM190.6,455.2h.6v.6h-.6zM187.3,438.6h.6v.6h-.6zM189.6,426.1h.6v.6h-.6zM169.2,451.4h.6v.6h-.6zM190.5,456.4h.6v.6h-.6zM205.8,430.3h.6v.6h-.6zM195.5,456.3h.6v.6h-.6zM170.6,439.9h.6v.6h-.6zM189.4,453.4h.6v.6h-.6zM178.3,438.2h.6v.6h-.6zM182.0,438.3h.6v.6h-.6zM166.9,446.5h.6v.6h-.6zM205.0,447.2h.6v.6h-.6zM200.5,456.9h.6v.6h-.6zM204.7,435.9h.6v.6h-.6zM187.9,428.2h.6v.6h-.6zM175.5,454.2h.6v.6h-.6zM205.1,442.2h.6v.6h-.6zM183.8,439.6h.6v.6h-.6zM205.0,434.8h.6v.6h-.6zM205.9,442.6h.6v.6h-.6zM204.7,438.8h.6v.6h-.6zM171.8,453.7h.6v.6h-.6zM204.5,426.4h.6v.6h-.6zM172.6,440.2h.6v.6h-.6zM189.8,429.6h.6v.6h-.6zM189.7,428.6h.6v.6h-.6zM206.6,441.7h.6v.6h-.6zM205.5,432.1h.6v.6h-.6zM176.9,454.6h.6v.6h-.6zM181.5,439.2h.6v.6h-.6zM172.6,441.3h.6v.6h-.6zM201.2,420.7h.6v.6h-.6zM199.4,456.9h.6v.6h-.6zM188.3,453.4h.6v.6h-.6zM178.6,454.8h.6v.6h-.6zM194.0,421.0h.6v.6h-.6zM191.1,424.1h.6v.6h-.6zM196.6,417.5h.6v.6h-.6zM205.8,435.9h.6v.6h-.6zM190.0,431.2h.6v.6h-.6zM207.6,431.4h.6v.6h-.6zM190.8,456.7h.6v.6h-.6zM167.4,452.3h.6v.6h-.6zM182.6,438.2h.6v.6h-.6zM182.9,455.4h.6v.6h-.6zM205.6,438.2h.6v.6h-.6zM201.6,454.4h.6v.6h-.6zM178.9,440.0h.6v.6h-.6zM188.1,438.1h.6v.6h-.6zM204.0,425.6h.6v.6h-.6zM206.5,449.6h.6v.6h-.6zM170.8,441.1h.6v.6h-.6zM178.8,439.5h.6v.6h-.6zM183.9,452.9h.6v.6h-.6zM167.2,447.8h.6v.6h-.6zM187.8,451.5h.6v.6h-.6zM204.7,430.2h.6v.6h-.6zM191.1,431.2h.6v.6h-.6zM183.1,438.3h.6v.6h-.6zM189.5,433.1h.6v.6h-.6zM204.3,450.7h.6v.6h-.6zM172.4,455.0h.6v.6h-.6zM203.9,450.4h.6v.6h-.6zM199.3,458.0h.6v.6h-.6zM204.4,432.2h.6v.6h-.6zM183.8,438.4h.6v.6h-.6zM208.2,434.2h.6v.6h-.6zM203.7,427.6h.6v.6h-.6zM190.6,428.2h.6v.6h-.6zM208.2,442.1h.6v.6h-.6zM191.3,454.0h.6v.6h-.6zM190.4,435.8h.6v.6h-.6zM167.7,446.2h.6v.6h-.6zM167.8,448.4h.6v.6h-.6zM192.1,423.2h.6v.6h-.6zM176.0,454.0h.6v.6h-.6zM177.6,440.1h.6v.6h-.6zM171.0,441.5h.6v.6h-.6zM205.6,429.1h.6v.6h-.6zM205.8,439.3h.6v.6h-.6zM170.1,450.7h.6v.6h-.6zM181.5,439.6h.6v.6h-.6zM175.5,453.5h.6v.6h-.6zM192.1,454.2h.6v.6h-.6zM187.7,452.7h.6v.6h-.6zM172.3,454.3h.6v.6h-.6zM205.3,450.1h.6v.6h-.6zM198.1,456.4h.6v.6h-.6zM204.6,431.7h.6v.6h-.6zM186.4,451.9h.6v.6h-.6zM205.5,444.4h.6v.6h-.6zM178.8,455.3h.6v.6h-.6zM198.8,455.8h.6v.6h-.6zM202.5,453.2h.6v.6h-.6zM195.3,418.7h.6v.6h-.6zM166.6,443.0h.6v.6h-.6zM204.4,448.4h.6v.6h-.6zM178.7,441.0h.6v.6h-.6zM200.3,420.5h.6v.6h-.6zM179.7,439.2h.6v.6h-.6zM192.9,423.3h.6v.6h-.6zM172.1,439.2h.6v.6h-.6zM204.1,421.5h.6v.6h-.6zM174.7,453.0h.6v.6h-.6zM187.9,436.9h.6v.6h-.6zM181.6,452.8h.6v.6h-.6zM202.8,451.9h.6v.6h-.6zM204.1,446.6h.6v.6h-.6zM179.3,439.8h.6v.6h-.6zM201.9,452.6h.6v.6h-.6zM206.1,431.9h.6v.6h-.6zM191.3,454.5h.6v.6h-.6zM186.2,452.9h.6v.6h-.6zM189.9,435.8h.6v.6h-.6zM183.8,438.9h.6v.6h-.6zM195.2,456.2h.6v.6h-.6zM190.6,431.5h.6v.6h-.6zM178.1,439.2h.6v.6h-.6zM177.6,454.9h.6v.6h-.6zM203.2,453.7h.6v.6h-.6zM172.6,453.9h.6v.6h-.6zM181.2,453.5h.6v.6h-.6zM175.0,453.7h.6v.6h-.6zM195.1,457.1h.6v.6h-.6zM188.5,436.1h.6v.6h-.6zM187.6,437.3h.6v.6h-.6zM191.8,421.2h.6v.6h-.6zM206.0,439.3h.6v.6h-.6zM189.7,431.6h.6v.6h-.6zM177.7,454.0h.6v.6h-.6zM203.8,454.1h.6v.6h-.6zM183.8,440.1h.6v.6h-.6zM188.2,452.6h.6v.6h-.6zM180.8,453.5h.6v.6h-.6zM173.3,454.4h.6v.6h-.6zM179.2,453.3h.6v.6h-.6zM183.6,453.1h.6v.6h-.6zM187.2,438.6h.6v.6h-.6zM206.5,435.6h.6v.6h-.6zM183.1,438.9h.6v.6h-.6zM204.6,433.2h.6v.6h-.6zM201.2,425.5h.6v.6h-.6zM185.4,437.7h.6v.6h-.6zM167.0,448.8h.6v.6h-.6zM173.3,454.4h.6v.6h-.6zM189.3,430.6h.6v.6h-.6zM186.9,438.4h.6v.6h-.6zM191.1,428.6h.6v.6h-.6zM176.0,455.1h.6v.6h-.6zM205.4,428.5h.6v.6h-.6zM192.8,424.0h.6v.6h-.6zM202.1,452.7h.6v.6h-.6zM167.7,446.0h.6v.6h-.6zM203.3,453.4h.6v.6h-.6zM205.3,442.0h.6v.6h-.6zM179.6,452.9h.6v.6h-.6zM192.1,422.7h.6v.6h-.6zM169.9,442.6h.6v.6h-.6zM200.1,456.0h.6v.6h-.6zM189.0,452.7h.6v.6h-.6zM170.2,442.4h.6v.6h-.6zM189.9,430.6h.6v.6h-.6zM205.3,443.1h.6v.6h-.6zM175.1,440.0h.6v.6h-.6zM205.3,441.3h.6v.6h-.6zM207.7,435.5h.6v.6h-.6zM184.1,438.0h.6v.6h-.6zM189.6,427.0h.6v.6h-.6zM176.9,456.2h.6v.6h-.6zM204.6,443.9h.6v.6h-.6zM190.2,456.0h.6v.6h-.6zM204.1,452.4h.6v.6h-.6zM189.2,430.7h.6v.6h-.6zM203.6,428.6h.6v.6h-.6zM176.5,453.8h.6v.6h-.6zM186.0,451.5h.6v.6h-.6zM165.4,445.7h.6v.6h-.6zM199.6,421.3h.6v.6h-.6zM205.8,432.7h.6v.6h-.6zM183.9,452.1h.6v.6h-.6zM205.1,429.4h.6v.6h-.6zM200.5,455.5h.6v.6h-.6zM193.1,421.5h.6v.6h-.6zM191.6,454.5h.6v.6h-.6zM204.6,427.2h.6v.6h-.6zM192.8,421.4h.6v.6h-.6zM167.3,447.7h.6v.6h-.6zM183.0,439.7h.6v.6h-.6zM185.6,439.1h.6v.6h-.6zM177.0,438.7h.6v.6h-.6zM207.7,442.5h.6v.6h-.6zM178.2,454.8h.6v.6h-.6zM203.1,452.8h.6v.6h-.6zM204.3,439.8h.6v.6h-.6zM198.2,458.0h.6v.6h-.6zM175.4,453.5h.6v.6h-.6zM171.2,455.2h.6v.6h-.6zM205.0,455.4h.6v.6h-.6zM205.2,443.2h.6v.6h-.6zM197.2,457.2h.6v.6h-.6zM203.2,452.5h.6v.6h-.6zM182.0,453.2h.6v.6h-.6zM191.5,430.8h.6v.6h-.6zM204.5,443.8h.6v.6h-.6zM185.3,439.1h.6v.6h-.6zM197.3,419.5h.6v.6h-.6zM190.4,429.0h.6v.6h-.6zM174.3,439.6h.6v.6h-.6zM201.4,454.5h.6v.6h-.6zM181.5,438.9h.6v.6h-.6zM185.6,440.2h.6v.6h-.6zM182.0,438.3h.6v.6h-.6zM190.3,425.4h.6v.6h-.6zM203.5,450.9h.6v.6h-.6zM203.5,454.7h.6v.6h-.6zM179.7,438.7h.6v.6h-.6zM196.5,419.7h.6v.6h-.6zM168.3,449.6h.6v.6h-.6zM189.7,436.8h.6v.6h-.6zM190.6,436.2h.6v.6h-.6zM168.4,441.3h.6v.6h-.6zM168.5,449.7h.6v.6h-.6zM182.9,453.0h.6v.6h-.6zM189.7,430.2h.6v.6h-.6zM188.6,452.5h.6v.6h-.6zM185.7,439.5h.6v.6h-.6zM173.4,438.4h.6v.6h-.6zM202.1,422.9h.6v.6h-.6zM195.6,420.1h.6v.6h-.6zM169.9,440.9h.6v.6h-.6zM187.5,438.7h.6v.6h-.6zM176.6,453.8h.6v.6h-.6zM167.6,447.8h.6v.6h-.6zM191.6,424.1h.6v.6h-.6zM187.8,435.2h.6v.6h-.6zM170.3,451.9h.6v.6h-.6zM180.7,454.1h.6v.6h-.6zM175.2,439.2h.6v.6h-.6zM174.9,441.2h.6v.6h-.6zM193.4,420.8h.6v.6h-.6zM197.3,418.9h.6v.6h-.6zM206.9,435.3h.6v.6h-.6zM188.1,454.1h.6v.6h-.6zM168.6,448.9h.6v.6h-.6z" fill="#000" fill-opacity="0.85"/>
<path d="M168.1,450.3h.6v.6h-.6zM187.6,434.7h.6v.6h-.6zM200.6,457.3h.6v.6h-.6zM188.7,434.8h.6v.6h-.6zM208.6,434.9h.6v.6h-.6zM188.5,454.9h.6v.6h-.6zM189.0,454.5h.6v.6h-.6zM174.8,457.3h.6v.6h-.6zM179.9,455.2h.6v.6h-.6zM166.3,441.7h.6v.6h-.6zM196.6,419.8h.6v.6h-.6zM209.1,433.9h.6v.6h-.6zM193.6,459.3h.6v.6h-.6zM185.1,433.1h.6v.6h-.6zM203.2,422.6h.6v.6h-.6zM188.2,432.7h.6v.6h-.6zM211.9,429.5h.6v.6h-.6zM198.8,457.9h.6v.6h-.6zM210.6,453.0h.6v.6h-.6zM206.2,428.2h.6v.6h-.6zM184.0,438.4h.6v.6h-.6zM206.0,434.4h.6v.6h-.6zM195.6,457.3h.6v.6h-.6zM204.5,429.8h.6v.6h-.6zM175.5,436.2h.6v.6h-.6zM194.7,457.3h.6v.6h-.6zM180.2,433.3h.6v.6h-.6zM183.7,435.5h.6v.6h-.6zM170.2,453.8h.6v.6h-.6zM206.3,432.3h.6v.6h-.6zM189.0,455.6h.6v.6h-.6zM207.0,436.9h.6v.6h-.6zM182.0,452.6h.6v.6h-.6zM208.1,422.8h.6v.6h-.6zM181.2,434.1h.6v.6h-.6zM180.0,436.6h.6v.6h-.6zM202.4,454.0h.6v.6h-.6zM166.3,447.2h.6v.6h-.6zM186.1,432.5h.6v.6h-.6zM172.1,434.6h.6v.6h-.6zM190.1,421.9h.6v.6h-.6zM194.4,459.2h.6v.6h-.6zM176.6,460.6h.6v.6h-.6zM195.0,457.5h.6v.6h-.6zM171.7,437.4h.6v.6h-.6zM170.4,452.7h.6v.6h-.6zM183.9,434.1h.6v.6h-.6zM192.1,455.7h.6v.6h-.6zM189.1,455.3h.6v.6h-.6zM193.3,455.8h.6v.6h-.6zM201.2,422.0h.6v.6h-.6zM184.8,453.5h.6v.6h-.6zM163.0,447.9h.6v.6h-.6zM201.6,421.2h.6v.6h-.6zM183.3,435.6h.6v.6h-.6zM166.4,450.0h.6v.6h-.6zM179.7,460.3h.6v.6h-.6zM206.5,429.1h.6v.6h-.6zM206.7,424.1h.6v.6h-.6zM206.8,442.5h.6v.6h-.6zM206.1,430.1h.6v.6h-.6zM206.8,452.5h.6v.6h-.6zM206.8,452.0h.6v.6h-.6zM190.5,455.9h.6v.6h-.6zM206.7,444.9h.6v.6h-.6zM203.7,423.8h.6v.6h-.6zM187.4,431.4h.6v.6h-.6zM204.7,429.9h.6v.6h-.6zM207.7,442.9h.6v.6h-.6zM177.0,437.8h.6v.6h-.6zM181.6,453.0h.6v.6h-.6zM188.8,455.7h.6v.6h-.6zM174.5,435.1h.6v.6h-.6zM177.8,454.2h.6v.6h-.6zM188.6,455.2h.6v.6h-.6zM190.5,429.7h.6v.6h-.6zM167.1,451.6h.6v.6h-.6zM201.6,456.7h.6v.6h-.6zM206.3,449.6h.6v.6h-.6zM176.8,439.2h.6v.6h-.6zM185.2,457.3h.6v.6h-.6zM203.0,417.8h.6v.6h-.6zM170.4,454.1h.6v.6h-.6zM206.2,439.9h.6v.6h-.6zM175.6,453.8h.6v.6h-.6zM200.9,459.4h.6v.6h-.6zM204.8,451.6h.6v.6h-.6zM206.2,435.4h.6v.6h-.6zM202.1,457.3h.6v.6h-.6zM176.6,454.6h.6v.6h-.6zM198.6,458.7h.6v.6h-.6zM184.0,454.2h.6v.6h-.6zM183.1,434.1h.6v.6h-.6zM184.9,453.5h.6v.6h-.6zM192.0,457.1h.6v.6h-.6zM168.7,441.1h.6v.6h-.6zM196.6,462.6h.6v.6h-.6zM198.5,456.7h.6v.6h-.6zM202.3,461.1h.6v.6h-.6zM176.4,457.2h.6v.6h-.6zM204.1,431.7h.6v.6h-.6zM182.7,439.0h.6v.6h-.6zM209.8,430.7h.6v.6h-.6zM189.2,453.1h.6v.6h-.6zM206.1,429.4h.6v.6h-.6zM207.2,444.0h.6v.6h-.6zM201.3,418.1h.6v.6h-.6zM185.3,424.3h.6v.6h-.6zM208.7,443.3h.6v.6h-.6zM183.1,456.4h.6v.6h-.6zM206.1,439.2h.6v.6h-.6zM184.4,452.5h.6v.6h-.6zM188.5,454.1h.6v.6h-.6zM190.5,426.4h.6v.6h-.6zM184.6,438.6h.6v.6h-.6zM184.0,436.4h.6v.6h-.6zM177.0,438.6h.6v.6h-.6zM188.8,453.1h.6v.6h-.6zM165.8,441.1h.6v.6h-.6zM180.9,437.6h.6v.6h-.6zM203.6,455.1h.6v.6h-.6zM189.1,433.5h.6v.6h-.6zM200.4,456.6h.6v.6h-.6zM188.1,437.5h.6v.6h-.6zM184.6,460.7h.6v.6h-.6zM183.0,434.2h.6v.6h-.6zM186.8,434.3h.6v.6h-.6zM169.3,438.4h.6v.6h-.6zM168.0,439.7h.6v.6h-.6zM209.5,436.7h.6v.6h-.6zM186.8,436.2h.6v.6h-.6zM165.8,448.7h.6v.6h-.6zM207.6,444.7h.6v.6h-.6zM205.8,441.1h.6v.6h-.6zM188.5,430.6h.6v.6h-.6zM204.9,427.7h.6v.6h-.6zM183.4,430.9h.6v.6h-.6zM207.4,450.2h.6v.6h-.6zM166.1,446.5h.6v.6h-.6zM189.1,437.8h.6v.6h-.6zM179.3,456.7h.6v.6h-.6zM161.2,452.7h.6v.6h-.6zM172.1,437.0h.6v.6h-.6zM195.7,420.1h.6v.6h-.6zM186.1,436.1h.6v.6h-.6zM177.7,438.9h.6v.6h-.6zM178.4,453.3h.6v.6h-.6zM211.4,443.6h.6v.6h-.6zM208.5,437.5h.6v.6h-.6zM190.5,429.0h.6v.6h-.6zM206.2,448.2h.6v.6h-.6zM184.8,453.9h.6v.6h-.6zM163.4,450.2h.6v.6h-.6zM204.4,427.7h.6v.6h-.6zM193.5,458.7h.6v.6h-.6zM188.3,434.8h.6v.6h-.6zM166.7,440.0h.6v.6h-.6zM165.8,450.9h.6v.6h-.6zM204.9,438.6h.6v.6h-.6zM178.8,454.9h.6v.6h-.6zM195.0,417.3h.6v.6h-.6zM203.8,426.7h.6v.6h-.6zM201.9,460.0h.6v.6h-.6zM181.4,434.8h.6v.6h-.6zM189.7,455.8h.6v.6h-.6zM163.2,448.2h.6v.6h-.6zM182.0,456.1h.6v.6h-.6zM206.7,449.7h.6v.6h-.6zM201.1,458.2h.6v.6h-.6zM205.2,432.0h.6v.6h-.6zM188.3,436.0h.6v.6h-.6zM206.3,448.7h.6v.6h-.6zM187.3,436.0h.6v.6h-.6zM211.4,433.5h.6v.6h-.6zM184.1,433.7h.6v.6h-.6zM205.9,436.7h.6v.6h-.6zM192.0,464.3h.6v.6h-.6zM180.6,455.0h.6v.6h-.6zM207.8,434.8h.6v.6h-.6zM203.5,427.5h.6v.6h-.6zM206.7,443.8h.6v.6h-.6zM188.4,427.0h.6v.6h-.6zM185.9,427.0h.6v.6h-.6zM205.4,433.2h.6v.6h-.6zM210.8,422.8h.6v.6h-.6zM176.4,456.4h.6v.6h-.6zM180.0,435.5h.6v.6h-.6zM182.8,433.2h.6v.6h-.6zM206.0,442.4h.6v.6h-.6zM163.6,446.8h.6v.6h-.6zM172.1,453.0h.6v.6h-.6zM210.2,434.7h.6v.6h-.6zM204.8,431.4h.6v.6h-.6zM190.6,456.2h.6v.6h-.6zM164.4,438.6h.6v.6h-.6zM189.9,434.1h.6v.6h-.6zM203.4,426.3h.6v.6h-.6zM186.7,434.9h.6v.6h-.6zM207.0,433.8h.6v.6h-.6zM178.6,453.7h.6v.6h-.6zM185.3,435.6h.6v.6h-.6zM187.1,452.6h.6v.6h-.6zM203.2,423.2h.6v.6h-.6zM182.6,455.5h.6v.6h-.6zM168.8,452.5h.6v.6h-.6zM188.5,434.8h.6v.6h-.6zM201.8,420.6h.6v.6h-.6zM204.1,423.8h.6v.6h-.6zM207.9,448.7h.6v.6h-.6zM170.4,453.9h.6v.6h-.6zM205.8,443.7h.6v.6h-.6zM199.3,456.9h.6v.6h-.6zM168.7,449.8h.6v.6h-.6zM189.0,452.6h.6v.6h-.6zM179.7,434.8h.6v.6h-.6zM187.1,425.1h.6v.6h-.6zM205.6,425.2h.6v.6h-.6zM206.5,440.9h.6v.6h-.6zM205.7,451.1h.6v.6h-.6zM194.3,457.0h.6v.6h-.6zM206.7,438.4h.6v.6h-.6zM168.7,439.1h.6v.6h-.6zM176.5,462.3h.6v.6h-.6zM191.1,457.4h.6v.6h-.6zM174.8,433.8h.6v.6h-.6zM207.5,433.9h.6v.6h-.6zM201.3,462.2h.6v.6h-.6zM186.8,429.4h.6v.6h-.6zM205.5,434.3h.6v.6h-.6zM189.9,427.1h.6v.6h-.6zM188.4,426.1h.6v.6h-.6zM185.1,457.7h.6v.6h-.6zM205.5,433.2h.6v.6h-.6zM203.9,424.4h.6v.6h-.6zM184.4,438.1h.6v.6h-.6zM204.4,427.6h.6v.6h-.6zM182.8,436.1h.6v.6h-.6zM205.8,435.8h.6v.6h-.6zM164.4,445.7h.6v.6h-.6zM210.2,442.4h.6v.6h-.6zM197.4,419.7h.6v.6h-.6zM174.8,455.4h.6v.6h-.6zM209.2,440.2h.6v.6h-.6zM182.4,437.7h.6v.6h-.6zM186.2,457.9h.6v.6h-.6zM163.1,439.5h.6v.6h-.6zM183.2,431.5h.6v.6h-.6zM173.4,438.7h.6v.6h-.6zM177.9,439.0h.6v.6h-.6zM165.7,447.5h.6v.6h-.6zM208.8,435.2h.6v.6h-.6zM207.4,434.3h.6v.6h-.6zM197.5,456.9h.6v.6h-.6zM177.6,438.3h.6v.6h-.6zM168.3,441.9h.6v.6h-.6zM196.0,417.1h.6v.6h-.6zM189.1,455.5h.6v.6h-.6zM187.0,457.4h.6v.6h-.6zM187.6,436.1h.6v.6h-.6zM187.6,437.9h.6v.6h-.6zM187.3,434.8h.6v.6h-.6zM201.2,421.8h.6v.6h-.6zM204.2,441.6h.6v.6h-.6zM164.7,448.7h.6v.6h-.6zM201.6,419.6h.6v.6h-.6zM188.3,422.8h.6v.6h-.6zM185.6,459.1h.6v.6h-.6zM183.0,453.5h.6v.6h-.6zM192.0,419.5h.6v.6h-.6zM189.5,429.4h.6v.6h-.6zM187.6,438.3h.6v.6h-.6zM185.9,452.5h.6v.6h-.6zM180.3,438.9h.6v.6h-.6zM208.6,427.6h.6v.6h-.6zM187.8,454.4h.6v.6h-.6zM186.3,457.5h.6v.6h-.6zM204.8,427.2h.6v.6h-.6zM192.5,459.4h.6v.6h-.6zM209.9,452.8h.6v.6h-.6zM172.7,438.8h.6v.6h-.6zM205.0,444.6h.6v.6h-.6zM191.0,425.4h.6v.6h-.6zM209.4,435.5h.6v.6h-.6zM166.7,445.6h.6v.6h-.6zM174.2,439.4h.6v.6h-.6zM189.4,454.1h.6v.6h-.6zM188.0,456.4h.6v.6h-.6zM205.9,448.4h.6v.6h-.6zM188.1,430.9h.6v.6h-.6zM182.5,433.0h.6v.6h-.6zM202.9,450.9h.6v.6h-.6zM185.6,433.1h.6v.6h-.6zM205.1,424.4h.6v.6h-.6zM181.4,432.8h.6v.6h-.6zM179.9,439.7h.6v.6h-.6zM181.5,454.3h.6v.6h-.6zM208.1,439.4h.6v.6h-.6zM193.0,420.7h.6v.6h-.6zM180.2,439.2h.6v.6h-.6zM204.4,451.8h.6v.6h-.6zM191.8,421.1h.6v.6h-.6zM207.6,435.1h.6v.6h-.6zM168.2,447.9h.6v.6h-.6zM179.5,439.5h.6v.6h-.6zM206.8,438.5h.6v.6h-.6zM164.7,445.0h.6v.6h-.6zM183.6,436.3h.6v.6h-.6zM169.2,450.8h.6v.6h-.6zM184.1,430.5h.6v.6h-.6zM203.1,453.0h.6v.6h-.6zM205.3,427.8h.6v.6h-.6zM204.1,456.0h.6v.6h-.6zM186.0,455.7h.6v.6h-.6zM211.4,428.7h.6v.6h-.6zM208.6,435.6h.6v.6h-.6zM195.8,457.2h.6v.6h-.6zM207.7,445.7h.6v.6h-.6zM179.2,453.6h.6v.6h-.6zM206.1,423.7h.6v.6h-.6zM205.2,423.9h.6v.6h-.6zM187.4,454.9h.6v.6h-.6zM206.9,448.0h.6v.6h-.6zM198.0,457.1h.6v.6h-.6zM185.3,438.1h.6v.6h-.6zM205.9,442.8h.6v.6h-.6zM170.4,454.6h.6v.6h-.6zM195.4,419.1h.6v.6h-.6zM195.3,457.6h.6v.6h-.6zM177.9,453.7h.6v.6h-.6zM177.5,435.8h.6v.6h-.6zM189.1,426.7h.6v.6h-.6zM202.9,425.0h.6v.6h-.6zM168.0,451.7h.6v.6h-.6zM204.9,423.6h.6v.6h-.6zM204.1,422.2h.6v.6h-.6zM180.6,439.0h.6v.6h-.6zM173.9,437.7h.6v.6h-.6zM204.6,445.4h.6v.6h-.6zM177.3,453.7h.6v.6h-.6zM206.6,434.3h.6v.6h-.6zM210.7,436.8h.6v.6h-.6zM169.7,441.7h.6v.6h-.6zM189.7,456.2h.6v.6h-.6zM205.2,431.2h.6v.6h-.6zM207.3,424.7h.6v.6h-.6zM167.5,440.2h.6v.6h-.6zM174.5,440.1h.6v.6h-.6zM178.9,430.2h.6v.6h-.6zM185.4,461.4h.6v.6h-.6zM188.1,437.0h.6v.6h-.6zM189.2,436.4h.6v.6h-.6zM170.1,440.8h.6v.6h-.6zM186.1,433.3h.6v.6h-.6zM191.4,458.0h.6v.6h-.6zM205.6,452.6h.6v.6h-.6zM199.9,458.8h.6v.6h-.6zM186.5,436.7h.6v.6h-.6zM188.9,455.6h.6v.6h-.6zM185.3,437.3h.6v.6h-.6zM204.6,451.3h.6v.6h-.6zM204.8,422.1h.6v.6h-.6zM186.2,457.7h.6v.6h-.6zM189.2,424.7h.6v.6h-.6zM189.3,426.5h.6v.6h-.6zM187.0,455.0h.6v.6h-.6zM170.4,460.7h.6v.6h-.6zM162.4,446.7h.6v.6h-.6zM187.9,436.0h.6v.6h-.6zM205.2,433.8h.6v.6h-.6zM181.3,433.6h.6v.6h-.6zM180.7,453.4h.6v.6h-.6zM209.3,436.3h.6v.6h-.6zM188.7,456.1h.6v.6h-.6zM186.4,429.7h.6v.6h-.6zM203.3,451.2h.6v.6h-.6zM171.2,436.3h.6v.6h-.6zM205.9,453.6h.6v.6h-.6zM188.0,452.0h.6v.6h-.6zM204.4,429.9h.6v.6h-.6zM169.0,440.3h.6v.6h-.6zM184.1,433.7h.6v.6h-.6zM174.8,433.5h.6v.6h-.6zM177.2,454.4h.6v.6h-.6zM190.2,435.9h.6v.6h-.6zM205.5,442.6h.6v.6h-.6zM186.0,423.4h.6v.6h-.6zM173.3,455.0h.6v.6h-.6zM187.4,434.3h.6v.6h-.6zM207.1,455.9h.6v.6h-.6zM184.0,454.0h.6v.6h-.6zM176.6,438.9h.6v.6h-.6zM181.2,439.3h.6v.6h-.6zM169.6,451.5h.6v.6h-.6zM184.8,425.2h.6v.6h-.6zM204.5,450.6h.6v.6h-.6zM176.2,436.0h.6v.6h-.6zM181.8,455.4h.6v.6h-.6zM169.2,442.0h.6v.6h-.6zM186.2,453.8h.6v.6h-.6zM204.3,430.8h.6v.6h-.6zM187.9,433.4h.6v.6h-.6zM186.5,420.7h.6v.6h-.6zM211.6,446.2h.6v.6h-.6zM202.5,461.2h.6v.6h-.6zM169.0,440.1h.6v.6h-.6zM188.7,435.8h.6v.6h-.6zM205.5,430.3h.6v.6h-.6zM181.8,459.6h.6v.6h-.6zM206.6,431.8h.6v.6h-.6zM186.8,437.8h.6v.6h-.6zM204.8,451.1h.6v.6h-.6zM205.7,439.7h.6v.6h-.6zM164.5,452.2h.6v.6h-.6zM171.1,438.1h.6v.6h-.6zM167.9,439.5h.6v.6h-.6zM205.6,433.8h.6v.6h-.6zM203.2,424.5h.6v.6h-.6zM186.8,434.7h.6v.6h-.6zM186.8,431.8h.6v.6h-.6zM211.3,448.0h.6v.6h-.6zM207.5,446.0h.6v.6h-.6zM210.9,433.6h.6v.6h-.6zM165.6,451.4h.6v.6h-.6zM194.6,418.2h.6v.6h-.6zM200.3,421.0h.6v.6h-.6zM188.4,432.0h.6v.6h-.6zM171.4,439.7h.6v.6h-.6zM168.2,450.1h.6v.6h-.6zM167.2,445.6h.6v.6h-.6zM178.0,454.5h.6v.6h-.6zM204.8,429.2h.6v.6h-.6zM178.9,429.7h.6v.6h-.6zM184.5,454.7h.6v.6h-.6zM182.4,451.7h.6v.6h-.6zM196.1,414.9h.6v.6h-.6zM205.9,452.6h.6v.6h-.6zM172.0,453.3h.6v.6h-.6zM174.6,433.1h.6v.6h-.6zM182.1,433.9h.6v.6h-.6zM172.9,454.7h.6v.6h-.6zM195.1,458.1h.6v.6h-.6zM196.0,418.9h.6v.6h-.6zM208.1,451.8h.6v.6h-.6zM195.3,459.3h.6v.6h-.6zM175.8,439.0h.6v.6h-.6zM186.2,456.8h.6v.6h-.6zM196.7,418.7h.6v.6h-.6zM206.7,451.8h.6v.6h-.6zM177.7,455.0h.6v.6h-.6zM206.3,437.7h.6v.6h-.6zM186.6,417.7h.6v.6h-.6zM183.9,432.9h.6v.6h-.6zM175.0,436.5h.6v.6h-.6zM178.4,454.6h.6v.6h-.6zM177.9,454.2h.6v.6h-.6zM206.7,452.7h.6v.6h-.6zM201.2,421.3h.6v.6h-.6zM164.5,446.2h.6v.6h-.6zM187.2,432.4h.6v.6h-.6zM188.5,437.7h.6v.6h-.6zM186.5,430.0h.6v.6h-.6zM189.4,455.4h.6v.6h-.6zM204.9,421.6h.6v.6h-.6zM205.9,435.6h.6v.6h-.6zM211.9,431.4h.6v.6h-.6zM187.9,432.7h.6v.6h-.6zM195.8,417.6h.6v.6h-.6zM208.7,437.9h.6v.6h-.6zM204.8,441.9h.6v.6h-.6zM181.9,455.9h.6v.6h-.6zM187.7,438.1h.6v.6h-.6zM186.6,434.8h.6v.6h-.6zM175.4,456.5h.6v.6h-.6zM188.6,457.0h.6v.6h-.6zM207.4,453.5h.6v.6h-.6zM163.9,446.7h.6v.6h-.6zM173.7,454.4h.6v.6h-.6zM208.9,452.0h.6v.6h-.6zM207.3,428.0h.6v.6h-.6zM206.9,440.1h.6v.6h-.6zM185.1,432.9h.6v.6h-.6zM181.8,453.9h.6v.6h-.6zM185.7,455.2h.6v.6h-.6zM206.5,435.1h.6v.6h-.6zM205.9,446.2h.6v.6h-.6zM189.5,431.6h.6v.6h-.6zM175.6,454.5h.6v.6h-.6zM173.3,454.4h.6v.6h-.6zM196.8,419.0h.6v.6h-.6zM196.8,418.9h.6v.6h-.6zM187.4,429.9h.6v.6h-.6zM187.9,435.4h.6v.6h-.6zM207.3,436.2h.6v.6h-.6zM184.8,438.4h.6v.6h-.6zM202.7,456.4h.6v.6h-.6zM187.2,437.3h.6v.6h-.6zM193.6,461.4h.6v.6h-.6zM189.4,457.3h.6v.6h-.6zM180.5,437.8h.6v.6h-.6zM166.1,453.2h.6v.6h-.6zM179.8,454.2h.6v.6h-.6zM205.5,421.6h.6v.6h-.6zM187.3,434.8h.6v.6h-.6zM207.1,438.1h.6v.6h-.6zM204.6,424.7h.6v.6h-.6zM193.3,420.8h.6v.6h-.6zM172.1,453.5h.6v.6h-.6zM206.7,434.6h.6v.6h-.6zM188.8,455.5h.6v.6h-.6zM189.9,422.8h.6v.6h-.6zM201.5,457.0h.6v.6h-.6zM205.2,446.3h.6v.6h-.6zM185.4,431.4h.6v.6h-.6zM195.4,419.4h.6v.6h-.6zM189.2,425.4h.6v.6h-.6zM202.1,416.3h.6v.6h-.6zM185.4,436.8h.6v.6h-.6zM187.1,454.3h.6v.6h-.6zM185.7,456.7h.6v.6h-.6zM166.9,451.7h.6v.6h-.6zM183.2,456.1h.6v.6h-.6zM207.6,431.2h.6v.6h-.6zM187.0,456.8h.6v.6h-.6zM202.2,453.3h.6v.6h-.6zM182.9,436.1h.6v.6h-.6zM187.8,456.5h.6v.6h-.6zM162.8,448.1h.6v.6h-.6zM199.1,455.7h.6v.6h-.6zM184.8,427.8h.6v.6h-.6zM190.7,428.6h.6v.6h-.6zM190.1,433.7h.6v.6h-.6zM195.4,463.2h.6v.6h-.6zM176.5,456.0h.6v.6h-.6zM175.7,454.3h.6v.6h-.6zM205.0,453.7h.6v.6h-.6zM173.6,438.5h.6v.6h-.6zM179.3,430.8h.6v.6h-.6zM172.8,452.9h.6v.6h-.6zM186.7,436.6h.6v.6h-.6zM187.6,456.2h.6v.6h-.6zM166.9,445.4h.6v.6h-.6zM189.0,426.2h.6v.6h-.6zM186.8,434.5h.6v.6h-.6zM205.6,451.1h.6v.6h-.6zM172.9,436.2h.6v.6h-.6zM169.6,449.4h.6v.6h-.6zM171.5,438.3h.6v.6h-.6zM185.2,432.6h.6v.6h-.6zM210.2,426.2h.6v.6h-.6zM189.0,453.4h.6v.6h-.6zM204.7,450.6h.6v.6h-.6zM212.6,436.2h.6v.6h-.6zM189.1,427.8h.6v.6h-.6zM169.3,456.9h.6v.6h-.6zM186.5,438.5h.6v.6h-.6zM189.6,430.3h.6v.6h-.6zM186.4,418.0h.6v.6h-.6zM205.3,430.8h.6v.6h-.6zM169.1,442.3h.6v.6h-.6zM191.5,422.3h.6v.6h-.6zM200.9,418.8h.6v.6h-.6zM186.5,453.8h.6v.6h-.6zM206.7,422.8h.6v.6h-.6zM208.7,440.8h.6v.6h-.6zM179.0,439.4h.6v.6h-.6zM205.1,438.2h.6v.6h-.6zM194.8,464.5h.6v.6h-.6zM205.7,451.7h.6v.6h-.6zM207.0,436.0h.6v.6h-.6zM186.4,426.6h.6v.6h-.6zM201.4,456.3h.6v.6h-.6zM182.3,453.1h.6v.6h-.6zM207.3,435.9h.6v.6h-.6zM165.7,440.3h.6v.6h-.6zM188.6,456.4h.6v.6h-.6zM204.3,428.7h.6v.6h-.6zM182.0,455.9h.6v.6h-.6zM214.9,444.5h.6v.6h-.6zM195.2,419.7h.6v.6h-.6zM170.6,457.8h.6v.6h-.6zM186.1,454.3h.6v.6h-.6zM165.2,445.4h.6v.6h-.6zM188.7,436.5h.6v.6h-.6zM184.3,455.8h.6v.6h-.6zM194.2,418.1h.6v.6h-.6zM207.3,434.6h.6v.6h-.6zM175.6,454.9h.6v.6h-.6zM188.6,425.7h.6v.6h-.6zM207.1,436.9h.6v.6h-.6zM188.7,435.5h.6v.6h-.6zM188.3,454.3h.6v.6h-.6zM174.6,438.2h.6v.6h-.6zM194.8,461.4h.6v.6h-.6zM178.8,454.0h.6v.6h-.6zM184.3,437.6h.6v.6h-.6zM187.8,424.3h.6v.6h-.6zM171.2,437.6h.6v.6h-.6zM204.6,417.7h.6v.6h-.6zM203.8,427.2h.6v.6h-.6zM201.9,418.2h.6v.6h-.6zM191.2,422.2h.6v.6h-.6zM168.4,451.7h.6v.6h-.6zM205.0,413.9h.6v.6h-.6zM162.2,447.3h.6v.6h-.6zM187.2,438.3h.6v.6h-.6zM175.1,454.8h.6v.6h-.6zM168.3,448.7h.6v.6h-.6zM187.2,427.1h.6v.6h-.6zM174.4,438.2h.6v.6h-.6zM189.5,429.0h.6v.6h-.6zM183.8,437.2h.6v.6h-.6zM208.6,437.4h.6v.6h-.6zM174.6,437.5h.6v.6h-.6zM187.9,454.0h.6v.6h-.6zM176.9,455.7h.6v.6h-.6zM167.5,451.6h.6v.6h-.6zM183.1,437.8h.6v.6h-.6zM202.4,454.0h.6v.6h-.6zM170.9,453.3h.6v.6h-.6zM206.6,422.3h.6v.6h-.6zM197.1,418.4h.6v.6h-.6zM186.6,436.0h.6v.6h-.6zM206.3,427.1h.6v.6h-.6zM207.0,441.5h.6v.6h-.6zM202.8,419.5h.6v.6h-.6zM188.4,420.9h.6v.6h-.6zM196.3,418.7h.6v.6h-.6zM185.0,453.7h.6v.6h-.6zM188.7,436.2h.6v.6h-.6zM203.1,451.6h.6v.6h-.6zM210.6,439.0h.6v.6h-.6zM186.0,420.6h.6v.6h-.6zM204.9,441.9h.6v.6h-.6zM188.9,454.0h.6v.6h-.6zM189.7,427.8h.6v.6h-.6zM171.7,440.6h.6v.6h-.6zM182.6,438.9h.6v.6h-.6zM188.1,454.8h.6v.6h-.6zM187.9,436.4h.6v.6h-.6zM206.7,448.3h.6v.6h-.6zM172.5,453.2h.6v.6h-.6zM203.2,451.8h.6v.6h-.6zM188.4,433.4h.6v.6h-.6zM189.2,455.1h.6v.6h-.6zM188.9,432.9h.6v.6h-.6zM187.2,455.7h.6v.6h-.6zM181.8,438.0h.6v.6h-.6zM172.4,454.7h.6v.6h-.6zM166.9,442.2h.6v.6h-.6zM190.1,421.6h.6v.6h-.6zM188.1,425.2h.6v.6h-.6zM177.2,457.5h.6v.6h-.6zM209.1,431.6h.6v.6h-.6zM184.6,453.3h.6v.6h-.6zM197.3,413.6h.6v.6h-.6zM209.9,430.5h.6v.6h-.6zM175.3,437.4h.6v.6h-.6zM205.4,431.5h.6v.6h-.6zM179.3,439.3h.6v.6h-.6zM182.7,436.1h.6v.6h-.6zM184.9,455.8h.6v.6h-.6zM196.6,417.1h.6v.6h-.6zM205.0,447.3h.6v.6h-.6zM201.6,421.6h.6v.6h-.6zM168.0,449.6h.6v.6h-.6zM168.4,442.8h.6v.6h-.6zM182.2,436.6h.6v.6h-.6zM199.2,458.8h.6v.6h-.6zM161.5,447.9h.6v.6h-.6zM176.0,438.7h.6v.6h-.6zM185.0,437.3h.6v.6h-.6zM204.4,428.7h.6v.6h-.6zM197.2,420.9h.6v.6h-.6zM204.8,445.3h.6v.6h-.6zM207.1,448.1h.6v.6h-.6zM204.3,429.2h.6v.6h-.6zM181.5,439.4h.6v.6h-.6zM185.4,453.5h.6v.6h-.6zM198.6,459.0h.6v.6h-.6zM179.7,433.8h.6v.6h-.6zM190.6,425.4h.6v.6h-.6zM187.5,453.3h.6v.6h-.6zM187.4,431.9h.6v.6h-.6zM173.1,438.9h.6v.6h-.6zM176.0,439.6h.6v.6h-.6zM183.8,454.6h.6v.6h-.6zM185.8,430.9h.6v.6h-.6zM208.1,445.1h.6v.6h-.6zM167.9,442.7h.6v.6h-.6zM208.0,431.4h.6v.6h-.6zM201.2,459.8h.6v.6h-.6zM210.2,436.9h.6v.6h-.6zM186.4,438.4h.6v.6h-.6zM183.4,456.8h.6v.6h-.6zM167.3,441.2h.6v.6h-.6zM189.3,427.2h.6v.6h-.6zM176.8,455.4h.6v.6h-.6zM183.1,438.1h.6v.6h-.6zM196.7,415.3h.6v.6h-.6zM191.7,424.5h.6v.6h-.6zM177.1,459.0h.6v.6h-.6zM178.9,432.7h.6v.6h-.6zM180.2,437.5h.6v.6h-.6zM165.0,448.0h.6v.6h-.6zM187.0,434.2h.6v.6h-.6zM176.9,438.3h.6v.6h-.6zM203.2,415.2h.6v.6h-.6zM165.6,438.0h.6v.6h-.6zM180.8,455.1h.6v.6h-.6zM170.5,453.2h.6v.6h-.6zM205.1,433.0h.6v.6h-.6zM176.1,435.6h.6v.6h-.6zM165.4,450.8h.6v.6h-.6zM189.9,431.6h.6v.6h-.6zM208.6,429.9h.6v.6h-.6zM166.9,447.0h.6v.6h-.6zM204.7,432.7h.6v.6h-.6zM173.3,439.3h.6v.6h-.6zM207.2,433.9h.6v.6h-.6zM194.2,455.7h.6v.6h-.6zM175.7,438.0h.6v.6h-.6zM187.7,436.6h.6v.6h-.6zM187.5,433.3h.6v.6h-.6zM189.8,454.6h.6v.6h-.6zM208.4,442.3h.6v.6h-.6zM207.2,450.0h.6v.6h-.6zM200.5,416.9h.6v.6h-.6zM180.6,438.5h.6v.6h-.6zM188.2,427.5h.6v.6h-.6zM188.9,426.4h.6v.6h-.6zM187.7,456.1h.6v.6h-.6zM180.4,461.1h.6v.6h-.6zM207.9,451.7h.6v.6h-.6zM169.6,441.6h.6v.6h-.6zM183.6,437.1h.6v.6h-.6zM186.9,455.9h.6v.6h-.6zM190.0,434.8h.6v.6h-.6zM162.4,453.7h.6v.6h-.6zM189.8,428.7h.6v.6h-.6zM165.5,453.4h.6v.6h-.6zM178.9,436.7h.6v.6h-.6zM168.2,443.2h.6v.6h-.6zM202.4,455.6h.6v.6h-.6zM185.1,423.7h.6v.6h-.6zM187.0,437.6h.6v.6h-.6zM189.3,459.3h.6v.6h-.6zM187.8,459.3h.6v.6h-.6zM190.1,425.7h.6v.6h-.6zM186.3,437.0h.6v.6h-.6zM186.7,427.1h.6v.6h-.6zM177.0,457.7h.6v.6h-.6zM171.8,454.6h.6v.6h-.6zM209.8,421.1h.6v.6h-.6zM170.1,453.9h.6v.6h-.6zM167.6,448.0h.6v.6h-.6zM187.5,456.3h.6v.6h-.6zM189.2,427.4h.6v.6h-.6zM204.7,429.8h.6v.6h-.6zM176.2,437.2h.6v.6h-.6zM208.7,443.4h.6v.6h-.6zM188.7,424.7h.6v.6h-.6zM176.5,438.4h.6v.6h-.6zM170.0,454.1h.6v.6h-.6zM182.2,435.0h.6v.6h-.6zM199.5,458.0h.6v.6h-.6zM203.7,418.7h.6v.6h-.6zM176.5,453.7h.6v.6h-.6zM180.9,456.4h.6v.6h-.6zM171.5,454.7h.6v.6h-.6zM206.6,428.5h.6v.6h-.6zM194.7,417.9h.6v.6h-.6zM178.9,436.7h.6v.6h-.6zM200.9,456.8h.6v.6h-.6zM198.7,420.4h.6v.6h-.6zM173.2,434.0h.6v.6h-.6zM182.7,437.9h.6v.6h-.6zM205.8,443.0h.6v.6h-.6zM167.9,449.1h.6v.6h-.6zM187.3,420.7h.6v.6h-.6zM209.7,431.3h.6v.6h-.6zM212.0,429.9h.6v.6h-.6zM168.8,451.5h.6v.6h-.6zM191.3,421.1h.6v.6h-.6zM205.1,437.9h.6v.6h-.6zM185.9,419.0h.6v.6h-.6zM183.8,454.6h.6v.6h-.6zM164.3,447.4h.6v.6h-.6zM208.9,444.6h.6v.6h-.6zM183.3,457.5h.6v.6h-.6zM179.1,438.6h.6v.6h-.6zM205.9,454.3h.6v.6h-.6zM173.2,435.0h.6v.6h-.6zM165.8,447.8h.6v.6h-.6zM180.4,437.7h.6v.6h-.6zM188.4,451.9h.6v.6h-.6zM159.9,455.7h.6v.6h-.6zM173.8,440.9h.6v.6h-.6zM183.3,437.0h.6v.6h-.6zM188.4,437.2h.6v.6h-.6zM183.6,436.4h.6v.6h-.6z" fill="#000" fill-opacity="0.7"/>
<path d="M182.6,437.3h.6v.6h-.6zM185.6,432.7h.6v.6h-.6zM185.7,433.6h.6v.6h-.6zM192.7,429.6h.6v.6h-.6zM185.6,433.7h.6v.6h-.6zM181.0,433.5h.6v.6h-.6zM183.5,435.7h.6v.6h-.6zM181.5,435.3h.6v.6h-.6zM182.4,433.4h.6v.6h-.6zM190.8,433.5h.6v.6h-.6zM178.4,437.7h.6v.6h-.6zM191.7,430.4h.6v.6h-.6zM185.1,434.3h.6v.6h-.6zM186.5,434.9h.6v.6h-.6zM179.3,435.8h.6v.6h-.6zM182.2,436.2h.6v.6h-.6zM189.5,435.8h.6v.6h-.6zM176.7,436.7h.6v.6h-.6zM183.1,438.8h.6v.6h-.6zM184.9,439.9h.6v.6h-.6zM186.0,436.5h.6v.6h-.6zM187.5,432.2h.6v.6h-.6zM186.8,432.9h.6v.6h-.6zM185.2,437.8h.6v.6h-.6zM183.1,434.9h.6v.6h-.6zM187.1,436.6h.6v.6h-.6zM189.5,429.8h.6v.6h-.6zM188.2,437.8h.6v.6h-.6zM188.6,436.5h.6v.6h-.6zM181.6,435.7h.6v.6h-.6zM187.4,438.6h.6v.6h-.6zM184.6,436.3h.6v.6h-.6zM179.4,437.8h.6v.6h-.6zM190.7,431.9h.6v.6h-.6zM186.8,436.5h.6v.6h-.6zM181.2,435.7h.6v.6h-.6zM183.4,437.9h.6v.6h-.6zM192.0,432.6h.6v.6h-.6zM190.3,429.5h.6v.6h-.6zM191.5,430.7h.6v.6h-.6zM178.6,438.3h.6v.6h-.6zM186.4,430.4h.6v.6h-.6zM191.4,430.1h.6v.6h-.6zM183.5,438.2h.6v.6h-.6zM177.5,436.8h.6v.6h-.6zM185.6,437.5h.6v.6h-.6zM183.8,434.8h.6v.6h-.6zM182.5,439.9h.6v.6h-.6zM186.2,436.4h.6v.6h-.6zM190.6,431.0h.6v.6h-.6zM189.6,437.2h.6v.6h-.6zM190.1,430.4h.6v.6h-.6zM187.7,428.9h.6v.6h-.6zM181.9,436.6h.6v.6h-.6zM192.5,432.0h.6v.6h-.6zM189.7,430.4h.6v.6h-.6zM189.3,432.0h.6v.6h-.6zM179.0,437.3h.6v.6h-.6zM184.6,434.7h.6v.6h-.6zM176.4,436.4h.6v.6h-.6zM188.3,431.7h.6v.6h-.6zM190.9,430.1h.6v.6h-.6zM188.6,429.8h.6v.6h-.6zM191.5,435.9h.6v.6h-.6zM178.0,437.0h.6v.6h-.6zM190.3,435.4h.6v.6h-.6zM190.7,436.1h.6v.6h-.6zM182.6,435.0h.6v.6h-.6zM176.3,438.3h.6v.6h-.6zM190.0,431.0h.6v.6h-.6zM189.4,428.6h.6v.6h-.6zM191.3,429.4h.6v.6h-.6zM190.1,429.6h.6v.6h-.6zM176.9,436.1h.6v.6h-.6zM178.3,435.7h.6v.6h-.6zM180.8,437.5h.6v.6h-.6zM179.4,437.7h.6v.6h-.6zM189.5,431.7h.6v.6h-.6zM189.7,436.5h.6v.6h-.6zM180.1,437.5h.6v.6h-.6zM189.3,430.5h.6v.6h-.6zM179.3,436.8h.6v.6h-.6zM186.7,437.8h.6v.6h-.6zM188.6,431.4h.6v.6h-.6zM191.8,429.5h.6v.6h-.6zM176.9,437.3h.6v.6h-.6zM189.6,431.9h.6v.6h-.6zM180.7,437.5h.6v.6h-.6zM185.4,436.3h.6v.6h-.6zM189.2,429.0h.6v.6h-.6zM178.1,435.1h.6v.6h-.6zM181.7,437.2h.6v.6h-.6zM190.3,432.6h.6v.6h-.6zM184.6,433.7h.6v.6h-.6zM191.4,434.3h.6v.6h-.6zM179.8,436.2h.6v.6h-.6zM189.5,430.0h.6v.6h-.6zM180.6,436.0h.6v.6h-.6zM189.0,437.1h.6v.6h-.6zM186.0,432.0h.6v.6h-.6zM191.1,431.0h.6v.6h-.6zM183.6,430.0h.6v.6h-.6zM182.4,438.2h.6v.6h-.6zM187.8,432.3h.6v.6h-.6zM189.2,432.1h.6v.6h-.6zM179.1,437.5h.6v.6h-.6zM188.8,431.4h.6v.6h-.6zM176.6,435.8h.6v.6h-.6zM178.5,440.2h.6v.6h-.6zM185.2,432.0h.6v.6h-.6zM189.3,429.2h.6v.6h-.6zM186.3,432.6h.6v.6h-.6zM190.8,429.3h.6v.6h-.6zM187.9,437.7h.6v.6h-.6zM176.3,437.7h.6v.6h-.6zM181.6,430.9h.6v.6h-.6zM178.6,437.4h.6v.6h-.6zM177.4,437.9h.6v.6h-.6zM189.4,435.3h.6v.6h-.6zM180.1,438.9h.6v.6h-.6zM180.1,438.4h.6v.6h-.6zM186.3,436.1h.6v.6h-.6zM189.8,430.0h.6v.6h-.6zM188.0,429.0h.6v.6h-.6zM180.3,439.3h.6v.6h-.6zM190.2,430.9h.6v.6h-.6zM180.1,434.5h.6v.6h-.6zM189.2,430.1h.6v.6h-.6zM190.5,428.0h.6v.6h-.6zM178.5,435.8h.6v.6h-.6zM189.2,429.3h.6v.6h-.6zM177.3,435.8h.6v.6h-.6zM190.7,429.4h.6v.6h-.6zM188.2,429.9h.6v.6h-.6zM189.7,435.2h.6v.6h-.6zM177.5,435.5h.6v.6h-.6zM179.4,435.1h.6v.6h-.6zM186.2,432.1h.6v.6h-.6zM189.9,430.7h.6v.6h-.6zM182.5,435.7h.6v.6h-.6zM178.9,437.8h.6v.6h-.6zM185.2,437.7h.6v.6h-.6zM176.9,438.3h.6v.6h-.6zM189.7,436.1h.6v.6h-.6zM187.7,432.8h.6v.6h-.6zM190.0,433.8h.6v.6h-.6zM183.0,435.4h.6v.6h-.6zM185.4,432.4h.6v.6h-.6zM189.9,431.4h.6v.6h-.6zM180.7,437.9h.6v.6h-.6zM180.2,438.8h.6v.6h-.6zM178.1,437.9h.6v.6h-.6zM187.2,437.9h.6v.6h-.6zM185.3,431.5h.6v.6h-.6zM184.3,437.7h.6v.6h-.6zM180.9,434.8h.6v.6h-.6zM184.7,432.7h.6v.6h-.6zM189.2,435.6h.6v.6h-.6zM180.1,437.2h.6v.6h-.6zM177.2,437.4h.6v.6h-.6zM180.8,434.8h.6v.6h-.6zM185.6,437.0h.6v.6h-.6zM180.3,438.6h.6v.6h-.6zM184.6,434.2h.6v.6h-.6zM189.7,434.4h.6v.6h-.6zM176.2,438.8h.6v.6h-.6zM189.5,434.5h.6v.6h-.6zM182.6,437.0h.6v.6h-.6zM189.2,429.1h.6v.6h-.6zM190.9,428.7h.6v.6h-.6zM177.4,437.1h.6v.6h-.6zM189.5,430.4h.6v.6h-.6zM181.9,435.4h.6v.6h-.6zM190.7,432.6h.6v.6h-.6zM174.3,433.4h.6v.6h-.6zM188.8,436.8h.6v.6h-.6zM187.9,439.2h.6v.6h-.6zM184.2,437.0h.6v.6h-.6zM179.6,439.0h.6v.6h-.6zM182.7,433.8h.6v.6h-.6zM178.8,439.2h.6v.6h-.6zM185.8,431.0h.6v.6h-.6zM191.0,429.7h.6v.6h-.6zM180.7,436.6h.6v.6h-.6zM181.9,434.0h.6v.6h-.6zM177.9,437.8h.6v.6h-.6zM184.3,436.8h.6v.6h-.6zM177.2,438.3h.6v.6h-.6zM183.1,438.6h.6v.6h-.6zM180.0,434.3h.6v.6h-.6zM190.8,433.5h.6v.6h-.6zM190.7,428.7h.6v.6h-.6zM183.6,437.1h.6v.6h-.6zM189.4,428.8h.6v.6h-.6zM183.8,432.8h.6v.6h-.6zM191.0,429.8h.6v.6h-.6zM185.3,432.7h.6v.6h-.6zM179.0,435.5h.6v.6h-.6zM180.3,435.0h.6v.6h-.6zM180.4,438.5h.6v.6h-.6zM180.2,434.8h.6v.6h-.6zM180.9,435.9h.6v.6h-.6zM185.8,430.8h.6v.6h-.6zM184.0,442.2h.6v.6h-.6zM181.7,434.9h.6v.6h-.6zM190.6,430.3h.6v.6h-.6zM185.3,435.3h.6v.6h-.6zM186.5,432.3h.6v.6h-.6zM190.3,432.4h.6v.6h-.6zM186.3,433.1h.6v.6h-.6zM188.0,439.2h.6v.6h-.6zM178.5,436.6h.6v.6h-.6zM185.4,437.3h.6v.6h-.6zM192.7,430.0h.6v.6h-.6zM182.5,438.2h.6v.6h-.6zM185.5,436.7h.6v.6h-.6zM184.8,433.8h.6v.6h-.6zM183.7,437.4h.6v.6h-.6zM181.3,434.5h.6v.6h-.6zM189.3,429.4h.6v.6h-.6zM190.4,430.1h.6v.6h-.6zM186.0,435.7h.6v.6h-.6zM176.3,434.8h.6v.6h-.6zM189.5,433.0h.6v.6h-.6zM190.1,429.4h.6v.6h-.6zM191.5,428.5h.6v.6h-.6zM189.6,435.6h.6v.6h-.6zM184.5,438.1h.6v.6h-.6zM183.9,432.9h.6v.6h-.6zM178.6,436.1h.6v.6h-.6zM189.4,432.4h.6v.6h-.6zM190.8,429.1h.6v.6h-.6zM188.5,430.5h.6v.6h-.6zM177.5,436.9h.6v.6h-.6zM178.0,439.2h.6v.6h-.6zM191.6,436.9h.6v.6h-.6zM176.4,437.0h.6v.6h-.6zM182.1,434.3h.6v.6h-.6zM189.8,434.7h.6v.6h-.6zM189.9,431.8h.6v.6h-.6zM189.5,433.1h.6v.6h-.6zM178.2,435.1h.6v.6h-.6zM180.5,439.0h.6v.6h-.6zM180.8,438.6h.6v.6h-.6zM178.6,438.6h.6v.6h-.6zM182.9,436.4h.6v.6h-.6zM190.3,428.3h.6v.6h-.6zM187.4,436.2h.6v.6h-.6zM188.5,436.2h.6v.6h-.6zM187.4,431.9h.6v.6h-.6zM189.6,433.3h.6v.6h-.6zM191.9,428.6h.6v.6h-.6zM178.7,437.7h.6v.6h-.6zM189.4,436.7h.6v.6h-.6zM187.7,436.8h.6v.6h-.6zM185.9,433.0h.6v.6h-.6zM187.4,433.1h.6v.6h-.6zM186.1,436.7h.6v.6h-.6zM176.2,437.6h.6v.6h-.6zM190.7,436.0h.6v.6h-.6zM182.7,438.8h.6v.6h-.6zM182.0,433.4h.6v.6h-.6zM176.2,437.1h.6v.6h-.6zM189.5,430.8h.6v.6h-.6zM187.8,430.4h.6v.6h-.6zM184.3,437.9h.6v.6h-.6zM182.6,437.8h.6v.6h-.6zM184.1,434.8h.6v.6h-.6zM184.7,437.1h.6v.6h-.6zM188.4,434.9h.6v.6h-.6zM188.3,430.9h.6v.6h-.6zM189.2,431.0h.6v.6h-.6zM189.1,435.5h.6v.6h-.6zM188.6,431.2h.6v.6h-.6zM190.0,428.0h.6v.6h-.6zM190.2,430.5h.6v.6h-.6zM188.4,431.0h.6v.6h-.6zM190.1,435.8h.6v.6h-.6zM184.9,432.5h.6v.6h-.6zM189.9,435.1h.6v.6h-.6zM179.1,435.5h.6v.6h-.6zM179.5,435.2h.6v.6h-.6zM191.0,430.1h.6v.6h-.6zM180.6,434.5h.6v.6h-.6zM191.8,433.6h.6v.6h-.6zM177.4,437.1h.6v.6h-.6zM179.2,437.9h.6v.6h-.6zM187.6,431.6h.6v.6h-.6zM190.7,428.9h.6v.6h-.6zM182.6,439.3h.6v.6h-.6zM184.6,434.0h.6v.6h-.6zM191.4,428.8h.6v.6h-.6zM187.2,435.4h.6v.6h-.6zM180.7,440.1h.6v.6h-.6zM179.5,437.1h.6v.6h-.6zM193.6,435.6h.6v.6h-.6zM178.8,436.4h.6v.6h-.6zM189.6,432.5h.6v.6h-.6zM188.0,437.2h.6v.6h-.6zM187.6,435.4h.6v.6h-.6z" fill="#000" fill-opacity="0.55"/>
<path d="M168.60,444.80 C169.02,443.73 170.03,442.32 171.60,441.60 C173.17,440.88 175.78,440.75 178.00,440.50 C180.22,440.25 183.03,440.35 184.90,440.10 C186.77,439.85 188.22,439.80 189.20,439.00 C190.18,438.20 190.42,436.93 190.80,435.30 C191.18,433.67 191.23,430.93 191.50,429.20 C191.77,427.47 191.88,426.10 192.40,424.90 C192.92,423.70 193.68,422.57 194.60,422.00 C195.52,421.43 196.88,421.28 197.90,421.50 C198.92,421.72 199.93,422.33 200.70,423.30 C201.47,424.27 201.98,425.58 202.50,427.30 C203.02,429.02 203.52,431.40 203.80,433.60 C204.08,435.80 204.27,438.17 204.20,440.50 C204.13,442.83 203.98,445.38 203.40,447.60 C202.82,449.82 201.77,452.42 200.70,453.80 C199.63,455.18 198.22,455.62 197.00,455.90 C195.78,456.18 194.43,456.02 193.40,455.50 C192.37,454.98 191.53,453.52 190.80,452.80 C190.07,452.08 189.98,451.47 189.00,451.20 C188.02,450.93 186.45,450.98 184.90,451.20 C183.35,451.42 181.43,452.22 179.70,452.50 C177.97,452.78 175.95,453.12 174.50,452.90 C173.05,452.68 171.90,452.02 171.00,451.20 C170.10,450.38 169.50,449.07 169.10,448.00 C168.70,446.93 168.18,445.87 168.60,444.80 Z" fill="none" stroke="#000" stroke-width="4.0" stroke-linejoin="round" opacity="0.55" filter="url(#bl3)"/>
<path d="M168.60,444.80 C169.02,443.73 170.03,442.32 171.60,441.60 C173.17,440.88 175.78,440.75 178.00,440.50 C180.22,440.25 183.03,440.35 184.90,440.10 C186.77,439.85 188.22,439.80 189.20,439.00 C190.18,438.20 190.42,436.93 190.80,435.30 C191.18,433.67 191.23,430.93 191.50,429.20 C191.77,427.47 191.88,426.10 192.40,424.90 C192.92,423.70 193.68,422.57 194.60,422.00 C195.52,421.43 196.88,421.28 197.90,421.50 C198.92,421.72 199.93,422.33 200.70,423.30 C201.47,424.27 201.98,425.58 202.50,427.30 C203.02,429.02 203.52,431.40 203.80,433.60 C204.08,435.80 204.27,438.17 204.20,440.50 C204.13,442.83 203.98,445.38 203.40,447.60 C202.82,449.82 201.77,452.42 200.70,453.80 C199.63,455.18 198.22,455.62 197.00,455.90 C195.78,456.18 194.43,456.02 193.40,455.50 C192.37,454.98 191.53,453.52 190.80,452.80 C190.07,452.08 189.98,451.47 189.00,451.20 C188.02,450.93 186.45,450.98 184.90,451.20 C183.35,451.42 181.43,452.22 179.70,452.50 C177.97,452.78 175.95,453.12 174.50,452.90 C173.05,452.68 171.90,452.02 171.00,451.20 C170.10,450.38 169.50,449.07 169.10,448.00 C168.70,446.93 168.18,445.87 168.60,444.80 Z" fill="none" stroke="#000" stroke-width="2.2" stroke-linejoin="round" opacity="0.85"/>
<path d="M168.60,444.80 C169.02,443.73 170.03,442.32 171.60,441.60 C173.17,440.88 175.78,440.75 178.00,440.50 C180.22,440.25 183.03,440.35 184.90,440.10 C186.77,439.85 188.22,439.80 189.20,439.00 C190.18,438.20 190.42,436.93 190.80,435.30 C191.18,433.67 191.23,430.93 191.50,429.20 C191.77,427.47 191.88,426.10 192.40,424.90 C192.92,423.70 193.68,422.57 194.60,422.00 C195.52,421.43 196.88,421.28 197.90,421.50 C198.92,421.72 199.93,422.33 200.70,423.30 C201.47,424.27 201.98,425.58 202.50,427.30 C203.02,429.02 203.52,431.40 203.80,433.60 C204.08,435.80 204.27,438.17 204.20,440.50 C204.13,442.83 203.98,445.38 203.40,447.60 C202.82,449.82 201.77,452.42 200.70,453.80 C199.63,455.18 198.22,455.62 197.00,455.90 C195.78,456.18 194.43,456.02 193.40,455.50 C192.37,454.98 191.53,453.52 190.80,452.80 C190.07,452.08 189.98,451.47 189.00,451.20 C188.02,450.93 186.45,450.98 184.90,451.20 C183.35,451.42 181.43,452.22 179.70,452.50 C177.97,452.78 175.95,453.12 174.50,452.90 C173.05,452.68 171.90,452.02 171.00,451.20 C170.10,450.38 169.50,449.07 169.10,448.00 C168.70,446.93 168.18,445.87 168.60,444.80 Z" fill="#e6e6e6" stroke="#000" stroke-width="1.0"/>
<path d="M169.5,445.1 169.4,445.8 169.6,446.6 170.4,448.7 171.0,449.7 171.7,450.5 172.5,451.2 173.5,451.7 174.0,451.8 175.3,452.0 177.8,451.8 180.4,451.4 183.0,450.7 184.7,450.3 186.4,450.1 187.9,450.1 189.3,450.3 189.9,450.5 190.3,450.8 193.1,454.1 193.5,454.4 194.3,454.8 195.2,455.1 196.3,455.1 197.9,454.6 199.0,454.1 199.5,453.7 200.0,453.2 200.4,452.5 201.4,450.6 202.2,448.4 202.7,446.3 202.9,445.2 203.2,441.6 203.3,439.3 203.2,437.1 202.9,433.7 202.5,431.5 202.1,429.4 201.6,427.6 200.8,425.4 200.3,424.3 199.6,423.5 198.9,422.9 198.1,422.5 197.3,422.4 196.3,422.4 195.5,422.6 194.8,423.1 194.1,423.8 193.3,425.3 192.9,426.4 192.3,430.2 191.9,434.5 191.4,437.0 190.8,438.6 190.4,439.2 189.7,439.8 189.1,440.2 188.4,440.5 186.7,440.8 183.9,441.1 178.1,441.4 174.7,441.8 172.7,442.2 172.0,442.5 171.4,442.8 170.9,443.2 170.0,444.2Z" fill="none" stroke="#fff" stroke-width="0.9"/>
<path d="M170.3,445.6 170.4,446.4 171.0,447.9 171.4,448.8 172.0,449.6 172.6,450.2 173.4,450.7 174.3,451.0 174.8,451.1 175.3,451.2 176.8,451.1 179.4,450.7 183.6,449.6 185.5,449.3 187.9,449.2 188.8,449.3 189.7,449.5 189.7,440.8 188.5,441.3 186.9,441.7 184.0,442.0 178.2,442.3 174.8,442.7 173.0,443.0 172.4,443.2 171.4,443.9 170.7,444.7Z" fill="none" stroke="#555" stroke-width="0.45"/>
<path d="M193.3,453.0 193.7,453.5 194.3,453.9 194.9,454.1 195.8,454.2 196.6,454.1 197.6,453.8 198.5,453.4 198.9,453.1 199.7,452.1 200.1,451.3 201.0,449.3 201.7,447.1 202.1,445.0 202.3,442.8 202.4,440.5 202.3,437.1 201.9,432.8 201.3,429.6 200.8,427.8 200.3,426.3 199.5,424.8 199.0,424.1 198.4,423.6 197.8,423.3 197.2,423.2 196.5,423.2 195.5,423.5 195.1,424.0 194.5,424.7 194.1,425.6 193.7,426.6 193.3,429.3Z" fill="none" stroke="#555" stroke-width="0.45"/>
<path d="M171.1,445.7 171.3,446.6 171.9,448.0 172.6,449.1 173.1,449.5 173.7,450.0 174.9,450.3 176.7,450.3 179.2,449.9 183.4,448.8 184.6,448.6 187.1,448.4 188.9,448.5 188.9,442.0 187.8,442.3 185.2,442.7 179.3,443.0 176.0,443.3 174.0,443.6 173.2,443.8 172.3,444.2 171.6,444.8Z" fill="none" stroke="#777" stroke-width="0.4"/>
<path d="M194.1,452.7 194.5,453.1 194.8,453.3 195.4,453.4 196.1,453.4 196.9,453.2 197.7,452.9 198.4,452.5 198.6,452.2 199.4,450.9 199.8,450.0 200.6,448.0 201.1,446.0 201.4,443.8 201.6,440.4 201.5,437.2 201.2,433.9 200.7,430.8 200.0,428.0 199.5,426.6 199.1,425.6 198.7,424.9 198.2,424.5 197.8,424.2 197.1,424.0 196.6,424.0 196.0,424.2 195.7,424.5 195.2,425.1 194.8,425.9 194.5,426.8 194.1,429.4Z" fill="none" stroke="#777" stroke-width="0.4"/>
<path d="M171.9,445.8 172.5,447.2 173.0,448.3 173.3,448.7 174.1,449.2 175.0,449.5 176.0,449.6 179.1,449.2 183.2,448.1 184.3,447.9 186.3,447.6 188.1,447.6 188.1,443.1 184.2,443.6 179.4,443.8 176.1,444.1 174.1,444.4 173.4,444.6 172.7,444.9 172.2,445.3Z" fill="none" stroke="#555" stroke-width="0.45"/>
<path d="M194.9,452.4 195.3,452.6 195.8,452.6 196.3,452.6 197.1,452.3 197.8,451.9 198.3,451.2 199.1,449.7 200.1,446.7 200.5,444.8 200.7,442.7 200.8,439.3 200.7,437.2 200.4,434.0 199.9,431.0 199.2,428.3 198.6,426.4 198.2,425.6 197.9,425.2 197.4,424.9 197.1,424.8 196.4,424.9 195.9,425.5 195.5,426.2 195.2,427.5 194.9,429.4Z" fill="none" stroke="#555" stroke-width="0.45"/>
<path d="M172.8,445.9 173.5,447.6 173.8,448.0 174.2,448.4 174.9,448.7 175.4,448.8 177.3,448.6 179.6,448.2 183.0,447.3 184.1,447.1 186.1,446.9 187.3,446.8 187.3,444.0 184.3,444.4 179.4,444.6 175.1,445.0 174.3,445.2 173.4,445.4Z" fill="none" stroke="#777" stroke-width="0.4"/>
<path d="M195.7,451.8 196.5,451.7 197.3,451.3 197.6,450.8 198.4,449.4 199.1,447.5 199.5,445.7 199.8,443.7 200.0,441.5 200.0,439.4 199.9,437.3 199.6,434.1 199.3,432.1 198.7,429.3 198.0,427.2 197.5,426.1 197.3,425.8 197.0,425.6 196.8,425.6 196.7,425.7 196.2,426.8 195.7,429.5Z" fill="none" stroke="#777" stroke-width="0.4"/>
<path d="M173.7,446.1 174.2,447.3 174.4,447.5 174.7,447.7 175.2,447.9 176.5,447.9 179.4,447.4 182.9,446.5 184.0,446.3 186.5,446.0 186.5,444.9 184.2,445.2 178.5,445.5 175.3,445.8Z" fill="none" stroke="#555" stroke-width="0.45"/>
<path d="M196.5,450.9 196.7,450.8 197.0,450.4 197.6,449.0 198.6,446.3 199.0,443.6 199.2,440.4 199.1,437.3 198.7,433.3 197.9,429.5 197.5,428.1 197.0,426.8 196.8,427.8 196.5,429.6Z" fill="none" stroke="#555" stroke-width="0.45"/>
<path d="M174.8,446.7 175.0,447.0 175.3,447.1 176.4,447.1 179.3,446.7 181.2,446.1 178.5,446.3Z" fill="none" stroke="#777" stroke-width="0.4"/>
<path d="M197.3,447.7 197.8,446.1 198.1,444.5 198.3,442.5 198.4,439.4 198.3,437.4 198.0,434.4 197.7,432.4 197.3,430.3Z" fill="none" stroke="#777" stroke-width="0.4"/>
<circle cx="195.5" cy="444.5" r="1.3" fill="#fff"/>
</g>
<rect x="148.10" y="409.20" width="66.00" height="65.40" fill="none" stroke="#9a9a9a" stroke-width="0.8"/>
<line x1="148.10" y1="411.20" x2="149.20" y2="411.20" stroke="#999" stroke-width="0.5"/>
<line x1="148.10" y1="416.00" x2="149.20" y2="416.00" stroke="#999" stroke-width="0.5"/>
<line x1="148.10" y1="420.80" x2="149.20" y2="420.80" stroke="#999" stroke-width="0.5"/>
<line x1="148.10" y1="425.60" x2="149.20" y2="425.60" stroke="#999" stroke-width="0.5"/>
<line x1="148.10" y1="430.40" x2="149.20" y2="430.40" stroke="#999" stroke-width="0.5"/>
<line x1="148.10" y1="435.20" x2="149.20" y2="435.20" stroke="#999" stroke-width="0.5"/>
<line x1="148.10" y1="440.00" x2="149.20" y2="440.00" stroke="#999" stroke-width="0.5"/>
<line x1="148.10" y1="444.80" x2="149.20" y2="444.80" stroke="#999" stroke-width="0.5"/>
<line x1="148.10" y1="449.60" x2="149.20" y2="449.60" stroke="#999" stroke-width="0.5"/>
<line x1="148.10" y1="454.40" x2="149.20" y2="454.40" stroke="#999" stroke-width="0.5"/>
<line x1="148.10" y1="459.20" x2="149.20" y2="459.20" stroke="#999" stroke-width="0.5"/>
<line x1="148.10" y1="464.00" x2="149.20" y2="464.00" stroke="#999" stroke-width="0.5"/>
<line x1="148.10" y1="468.80" x2="149.20" y2="468.80" stroke="#999" stroke-width="0.5"/>
<line x1="148.10" y1="473.60" x2="149.20" y2="473.60" stroke="#999" stroke-width="0.5"/>
<line x1="150.10" y1="474.60" x2="150.10" y2="473.50" stroke="#999" stroke-width="0.5"/>
<line x1="154.95" y1="474.60" x2="154.95" y2="473.50" stroke="#999" stroke-width="0.5"/>
<line x1="159.79" y1="474.60" x2="159.79" y2="473.50" stroke="#999" stroke-width="0.5"/>
<line x1="164.64" y1="474.60" x2="164.64" y2="473.50" stroke="#999" stroke-width="0.5"/>
<line x1="169.48" y1="474.60" x2="169.48" y2="473.50" stroke="#999" stroke-width="0.5"/>
<line x1="174.33" y1="474.60" x2="174.33" y2="473.50" stroke="#999" stroke-width="0.5"/>
<line x1="179.18" y1="474.60" x2="179.18" y2="473.50" stroke="#999" stroke-width="0.5"/>
<line x1="184.02" y1="474.60" x2="184.02" y2="473.50" stroke="#999" stroke-width="0.5"/>
<line x1="188.87" y1="474.60" x2="188.87" y2="473.50" stroke="#999" stroke-width="0.5"/>
<line x1="193.72" y1="474.60" x2="193.72" y2="473.50" stroke="#999" stroke-width="0.5"/>
<line x1="198.56" y1="474.60" x2="198.56" y2="473.50" stroke="#999" stroke-width="0.5"/>
<line x1="203.41" y1="474.60" x2="203.41" y2="473.50" stroke="#999" stroke-width="0.5"/>
<line x1="208.25" y1="474.60" x2="208.25" y2="473.50" stroke="#999" stroke-width="0.5"/>
<line x1="213.10" y1="474.60" x2="213.10" y2="473.50" stroke="#999" stroke-width="0.5"/>
<rect x="149.5" y="410.5" width="41.1" height="21.5" fill="none" stroke="#7070ff" stroke-width="0.9"/>
<text x="150.80" y="418.20" font-size="6.7" text-anchor="start" fill="#222" stroke="#222" stroke-width="0.22" >0.30%</text>
<text x="44.80" y="415.50" font-size="6.2" text-anchor="end" fill="#222" stroke="#222" stroke-width="0.22" >10<tspan dy="-2.6" font-size="3.9">5.3</tspan></text>
<text x="44.00" y="430.20" font-size="6.2" text-anchor="end" fill="#222" stroke="#222" stroke-width="0.22" >10<tspan dy="-2.6" font-size="3.9">4</tspan></text>
<text x="44.00" y="445.60" font-size="6.2" text-anchor="end" fill="#222" stroke="#222" stroke-width="0.22" >10<tspan dy="-2.6" font-size="3.9">3</tspan></text>
<text x="44.00" y="460.40" font-size="6.2" text-anchor="end" fill="#222" stroke="#222" stroke-width="0.22" >10<tspan dy="-2.6" font-size="3.9">2</tspan></text>
<text x="44.00" y="476.20" font-size="6.2" text-anchor="end" fill="#222" stroke="#222" stroke-width="0.22" >10<tspan dy="-2.6" font-size="3.9">1</tspan></text>
<text x="44.30" y="484.30" font-size="6.2" text-anchor="start" fill="#222" stroke="#222" stroke-width="0.22" >10<tspan dy="-2.6" font-size="3.9">1.4</tspan></text>
<text x="65.40" y="484.30" font-size="6.2" text-anchor="start" fill="#222" stroke="#222" stroke-width="0.22" >10<tspan dy="-2.6" font-size="3.9">3</tspan></text>
<text x="78.80" y="484.30" font-size="6.2" text-anchor="start" fill="#222" stroke="#222" stroke-width="0.22" >10<tspan dy="-2.6" font-size="3.9">4</tspan></text>
<text x="92.30" y="484.30" font-size="6.2" text-anchor="start" fill="#222" stroke="#222" stroke-width="0.22" >10<tspan dy="-2.6" font-size="3.9">5</tspan></text>
<text x="107.70" y="484.30" font-size="6.2" text-anchor="start" fill="#222" stroke="#222" stroke-width="0.22" >10<tspan dy="-2.6" font-size="3.9">6.3</tspan></text>
<text x="44.80" y="513.50" font-size="6.2" text-anchor="end" fill="#222" stroke="#222" stroke-width="0.22" >10<tspan dy="-2.6" font-size="3.9">5.2</tspan></text>
<text x="44.00" y="529.20" font-size="6.2" text-anchor="end" fill="#222" stroke="#222" stroke-width="0.22" >10<tspan dy="-2.6" font-size="3.9">4</tspan></text>
<text x="44.00" y="545.00" font-size="6.2" text-anchor="end" fill="#222" stroke="#222" stroke-width="0.22" >10<tspan dy="-2.6" font-size="3.9">3</tspan></text>
<text x="44.00" y="561.00" font-size="6.2" text-anchor="end" fill="#222" stroke="#222" stroke-width="0.22" >10<tspan dy="-2.6" font-size="3.9">2</tspan></text>
<text x="44.00" y="576.40" font-size="6.2" text-anchor="end" fill="#222" stroke="#222" stroke-width="0.22" >10<tspan dy="-2.6" font-size="3.9">1</tspan></text>
<text x="45.80" y="584.60" font-size="6.2" text-anchor="start" fill="#222" stroke="#222" stroke-width="0.22" >10<tspan dy="-2.6" font-size="3.9">1.8</tspan></text>
<text x="65.40" y="584.60" font-size="6.2" text-anchor="start" fill="#222" stroke="#222" stroke-width="0.22" >10<tspan dy="-2.6" font-size="3.9">3</tspan></text>
<text x="81.20" y="584.60" font-size="6.2" text-anchor="start" fill="#222" stroke="#222" stroke-width="0.22" >10<tspan dy="-2.6" font-size="3.9">4</tspan></text>
<text x="96.90" y="584.60" font-size="6.2" text-anchor="start" fill="#222" stroke="#222" stroke-width="0.22" >10<tspan dy="-2.6" font-size="3.9">5</tspan></text>
<text x="106.50" y="584.60" font-size="6.2" text-anchor="start" fill="#222" stroke="#222" stroke-width="0.22" >10<tspan dy="-2.6" font-size="3.9">5.8</tspan></text>
<text x="144.30" y="415.50" font-size="6.2" text-anchor="end" fill="#222" stroke="#222" stroke-width="0.22" >10<tspan dy="-2.6" font-size="3.9">5.3</tspan></text>
<text x="143.50" y="430.20" font-size="6.2" text-anchor="end" fill="#222" stroke="#222" stroke-width="0.22" >10<tspan dy="-2.6" font-size="3.9">4</tspan></text>
<text x="143.50" y="445.60" font-size="6.2" text-anchor="end" fill="#222" stroke="#222" stroke-width="0.22" >10<tspan dy="-2.6" font-size="3.9">3</tspan></text>
<text x="143.50" y="460.40" font-size="6.2" text-anchor="end" fill="#222" stroke="#222" stroke-width="0.22" >10<tspan dy="-2.6" font-size="3.9">2</tspan></text>
<text x="143.50" y="476.20" font-size="6.2" text-anchor="end" fill="#222" stroke="#222" stroke-width="0.22" >10<tspan dy="-2.6" font-size="3.9">1</tspan></text>
<text x="143.80" y="484.30" font-size="6.2" text-anchor="start" fill="#222" stroke="#222" stroke-width="0.22" >10<tspan dy="-2.6" font-size="3.9">1.4</tspan></text>
<text x="164.90" y="484.30" font-size="6.2" text-anchor="start" fill="#222" stroke="#222" stroke-width="0.22" >10<tspan dy="-2.6" font-size="3.9">3</tspan></text>
<text x="178.30" y="484.30" font-size="6.2" text-anchor="start" fill="#222" stroke="#222" stroke-width="0.22" >10<tspan dy="-2.6" font-size="3.9">4</tspan></text>
<text x="191.80" y="484.30" font-size="6.2" text-anchor="start" fill="#222" stroke="#222" stroke-width="0.22" >10<tspan dy="-2.6" font-size="3.9">5</tspan></text>
<text x="207.20" y="484.30" font-size="6.2" text-anchor="start" fill="#222" stroke="#222" stroke-width="0.22" >10<tspan dy="-2.6" font-size="3.9">6.3</tspan></text>
<text x="144.30" y="513.50" font-size="6.2" text-anchor="end" fill="#222" stroke="#222" stroke-width="0.22" >10<tspan dy="-2.6" font-size="3.9">5.2</tspan></text>
<text x="143.50" y="529.20" font-size="6.2" text-anchor="end" fill="#222" stroke="#222" stroke-width="0.22" >10<tspan dy="-2.6" font-size="3.9">4</tspan></text>
<text x="143.50" y="545.00" font-size="6.2" text-anchor="end" fill="#222" stroke="#222" stroke-width="0.22" >10<tspan dy="-2.6" font-size="3.9">3</tspan></text>
<text x="143.50" y="561.00" font-size="6.2" text-anchor="end" fill="#222" stroke="#222" stroke-width="0.22" >10<tspan dy="-2.6" font-size="3.9">2</tspan></text>
<text x="143.50" y="576.40" font-size="6.2" text-anchor="end" fill="#222" stroke="#222" stroke-width="0.22" >10<tspan dy="-2.6" font-size="3.9">1</tspan></text>
<text x="145.30" y="584.60" font-size="6.2" text-anchor="start" fill="#222" stroke="#222" stroke-width="0.22" >10<tspan dy="-2.6" font-size="3.9">1.8</tspan></text>
<text x="164.90" y="584.60" font-size="6.2" text-anchor="start" fill="#222" stroke="#222" stroke-width="0.22" >10<tspan dy="-2.6" font-size="3.9">3</tspan></text>
<text x="180.70" y="584.60" font-size="6.2" text-anchor="start" fill="#222" stroke="#222" stroke-width="0.22" >10<tspan dy="-2.6" font-size="3.9">4</tspan></text>
<text x="196.40" y="584.60" font-size="6.2" text-anchor="start" fill="#222" stroke="#222" stroke-width="0.22" >10<tspan dy="-2.6" font-size="3.9">5</tspan></text>
<text x="206.00" y="584.60" font-size="6.2" text-anchor="start" fill="#222" stroke="#222" stroke-width="0.22" >10<tspan dy="-2.6" font-size="3.9">5.8</tspan></text>
<text x="25.90" y="442.30" font-size="9.4" text-anchor="middle" fill="#1a1a1a" stroke="#1a1a1a" stroke-width="0.1" font-weight="bold" textLength="17.3" lengthAdjust="spacingAndGlyphs" transform="rotate(-90 25.90 442.30)" >hCD45</text>
<text x="25.90" y="542.30" font-size="9.4" text-anchor="middle" fill="#1a1a1a" stroke="#1a1a1a" stroke-width="0.1" font-weight="bold" textLength="17.3" lengthAdjust="spacingAndGlyphs" transform="rotate(-90 25.90 542.30)" >hCD56</text>
<text x="121.10" y="500.10" font-size="9.2" text-anchor="start" fill="#1a1a1a" stroke="#1a1a1a" stroke-width="0.1" font-weight="bold" textLength="19.3" lengthAdjust="spacingAndGlyphs" >mCD45</text>
<text x="123.80" y="599.60" font-size="9.2" text-anchor="start" fill="#1a1a1a" stroke="#1a1a1a" stroke-width="0.1" font-weight="bold" textLength="17.0" lengthAdjust="spacingAndGlyphs" >hCD19</text>
<line x1="46.50" y1="489.20" x2="202.00" y2="489.20" stroke="#111" stroke-width="1.4"/>
<polygon points="199.5,486.6 205.8,489.2 199.5,491.8" fill="#111"/>
<line x1="46.50" y1="589.10" x2="202.00" y2="589.10" stroke="#111" stroke-width="1.4"/>
<polygon points="199.5,586.5 205.8,589.1 199.5,591.7" fill="#111"/>
<path d="M92.7,524.6h.8v.8h-.8zM67.9,530.4h.8v.8h-.8zM94.1,525.2h.8v.8h-.8zM90.0,509.4h.8v.8h-.8zM80.2,514.4h.8v.8h-.8zM62.9,514.3h.8v.8h-.8zM80.1,511.2h.8v.8h-.8zM72.2,512.2h.8v.8h-.8zM73.8,524.2h.8v.8h-.8zM88.2,529.5h.8v.8h-.8zM65.6,529.5h.8v.8h-.8zM66.7,522.3h.8v.8h-.8zM102.8,515.3h.8v.8h-.8zM87.6,509.7h.8v.8h-.8zM89.5,536.2h.8v.8h-.8zM86.6,519.0h.8v.8h-.8zM70.4,538.6h.8v.8h-.8zM86.8,531.0h.8v.8h-.8zM79.8,530.2h.8v.8h-.8zM83.4,519.6h.8v.8h-.8zM79.3,514.8h.8v.8h-.8zM90.8,515.4h.8v.8h-.8zM105.1,531.2h.8v.8h-.8zM79.8,526.1h.8v.8h-.8zM90.4,518.7h.8v.8h-.8zM90.1,517.3h.8v.8h-.8zM76.6,525.6h.8v.8h-.8zM90.9,520.6h.8v.8h-.8zM78.1,528.6h.8v.8h-.8zM73.6,524.6h.8v.8h-.8zM70.7,528.1h.8v.8h-.8zM76.0,514.2h.8v.8h-.8zM99.0,520.8h.8v.8h-.8zM64.2,520.6h.8v.8h-.8zM82.5,527.7h.8v.8h-.8zM71.8,526.7h.8v.8h-.8zM67.1,525.0h.8v.8h-.8zM74.4,534.9h.8v.8h-.8zM70.1,523.9h.8v.8h-.8zM78.6,515.1h.8v.8h-.8zM73.9,520.5h.8v.8h-.8zM90.0,522.1h.8v.8h-.8zM61.2,534.3h.8v.8h-.8zM72.5,533.3h.8v.8h-.8zM79.7,522.4h.8v.8h-.8zM81.4,518.1h.8v.8h-.8zM71.9,523.5h.8v.8h-.8zM85.1,522.5h.8v.8h-.8zM86.0,524.2h.8v.8h-.8zM71.2,518.7h.8v.8h-.8zM67.8,528.8h.8v.8h-.8zM108.7,516.4h.8v.8h-.8zM74.9,533.2h.8v.8h-.8zM83.9,515.2h.8v.8h-.8zM74.7,523.2h.8v.8h-.8zM75.3,524.2h.8v.8h-.8zM71.5,516.6h.8v.8h-.8zM67.3,527.0h.8v.8h-.8zM89.0,532.1h.8v.8h-.8zM78.1,526.8h.8v.8h-.8zM100.5,526.6h.8v.8h-.8zM86.9,518.5h.8v.8h-.8zM65.4,512.7h.8v.8h-.8zM95.9,511.7h.8v.8h-.8zM91.4,534.0h.8v.8h-.8zM75.6,527.7h.8v.8h-.8zM89.9,529.0h.8v.8h-.8zM75.6,524.6h.8v.8h-.8zM66.4,524.9h.8v.8h-.8zM83.3,522.7h.8v.8h-.8zM75.8,525.8h.8v.8h-.8zM84.2,527.7h.8v.8h-.8zM64.5,524.1h.8v.8h-.8zM64.8,527.5h.8v.8h-.8zM95.5,534.4h.8v.8h-.8zM83.8,522.9h.8v.8h-.8zM112.8,526.6h.8v.8h-.8zM84.9,519.7h.8v.8h-.8zM101.8,511.7h.8v.8h-.8zM71.9,518.9h.8v.8h-.8zM85.7,517.2h.8v.8h-.8zM92.0,519.7h.8v.8h-.8zM79.0,522.9h.8v.8h-.8zM97.0,512.4h.8v.8h-.8zM106.0,530.0h.8v.8h-.8zM83.2,529.1h.8v.8h-.8zM103.2,521.9h.8v.8h-.8zM85.6,529.6h.8v.8h-.8zM83.5,527.4h.8v.8h-.8zM85.2,529.6h.8v.8h-.8zM70.6,519.6h.8v.8h-.8zM79.5,517.8h.8v.8h-.8zM75.9,520.2h.8v.8h-.8zM73.3,516.2h.8v.8h-.8zM68.7,522.5h.8v.8h-.8zM69.5,527.3h.8v.8h-.8zM87.4,521.9h.8v.8h-.8zM69.1,524.7h.8v.8h-.8zM77.7,522.2h.8v.8h-.8zM91.7,526.1h.8v.8h-.8zM86.9,541.6h.8v.8h-.8zM81.8,530.4h.8v.8h-.8zM86.0,513.6h.8v.8h-.8zM64.4,535.1h.8v.8h-.8zM79.8,526.9h.8v.8h-.8zM68.0,521.3h.8v.8h-.8zM88.7,518.4h.8v.8h-.8zM82.3,518.6h.8v.8h-.8z" fill="#5a5aff" fill-opacity="0.6"/>
<path d="M69.9,530.7h.9v.9h-.9zM75.0,529.4h.9v.9h-.9zM75.8,524.9h.9v.9h-.9zM75.8,525.8h.9v.9h-.9zM72.0,533.1h.9v.9h-.9zM78.2,527.9h.9v.9h-.9zM78.4,533.5h.9v.9h-.9zM74.7,526.7h.9v.9h-.9zM74.0,530.7h.9v.9h-.9zM75.9,533.1h.9v.9h-.9zM75.9,533.6h.9v.9h-.9zM67.3,532.2h.9v.9h-.9zM76.2,531.8h.9v.9h-.9zM76.2,528.6h.9v.9h-.9zM73.0,531.2h.9v.9h-.9zM70.1,530.0h.9v.9h-.9zM77.4,529.8h.9v.9h-.9zM73.0,528.0h.9v.9h-.9zM72.7,528.8h.9v.9h-.9zM77.7,533.2h.9v.9h-.9zM81.3,528.6h.9v.9h-.9zM73.1,530.2h.9v.9h-.9zM73.7,528.6h.9v.9h-.9zM74.2,529.2h.9v.9h-.9zM78.2,530.0h.9v.9h-.9zM71.0,527.5h.9v.9h-.9zM72.7,533.1h.9v.9h-.9zM78.9,529.9h.9v.9h-.9zM72.4,529.1h.9v.9h-.9zM72.4,530.2h.9v.9h-.9zM76.4,530.2h.9v.9h-.9zM69.9,533.1h.9v.9h-.9zM73.5,530.9h.9v.9h-.9zM71.6,528.4h.9v.9h-.9zM78.3,527.0h.9v.9h-.9zM73.8,528.9h.9v.9h-.9zM71.5,529.8h.9v.9h-.9zM82.9,529.1h.9v.9h-.9zM72.9,525.9h.9v.9h-.9zM75.4,533.5h.9v.9h-.9zM78.0,531.3h.9v.9h-.9zM72.7,533.3h.9v.9h-.9zM75.4,529.0h.9v.9h-.9zM69.8,527.4h.9v.9h-.9zM71.0,528.8h.9v.9h-.9zM69.2,525.7h.9v.9h-.9zM67.3,528.7h.9v.9h-.9zM73.3,526.6h.9v.9h-.9zM71.4,527.7h.9v.9h-.9zM68.0,525.1h.9v.9h-.9zM78.5,531.9h.9v.9h-.9zM73.5,526.8h.9v.9h-.9zM77.1,529.9h.9v.9h-.9zM72.0,530.5h.9v.9h-.9zM72.2,529.9h.9v.9h-.9zM69.7,525.7h.9v.9h-.9zM75.1,531.3h.9v.9h-.9zM75.7,526.6h.9v.9h-.9zM75.3,532.3h.9v.9h-.9zM77.1,529.2h.9v.9h-.9zM74.3,530.5h.9v.9h-.9zM70.7,526.0h.9v.9h-.9zM78.8,530.5h.9v.9h-.9zM76.9,531.2h.9v.9h-.9zM75.0,530.9h.9v.9h-.9zM75.7,528.7h.9v.9h-.9zM68.9,527.3h.9v.9h-.9zM71.7,528.4h.9v.9h-.9zM73.2,531.0h.9v.9h-.9zM77.8,526.6h.9v.9h-.9zM72.1,528.2h.9v.9h-.9zM72.1,528.7h.9v.9h-.9zM76.2,529.7h.9v.9h-.9zM76.4,531.3h.9v.9h-.9zM75.4,530.6h.9v.9h-.9zM69.9,527.0h.9v.9h-.9zM73.9,532.8h.9v.9h-.9zM71.3,530.0h.9v.9h-.9zM77.7,529.1h.9v.9h-.9zM74.2,530.4h.9v.9h-.9zM76.1,525.7h.9v.9h-.9zM75.5,532.8h.9v.9h-.9zM80.4,529.9h.9v.9h-.9zM75.6,531.0h.9v.9h-.9zM71.9,527.0h.9v.9h-.9zM75.9,530.0h.9v.9h-.9zM75.5,529.6h.9v.9h-.9zM74.0,532.0h.9v.9h-.9zM73.6,528.4h.9v.9h-.9zM75.4,527.2h.9v.9h-.9zM71.5,528.6h.9v.9h-.9zM76.6,532.1h.9v.9h-.9zM73.9,529.6h.9v.9h-.9zM78.5,526.0h.9v.9h-.9zM75.5,525.2h.9v.9h-.9zM75.7,524.5h.9v.9h-.9zM75.5,529.3h.9v.9h-.9zM78.4,531.9h.9v.9h-.9zM74.1,528.6h.9v.9h-.9zM74.2,528.7h.9v.9h-.9zM76.0,532.9h.9v.9h-.9zM73.8,527.2h.9v.9h-.9zM65.3,530.7h.9v.9h-.9zM75.0,523.2h.9v.9h-.9zM68.7,527.2h.9v.9h-.9zM74.6,529.8h.9v.9h-.9zM76.0,532.2h.9v.9h-.9zM78.5,525.3h.9v.9h-.9zM77.1,529.6h.9v.9h-.9zM71.8,530.2h.9v.9h-.9zM74.8,531.9h.9v.9h-.9zM75.6,529.8h.9v.9h-.9zM75.0,529.5h.9v.9h-.9zM77.9,531.1h.9v.9h-.9zM75.2,529.7h.9v.9h-.9zM74.3,528.0h.9v.9h-.9zM74.7,529.1h.9v.9h-.9zM79.4,527.4h.9v.9h-.9zM74.0,523.3h.9v.9h-.9zM67.6,529.5h.9v.9h-.9zM72.3,532.4h.9v.9h-.9zM75.1,527.6h.9v.9h-.9zM72.3,527.1h.9v.9h-.9zM80.1,527.2h.9v.9h-.9zM71.7,527.6h.9v.9h-.9zM71.9,526.7h.9v.9h-.9zM69.2,532.3h.9v.9h-.9zM77.4,531.2h.9v.9h-.9zM80.0,526.6h.9v.9h-.9zM73.6,530.5h.9v.9h-.9zM72.0,527.9h.9v.9h-.9zM72.5,526.2h.9v.9h-.9zM72.2,525.5h.9v.9h-.9zM70.4,530.9h.9v.9h-.9zM72.6,532.0h.9v.9h-.9zM71.3,528.2h.9v.9h-.9zM71.1,528.5h.9v.9h-.9zM82.0,528.3h.9v.9h-.9zM80.9,522.2h.9v.9h-.9zM76.0,527.8h.9v.9h-.9zM68.9,526.1h.9v.9h-.9zM76.2,530.2h.9v.9h-.9zM81.2,527.4h.9v.9h-.9zM75.5,528.2h.9v.9h-.9zM67.1,530.3h.9v.9h-.9zM70.4,529.1h.9v.9h-.9zM72.2,531.9h.9v.9h-.9zM72.9,527.0h.9v.9h-.9zM73.6,525.9h.9v.9h-.9zM74.0,524.0h.9v.9h-.9zM77.9,531.2h.9v.9h-.9zM70.6,526.6h.9v.9h-.9zM79.6,526.0h.9v.9h-.9zM75.5,528.6h.9v.9h-.9zM78.0,525.5h.9v.9h-.9zM67.2,530.4h.9v.9h-.9zM70.9,532.2h.9v.9h-.9zM74.2,524.6h.9v.9h-.9zM73.1,527.4h.9v.9h-.9zM73.6,527.7h.9v.9h-.9zM75.6,532.4h.9v.9h-.9zM77.7,530.9h.9v.9h-.9zM71.4,531.3h.9v.9h-.9zM74.3,529.3h.9v.9h-.9zM71.6,528.9h.9v.9h-.9zM71.5,530.0h.9v.9h-.9zM77.4,531.9h.9v.9h-.9zM77.1,525.4h.9v.9h-.9zM71.2,525.5h.9v.9h-.9zM69.2,529.9h.9v.9h-.9zM74.1,532.7h.9v.9h-.9zM72.5,527.4h.9v.9h-.9zM76.9,527.7h.9v.9h-.9zM74.8,531.6h.9v.9h-.9zM71.3,532.5h.9v.9h-.9zM65.6,529.9h.9v.9h-.9zM72.2,530.6h.9v.9h-.9zM76.9,533.1h.9v.9h-.9zM72.9,528.4h.9v.9h-.9zM74.8,531.3h.9v.9h-.9zM78.7,531.2h.9v.9h-.9zM69.5,530.4h.9v.9h-.9zM76.7,526.1h.9v.9h-.9zM68.0,527.0h.9v.9h-.9zM75.2,527.4h.9v.9h-.9zM81.7,530.0h.9v.9h-.9zM75.0,528.0h.9v.9h-.9zM71.0,532.1h.9v.9h-.9zM71.6,533.3h.9v.9h-.9zM78.0,528.4h.9v.9h-.9z" fill="#3c3cff" fill-opacity="0.7"/>
<path d="M77.5,531.7h.9v.9h-.9zM77.8,528.4h.9v.9h-.9zM76.8,528.3h.9v.9h-.9zM75.5,529.5h.9v.9h-.9zM77.1,529.1h.9v.9h-.9zM76.9,528.5h.9v.9h-.9zM78.0,529.9h.9v.9h-.9zM79.8,528.6h.9v.9h-.9zM74.5,529.6h.9v.9h-.9zM79.4,529.8h.9v.9h-.9zM76.0,532.1h.9v.9h-.9zM78.3,529.5h.9v.9h-.9zM77.6,530.5h.9v.9h-.9zM77.5,531.5h.9v.9h-.9zM75.6,531.2h.9v.9h-.9zM75.4,527.3h.9v.9h-.9zM75.6,528.5h.9v.9h-.9zM75.1,527.8h.9v.9h-.9zM77.5,529.4h.9v.9h-.9zM76.3,527.0h.9v.9h-.9zM77.5,529.5h.9v.9h-.9zM77.6,528.3h.9v.9h-.9zM77.3,530.4h.9v.9h-.9zM77.0,530.0h.9v.9h-.9zM76.6,526.9h.9v.9h-.9z" fill="#30a0ff" fill-opacity="0.7"/>
<path d="M104.4,530.5h.9v.9h-.9zM97.3,516.8h.9v.9h-.9zM103.3,520.4h.9v.9h-.9zM93.0,526.4h.9v.9h-.9zM96.7,531.6h.9v.9h-.9zM93.3,529.0h.9v.9h-.9zM94.7,537.1h.9v.9h-.9zM103.8,530.6h.9v.9h-.9zM91.1,523.4h.9v.9h-.9zM100.0,517.4h.9v.9h-.9zM93.0,539.2h.9v.9h-.9zM93.2,530.5h.9v.9h-.9zM96.8,532.6h.9v.9h-.9zM91.5,525.7h.9v.9h-.9zM91.9,515.3h.9v.9h-.9zM104.3,527.8h.9v.9h-.9zM96.9,531.1h.9v.9h-.9zM96.4,530.2h.9v.9h-.9zM93.4,515.9h.9v.9h-.9zM97.3,515.4h.9v.9h-.9zM89.8,533.1h.9v.9h-.9zM95.1,524.5h.9v.9h-.9zM91.6,533.8h.9v.9h-.9zM89.8,528.0h.9v.9h-.9zM94.5,537.1h.9v.9h-.9zM93.0,518.7h.9v.9h-.9zM101.9,523.3h.9v.9h-.9zM93.2,534.5h.9v.9h-.9zM87.8,526.4h.9v.9h-.9zM84.3,523.2h.9v.9h-.9zM91.6,524.8h.9v.9h-.9zM89.1,533.4h.9v.9h-.9zM95.2,522.6h.9v.9h-.9zM87.3,526.5h.9v.9h-.9zM93.1,539.8h.9v.9h-.9zM90.1,524.8h.9v.9h-.9zM97.5,518.9h.9v.9h-.9zM94.0,532.7h.9v.9h-.9zM96.8,517.0h.9v.9h-.9zM78.3,529.4h.9v.9h-.9zM88.4,537.9h.9v.9h-.9zM102.7,536.3h.9v.9h-.9zM99.2,535.6h.9v.9h-.9zM99.5,521.5h.9v.9h-.9zM87.0,520.5h.9v.9h-.9zM82.0,527.6h.9v.9h-.9zM92.6,513.1h.9v.9h-.9zM92.2,534.3h.9v.9h-.9zM95.8,531.3h.9v.9h-.9zM95.2,516.9h.9v.9h-.9zM92.4,523.2h.9v.9h-.9zM95.8,525.9h.9v.9h-.9zM91.3,529.0h.9v.9h-.9zM90.4,523.7h.9v.9h-.9zM91.6,529.4h.9v.9h-.9zM88.8,529.1h.9v.9h-.9zM94.5,532.6h.9v.9h-.9zM89.4,524.9h.9v.9h-.9zM96.6,535.6h.9v.9h-.9zM99.7,521.5h.9v.9h-.9zM93.7,520.0h.9v.9h-.9zM88.6,536.3h.9v.9h-.9zM83.7,527.5h.9v.9h-.9zM90.0,528.2h.9v.9h-.9zM93.2,529.2h.9v.9h-.9zM91.7,514.9h.9v.9h-.9zM85.0,532.5h.9v.9h-.9zM88.3,530.3h.9v.9h-.9zM93.2,530.4h.9v.9h-.9zM89.9,526.7h.9v.9h-.9zM92.5,515.6h.9v.9h-.9zM92.1,524.8h.9v.9h-.9zM95.6,519.1h.9v.9h-.9zM93.1,518.1h.9v.9h-.9zM88.3,524.3h.9v.9h-.9zM102.7,535.1h.9v.9h-.9zM88.9,531.1h.9v.9h-.9zM89.9,522.7h.9v.9h-.9zM99.9,521.8h.9v.9h-.9zM98.3,528.4h.9v.9h-.9zM84.4,523.3h.9v.9h-.9zM93.3,523.8h.9v.9h-.9zM93.7,533.4h.9v.9h-.9zM87.1,524.3h.9v.9h-.9zM87.0,525.0h.9v.9h-.9zM88.4,523.9h.9v.9h-.9zM85.7,533.0h.9v.9h-.9zM94.9,521.7h.9v.9h-.9zM83.9,521.1h.9v.9h-.9zM94.1,522.5h.9v.9h-.9zM98.3,529.0h.9v.9h-.9zM88.7,527.8h.9v.9h-.9zM90.8,533.0h.9v.9h-.9zM93.2,514.6h.9v.9h-.9zM101.6,526.6h.9v.9h-.9zM88.0,518.8h.9v.9h-.9zM88.3,517.3h.9v.9h-.9zM89.7,528.7h.9v.9h-.9zM100.5,522.3h.9v.9h-.9zM91.2,528.4h.9v.9h-.9zM95.3,523.9h.9v.9h-.9zM100.6,526.9h.9v.9h-.9zM89.2,525.6h.9v.9h-.9zM94.3,521.0h.9v.9h-.9zM95.2,528.0h.9v.9h-.9zM92.5,509.3h.9v.9h-.9zM81.0,520.6h.9v.9h-.9zM98.1,530.6h.9v.9h-.9zM99.6,526.1h.9v.9h-.9zM88.7,544.7h.9v.9h-.9zM90.6,522.1h.9v.9h-.9zM90.3,542.6h.9v.9h-.9zM95.4,523.1h.9v.9h-.9zM90.8,522.5h.9v.9h-.9zM96.5,528.0h.9v.9h-.9zM85.0,524.1h.9v.9h-.9zM91.3,523.5h.9v.9h-.9zM96.0,525.3h.9v.9h-.9zM97.3,529.9h.9v.9h-.9zM96.5,538.4h.9v.9h-.9zM86.4,521.3h.9v.9h-.9zM85.9,526.1h.9v.9h-.9zM93.6,520.2h.9v.9h-.9zM86.6,536.9h.9v.9h-.9zM84.8,525.7h.9v.9h-.9zM103.7,532.4h.9v.9h-.9zM89.6,520.5h.9v.9h-.9zM88.6,529.6h.9v.9h-.9zM93.5,534.1h.9v.9h-.9zM85.7,529.0h.9v.9h-.9zM85.6,529.8h.9v.9h-.9zM94.5,535.3h.9v.9h-.9zM89.0,528.3h.9v.9h-.9zM91.3,532.5h.9v.9h-.9zM89.0,531.8h.9v.9h-.9zM94.4,530.2h.9v.9h-.9zM87.0,526.8h.9v.9h-.9zM87.5,531.0h.9v.9h-.9zM92.5,519.4h.9v.9h-.9zM83.7,523.8h.9v.9h-.9zM98.7,535.7h.9v.9h-.9zM94.5,514.4h.9v.9h-.9zM89.3,526.2h.9v.9h-.9zM88.0,530.5h.9v.9h-.9zM93.1,523.2h.9v.9h-.9zM88.8,532.3h.9v.9h-.9zM82.7,521.1h.9v.9h-.9zM88.2,526.3h.9v.9h-.9zM88.7,519.8h.9v.9h-.9zM96.4,519.4h.9v.9h-.9zM98.0,536.6h.9v.9h-.9zM95.4,518.9h.9v.9h-.9zM93.9,519.0h.9v.9h-.9zM95.7,517.8h.9v.9h-.9zM93.9,531.2h.9v.9h-.9zM85.1,524.6h.9v.9h-.9zM90.9,531.9h.9v.9h-.9zM87.3,516.8h.9v.9h-.9zM93.0,519.9h.9v.9h-.9zM92.6,530.1h.9v.9h-.9zM87.7,525.1h.9v.9h-.9zM92.1,520.6h.9v.9h-.9zM85.7,520.1h.9v.9h-.9zM100.8,524.0h.9v.9h-.9zM94.5,530.7h.9v.9h-.9zM94.0,540.6h.9v.9h-.9zM101.7,529.0h.9v.9h-.9zM93.4,522.3h.9v.9h-.9zM103.0,529.6h.9v.9h-.9zM102.3,525.0h.9v.9h-.9zM96.9,526.5h.9v.9h-.9zM88.4,518.0h.9v.9h-.9zM93.8,518.9h.9v.9h-.9zM104.5,536.7h.9v.9h-.9zM99.2,511.4h.9v.9h-.9zM87.1,520.9h.9v.9h-.9zM92.5,518.5h.9v.9h-.9zM104.0,528.7h.9v.9h-.9zM86.9,515.2h.9v.9h-.9zM89.0,526.4h.9v.9h-.9zM86.2,528.3h.9v.9h-.9zM94.7,519.5h.9v.9h-.9zM87.3,521.7h.9v.9h-.9zM94.1,528.8h.9v.9h-.9zM94.8,538.5h.9v.9h-.9zM90.4,531.0h.9v.9h-.9zM89.3,525.7h.9v.9h-.9zM88.2,530.6h.9v.9h-.9zM94.3,522.5h.9v.9h-.9zM85.4,535.0h.9v.9h-.9zM91.8,523.8h.9v.9h-.9zM93.4,521.5h.9v.9h-.9zM91.2,522.4h.9v.9h-.9zM95.0,526.0h.9v.9h-.9zM96.0,526.4h.9v.9h-.9zM89.5,518.6h.9v.9h-.9zM90.5,525.9h.9v.9h-.9zM86.1,517.7h.9v.9h-.9zM89.5,516.2h.9v.9h-.9zM90.8,532.1h.9v.9h-.9zM91.8,535.0h.9v.9h-.9zM93.4,520.6h.9v.9h-.9zM87.9,522.8h.9v.9h-.9zM96.2,532.6h.9v.9h-.9zM90.6,525.8h.9v.9h-.9zM100.1,531.6h.9v.9h-.9zM91.7,528.8h.9v.9h-.9zM83.6,532.0h.9v.9h-.9zM97.2,536.1h.9v.9h-.9zM91.0,528.3h.9v.9h-.9zM90.8,516.5h.9v.9h-.9zM94.4,516.4h.9v.9h-.9zM95.3,525.9h.9v.9h-.9zM95.2,524.1h.9v.9h-.9zM94.8,514.9h.9v.9h-.9zM94.2,523.6h.9v.9h-.9zM89.1,510.2h.9v.9h-.9zM94.1,519.9h.9v.9h-.9zM95.8,530.8h.9v.9h-.9zM96.2,519.9h.9v.9h-.9zM96.2,532.0h.9v.9h-.9zM97.5,533.7h.9v.9h-.9zM87.1,522.5h.9v.9h-.9zM100.3,537.6h.9v.9h-.9zM92.2,541.6h.9v.9h-.9zM102.7,535.4h.9v.9h-.9zM105.2,512.2h.9v.9h-.9zM92.9,534.5h.9v.9h-.9zM91.1,522.3h.9v.9h-.9zM96.3,524.5h.9v.9h-.9zM101.7,533.9h.9v.9h-.9zM96.5,535.5h.9v.9h-.9zM96.7,517.0h.9v.9h-.9zM99.5,521.3h.9v.9h-.9zM99.2,524.0h.9v.9h-.9zM93.5,538.6h.9v.9h-.9zM85.6,529.8h.9v.9h-.9zM100.9,520.3h.9v.9h-.9zM86.4,534.3h.9v.9h-.9zM93.6,523.4h.9v.9h-.9zM92.8,520.8h.9v.9h-.9zM105.2,524.3h.9v.9h-.9zM99.4,528.7h.9v.9h-.9zM95.0,528.3h.9v.9h-.9zM87.4,534.5h.9v.9h-.9zM99.0,533.7h.9v.9h-.9zM91.0,533.4h.9v.9h-.9zM93.4,534.6h.9v.9h-.9zM99.0,531.9h.9v.9h-.9zM97.2,532.6h.9v.9h-.9zM97.0,520.9h.9v.9h-.9zM84.9,533.5h.9v.9h-.9zM92.3,525.8h.9v.9h-.9zM91.8,517.9h.9v.9h-.9zM91.6,529.5h.9v.9h-.9zM88.7,522.7h.9v.9h-.9zM92.6,516.6h.9v.9h-.9zM94.7,524.6h.9v.9h-.9zM100.0,515.8h.9v.9h-.9zM96.7,529.3h.9v.9h-.9zM93.1,520.0h.9v.9h-.9zM92.5,522.5h.9v.9h-.9zM93.3,526.3h.9v.9h-.9zM93.7,536.9h.9v.9h-.9zM92.5,511.3h.9v.9h-.9zM93.6,532.5h.9v.9h-.9zM92.6,529.2h.9v.9h-.9zM89.2,533.5h.9v.9h-.9zM94.3,517.6h.9v.9h-.9zM99.3,521.2h.9v.9h-.9zM92.6,515.5h.9v.9h-.9zM94.8,531.5h.9v.9h-.9zM92.7,527.4h.9v.9h-.9zM97.1,524.1h.9v.9h-.9zM92.3,535.7h.9v.9h-.9zM89.0,532.7h.9v.9h-.9zM95.6,522.9h.9v.9h-.9zM89.1,524.8h.9v.9h-.9zM86.2,520.6h.9v.9h-.9zM90.9,530.6h.9v.9h-.9zM90.8,529.2h.9v.9h-.9zM101.3,522.0h.9v.9h-.9zM93.1,526.9h.9v.9h-.9zM88.4,528.3h.9v.9h-.9zM95.3,521.5h.9v.9h-.9zM88.0,528.5h.9v.9h-.9zM98.2,526.0h.9v.9h-.9zM94.5,521.0h.9v.9h-.9zM91.8,525.8h.9v.9h-.9zM94.8,529.3h.9v.9h-.9zM93.5,524.6h.9v.9h-.9zM91.4,528.2h.9v.9h-.9zM91.1,529.7h.9v.9h-.9zM88.3,515.3h.9v.9h-.9zM86.9,532.7h.9v.9h-.9zM95.8,540.2h.9v.9h-.9zM91.7,530.4h.9v.9h-.9zM86.2,512.6h.9v.9h-.9zM99.8,525.9h.9v.9h-.9zM90.3,531.4h.9v.9h-.9zM92.2,516.8h.9v.9h-.9zM91.2,527.6h.9v.9h-.9zM87.5,531.0h.9v.9h-.9zM92.9,524.7h.9v.9h-.9zM88.4,524.6h.9v.9h-.9zM88.5,526.8h.9v.9h-.9zM90.4,529.3h.9v.9h-.9zM85.5,531.3h.9v.9h-.9zM97.7,534.5h.9v.9h-.9zM86.5,519.5h.9v.9h-.9zM92.1,535.8h.9v.9h-.9zM80.7,525.6h.9v.9h-.9zM91.7,532.2h.9v.9h-.9zM93.8,533.3h.9v.9h-.9zM82.6,532.9h.9v.9h-.9zM92.1,512.8h.9v.9h-.9zM91.4,524.4h.9v.9h-.9zM99.3,531.5h.9v.9h-.9zM90.1,527.4h.9v.9h-.9zM93.7,520.3h.9v.9h-.9zM91.6,527.5h.9v.9h-.9zM100.8,526.7h.9v.9h-.9zM90.7,525.4h.9v.9h-.9zM93.9,527.9h.9v.9h-.9zM89.5,523.9h.9v.9h-.9zM85.3,518.4h.9v.9h-.9zM89.4,534.1h.9v.9h-.9zM91.8,521.5h.9v.9h-.9zM92.9,525.3h.9v.9h-.9zM91.7,520.8h.9v.9h-.9zM89.8,524.9h.9v.9h-.9zM81.6,526.0h.9v.9h-.9zM91.1,520.7h.9v.9h-.9zM91.4,519.8h.9v.9h-.9zM97.4,521.3h.9v.9h-.9zM93.3,528.2h.9v.9h-.9zM103.6,527.2h.9v.9h-.9zM94.8,522.2h.9v.9h-.9zM89.8,520.2h.9v.9h-.9zM85.2,520.6h.9v.9h-.9zM90.0,523.1h.9v.9h-.9zM89.9,518.3h.9v.9h-.9zM94.5,522.9h.9v.9h-.9zM102.6,531.3h.9v.9h-.9zM92.4,515.2h.9v.9h-.9zM96.1,522.9h.9v.9h-.9zM91.1,516.6h.9v.9h-.9zM88.3,532.4h.9v.9h-.9zM90.1,532.3h.9v.9h-.9zM91.4,527.2h.9v.9h-.9zM97.7,526.4h.9v.9h-.9zM88.6,535.9h.9v.9h-.9zM99.2,527.3h.9v.9h-.9zM91.6,529.1h.9v.9h-.9zM85.2,527.5h.9v.9h-.9zM84.4,525.8h.9v.9h-.9zM93.8,527.1h.9v.9h-.9zM99.4,525.8h.9v.9h-.9zM96.7,529.6h.9v.9h-.9zM91.3,522.7h.9v.9h-.9zM91.4,541.7h.9v.9h-.9zM97.1,525.5h.9v.9h-.9zM88.4,545.1h.9v.9h-.9zM100.9,536.8h.9v.9h-.9zM93.0,529.2h.9v.9h-.9zM106.5,527.0h.9v.9h-.9zM95.4,527.1h.9v.9h-.9zM99.6,527.0h.9v.9h-.9zM90.8,531.0h.9v.9h-.9zM84.9,532.8h.9v.9h-.9zM91.7,525.7h.9v.9h-.9zM83.5,531.7h.9v.9h-.9zM93.9,520.0h.9v.9h-.9zM99.0,529.5h.9v.9h-.9zM89.7,538.8h.9v.9h-.9zM87.4,518.1h.9v.9h-.9zM91.0,522.9h.9v.9h-.9zM101.4,530.7h.9v.9h-.9zM88.9,517.2h.9v.9h-.9zM97.1,530.0h.9v.9h-.9zM92.3,520.6h.9v.9h-.9zM93.6,527.4h.9v.9h-.9zM93.6,542.6h.9v.9h-.9zM89.5,540.3h.9v.9h-.9zM83.2,531.6h.9v.9h-.9zM93.0,518.0h.9v.9h-.9zM96.8,533.7h.9v.9h-.9zM88.6,528.8h.9v.9h-.9zM91.2,531.6h.9v.9h-.9zM99.0,531.0h.9v.9h-.9zM93.3,534.4h.9v.9h-.9zM88.1,530.2h.9v.9h-.9zM88.4,536.5h.9v.9h-.9zM88.3,522.1h.9v.9h-.9zM96.2,519.5h.9v.9h-.9zM91.4,529.4h.9v.9h-.9zM93.6,531.4h.9v.9h-.9zM95.8,528.2h.9v.9h-.9zM87.8,523.7h.9v.9h-.9zM87.7,531.9h.9v.9h-.9zM91.6,537.9h.9v.9h-.9zM91.0,534.8h.9v.9h-.9zM89.7,534.2h.9v.9h-.9zM85.8,529.3h.9v.9h-.9zM99.6,528.9h.9v.9h-.9zM97.0,529.3h.9v.9h-.9zM96.6,529.4h.9v.9h-.9zM93.3,516.9h.9v.9h-.9zM96.0,525.7h.9v.9h-.9zM95.1,519.7h.9v.9h-.9zM89.5,523.0h.9v.9h-.9zM93.8,519.4h.9v.9h-.9zM94.5,523.2h.9v.9h-.9zM81.8,533.7h.9v.9h-.9zM98.0,518.8h.9v.9h-.9zM92.3,526.8h.9v.9h-.9zM97.5,532.4h.9v.9h-.9zM91.3,530.1h.9v.9h-.9zM95.6,528.5h.9v.9h-.9zM84.3,522.9h.9v.9h-.9zM95.3,537.3h.9v.9h-.9zM91.0,522.4h.9v.9h-.9zM88.1,537.3h.9v.9h-.9zM103.8,522.9h.9v.9h-.9zM89.1,529.0h.9v.9h-.9zM88.0,525.1h.9v.9h-.9zM88.0,524.2h.9v.9h-.9zM90.4,532.7h.9v.9h-.9zM95.1,516.5h.9v.9h-.9zM89.2,528.0h.9v.9h-.9zM92.0,518.5h.9v.9h-.9zM91.7,521.9h.9v.9h-.9zM94.1,529.5h.9v.9h-.9zM87.6,524.6h.9v.9h-.9zM100.6,522.9h.9v.9h-.9zM97.0,519.6h.9v.9h-.9zM96.5,525.3h.9v.9h-.9zM93.8,524.9h.9v.9h-.9zM94.5,534.0h.9v.9h-.9zM92.6,518.5h.9v.9h-.9zM89.0,517.4h.9v.9h-.9zM92.6,520.8h.9v.9h-.9zM89.6,527.8h.9v.9h-.9zM95.9,530.1h.9v.9h-.9zM88.5,523.6h.9v.9h-.9zM93.1,518.6h.9v.9h-.9zM92.9,519.5h.9v.9h-.9zM96.5,530.8h.9v.9h-.9zM91.2,529.2h.9v.9h-.9zM91.2,528.8h.9v.9h-.9zM97.8,533.3h.9v.9h-.9zM84.2,523.8h.9v.9h-.9zM93.9,536.2h.9v.9h-.9zM101.6,532.3h.9v.9h-.9zM95.5,527.5h.9v.9h-.9zM97.1,528.1h.9v.9h-.9zM95.1,525.1h.9v.9h-.9zM92.6,522.7h.9v.9h-.9zM91.4,518.7h.9v.9h-.9zM95.1,518.6h.9v.9h-.9zM98.4,521.3h.9v.9h-.9zM85.7,522.8h.9v.9h-.9zM95.1,520.0h.9v.9h-.9zM91.7,524.5h.9v.9h-.9zM90.4,533.4h.9v.9h-.9zM92.3,528.8h.9v.9h-.9zM91.4,529.8h.9v.9h-.9zM102.9,536.9h.9v.9h-.9zM95.0,526.2h.9v.9h-.9zM92.9,526.5h.9v.9h-.9zM87.8,526.3h.9v.9h-.9zM91.7,530.5h.9v.9h-.9zM103.1,522.4h.9v.9h-.9zM98.4,524.0h.9v.9h-.9zM94.6,538.0h.9v.9h-.9zM96.2,530.5h.9v.9h-.9zM101.3,527.4h.9v.9h-.9zM93.1,537.3h.9v.9h-.9zM98.8,526.3h.9v.9h-.9zM88.7,529.5h.9v.9h-.9zM92.5,525.6h.9v.9h-.9zM91.9,517.4h.9v.9h-.9zM94.5,522.4h.9v.9h-.9zM93.2,532.9h.9v.9h-.9zM92.8,540.6h.9v.9h-.9zM95.7,522.1h.9v.9h-.9zM91.7,519.5h.9v.9h-.9zM94.3,521.3h.9v.9h-.9zM98.4,522.8h.9v.9h-.9zM90.7,528.4h.9v.9h-.9zM100.5,516.5h.9v.9h-.9zM94.7,527.4h.9v.9h-.9zM94.8,510.3h.9v.9h-.9zM94.1,523.9h.9v.9h-.9zM91.7,519.6h.9v.9h-.9zM80.2,527.0h.9v.9h-.9zM98.1,529.7h.9v.9h-.9zM85.0,528.4h.9v.9h-.9zM88.3,535.0h.9v.9h-.9zM88.3,529.5h.9v.9h-.9zM90.4,517.3h.9v.9h-.9zM91.4,522.4h.9v.9h-.9zM99.7,521.8h.9v.9h-.9zM91.7,517.3h.9v.9h-.9zM98.9,529.0h.9v.9h-.9zM90.3,524.2h.9v.9h-.9zM93.6,524.8h.9v.9h-.9zM95.3,540.1h.9v.9h-.9zM101.8,520.9h.9v.9h-.9zM102.8,530.3h.9v.9h-.9zM104.4,525.5h.9v.9h-.9zM99.7,528.9h.9v.9h-.9zM86.9,525.4h.9v.9h-.9zM84.7,525.0h.9v.9h-.9zM96.8,529.1h.9v.9h-.9zM97.2,523.1h.9v.9h-.9zM98.3,521.5h.9v.9h-.9zM94.6,535.0h.9v.9h-.9zM88.6,528.0h.9v.9h-.9zM93.5,538.1h.9v.9h-.9zM88.6,517.9h.9v.9h-.9zM87.2,525.0h.9v.9h-.9zM93.7,525.8h.9v.9h-.9zM91.6,518.8h.9v.9h-.9zM92.8,522.7h.9v.9h-.9zM90.2,513.9h.9v.9h-.9zM87.9,528.3h.9v.9h-.9zM97.9,531.8h.9v.9h-.9zM93.8,519.7h.9v.9h-.9zM92.5,532.4h.9v.9h-.9zM96.8,535.0h.9v.9h-.9zM91.1,531.0h.9v.9h-.9zM97.2,536.5h.9v.9h-.9zM93.9,526.2h.9v.9h-.9zM92.0,520.2h.9v.9h-.9zM91.0,518.9h.9v.9h-.9zM95.2,533.2h.9v.9h-.9zM91.4,523.8h.9v.9h-.9zM92.9,532.0h.9v.9h-.9zM94.7,529.4h.9v.9h-.9zM90.8,525.9h.9v.9h-.9zM100.8,522.5h.9v.9h-.9zM90.6,532.2h.9v.9h-.9zM87.5,531.9h.9v.9h-.9zM100.2,530.5h.9v.9h-.9zM101.1,527.8h.9v.9h-.9zM97.0,514.1h.9v.9h-.9zM87.7,533.8h.9v.9h-.9zM83.5,526.6h.9v.9h-.9zM93.4,524.0h.9v.9h-.9zM103.3,517.3h.9v.9h-.9zM88.2,519.5h.9v.9h-.9zM94.5,531.1h.9v.9h-.9zM85.5,519.0h.9v.9h-.9zM93.6,519.6h.9v.9h-.9zM92.0,511.9h.9v.9h-.9zM97.3,535.6h.9v.9h-.9zM93.3,531.0h.9v.9h-.9zM87.9,529.3h.9v.9h-.9zM100.1,512.6h.9v.9h-.9zM91.8,532.1h.9v.9h-.9zM93.8,530.9h.9v.9h-.9zM87.3,531.9h.9v.9h-.9zM103.4,530.6h.9v.9h-.9zM92.8,527.8h.9v.9h-.9zM98.4,532.5h.9v.9h-.9zM90.8,520.9h.9v.9h-.9zM91.8,529.0h.9v.9h-.9zM97.5,522.9h.9v.9h-.9zM87.6,525.8h.9v.9h-.9zM98.5,518.8h.9v.9h-.9zM92.8,532.0h.9v.9h-.9zM105.9,531.3h.9v.9h-.9zM79.6,525.4h.9v.9h-.9zM92.6,530.7h.9v.9h-.9zM96.8,532.8h.9v.9h-.9zM86.2,532.4h.9v.9h-.9zM98.2,539.0h.9v.9h-.9zM95.9,518.7h.9v.9h-.9zM97.6,536.2h.9v.9h-.9zM87.1,526.7h.9v.9h-.9zM87.0,538.1h.9v.9h-.9zM98.7,526.5h.9v.9h-.9zM79.2,528.7h.9v.9h-.9zM89.6,526.9h.9v.9h-.9zM96.1,516.4h.9v.9h-.9zM101.6,522.9h.9v.9h-.9zM95.5,519.1h.9v.9h-.9zM95.6,519.9h.9v.9h-.9zM78.7,543.3h.9v.9h-.9zM94.0,525.9h.9v.9h-.9zM88.1,514.5h.9v.9h-.9zM87.6,531.2h.9v.9h-.9zM95.9,527.4h.9v.9h-.9zM84.7,520.3h.9v.9h-.9zM84.9,524.3h.9v.9h-.9zM92.5,519.8h.9v.9h-.9zM88.8,531.3h.9v.9h-.9zM80.4,530.7h.9v.9h-.9zM96.3,530.6h.9v.9h-.9zM87.4,516.7h.9v.9h-.9zM88.7,522.7h.9v.9h-.9zM93.2,522.2h.9v.9h-.9zM83.6,521.4h.9v.9h-.9zM93.1,524.7h.9v.9h-.9zM96.4,529.8h.9v.9h-.9zM87.9,528.3h.9v.9h-.9zM98.4,522.8h.9v.9h-.9zM93.5,521.8h.9v.9h-.9zM86.0,534.8h.9v.9h-.9zM91.4,520.6h.9v.9h-.9zM83.0,528.6h.9v.9h-.9zM96.8,521.5h.9v.9h-.9zM97.1,534.5h.9v.9h-.9zM101.1,514.0h.9v.9h-.9zM86.1,533.0h.9v.9h-.9zM90.0,522.0h.9v.9h-.9zM90.5,533.4h.9v.9h-.9zM86.9,529.4h.9v.9h-.9zM92.6,528.3h.9v.9h-.9zM92.1,541.3h.9v.9h-.9zM94.3,530.2h.9v.9h-.9zM92.3,529.0h.9v.9h-.9zM91.8,525.3h.9v.9h-.9zM91.6,519.1h.9v.9h-.9zM91.9,526.4h.9v.9h-.9zM100.5,528.3h.9v.9h-.9zM82.0,523.4h.9v.9h-.9zM87.4,531.3h.9v.9h-.9zM95.5,523.9h.9v.9h-.9zM88.1,535.9h.9v.9h-.9zM92.0,521.2h.9v.9h-.9zM83.7,534.6h.9v.9h-.9zM91.4,523.0h.9v.9h-.9zM103.2,532.7h.9v.9h-.9zM88.2,520.5h.9v.9h-.9zM91.2,511.6h.9v.9h-.9zM87.1,527.0h.9v.9h-.9zM88.5,542.3h.9v.9h-.9zM91.0,528.9h.9v.9h-.9zM100.2,516.3h.9v.9h-.9zM88.2,537.4h.9v.9h-.9zM99.2,515.6h.9v.9h-.9zM91.5,517.9h.9v.9h-.9zM91.4,522.6h.9v.9h-.9zM95.1,527.4h.9v.9h-.9zM96.6,523.4h.9v.9h-.9zM84.6,521.5h.9v.9h-.9zM97.6,526.7h.9v.9h-.9zM84.5,526.0h.9v.9h-.9zM87.4,521.7h.9v.9h-.9zM92.7,530.0h.9v.9h-.9zM87.7,524.4h.9v.9h-.9zM86.8,524.2h.9v.9h-.9zM98.8,517.8h.9v.9h-.9zM88.9,514.4h.9v.9h-.9zM91.3,530.4h.9v.9h-.9zM96.3,520.1h.9v.9h-.9zM88.4,525.1h.9v.9h-.9zM101.2,524.6h.9v.9h-.9zM91.3,535.2h.9v.9h-.9zM88.6,532.0h.9v.9h-.9zM86.1,525.6h.9v.9h-.9zM90.7,536.7h.9v.9h-.9zM92.1,534.3h.9v.9h-.9zM97.8,533.0h.9v.9h-.9zM91.6,533.2h.9v.9h-.9zM91.8,519.0h.9v.9h-.9zM91.7,529.4h.9v.9h-.9zM87.6,522.0h.9v.9h-.9zM84.1,529.2h.9v.9h-.9zM98.2,517.4h.9v.9h-.9zM88.9,534.7h.9v.9h-.9zM84.4,525.1h.9v.9h-.9zM92.9,526.9h.9v.9h-.9zM96.7,524.4h.9v.9h-.9zM87.3,530.5h.9v.9h-.9zM78.3,517.9h.9v.9h-.9zM85.0,522.2h.9v.9h-.9zM91.7,521.9h.9v.9h-.9zM95.9,520.0h.9v.9h-.9zM95.1,523.9h.9v.9h-.9zM96.1,518.2h.9v.9h-.9zM96.1,529.6h.9v.9h-.9zM89.1,516.2h.9v.9h-.9zM91.8,525.4h.9v.9h-.9zM91.9,518.4h.9v.9h-.9zM94.2,523.3h.9v.9h-.9zM89.1,523.2h.9v.9h-.9zM89.0,524.3h.9v.9h-.9zM94.6,523.5h.9v.9h-.9zM95.4,532.8h.9v.9h-.9zM90.4,531.7h.9v.9h-.9zM103.6,524.8h.9v.9h-.9zM88.9,533.0h.9v.9h-.9zM88.7,521.5h.9v.9h-.9zM100.9,522.9h.9v.9h-.9zM88.6,520.4h.9v.9h-.9zM97.3,529.7h.9v.9h-.9zM90.4,537.4h.9v.9h-.9zM92.9,525.0h.9v.9h-.9zM93.5,514.5h.9v.9h-.9zM89.5,520.5h.9v.9h-.9zM94.2,521.0h.9v.9h-.9zM95.5,529.7h.9v.9h-.9zM90.2,523.6h.9v.9h-.9zM86.2,529.5h.9v.9h-.9zM88.6,520.5h.9v.9h-.9zM92.8,528.8h.9v.9h-.9zM93.8,518.9h.9v.9h-.9zM90.9,529.4h.9v.9h-.9zM88.5,526.8h.9v.9h-.9zM86.9,534.8h.9v.9h-.9zM87.4,528.4h.9v.9h-.9zM93.2,527.5h.9v.9h-.9zM89.3,536.7h.9v.9h-.9zM98.9,522.5h.9v.9h-.9zM100.4,524.7h.9v.9h-.9zM95.8,524.2h.9v.9h-.9zM90.7,525.0h.9v.9h-.9zM94.8,531.5h.9v.9h-.9zM97.8,527.6h.9v.9h-.9zM92.9,536.4h.9v.9h-.9zM99.8,535.0h.9v.9h-.9zM90.0,515.9h.9v.9h-.9zM88.9,524.5h.9v.9h-.9zM87.7,524.0h.9v.9h-.9zM94.4,524.4h.9v.9h-.9zM89.6,536.7h.9v.9h-.9zM108.5,511.5h.9v.9h-.9zM88.8,530.7h.9v.9h-.9zM86.3,521.4h.9v.9h-.9zM95.4,515.6h.9v.9h-.9zM96.9,534.3h.9v.9h-.9zM88.4,523.3h.9v.9h-.9zM93.9,530.0h.9v.9h-.9zM94.9,520.9h.9v.9h-.9zM98.3,522.6h.9v.9h-.9zM91.0,528.2h.9v.9h-.9zM91.6,522.9h.9v.9h-.9zM86.8,530.9h.9v.9h-.9zM86.4,529.2h.9v.9h-.9zM92.7,523.3h.9v.9h-.9zM92.1,510.0h.9v.9h-.9z" fill="#3030ff" fill-opacity="0.72"/>
<path d="M96.5,523.5h.9v.9h-.9zM92.8,531.4h.9v.9h-.9zM94.2,511.6h.9v.9h-.9zM89.6,526.4h.9v.9h-.9zM96.7,529.5h.9v.9h-.9zM96.7,523.5h.9v.9h-.9zM93.1,532.3h.9v.9h-.9zM93.3,515.0h.9v.9h-.9zM92.5,537.1h.9v.9h-.9zM95.7,529.7h.9v.9h-.9zM96.3,526.2h.9v.9h-.9zM91.6,519.8h.9v.9h-.9zM96.3,518.0h.9v.9h-.9zM92.7,526.2h.9v.9h-.9zM89.1,525.9h.9v.9h-.9zM87.9,527.6h.9v.9h-.9zM89.7,513.1h.9v.9h-.9zM90.7,528.1h.9v.9h-.9zM88.9,521.4h.9v.9h-.9zM88.9,529.6h.9v.9h-.9zM95.0,518.8h.9v.9h-.9zM93.8,517.2h.9v.9h-.9zM94.8,524.2h.9v.9h-.9zM88.3,527.7h.9v.9h-.9zM93.7,531.0h.9v.9h-.9zM98.4,528.6h.9v.9h-.9zM89.9,529.6h.9v.9h-.9zM84.2,527.2h.9v.9h-.9zM88.4,530.5h.9v.9h-.9zM86.3,533.2h.9v.9h-.9zM92.0,528.6h.9v.9h-.9zM95.7,528.0h.9v.9h-.9zM95.4,532.6h.9v.9h-.9zM99.2,531.5h.9v.9h-.9zM91.2,524.1h.9v.9h-.9zM100.0,526.2h.9v.9h-.9zM94.9,524.7h.9v.9h-.9zM94.8,518.0h.9v.9h-.9zM90.8,532.2h.9v.9h-.9zM93.1,517.5h.9v.9h-.9zM95.5,527.8h.9v.9h-.9zM93.3,525.8h.9v.9h-.9zM91.1,520.7h.9v.9h-.9zM90.8,535.1h.9v.9h-.9zM88.4,520.5h.9v.9h-.9zM93.0,523.3h.9v.9h-.9zM87.8,516.2h.9v.9h-.9zM90.9,521.5h.9v.9h-.9zM87.5,530.5h.9v.9h-.9zM92.1,532.1h.9v.9h-.9zM100.3,527.5h.9v.9h-.9zM91.1,523.5h.9v.9h-.9zM93.9,524.3h.9v.9h-.9zM86.3,528.4h.9v.9h-.9zM93.4,535.5h.9v.9h-.9zM94.3,527.0h.9v.9h-.9zM86.5,521.0h.9v.9h-.9zM96.4,521.7h.9v.9h-.9zM98.2,525.8h.9v.9h-.9zM93.9,523.4h.9v.9h-.9zM96.9,530.2h.9v.9h-.9zM92.8,514.9h.9v.9h-.9zM95.7,529.7h.9v.9h-.9zM88.4,524.5h.9v.9h-.9zM95.0,533.0h.9v.9h-.9zM90.3,513.8h.9v.9h-.9zM95.6,521.6h.9v.9h-.9zM90.6,535.2h.9v.9h-.9zM93.0,521.8h.9v.9h-.9zM93.9,533.4h.9v.9h-.9zM86.0,531.7h.9v.9h-.9zM95.1,524.4h.9v.9h-.9zM91.2,519.2h.9v.9h-.9zM98.9,516.9h.9v.9h-.9zM94.6,519.5h.9v.9h-.9zM88.8,531.9h.9v.9h-.9zM92.6,523.0h.9v.9h-.9zM95.6,525.3h.9v.9h-.9zM94.4,510.9h.9v.9h-.9zM97.4,520.6h.9v.9h-.9zM88.3,536.3h.9v.9h-.9zM97.9,530.5h.9v.9h-.9zM90.2,522.3h.9v.9h-.9zM90.0,530.0h.9v.9h-.9zM85.1,524.6h.9v.9h-.9zM86.2,526.2h.9v.9h-.9zM92.8,520.4h.9v.9h-.9zM92.8,525.2h.9v.9h-.9zM91.0,537.1h.9v.9h-.9zM96.4,528.5h.9v.9h-.9zM91.2,522.8h.9v.9h-.9zM92.1,526.4h.9v.9h-.9zM88.3,521.6h.9v.9h-.9zM90.4,522.4h.9v.9h-.9zM93.6,526.2h.9v.9h-.9zM91.9,531.7h.9v.9h-.9zM95.5,523.2h.9v.9h-.9zM95.7,517.1h.9v.9h-.9zM97.0,524.4h.9v.9h-.9zM91.4,531.3h.9v.9h-.9zM88.1,525.0h.9v.9h-.9zM101.0,530.6h.9v.9h-.9zM85.6,524.2h.9v.9h-.9zM84.1,523.2h.9v.9h-.9zM95.6,521.9h.9v.9h-.9zM93.1,531.8h.9v.9h-.9zM89.8,522.0h.9v.9h-.9zM86.7,525.7h.9v.9h-.9zM95.7,530.3h.9v.9h-.9zM93.5,524.5h.9v.9h-.9zM89.4,532.3h.9v.9h-.9zM88.8,520.5h.9v.9h-.9zM90.6,524.5h.9v.9h-.9zM98.1,524.4h.9v.9h-.9zM94.8,522.5h.9v.9h-.9zM95.7,514.6h.9v.9h-.9zM90.0,530.7h.9v.9h-.9zM90.7,527.2h.9v.9h-.9zM92.5,528.1h.9v.9h-.9zM93.3,521.9h.9v.9h-.9zM93.5,526.7h.9v.9h-.9zM93.9,520.6h.9v.9h-.9zM87.4,529.9h.9v.9h-.9zM86.3,537.1h.9v.9h-.9zM92.6,525.0h.9v.9h-.9zM90.3,523.2h.9v.9h-.9zM93.2,532.3h.9v.9h-.9zM97.0,527.8h.9v.9h-.9zM89.3,528.6h.9v.9h-.9zM98.0,536.5h.9v.9h-.9zM93.5,524.9h.9v.9h-.9zM92.0,525.1h.9v.9h-.9zM94.7,529.6h.9v.9h-.9zM91.0,525.6h.9v.9h-.9zM94.4,539.2h.9v.9h-.9zM89.2,531.5h.9v.9h-.9zM91.1,522.6h.9v.9h-.9zM87.4,528.6h.9v.9h-.9zM91.8,524.6h.9v.9h-.9zM84.4,529.8h.9v.9h-.9zM95.3,516.3h.9v.9h-.9zM92.9,530.5h.9v.9h-.9zM92.2,525.2h.9v.9h-.9zM89.2,529.3h.9v.9h-.9zM93.4,525.4h.9v.9h-.9zM88.4,536.0h.9v.9h-.9zM98.0,521.0h.9v.9h-.9zM90.2,528.7h.9v.9h-.9zM87.5,523.0h.9v.9h-.9zM93.6,524.1h.9v.9h-.9zM87.3,522.6h.9v.9h-.9zM87.1,527.8h.9v.9h-.9zM90.5,515.6h.9v.9h-.9zM93.2,529.2h.9v.9h-.9zM88.8,521.8h.9v.9h-.9zM94.7,525.5h.9v.9h-.9zM96.5,518.4h.9v.9h-.9zM98.3,528.9h.9v.9h-.9zM82.7,522.7h.9v.9h-.9zM93.5,523.0h.9v.9h-.9zM89.2,520.6h.9v.9h-.9zM88.7,527.9h.9v.9h-.9zM89.8,519.6h.9v.9h-.9zM90.8,525.3h.9v.9h-.9zM90.2,522.2h.9v.9h-.9zM91.1,526.2h.9v.9h-.9zM90.2,523.1h.9v.9h-.9zM92.1,529.7h.9v.9h-.9zM91.9,520.1h.9v.9h-.9zM90.4,527.4h.9v.9h-.9zM89.7,532.5h.9v.9h-.9zM92.1,529.1h.9v.9h-.9zM98.0,525.1h.9v.9h-.9zM89.9,521.0h.9v.9h-.9zM95.1,522.8h.9v.9h-.9zM96.9,522.4h.9v.9h-.9zM93.0,525.1h.9v.9h-.9zM91.7,524.9h.9v.9h-.9zM92.6,530.2h.9v.9h-.9zM93.1,520.9h.9v.9h-.9zM95.6,523.7h.9v.9h-.9zM93.3,528.0h.9v.9h-.9zM99.2,536.2h.9v.9h-.9zM94.6,519.1h.9v.9h-.9zM87.3,524.5h.9v.9h-.9zM93.9,519.1h.9v.9h-.9zM94.6,534.3h.9v.9h-.9zM87.0,526.4h.9v.9h-.9zM97.5,523.3h.9v.9h-.9zM89.5,525.2h.9v.9h-.9zM94.4,527.5h.9v.9h-.9zM91.1,524.1h.9v.9h-.9zM93.1,532.6h.9v.9h-.9zM91.4,536.6h.9v.9h-.9zM93.6,524.0h.9v.9h-.9zM91.5,528.8h.9v.9h-.9zM84.1,532.0h.9v.9h-.9zM91.9,527.4h.9v.9h-.9zM96.0,523.2h.9v.9h-.9zM90.0,526.0h.9v.9h-.9zM98.3,537.2h.9v.9h-.9zM94.4,526.6h.9v.9h-.9zM93.3,526.8h.9v.9h-.9zM93.4,527.4h.9v.9h-.9zM90.0,510.5h.9v.9h-.9zM93.2,519.4h.9v.9h-.9zM88.9,529.0h.9v.9h-.9zM99.2,531.4h.9v.9h-.9zM90.2,527.9h.9v.9h-.9zM90.5,530.8h.9v.9h-.9zM94.4,536.9h.9v.9h-.9zM98.3,529.8h.9v.9h-.9zM100.9,521.3h.9v.9h-.9zM91.2,524.4h.9v.9h-.9zM89.0,518.3h.9v.9h-.9zM94.0,523.1h.9v.9h-.9zM88.2,532.7h.9v.9h-.9zM85.3,522.7h.9v.9h-.9zM89.7,524.3h.9v.9h-.9zM97.6,535.0h.9v.9h-.9zM92.4,525.4h.9v.9h-.9zM94.1,529.2h.9v.9h-.9zM95.4,525.9h.9v.9h-.9zM94.8,523.4h.9v.9h-.9zM92.3,533.9h.9v.9h-.9zM89.8,531.0h.9v.9h-.9zM89.5,531.0h.9v.9h-.9zM87.9,526.9h.9v.9h-.9zM94.9,522.6h.9v.9h-.9zM95.6,530.3h.9v.9h-.9zM95.2,535.5h.9v.9h-.9zM97.6,529.3h.9v.9h-.9zM92.3,518.3h.9v.9h-.9zM93.9,530.6h.9v.9h-.9zM92.5,526.5h.9v.9h-.9zM87.8,528.6h.9v.9h-.9zM90.1,516.7h.9v.9h-.9zM93.1,522.7h.9v.9h-.9zM82.8,523.8h.9v.9h-.9zM84.9,523.4h.9v.9h-.9zM92.1,526.1h.9v.9h-.9zM96.4,532.6h.9v.9h-.9zM97.1,522.7h.9v.9h-.9zM88.8,532.9h.9v.9h-.9zM91.2,527.0h.9v.9h-.9zM92.1,523.0h.9v.9h-.9zM96.2,521.4h.9v.9h-.9zM87.6,535.2h.9v.9h-.9zM88.3,532.3h.9v.9h-.9zM96.1,516.7h.9v.9h-.9zM98.6,526.2h.9v.9h-.9zM91.7,527.0h.9v.9h-.9zM92.6,525.0h.9v.9h-.9zM96.7,525.8h.9v.9h-.9zM94.7,530.0h.9v.9h-.9zM92.3,525.0h.9v.9h-.9zM94.7,523.3h.9v.9h-.9zM92.6,527.7h.9v.9h-.9zM92.0,538.0h.9v.9h-.9z" fill="#1c78ff" fill-opacity="0.75"/>
<path d="M90.6,524.6h.9v.9h-.9zM96.4,528.9h.9v.9h-.9zM89.1,527.1h.9v.9h-.9zM91.7,519.8h.9v.9h-.9zM92.1,526.1h.9v.9h-.9zM91.8,527.5h.9v.9h-.9zM92.9,528.4h.9v.9h-.9zM90.2,519.7h.9v.9h-.9zM92.3,526.6h.9v.9h-.9zM92.1,524.5h.9v.9h-.9zM94.1,524.9h.9v.9h-.9zM93.2,530.1h.9v.9h-.9zM91.5,527.2h.9v.9h-.9zM93.8,528.8h.9v.9h-.9zM93.9,521.9h.9v.9h-.9zM95.8,530.6h.9v.9h-.9zM87.1,525.0h.9v.9h-.9zM95.3,517.8h.9v.9h-.9zM94.8,531.9h.9v.9h-.9zM87.3,528.0h.9v.9h-.9zM94.0,533.2h.9v.9h-.9zM94.1,528.0h.9v.9h-.9zM93.1,526.1h.9v.9h-.9zM95.2,532.2h.9v.9h-.9zM96.0,527.4h.9v.9h-.9zM89.4,522.6h.9v.9h-.9zM96.7,526.3h.9v.9h-.9zM97.6,522.2h.9v.9h-.9zM85.3,520.9h.9v.9h-.9zM97.0,517.0h.9v.9h-.9zM92.5,532.5h.9v.9h-.9zM92.3,525.1h.9v.9h-.9zM93.3,527.8h.9v.9h-.9zM89.2,525.9h.9v.9h-.9zM95.9,520.3h.9v.9h-.9zM93.5,529.3h.9v.9h-.9zM87.5,532.8h.9v.9h-.9zM94.8,524.8h.9v.9h-.9zM92.0,527.2h.9v.9h-.9zM86.9,529.1h.9v.9h-.9zM89.5,532.0h.9v.9h-.9zM95.8,531.6h.9v.9h-.9zM93.8,518.3h.9v.9h-.9zM94.5,531.5h.9v.9h-.9zM88.0,522.3h.9v.9h-.9zM90.5,530.0h.9v.9h-.9zM94.0,526.6h.9v.9h-.9zM91.6,529.8h.9v.9h-.9zM94.9,524.1h.9v.9h-.9zM97.0,522.8h.9v.9h-.9zM94.1,525.9h.9v.9h-.9zM94.7,525.1h.9v.9h-.9zM91.8,530.9h.9v.9h-.9zM90.0,525.4h.9v.9h-.9zM92.7,527.5h.9v.9h-.9zM94.0,522.1h.9v.9h-.9zM91.6,527.5h.9v.9h-.9zM93.7,532.5h.9v.9h-.9zM93.1,527.4h.9v.9h-.9zM90.8,528.0h.9v.9h-.9zM95.5,531.6h.9v.9h-.9zM88.3,529.2h.9v.9h-.9zM91.4,518.3h.9v.9h-.9zM90.7,531.8h.9v.9h-.9zM94.6,522.5h.9v.9h-.9zM89.2,534.9h.9v.9h-.9zM94.1,531.6h.9v.9h-.9zM91.5,525.8h.9v.9h-.9zM94.3,527.4h.9v.9h-.9zM88.5,524.8h.9v.9h-.9zM94.0,528.0h.9v.9h-.9zM92.8,523.1h.9v.9h-.9zM84.7,535.8h.9v.9h-.9zM93.4,524.8h.9v.9h-.9zM93.8,522.3h.9v.9h-.9zM99.9,526.9h.9v.9h-.9zM91.5,530.2h.9v.9h-.9zM91.1,519.2h.9v.9h-.9zM92.0,522.8h.9v.9h-.9zM90.8,534.5h.9v.9h-.9zM92.4,530.3h.9v.9h-.9zM91.6,523.4h.9v.9h-.9zM101.1,529.4h.9v.9h-.9zM89.6,520.4h.9v.9h-.9zM90.2,523.7h.9v.9h-.9zM95.0,523.6h.9v.9h-.9zM95.2,530.4h.9v.9h-.9zM93.5,529.0h.9v.9h-.9zM91.1,531.0h.9v.9h-.9zM89.3,523.4h.9v.9h-.9zM94.8,526.9h.9v.9h-.9zM90.9,533.6h.9v.9h-.9zM92.7,533.4h.9v.9h-.9zM89.5,526.2h.9v.9h-.9zM93.9,528.9h.9v.9h-.9zM94.9,527.8h.9v.9h-.9zM92.0,526.4h.9v.9h-.9zM96.7,529.5h.9v.9h-.9zM88.0,524.2h.9v.9h-.9zM92.7,527.5h.9v.9h-.9zM90.8,526.3h.9v.9h-.9zM92.7,522.0h.9v.9h-.9zM92.1,533.4h.9v.9h-.9zM88.8,524.2h.9v.9h-.9zM93.4,526.3h.9v.9h-.9zM92.9,526.3h.9v.9h-.9zM95.7,521.2h.9v.9h-.9zM92.6,528.7h.9v.9h-.9zM94.5,523.6h.9v.9h-.9zM92.6,526.8h.9v.9h-.9zM86.9,526.9h.9v.9h-.9zM94.6,522.8h.9v.9h-.9zM93.1,531.5h.9v.9h-.9zM90.1,526.5h.9v.9h-.9zM88.9,527.8h.9v.9h-.9zM97.3,526.7h.9v.9h-.9zM92.5,514.2h.9v.9h-.9zM93.9,526.2h.9v.9h-.9zM90.2,523.9h.9v.9h-.9zM96.1,529.5h.9v.9h-.9zM94.4,529.8h.9v.9h-.9zM93.3,527.5h.9v.9h-.9zM92.0,528.5h.9v.9h-.9zM92.4,528.1h.9v.9h-.9zM92.4,525.2h.9v.9h-.9zM93.0,523.2h.9v.9h-.9zM93.7,531.0h.9v.9h-.9zM88.5,526.8h.9v.9h-.9zM91.3,529.6h.9v.9h-.9zM88.8,519.4h.9v.9h-.9zM92.5,535.4h.9v.9h-.9zM89.0,532.5h.9v.9h-.9zM90.0,529.1h.9v.9h-.9zM89.1,523.4h.9v.9h-.9zM93.1,527.4h.9v.9h-.9zM91.7,518.5h.9v.9h-.9zM93.2,532.5h.9v.9h-.9zM88.4,530.6h.9v.9h-.9zM92.0,521.8h.9v.9h-.9zM92.9,534.9h.9v.9h-.9zM91.8,526.3h.9v.9h-.9zM88.5,530.3h.9v.9h-.9zM95.2,529.0h.9v.9h-.9zM94.1,532.6h.9v.9h-.9zM91.7,527.9h.9v.9h-.9zM86.9,533.5h.9v.9h-.9zM90.9,532.6h.9v.9h-.9zM96.8,530.8h.9v.9h-.9zM88.8,519.4h.9v.9h-.9zM94.0,534.4h.9v.9h-.9zM93.1,533.6h.9v.9h-.9zM91.2,523.8h.9v.9h-.9zM95.0,531.0h.9v.9h-.9zM97.0,532.6h.9v.9h-.9zM90.5,527.0h.9v.9h-.9zM87.8,526.2h.9v.9h-.9zM88.3,533.8h.9v.9h-.9zM90.9,523.1h.9v.9h-.9zM95.2,526.8h.9v.9h-.9zM92.7,523.9h.9v.9h-.9zM94.0,533.3h.9v.9h-.9zM91.8,528.6h.9v.9h-.9zM94.0,530.8h.9v.9h-.9zM91.3,531.8h.9v.9h-.9zM94.1,534.6h.9v.9h-.9zM92.1,524.0h.9v.9h-.9zM93.0,528.8h.9v.9h-.9zM92.2,528.7h.9v.9h-.9zM93.2,532.8h.9v.9h-.9zM94.8,524.6h.9v.9h-.9z" fill="#20c0e0" fill-opacity="0.75"/>
<path d="M90.4,520.9h.9v.9h-.9zM91.9,517.9h.9v.9h-.9zM93.3,521.9h.9v.9h-.9zM92.5,521.9h.9v.9h-.9zM89.5,524.2h.9v.9h-.9zM92.5,518.6h.9v.9h-.9zM92.3,518.1h.9v.9h-.9zM92.4,520.3h.9v.9h-.9zM90.6,521.0h.9v.9h-.9zM90.2,518.8h.9v.9h-.9zM90.5,523.5h.9v.9h-.9zM91.6,519.5h.9v.9h-.9zM91.3,520.3h.9v.9h-.9zM91.0,519.4h.9v.9h-.9zM92.9,522.2h.9v.9h-.9zM92.4,521.4h.9v.9h-.9zM92.3,518.6h.9v.9h-.9zM91.5,523.6h.9v.9h-.9zM89.4,522.3h.9v.9h-.9zM90.5,520.1h.9v.9h-.9zM91.9,521.5h.9v.9h-.9zM95.4,521.3h.9v.9h-.9zM90.0,517.7h.9v.9h-.9zM92.0,519.1h.9v.9h-.9zM91.1,521.4h.9v.9h-.9zM89.8,521.9h.9v.9h-.9zM91.3,519.5h.9v.9h-.9zM91.1,518.2h.9v.9h-.9zM94.1,520.0h.9v.9h-.9zM90.2,518.4h.9v.9h-.9zM92.8,520.4h.9v.9h-.9zM91.2,516.4h.9v.9h-.9zM91.2,518.6h.9v.9h-.9zM89.9,522.9h.9v.9h-.9zM92.3,519.9h.9v.9h-.9zM91.5,517.2h.9v.9h-.9zM90.4,523.3h.9v.9h-.9zM89.3,519.3h.9v.9h-.9zM91.4,524.4h.9v.9h-.9zM90.7,520.4h.9v.9h-.9zM93.6,522.5h.9v.9h-.9zM91.0,520.0h.9v.9h-.9zM93.8,522.9h.9v.9h-.9zM93.9,522.6h.9v.9h-.9zM90.9,521.4h.9v.9h-.9zM92.5,519.4h.9v.9h-.9zM91.6,520.2h.9v.9h-.9zM94.2,520.3h.9v.9h-.9zM91.8,520.4h.9v.9h-.9zM91.8,523.3h.9v.9h-.9z" fill="#38c050" fill-opacity="0.8"/>
<path d="M93.9,529.2h.9v.9h-.9zM92.7,525.7h.9v.9h-.9zM96.7,527.5h.9v.9h-.9zM90.5,531.1h.9v.9h-.9zM91.2,529.1h.9v.9h-.9zM93.2,528.9h.9v.9h-.9zM92.6,531.9h.9v.9h-.9zM97.2,531.4h.9v.9h-.9zM93.9,529.4h.9v.9h-.9zM96.1,526.5h.9v.9h-.9zM91.7,527.7h.9v.9h-.9zM91.9,528.5h.9v.9h-.9zM93.1,528.9h.9v.9h-.9zM94.4,520.8h.9v.9h-.9zM95.0,524.5h.9v.9h-.9zM94.2,528.6h.9v.9h-.9zM95.6,527.6h.9v.9h-.9zM93.6,530.6h.9v.9h-.9zM95.7,527.3h.9v.9h-.9zM89.5,531.5h.9v.9h-.9zM91.7,527.7h.9v.9h-.9zM93.3,527.9h.9v.9h-.9zM95.4,529.8h.9v.9h-.9zM94.2,530.6h.9v.9h-.9zM94.6,531.4h.9v.9h-.9zM91.4,525.1h.9v.9h-.9zM93.5,525.2h.9v.9h-.9zM92.9,527.1h.9v.9h-.9zM92.4,523.6h.9v.9h-.9zM93.2,529.2h.9v.9h-.9zM93.4,525.4h.9v.9h-.9zM95.4,531.1h.9v.9h-.9zM91.2,525.6h.9v.9h-.9zM93.4,526.2h.9v.9h-.9zM93.2,521.9h.9v.9h-.9zM90.1,523.7h.9v.9h-.9zM95.5,528.3h.9v.9h-.9zM91.3,526.0h.9v.9h-.9zM91.7,527.1h.9v.9h-.9zM96.3,526.0h.9v.9h-.9zM97.4,526.3h.9v.9h-.9zM94.4,528.3h.9v.9h-.9zM92.5,532.0h.9v.9h-.9zM96.0,525.3h.9v.9h-.9zM92.7,529.8h.9v.9h-.9zM94.3,526.0h.9v.9h-.9zM92.9,525.6h.9v.9h-.9zM91.8,528.4h.9v.9h-.9zM95.0,530.4h.9v.9h-.9zM92.5,527.8h.9v.9h-.9zM91.4,525.7h.9v.9h-.9zM91.2,529.6h.9v.9h-.9zM92.1,531.3h.9v.9h-.9zM93.9,529.8h.9v.9h-.9zM92.1,527.6h.9v.9h-.9zM93.2,529.0h.9v.9h-.9zM93.0,529.1h.9v.9h-.9zM96.0,526.7h.9v.9h-.9zM96.4,522.9h.9v.9h-.9zM92.7,526.7h.9v.9h-.9zM91.5,529.9h.9v.9h-.9zM95.0,528.9h.9v.9h-.9zM94.3,525.9h.9v.9h-.9zM95.9,526.3h.9v.9h-.9zM93.7,526.7h.9v.9h-.9zM88.6,530.5h.9v.9h-.9zM92.6,529.3h.9v.9h-.9zM95.4,525.9h.9v.9h-.9zM91.6,527.9h.9v.9h-.9zM91.3,530.1h.9v.9h-.9zM91.0,528.4h.9v.9h-.9zM96.4,532.1h.9v.9h-.9zM91.3,530.0h.9v.9h-.9zM88.8,533.0h.9v.9h-.9zM94.2,528.3h.9v.9h-.9zM93.3,525.8h.9v.9h-.9zM93.5,526.7h.9v.9h-.9zM92.4,525.0h.9v.9h-.9zM90.5,527.4h.9v.9h-.9zM92.8,526.9h.9v.9h-.9zM96.2,531.7h.9v.9h-.9zM91.8,523.9h.9v.9h-.9zM92.0,527.2h.9v.9h-.9zM94.8,528.6h.9v.9h-.9zM94.1,530.6h.9v.9h-.9zM86.7,527.8h.9v.9h-.9zM94.5,525.0h.9v.9h-.9zM94.2,530.4h.9v.9h-.9zM92.2,526.2h.9v.9h-.9zM93.7,527.8h.9v.9h-.9zM93.4,526.1h.9v.9h-.9zM89.3,530.9h.9v.9h-.9zM90.7,529.7h.9v.9h-.9zM91.2,524.0h.9v.9h-.9zM95.7,528.2h.9v.9h-.9zM90.4,527.3h.9v.9h-.9zM93.5,530.0h.9v.9h-.9zM88.4,528.4h.9v.9h-.9zM93.9,528.4h.9v.9h-.9zM92.7,528.2h.9v.9h-.9zM95.6,530.9h.9v.9h-.9zM94.0,530.3h.9v.9h-.9zM93.7,526.4h.9v.9h-.9zM93.4,530.5h.9v.9h-.9zM94.1,529.4h.9v.9h-.9zM93.5,531.0h.9v.9h-.9zM93.3,527.8h.9v.9h-.9zM96.8,526.5h.9v.9h-.9zM93.3,523.5h.9v.9h-.9zM91.8,530.2h.9v.9h-.9zM96.4,527.4h.9v.9h-.9zM92.8,525.1h.9v.9h-.9zM91.3,525.3h.9v.9h-.9zM93.2,528.9h.9v.9h-.9zM93.8,526.7h.9v.9h-.9zM92.8,531.7h.9v.9h-.9zM94.2,528.6h.9v.9h-.9zM92.8,527.5h.9v.9h-.9zM92.4,524.3h.9v.9h-.9zM95.5,527.6h.9v.9h-.9zM96.5,528.0h.9v.9h-.9zM90.2,529.4h.9v.9h-.9zM95.3,531.8h.9v.9h-.9zM92.4,528.2h.9v.9h-.9zM89.3,529.7h.9v.9h-.9zM92.9,531.1h.9v.9h-.9zM90.9,530.2h.9v.9h-.9zM94.9,529.6h.9v.9h-.9zM92.5,529.5h.9v.9h-.9zM95.5,531.1h.9v.9h-.9zM90.3,527.0h.9v.9h-.9zM91.3,526.4h.9v.9h-.9zM92.9,530.5h.9v.9h-.9zM93.0,528.1h.9v.9h-.9zM95.6,524.8h.9v.9h-.9zM92.1,527.4h.9v.9h-.9zM89.8,527.4h.9v.9h-.9zM94.1,526.0h.9v.9h-.9zM92.3,527.8h.9v.9h-.9zM95.0,525.1h.9v.9h-.9z" fill="#40c040" fill-opacity="0.85"/>
<path d="M94.6,527.1h.9v.9h-.9zM94.9,527.7h.9v.9h-.9zM94.1,528.2h.9v.9h-.9zM94.3,525.7h.9v.9h-.9zM96.6,525.2h.9v.9h-.9zM92.5,528.8h.9v.9h-.9zM95.4,528.0h.9v.9h-.9zM94.2,526.2h.9v.9h-.9zM95.0,527.9h.9v.9h-.9zM93.7,529.9h.9v.9h-.9zM95.3,528.3h.9v.9h-.9zM94.8,530.8h.9v.9h-.9zM92.3,527.4h.9v.9h-.9zM92.8,526.1h.9v.9h-.9zM92.0,528.6h.9v.9h-.9zM95.3,527.8h.9v.9h-.9zM93.8,527.6h.9v.9h-.9zM94.9,527.5h.9v.9h-.9zM93.2,529.5h.9v.9h-.9zM93.8,527.5h.9v.9h-.9zM95.3,529.0h.9v.9h-.9zM92.7,528.2h.9v.9h-.9zM95.6,527.6h.9v.9h-.9zM95.4,529.2h.9v.9h-.9zM92.8,526.9h.9v.9h-.9zM93.2,528.7h.9v.9h-.9zM96.5,526.7h.9v.9h-.9zM92.9,527.5h.9v.9h-.9zM94.0,527.9h.9v.9h-.9zM95.7,529.4h.9v.9h-.9zM92.5,527.5h.9v.9h-.9zM93.0,529.4h.9v.9h-.9zM94.8,529.9h.9v.9h-.9zM94.4,526.4h.9v.9h-.9zM94.9,529.4h.9v.9h-.9zM94.7,528.4h.9v.9h-.9zM93.4,528.0h.9v.9h-.9zM95.6,525.5h.9v.9h-.9zM94.5,528.0h.9v.9h-.9zM93.3,528.3h.9v.9h-.9zM96.0,531.5h.9v.9h-.9zM93.3,529.3h.9v.9h-.9zM93.1,527.4h.9v.9h-.9zM92.0,530.5h.9v.9h-.9zM94.3,526.5h.9v.9h-.9zM94.8,526.4h.9v.9h-.9zM92.0,530.0h.9v.9h-.9zM95.7,527.6h.9v.9h-.9zM93.4,529.3h.9v.9h-.9zM94.2,528.2h.9v.9h-.9zM94.1,528.3h.9v.9h-.9zM94.4,528.1h.9v.9h-.9zM93.5,529.6h.9v.9h-.9zM91.8,527.7h.9v.9h-.9zM92.8,525.6h.9v.9h-.9zM94.8,528.2h.9v.9h-.9zM94.4,530.1h.9v.9h-.9zM94.3,527.2h.9v.9h-.9zM94.0,528.9h.9v.9h-.9zM91.5,526.8h.9v.9h-.9z" fill="#b8b020" fill-opacity="0.9"/>
<path d="M93.3,528.2h.9v.9h-.9zM93.7,527.3h.9v.9h-.9zM93.8,527.5h.9v.9h-.9zM93.8,527.6h.9v.9h-.9zM94.6,529.6h.9v.9h-.9zM95.1,528.6h.9v.9h-.9zM94.1,528.4h.9v.9h-.9zM95.2,526.5h.9v.9h-.9zM94.6,528.3h.9v.9h-.9zM94.8,528.6h.9v.9h-.9zM93.2,527.1h.9v.9h-.9zM92.1,528.2h.9v.9h-.9zM93.9,528.0h.9v.9h-.9zM94.7,529.2h.9v.9h-.9zM93.2,528.5h.9v.9h-.9zM93.7,528.7h.9v.9h-.9zM93.0,528.4h.9v.9h-.9zM93.3,527.2h.9v.9h-.9zM94.6,528.4h.9v.9h-.9zM94.2,527.5h.9v.9h-.9zM92.5,527.7h.9v.9h-.9zM94.1,528.5h.9v.9h-.9zM96.1,528.1h.9v.9h-.9zM94.1,528.1h.9v.9h-.9zM94.2,528.7h.9v.9h-.9zM93.5,529.4h.9v.9h-.9zM93.6,529.2h.9v.9h-.9zM92.7,527.5h.9v.9h-.9zM93.5,527.9h.9v.9h-.9zM93.2,527.6h.9v.9h-.9zM93.5,527.8h.9v.9h-.9zM94.1,526.7h.9v.9h-.9zM95.2,528.6h.9v.9h-.9zM92.7,526.8h.9v.9h-.9zM93.6,528.0h.9v.9h-.9z" fill="#e08020" fill-opacity="0.95"/>
<rect x="49.50" y="508.90" width="65.30" height="65.40" fill="none" stroke="#9a9a9a" stroke-width="0.8"/>
<line x1="49.50" y1="510.90" x2="50.60" y2="510.90" stroke="#999" stroke-width="0.5"/>
<line x1="49.50" y1="515.70" x2="50.60" y2="515.70" stroke="#999" stroke-width="0.5"/>
<line x1="49.50" y1="520.50" x2="50.60" y2="520.50" stroke="#999" stroke-width="0.5"/>
<line x1="49.50" y1="525.30" x2="50.60" y2="525.30" stroke="#999" stroke-width="0.5"/>
<line x1="49.50" y1="530.10" x2="50.60" y2="530.10" stroke="#999" stroke-width="0.5"/>
<line x1="49.50" y1="534.90" x2="50.60" y2="534.90" stroke="#999" stroke-width="0.5"/>
<line x1="49.50" y1="539.70" x2="50.60" y2="539.70" stroke="#999" stroke-width="0.5"/>
<line x1="49.50" y1="544.50" x2="50.60" y2="544.50" stroke="#999" stroke-width="0.5"/>
<line x1="49.50" y1="549.30" x2="50.60" y2="549.30" stroke="#999" stroke-width="0.5"/>
<line x1="49.50" y1="554.10" x2="50.60" y2="554.10" stroke="#999" stroke-width="0.5"/>
<line x1="49.50" y1="558.90" x2="50.60" y2="558.90" stroke="#999" stroke-width="0.5"/>
<line x1="49.50" y1="563.70" x2="50.60" y2="563.70" stroke="#999" stroke-width="0.5"/>
<line x1="49.50" y1="568.50" x2="50.60" y2="568.50" stroke="#999" stroke-width="0.5"/>
<line x1="49.50" y1="573.30" x2="50.60" y2="573.30" stroke="#999" stroke-width="0.5"/>
<line x1="51.50" y1="574.30" x2="51.50" y2="573.20" stroke="#999" stroke-width="0.5"/>
<line x1="56.29" y1="574.30" x2="56.29" y2="573.20" stroke="#999" stroke-width="0.5"/>
<line x1="61.08" y1="574.30" x2="61.08" y2="573.20" stroke="#999" stroke-width="0.5"/>
<line x1="65.88" y1="574.30" x2="65.88" y2="573.20" stroke="#999" stroke-width="0.5"/>
<line x1="70.67" y1="574.30" x2="70.67" y2="573.20" stroke="#999" stroke-width="0.5"/>
<line x1="75.46" y1="574.30" x2="75.46" y2="573.20" stroke="#999" stroke-width="0.5"/>
<line x1="80.25" y1="574.30" x2="80.25" y2="573.20" stroke="#999" stroke-width="0.5"/>
<line x1="85.05" y1="574.30" x2="85.05" y2="573.20" stroke="#999" stroke-width="0.5"/>
<line x1="89.84" y1="574.30" x2="89.84" y2="573.20" stroke="#999" stroke-width="0.5"/>
<line x1="94.63" y1="574.30" x2="94.63" y2="573.20" stroke="#999" stroke-width="0.5"/>
<line x1="99.42" y1="574.30" x2="99.42" y2="573.20" stroke="#999" stroke-width="0.5"/>
<line x1="104.22" y1="574.30" x2="104.22" y2="573.20" stroke="#999" stroke-width="0.5"/>
<line x1="109.01" y1="574.30" x2="109.01" y2="573.20" stroke="#999" stroke-width="0.5"/>
<line x1="113.80" y1="574.30" x2="113.80" y2="573.20" stroke="#999" stroke-width="0.5"/>
<polygon points="82.3,510.5 104.4,510.5 103.5,548.2 75.1,548.2" fill="none" stroke="#e08a8a" stroke-width="0.9"/>
<text x="93.60" y="562.50" font-size="6.8" text-anchor="middle" fill="#222" stroke="#222" stroke-width="0.22" >90.99%</text>
<path d="M175.5,519.9h.8v.8h-.8zM162.7,536.8h.8v.8h-.8zM160.5,521.6h.8v.8h-.8zM159.3,526.4h.8v.8h-.8zM169.6,534.5h.8v.8h-.8zM172.6,532.8h.8v.8h-.8zM156.7,524.6h.8v.8h-.8zM181.5,524.4h.8v.8h-.8zM168.1,525.7h.8v.8h-.8zM150.2,537.0h.8v.8h-.8zM168.9,526.0h.8v.8h-.8zM169.0,528.3h.8v.8h-.8zM175.6,533.2h.8v.8h-.8zM157.6,523.8h.8v.8h-.8zM174.4,531.5h.8v.8h-.8zM178.3,525.5h.8v.8h-.8zM161.5,540.6h.8v.8h-.8zM172.5,534.8h.8v.8h-.8zM180.3,542.9h.8v.8h-.8zM176.2,527.8h.8v.8h-.8zM177.4,528.3h.8v.8h-.8zM185.7,521.4h.8v.8h-.8zM175.1,531.5h.8v.8h-.8zM166.7,528.9h.8v.8h-.8zM193.0,529.8h.8v.8h-.8zM169.1,529.4h.8v.8h-.8zM167.7,536.9h.8v.8h-.8zM171.3,530.9h.8v.8h-.8zM169.6,529.9h.8v.8h-.8zM177.8,530.6h.8v.8h-.8zM179.6,533.9h.8v.8h-.8zM158.4,529.5h.8v.8h-.8zM157.6,523.6h.8v.8h-.8zM167.4,526.6h.8v.8h-.8zM173.7,528.8h.8v.8h-.8zM177.3,531.9h.8v.8h-.8zM177.5,524.0h.8v.8h-.8zM163.4,517.9h.8v.8h-.8zM182.7,526.7h.8v.8h-.8zM172.8,519.2h.8v.8h-.8zM169.3,525.0h.8v.8h-.8zM179.7,533.4h.8v.8h-.8zM182.0,519.7h.8v.8h-.8zM178.7,527.7h.8v.8h-.8zM186.0,534.5h.8v.8h-.8zM163.2,534.7h.8v.8h-.8zM174.2,525.6h.8v.8h-.8zM169.7,518.1h.8v.8h-.8zM176.5,531.8h.8v.8h-.8zM182.3,526.7h.8v.8h-.8zM180.3,529.8h.8v.8h-.8zM167.6,526.0h.8v.8h-.8zM167.7,528.9h.8v.8h-.8zM170.5,532.2h.8v.8h-.8zM176.0,522.5h.8v.8h-.8zM167.5,520.6h.8v.8h-.8zM158.5,525.7h.8v.8h-.8zM177.8,527.0h.8v.8h-.8zM179.8,532.0h.8v.8h-.8zM165.2,523.7h.8v.8h-.8zM179.6,524.8h.8v.8h-.8zM165.5,528.6h.8v.8h-.8zM183.3,528.2h.8v.8h-.8zM177.7,528.8h.8v.8h-.8zM161.4,536.0h.8v.8h-.8zM170.7,527.6h.8v.8h-.8zM162.2,539.6h.8v.8h-.8zM174.0,531.4h.8v.8h-.8zM175.5,526.2h.8v.8h-.8zM177.7,534.1h.8v.8h-.8zM168.4,515.2h.8v.8h-.8zM180.3,528.8h.8v.8h-.8zM176.1,519.8h.8v.8h-.8zM166.0,539.5h.8v.8h-.8zM180.5,524.3h.8v.8h-.8zM181.6,524.3h.8v.8h-.8zM164.4,523.7h.8v.8h-.8zM183.7,543.9h.8v.8h-.8zM171.8,520.9h.8v.8h-.8zM169.9,518.9h.8v.8h-.8z" fill="#6a6aff" fill-opacity="0.55"/>
<path d="M179.0,532.5h.85v.85h-.85zM170.1,527.0h.85v.85h-.85zM170.6,532.0h.85v.85h-.85zM165.2,526.6h.85v.85h-.85zM170.2,529.0h.85v.85h-.85zM172.3,533.0h.85v.85h-.85zM169.5,532.2h.85v.85h-.85zM168.2,528.2h.85v.85h-.85zM173.9,530.6h.85v.85h-.85zM171.2,531.9h.85v.85h-.85zM177.1,528.8h.85v.85h-.85zM171.8,531.1h.85v.85h-.85zM170.3,528.5h.85v.85h-.85zM169.6,529.4h.85v.85h-.85zM169.2,528.7h.85v.85h-.85zM173.6,527.0h.85v.85h-.85zM173.8,530.6h.85v.85h-.85zM173.2,530.7h.85v.85h-.85zM171.2,532.1h.85v.85h-.85zM165.9,526.1h.85v.85h-.85zM167.3,528.8h.85v.85h-.85zM168.7,533.5h.85v.85h-.85zM169.5,532.7h.85v.85h-.85zM163.7,526.7h.85v.85h-.85zM172.6,531.0h.85v.85h-.85zM169.8,531.6h.85v.85h-.85zM181.4,529.1h.85v.85h-.85zM169.4,532.8h.85v.85h-.85zM171.8,526.9h.85v.85h-.85zM167.4,530.3h.85v.85h-.85zM162.9,532.4h.85v.85h-.85zM168.8,531.7h.85v.85h-.85zM173.7,529.4h.85v.85h-.85zM172.6,524.4h.85v.85h-.85zM166.4,524.6h.85v.85h-.85zM166.9,534.5h.85v.85h-.85zM168.7,532.3h.85v.85h-.85zM163.3,530.8h.85v.85h-.85zM171.1,531.1h.85v.85h-.85zM171.1,531.1h.85v.85h-.85zM172.7,527.8h.85v.85h-.85zM166.0,530.6h.85v.85h-.85zM169.6,527.5h.85v.85h-.85zM165.4,530.7h.85v.85h-.85zM176.6,530.0h.85v.85h-.85zM173.9,525.3h.85v.85h-.85zM177.1,532.0h.85v.85h-.85zM172.6,529.5h.85v.85h-.85zM167.3,529.7h.85v.85h-.85zM167.3,529.1h.85v.85h-.85zM169.7,530.1h.85v.85h-.85zM168.0,530.3h.85v.85h-.85zM168.4,530.6h.85v.85h-.85zM163.1,527.9h.85v.85h-.85zM166.1,530.9h.85v.85h-.85zM173.1,531.0h.85v.85h-.85zM175.3,529.4h.85v.85h-.85zM172.1,531.4h.85v.85h-.85zM171.7,530.8h.85v.85h-.85zM167.1,529.6h.85v.85h-.85zM164.7,533.0h.85v.85h-.85zM174.6,530.1h.85v.85h-.85zM167.8,529.1h.85v.85h-.85zM175.9,529.2h.85v.85h-.85zM167.5,526.6h.85v.85h-.85zM171.8,530.5h.85v.85h-.85zM174.3,528.2h.85v.85h-.85zM166.8,533.4h.85v.85h-.85zM173.3,530.7h.85v.85h-.85zM179.3,535.3h.85v.85h-.85zM169.3,533.2h.85v.85h-.85zM167.5,526.6h.85v.85h-.85zM169.7,533.5h.85v.85h-.85zM170.0,531.8h.85v.85h-.85zM173.0,525.9h.85v.85h-.85zM170.4,528.3h.85v.85h-.85zM175.6,531.8h.85v.85h-.85zM168.5,529.5h.85v.85h-.85zM170.2,534.8h.85v.85h-.85zM173.6,528.0h.85v.85h-.85zM170.5,526.0h.85v.85h-.85zM169.0,532.6h.85v.85h-.85zM169.8,535.1h.85v.85h-.85zM168.5,530.7h.85v.85h-.85zM171.6,530.2h.85v.85h-.85zM166.0,532.4h.85v.85h-.85zM173.9,532.9h.85v.85h-.85zM178.2,534.0h.85v.85h-.85zM175.1,529.8h.85v.85h-.85zM174.2,526.4h.85v.85h-.85zM165.6,532.7h.85v.85h-.85zM169.8,527.9h.85v.85h-.85zM169.1,530.0h.85v.85h-.85zM173.4,527.0h.85v.85h-.85zM166.3,530.7h.85v.85h-.85zM166.7,531.3h.85v.85h-.85zM172.0,529.5h.85v.85h-.85zM170.8,528.0h.85v.85h-.85zM173.2,528.9h.85v.85h-.85zM167.6,531.5h.85v.85h-.85zM168.0,531.9h.85v.85h-.85zM169.8,535.9h.85v.85h-.85zM172.0,526.5h.85v.85h-.85zM174.9,530.0h.85v.85h-.85zM178.7,527.2h.85v.85h-.85zM166.0,532.4h.85v.85h-.85zM171.3,527.3h.85v.85h-.85zM170.3,530.7h.85v.85h-.85zM172.4,530.3h.85v.85h-.85zM169.2,530.5h.85v.85h-.85zM172.5,527.2h.85v.85h-.85zM173.5,530.1h.85v.85h-.85zM175.4,531.2h.85v.85h-.85zM169.8,535.2h.85v.85h-.85zM172.5,528.6h.85v.85h-.85zM171.1,531.7h.85v.85h-.85zM170.2,528.9h.85v.85h-.85zM168.9,528.1h.85v.85h-.85zM169.3,532.3h.85v.85h-.85zM168.2,529.8h.85v.85h-.85zM172.5,529.2h.85v.85h-.85zM169.4,530.6h.85v.85h-.85zM173.8,531.9h.85v.85h-.85zM168.9,529.9h.85v.85h-.85zM167.6,531.7h.85v.85h-.85zM167.5,527.3h.85v.85h-.85zM175.0,530.0h.85v.85h-.85zM166.5,530.8h.85v.85h-.85zM170.5,528.3h.85v.85h-.85zM159.7,529.8h.85v.85h-.85zM171.3,533.5h.85v.85h-.85zM171.4,525.3h.85v.85h-.85zM174.8,529.0h.85v.85h-.85zM169.1,532.4h.85v.85h-.85zM169.8,526.4h.85v.85h-.85zM168.3,528.0h.85v.85h-.85zM168.6,532.8h.85v.85h-.85zM163.1,530.0h.85v.85h-.85zM174.3,532.4h.85v.85h-.85zM173.5,531.2h.85v.85h-.85zM173.9,529.5h.85v.85h-.85zM172.0,532.9h.85v.85h-.85zM173.8,532.7h.85v.85h-.85zM170.6,531.9h.85v.85h-.85zM165.6,525.9h.85v.85h-.85zM173.3,534.7h.85v.85h-.85zM169.4,533.2h.85v.85h-.85zM169.6,528.8h.85v.85h-.85zM170.6,534.3h.85v.85h-.85zM179.1,529.0h.85v.85h-.85zM172.3,527.9h.85v.85h-.85zM170.5,523.1h.85v.85h-.85zM170.1,533.0h.85v.85h-.85zM170.7,527.9h.85v.85h-.85zM170.1,528.7h.85v.85h-.85zM178.9,528.7h.85v.85h-.85zM174.6,526.9h.85v.85h-.85zM171.9,527.7h.85v.85h-.85zM174.4,532.5h.85v.85h-.85zM165.3,535.0h.85v.85h-.85zM170.4,532.5h.85v.85h-.85zM166.9,531.9h.85v.85h-.85zM170.1,528.1h.85v.85h-.85zM167.3,528.8h.85v.85h-.85zM173.3,526.1h.85v.85h-.85zM173.4,533.1h.85v.85h-.85zM167.2,527.0h.85v.85h-.85zM170.3,529.5h.85v.85h-.85zM171.1,529.9h.85v.85h-.85zM172.2,528.4h.85v.85h-.85zM172.0,530.5h.85v.85h-.85zM170.8,528.2h.85v.85h-.85zM165.3,535.9h.85v.85h-.85zM171.5,527.9h.85v.85h-.85zM167.0,530.5h.85v.85h-.85zM172.0,529.3h.85v.85h-.85zM179.9,532.7h.85v.85h-.85zM171.6,527.3h.85v.85h-.85zM171.4,527.5h.85v.85h-.85zM164.5,529.3h.85v.85h-.85zM168.8,529.1h.85v.85h-.85zM176.0,526.9h.85v.85h-.85zM165.9,532.0h.85v.85h-.85zM168.5,534.0h.85v.85h-.85zM166.5,531.1h.85v.85h-.85zM171.2,531.0h.85v.85h-.85zM166.6,526.7h.85v.85h-.85zM170.1,537.8h.85v.85h-.85zM171.8,534.0h.85v.85h-.85zM168.0,527.0h.85v.85h-.85zM169.5,531.1h.85v.85h-.85zM170.9,528.6h.85v.85h-.85zM169.8,531.3h.85v.85h-.85zM167.6,529.8h.85v.85h-.85zM170.6,529.7h.85v.85h-.85zM165.5,530.2h.85v.85h-.85zM168.4,528.0h.85v.85h-.85zM169.2,528.4h.85v.85h-.85zM170.5,527.3h.85v.85h-.85zM171.6,528.4h.85v.85h-.85zM172.2,533.5h.85v.85h-.85zM169.8,529.0h.85v.85h-.85zM161.9,531.8h.85v.85h-.85zM170.5,529.6h.85v.85h-.85zM172.5,530.5h.85v.85h-.85zM168.6,530.1h.85v.85h-.85zM176.9,533.1h.85v.85h-.85zM167.9,529.5h.85v.85h-.85zM171.3,527.7h.85v.85h-.85zM169.6,532.1h.85v.85h-.85z" fill="#5858ff" fill-opacity="0.6"/>
<path d="M176.1,531.9h.9v.9h-.9zM171.2,529.9h.9v.9h-.9zM170.4,531.0h.9v.9h-.9zM173.1,528.4h.9v.9h-.9zM170.6,530.8h.9v.9h-.9zM172.1,530.2h.9v.9h-.9zM173.2,530.8h.9v.9h-.9zM166.8,530.0h.9v.9h-.9zM170.8,529.2h.9v.9h-.9zM170.0,529.3h.9v.9h-.9zM170.9,530.2h.9v.9h-.9zM172.1,531.4h.9v.9h-.9zM171.0,527.6h.9v.9h-.9zM171.0,529.6h.9v.9h-.9zM168.3,529.8h.9v.9h-.9zM169.7,530.0h.9v.9h-.9zM169.3,529.9h.9v.9h-.9zM170.2,529.6h.9v.9h-.9zM166.8,528.8h.9v.9h-.9zM169.2,529.6h.9v.9h-.9zM169.5,529.5h.9v.9h-.9zM169.2,530.7h.9v.9h-.9zM172.3,531.6h.9v.9h-.9zM172.6,528.9h.9v.9h-.9zM170.0,530.0h.9v.9h-.9zM172.4,530.5h.9v.9h-.9zM173.8,527.6h.9v.9h-.9zM167.9,532.2h.9v.9h-.9zM172.9,529.4h.9v.9h-.9zM174.3,529.8h.9v.9h-.9zM171.1,530.5h.9v.9h-.9zM170.3,530.8h.9v.9h-.9zM172.0,530.7h.9v.9h-.9zM171.0,529.5h.9v.9h-.9zM172.7,531.0h.9v.9h-.9zM167.9,532.1h.9v.9h-.9zM171.8,529.1h.9v.9h-.9zM169.5,530.3h.9v.9h-.9zM167.6,531.4h.9v.9h-.9zM170.3,528.8h.9v.9h-.9zM167.2,531.5h.9v.9h-.9zM169.1,530.8h.9v.9h-.9zM173.4,531.7h.9v.9h-.9zM170.3,528.9h.9v.9h-.9zM168.9,528.6h.9v.9h-.9zM168.8,530.1h.9v.9h-.9zM172.2,531.4h.9v.9h-.9zM172.2,528.6h.9v.9h-.9zM170.9,529.2h.9v.9h-.9zM169.9,530.2h.9v.9h-.9z" fill="#4040f0" fill-opacity="0.6"/>
<path d="M187.0,523.8h.8v.8h-.8zM188.1,518.4h.8v.8h-.8zM192.4,526.2h.8v.8h-.8zM186.2,519.6h.8v.8h-.8zM178.8,532.5h.8v.8h-.8zM181.7,528.5h.8v.8h-.8zM186.0,515.9h.8v.8h-.8zM185.8,525.4h.8v.8h-.8zM188.5,520.3h.8v.8h-.8zM196.6,517.7h.8v.8h-.8zM188.0,522.9h.8v.8h-.8zM176.3,524.8h.8v.8h-.8zM195.1,527.6h.8v.8h-.8zM191.6,523.9h.8v.8h-.8zM185.3,519.7h.8v.8h-.8zM187.4,514.7h.8v.8h-.8zM192.7,524.7h.8v.8h-.8zM195.2,516.9h.8v.8h-.8zM178.6,514.2h.8v.8h-.8zM183.6,525.0h.8v.8h-.8zM184.2,528.4h.8v.8h-.8zM189.8,538.3h.8v.8h-.8zM185.8,514.4h.8v.8h-.8zM193.3,524.4h.8v.8h-.8zM190.5,521.2h.8v.8h-.8zM189.1,523.5h.8v.8h-.8zM185.9,525.4h.8v.8h-.8zM184.7,512.5h.8v.8h-.8zM189.3,531.0h.8v.8h-.8zM185.7,526.5h.8v.8h-.8zM178.1,522.2h.8v.8h-.8zM192.2,522.6h.8v.8h-.8zM193.1,518.5h.8v.8h-.8zM180.8,524.8h.8v.8h-.8zM183.8,518.4h.8v.8h-.8zM187.7,521.4h.8v.8h-.8zM180.3,515.5h.8v.8h-.8zM186.4,523.9h.8v.8h-.8zM185.7,524.1h.8v.8h-.8zM188.6,523.5h.8v.8h-.8zM186.7,527.7h.8v.8h-.8zM190.9,520.7h.8v.8h-.8zM187.3,521.7h.8v.8h-.8zM191.7,529.0h.8v.8h-.8zM191.8,517.6h.8v.8h-.8zM197.2,521.4h.8v.8h-.8zM188.4,516.5h.8v.8h-.8zM189.2,513.2h.8v.8h-.8zM188.3,525.9h.8v.8h-.8zM191.8,524.6h.8v.8h-.8zM182.4,525.8h.8v.8h-.8zM190.4,518.7h.8v.8h-.8zM191.1,517.7h.8v.8h-.8z" fill="#7070ff" fill-opacity="0.55"/>
<path d="M182.8,534.9h.8v.8h-.8zM177.8,541.2h.8v.8h-.8zM186.1,538.6h.8v.8h-.8zM181.0,537.1h.8v.8h-.8zM171.2,528.6h.8v.8h-.8zM186.9,534.7h.8v.8h-.8zM173.1,531.7h.8v.8h-.8zM178.3,542.0h.8v.8h-.8zM175.5,536.8h.8v.8h-.8zM169.1,534.0h.8v.8h-.8zM178.6,540.6h.8v.8h-.8zM164.7,531.0h.8v.8h-.8zM169.9,537.4h.8v.8h-.8zM177.9,533.5h.8v.8h-.8zM178.0,534.2h.8v.8h-.8zM169.0,538.0h.8v.8h-.8zM187.5,533.0h.8v.8h-.8zM169.4,539.9h.8v.8h-.8zM172.0,534.7h.8v.8h-.8zM176.9,535.0h.8v.8h-.8zM172.1,531.8h.8v.8h-.8zM174.1,539.4h.8v.8h-.8zM172.5,535.1h.8v.8h-.8zM179.4,541.6h.8v.8h-.8zM173.9,533.3h.8v.8h-.8z" fill="#7070ff" fill-opacity="0.5"/>
<rect x="148.10" y="509.40" width="64.40" height="64.90" fill="none" stroke="#9a9a9a" stroke-width="0.8"/>
<line x1="148.10" y1="511.40" x2="149.20" y2="511.40" stroke="#999" stroke-width="0.5"/>
<line x1="148.10" y1="516.16" x2="149.20" y2="516.16" stroke="#999" stroke-width="0.5"/>
<line x1="148.10" y1="520.92" x2="149.20" y2="520.92" stroke="#999" stroke-width="0.5"/>
<line x1="148.10" y1="525.68" x2="149.20" y2="525.68" stroke="#999" stroke-width="0.5"/>
<line x1="148.10" y1="530.45" x2="149.20" y2="530.45" stroke="#999" stroke-width="0.5"/>
<line x1="148.10" y1="535.21" x2="149.20" y2="535.21" stroke="#999" stroke-width="0.5"/>
<line x1="148.10" y1="539.97" x2="149.20" y2="539.97" stroke="#999" stroke-width="0.5"/>
<line x1="148.10" y1="544.73" x2="149.20" y2="544.73" stroke="#999" stroke-width="0.5"/>
<line x1="148.10" y1="549.49" x2="149.20" y2="549.49" stroke="#999" stroke-width="0.5"/>
<line x1="148.10" y1="554.25" x2="149.20" y2="554.25" stroke="#999" stroke-width="0.5"/>
<line x1="148.10" y1="559.02" x2="149.20" y2="559.02" stroke="#999" stroke-width="0.5"/>
<line x1="148.10" y1="563.78" x2="149.20" y2="563.78" stroke="#999" stroke-width="0.5"/>
<line x1="148.10" y1="568.54" x2="149.20" y2="568.54" stroke="#999" stroke-width="0.5"/>
<line x1="148.10" y1="573.30" x2="149.20" y2="573.30" stroke="#999" stroke-width="0.5"/>
<line x1="150.10" y1="574.30" x2="150.10" y2="573.20" stroke="#999" stroke-width="0.5"/>
<line x1="154.82" y1="574.30" x2="154.82" y2="573.20" stroke="#999" stroke-width="0.5"/>
<line x1="159.55" y1="574.30" x2="159.55" y2="573.20" stroke="#999" stroke-width="0.5"/>
<line x1="164.27" y1="574.30" x2="164.27" y2="573.20" stroke="#999" stroke-width="0.5"/>
<line x1="168.99" y1="574.30" x2="168.99" y2="573.20" stroke="#999" stroke-width="0.5"/>
<line x1="173.72" y1="574.30" x2="173.72" y2="573.20" stroke="#999" stroke-width="0.5"/>
<line x1="178.44" y1="574.30" x2="178.44" y2="573.20" stroke="#999" stroke-width="0.5"/>
<line x1="183.16" y1="574.30" x2="183.16" y2="573.20" stroke="#999" stroke-width="0.5"/>
<line x1="187.88" y1="574.30" x2="187.88" y2="573.20" stroke="#999" stroke-width="0.5"/>
<line x1="192.61" y1="574.30" x2="192.61" y2="573.20" stroke="#999" stroke-width="0.5"/>
<line x1="197.33" y1="574.30" x2="197.33" y2="573.20" stroke="#999" stroke-width="0.5"/>
<line x1="202.05" y1="574.30" x2="202.05" y2="573.20" stroke="#999" stroke-width="0.5"/>
<line x1="206.78" y1="574.30" x2="206.78" y2="573.20" stroke="#999" stroke-width="0.5"/>
<line x1="211.50" y1="574.30" x2="211.50" y2="573.20" stroke="#999" stroke-width="0.5"/>
<polygon points="179.9,511.2 201.8,511.2 201.8,548.6 173.0,548.6" fill="none" stroke="#e08a8a" stroke-width="0.9"/>
<text x="189.10" y="562.50" font-size="6.8" text-anchor="middle" fill="#222" stroke="#222" stroke-width="0.22" >28.99%</text>
</svg>
</body></html>
